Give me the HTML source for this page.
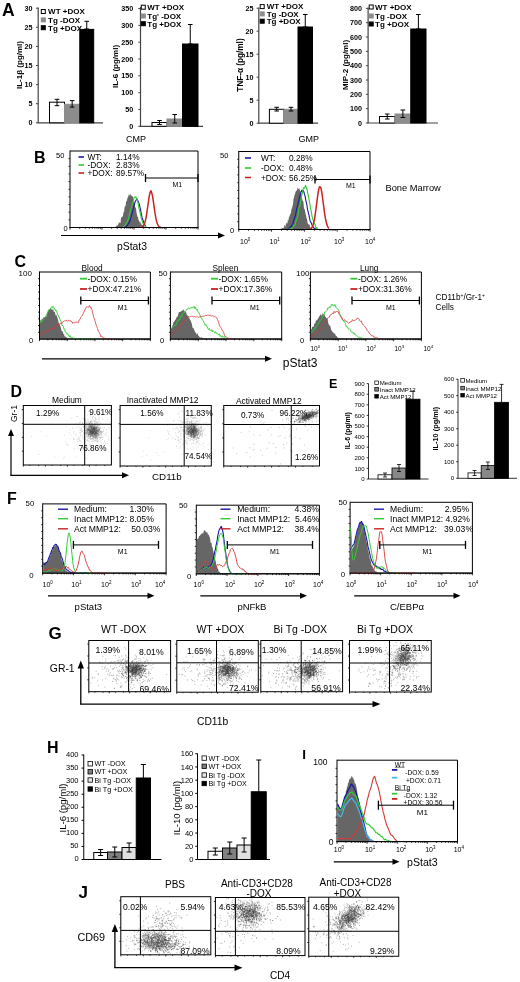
<!DOCTYPE html>
<html><head><meta charset="utf-8"><style>
html,body{margin:0;padding:0;background:#fff;width:520px;height:982px;overflow:hidden}
svg{display:block;font-family:"Liberation Sans", sans-serif;filter:blur(0.3px)}
</style></head><body>
<svg width="520" height="982" viewBox="0 0 520 982">
<text x="2" y="15.5" font-size="17.5" font-weight="bold">A</text>
<line x1="38.2" y1="122.8" x2="38.2" y2="7.5" stroke="#444" stroke-width="1.2"/>
<line x1="37.6" y1="122.8" x2="103" y2="122.8" stroke="#444" stroke-width="1.2"/>
<line x1="36" y1="122.8" x2="38.2" y2="122.8" stroke="#444" stroke-width="1"/>
<text x="32.6" y="125.39" font-size="7.2" text-anchor="end" font-weight="bold">0</text>
<line x1="36" y1="103.7" x2="38.2" y2="103.7" stroke="#444" stroke-width="1"/>
<text x="32.6" y="106.29" font-size="7.2" text-anchor="end" font-weight="bold">5</text>
<line x1="36" y1="84.6" x2="38.2" y2="84.6" stroke="#444" stroke-width="1"/>
<text x="32.6" y="87.19" font-size="7.2" text-anchor="end" font-weight="bold">10</text>
<line x1="36" y1="65.5" x2="38.2" y2="65.5" stroke="#444" stroke-width="1"/>
<text x="32.6" y="68.09" font-size="7.2" text-anchor="end" font-weight="bold">15</text>
<line x1="36" y1="46.4" x2="38.2" y2="46.4" stroke="#444" stroke-width="1"/>
<text x="32.6" y="48.99" font-size="7.2" text-anchor="end" font-weight="bold">20</text>
<line x1="36" y1="27.3" x2="38.2" y2="27.3" stroke="#444" stroke-width="1"/>
<text x="32.6" y="29.89" font-size="7.2" text-anchor="end" font-weight="bold">25</text>
<line x1="36" y1="8.2" x2="38.2" y2="8.2" stroke="#444" stroke-width="1"/>
<text x="32.6" y="10.79" font-size="7.2" text-anchor="end" font-weight="bold">30</text>
<rect x="49.5" y="102.2" width="15" height="20.6" fill="#fff" stroke="#000" stroke-width="1"/>
<line x1="57" y1="105.7" x2="57" y2="99.3" stroke="#000" stroke-width="1"/>
<line x1="54.7" y1="99.3" x2="59.3" y2="99.3" stroke="#000" stroke-width="1"/>
<line x1="54.7" y1="105.7" x2="59.3" y2="105.7" stroke="#000" stroke-width="1"/>
<rect x="64.5" y="104.3" width="15.3" height="18.5" fill="#8c8c8c" stroke="#8c8c8c" stroke-width="1"/>
<line x1="72.15" y1="107.1" x2="72.15" y2="100.6" stroke="#000" stroke-width="1"/>
<line x1="69.85" y1="100.6" x2="74.45" y2="100.6" stroke="#000" stroke-width="1"/>
<line x1="69.85" y1="107.1" x2="74.45" y2="107.1" stroke="#000" stroke-width="1"/>
<rect x="79.8" y="29.4" width="13.9" height="93.4" fill="#000" stroke="#000" stroke-width="1"/>
<line x1="86.75" y1="29" x2="86.75" y2="21.3" stroke="#000" stroke-width="1"/>
<line x1="84.45" y1="21.3" x2="89.05" y2="21.3" stroke="#000" stroke-width="1"/>
<line x1="84.45" y1="29" x2="89.05" y2="29" stroke="#000" stroke-width="1"/>
<rect x="41.3" y="9.5" width="4" height="4" fill="#fff" stroke="#000" stroke-width="1"/>
<text x="48.1" y="14.38" font-size="8" font-weight="bold">WT +DOX</text>
<rect x="41.3" y="17.9" width="4" height="4" fill="#8c8c8c" stroke="#8c8c8c" stroke-width="1"/>
<text x="48.1" y="22.78" font-size="8" font-weight="bold">Tg -DOX</text>
<rect x="41.3" y="25.7" width="4" height="4" fill="#000" stroke="#000" stroke-width="1"/>
<text x="48.1" y="30.58" font-size="8" font-weight="bold">Tg +DOX</text>
<text x="22" y="65" font-size="8" text-anchor="middle" font-weight="bold" transform="rotate(-90 22 65)">IL-1&#946;  (pg/ml)</text>
<line x1="140.5" y1="126.3" x2="140.5" y2="7" stroke="#444" stroke-width="1.2"/>
<line x1="139.9" y1="126.3" x2="203" y2="126.3" stroke="#444" stroke-width="1.2"/>
<line x1="138.3" y1="126.3" x2="140.5" y2="126.3" stroke="#444" stroke-width="1"/>
<text x="133.3" y="128.89" font-size="7.2" text-anchor="end" font-weight="bold">0</text>
<line x1="138.3" y1="109.48" x2="140.5" y2="109.48" stroke="#444" stroke-width="1"/>
<text x="133.3" y="112.07" font-size="7.2" text-anchor="end" font-weight="bold">50</text>
<line x1="138.3" y1="92.66" x2="140.5" y2="92.66" stroke="#444" stroke-width="1"/>
<text x="133.3" y="95.25" font-size="7.2" text-anchor="end" font-weight="bold">100</text>
<line x1="138.3" y1="75.84" x2="140.5" y2="75.84" stroke="#444" stroke-width="1"/>
<text x="133.3" y="78.43" font-size="7.2" text-anchor="end" font-weight="bold">150</text>
<line x1="138.3" y1="59.02" x2="140.5" y2="59.02" stroke="#444" stroke-width="1"/>
<text x="133.3" y="61.61" font-size="7.2" text-anchor="end" font-weight="bold">200</text>
<line x1="138.3" y1="42.2" x2="140.5" y2="42.2" stroke="#444" stroke-width="1"/>
<text x="133.3" y="44.79" font-size="7.2" text-anchor="end" font-weight="bold">250</text>
<line x1="138.3" y1="25.38" x2="140.5" y2="25.38" stroke="#444" stroke-width="1"/>
<text x="133.3" y="27.97" font-size="7.2" text-anchor="end" font-weight="bold">300</text>
<line x1="138.3" y1="8.56" x2="140.5" y2="8.56" stroke="#444" stroke-width="1"/>
<text x="133.3" y="11.15" font-size="7.2" text-anchor="end" font-weight="bold">350</text>
<rect x="152" y="122.5" width="15" height="3.8" fill="#fff" stroke="#000" stroke-width="1"/>
<line x1="159.5" y1="124.5" x2="159.5" y2="120.5" stroke="#000" stroke-width="1"/>
<line x1="157.2" y1="120.5" x2="161.8" y2="120.5" stroke="#000" stroke-width="1"/>
<line x1="157.2" y1="124.5" x2="161.8" y2="124.5" stroke="#000" stroke-width="1"/>
<rect x="167" y="119" width="15.5" height="7.3" fill="#8c8c8c" stroke="#8c8c8c" stroke-width="1"/>
<line x1="174.75" y1="123" x2="174.75" y2="114.5" stroke="#000" stroke-width="1"/>
<line x1="172.45" y1="114.5" x2="177.05" y2="114.5" stroke="#000" stroke-width="1"/>
<line x1="172.45" y1="123" x2="177.05" y2="123" stroke="#000" stroke-width="1"/>
<rect x="182.5" y="44" width="15.5" height="82.3" fill="#000" stroke="#000" stroke-width="1"/>
<line x1="190.25" y1="44" x2="190.25" y2="24.5" stroke="#000" stroke-width="1"/>
<line x1="187.95" y1="24.5" x2="192.55" y2="24.5" stroke="#000" stroke-width="1"/>
<line x1="187.95" y1="44" x2="192.55" y2="44" stroke="#000" stroke-width="1"/>
<rect x="141.3" y="5.2" width="4" height="4" fill="#fff" stroke="#000" stroke-width="1"/>
<text x="147.3" y="10.08" font-size="8" font-weight="bold">WT +DOX</text>
<rect x="141.3" y="14" width="4" height="4" fill="#8c8c8c" stroke="#8c8c8c" stroke-width="1"/>
<text x="147.3" y="18.88" font-size="8" font-weight="bold">Tg' -DOX</text>
<rect x="141.3" y="21.7" width="4" height="4" fill="#000" stroke="#000" stroke-width="1"/>
<text x="147.3" y="26.58" font-size="8" font-weight="bold">Tg +DOX</text>
<text x="118.3" y="66.5" font-size="8" text-anchor="middle" font-weight="bold" transform="rotate(-90 118.3 66.5)">IL-6 (pg/ml)</text>
<line x1="258.8" y1="123.2" x2="258.8" y2="7.5" stroke="#444" stroke-width="1.2"/>
<line x1="258.2" y1="123.2" x2="318" y2="123.2" stroke="#444" stroke-width="1.2"/>
<line x1="256.6" y1="123.2" x2="258.8" y2="123.2" stroke="#444" stroke-width="1"/>
<text x="253.5" y="125.79" font-size="7.2" text-anchor="end" font-weight="bold">0</text>
<line x1="256.6" y1="100.2" x2="258.8" y2="100.2" stroke="#444" stroke-width="1"/>
<text x="253.5" y="102.79" font-size="7.2" text-anchor="end" font-weight="bold">5</text>
<line x1="256.6" y1="77.2" x2="258.8" y2="77.2" stroke="#444" stroke-width="1"/>
<text x="253.5" y="79.79" font-size="7.2" text-anchor="end" font-weight="bold">10</text>
<line x1="256.6" y1="54.2" x2="258.8" y2="54.2" stroke="#444" stroke-width="1"/>
<text x="253.5" y="56.79" font-size="7.2" text-anchor="end" font-weight="bold">15</text>
<line x1="256.6" y1="31.2" x2="258.8" y2="31.2" stroke="#444" stroke-width="1"/>
<text x="253.5" y="33.79" font-size="7.2" text-anchor="end" font-weight="bold">20</text>
<line x1="256.6" y1="8.2" x2="258.8" y2="8.2" stroke="#444" stroke-width="1"/>
<text x="253.5" y="10.79" font-size="7.2" text-anchor="end" font-weight="bold">25</text>
<rect x="269.4" y="109.3" width="14.6" height="13.9" fill="#fff" stroke="#000" stroke-width="1"/>
<line x1="276.7" y1="111" x2="276.7" y2="107.3" stroke="#000" stroke-width="1"/>
<line x1="274.4" y1="107.3" x2="279" y2="107.3" stroke="#000" stroke-width="1"/>
<line x1="274.4" y1="111" x2="279" y2="111" stroke="#000" stroke-width="1"/>
<rect x="284" y="109.3" width="14" height="13.9" fill="#8c8c8c" stroke="#8c8c8c" stroke-width="1"/>
<line x1="291" y1="111" x2="291" y2="107.3" stroke="#000" stroke-width="1"/>
<line x1="288.7" y1="107.3" x2="293.3" y2="107.3" stroke="#000" stroke-width="1"/>
<line x1="288.7" y1="111" x2="293.3" y2="111" stroke="#000" stroke-width="1"/>
<rect x="298" y="27" width="14.5" height="96.2" fill="#000" stroke="#000" stroke-width="1"/>
<line x1="305.25" y1="27" x2="305.25" y2="14.5" stroke="#000" stroke-width="1"/>
<line x1="302.95" y1="14.5" x2="307.55" y2="14.5" stroke="#000" stroke-width="1"/>
<line x1="302.95" y1="27" x2="307.55" y2="27" stroke="#000" stroke-width="1"/>
<rect x="260.2" y="4.6" width="4" height="4" fill="#fff" stroke="#000" stroke-width="1"/>
<text x="266.7" y="9.48" font-size="8" font-weight="bold">WT +DOX</text>
<rect x="260.2" y="11.9" width="4" height="4" fill="#8c8c8c" stroke="#8c8c8c" stroke-width="1"/>
<text x="266.7" y="16.78" font-size="8" font-weight="bold">Tg -DOX</text>
<rect x="260.2" y="19.2" width="4" height="4" fill="#000" stroke="#000" stroke-width="1"/>
<text x="266.7" y="24.08" font-size="8" font-weight="bold">Tg +DOX</text>
<text x="242.5" y="65" font-size="8.2" text-anchor="middle" font-weight="bold" transform="rotate(-90 242.5 65)">TNF-&#945;  (pg/ml)</text>
<line x1="368.1" y1="123" x2="368.1" y2="7.5" stroke="#444" stroke-width="1.2"/>
<line x1="367.5" y1="123" x2="438" y2="123" stroke="#444" stroke-width="1.2"/>
<line x1="365.9" y1="123" x2="368.1" y2="123" stroke="#444" stroke-width="1"/>
<text x="362.1" y="125.59" font-size="7.2" text-anchor="end" font-weight="bold">0</text>
<line x1="365.9" y1="108.67" x2="368.1" y2="108.67" stroke="#444" stroke-width="1"/>
<text x="362.1" y="111.26" font-size="7.2" text-anchor="end" font-weight="bold">100</text>
<line x1="365.9" y1="94.34" x2="368.1" y2="94.34" stroke="#444" stroke-width="1"/>
<text x="362.1" y="96.93" font-size="7.2" text-anchor="end" font-weight="bold">200</text>
<line x1="365.9" y1="80.01" x2="368.1" y2="80.01" stroke="#444" stroke-width="1"/>
<text x="362.1" y="82.6" font-size="7.2" text-anchor="end" font-weight="bold">300</text>
<line x1="365.9" y1="65.68" x2="368.1" y2="65.68" stroke="#444" stroke-width="1"/>
<text x="362.1" y="68.27" font-size="7.2" text-anchor="end" font-weight="bold">400</text>
<line x1="365.9" y1="51.35" x2="368.1" y2="51.35" stroke="#444" stroke-width="1"/>
<text x="362.1" y="53.94" font-size="7.2" text-anchor="end" font-weight="bold">500</text>
<line x1="365.9" y1="37.02" x2="368.1" y2="37.02" stroke="#444" stroke-width="1"/>
<text x="362.1" y="39.61" font-size="7.2" text-anchor="end" font-weight="bold">600</text>
<line x1="365.9" y1="22.69" x2="368.1" y2="22.69" stroke="#444" stroke-width="1"/>
<text x="362.1" y="25.28" font-size="7.2" text-anchor="end" font-weight="bold">700</text>
<line x1="365.9" y1="8.36" x2="368.1" y2="8.36" stroke="#444" stroke-width="1"/>
<text x="362.1" y="10.95" font-size="7.2" text-anchor="end" font-weight="bold">800</text>
<rect x="379.5" y="116.5" width="15.5" height="6.5" fill="#fff" stroke="#000" stroke-width="1"/>
<line x1="387.25" y1="119" x2="387.25" y2="114" stroke="#000" stroke-width="1"/>
<line x1="384.95" y1="114" x2="389.55" y2="114" stroke="#000" stroke-width="1"/>
<line x1="384.95" y1="119" x2="389.55" y2="119" stroke="#000" stroke-width="1"/>
<rect x="395" y="114" width="15.75" height="9" fill="#8c8c8c" stroke="#8c8c8c" stroke-width="1"/>
<line x1="402.88" y1="117.5" x2="402.88" y2="110" stroke="#000" stroke-width="1"/>
<line x1="400.57" y1="110" x2="405.18" y2="110" stroke="#000" stroke-width="1"/>
<line x1="400.57" y1="117.5" x2="405.18" y2="117.5" stroke="#000" stroke-width="1"/>
<rect x="410.75" y="29" width="15.25" height="94" fill="#000" stroke="#000" stroke-width="1"/>
<line x1="418.38" y1="29" x2="418.38" y2="14.5" stroke="#000" stroke-width="1"/>
<line x1="416.07" y1="14.5" x2="420.68" y2="14.5" stroke="#000" stroke-width="1"/>
<line x1="416.07" y1="29" x2="420.68" y2="29" stroke="#000" stroke-width="1"/>
<rect x="369.2" y="5" width="4" height="4" fill="#fff" stroke="#000" stroke-width="1"/>
<text x="375" y="9.88" font-size="8" font-weight="bold">WT +DOX</text>
<rect x="369.2" y="14" width="4" height="4" fill="#8c8c8c" stroke="#8c8c8c" stroke-width="1"/>
<text x="375" y="18.88" font-size="8" font-weight="bold">Tg -DOX</text>
<rect x="369.2" y="22" width="4" height="4" fill="#000" stroke="#000" stroke-width="1"/>
<text x="375" y="26.88" font-size="8" font-weight="bold">Tg +DOX</text>
<text x="348" y="65" font-size="8" text-anchor="middle" font-weight="bold" transform="rotate(-90 348 65)">MIP-2 (pg/ml)</text>
<text x="126" y="142" font-size="9">CMP</text>
<text x="298.5" y="142" font-size="9">GMP</text>
<text x="34" y="163" font-size="16" font-weight="bold">B</text>
<line x1="70" y1="151" x2="198" y2="151" stroke="#000" stroke-width="1"/>
<line x1="198" y1="151" x2="198" y2="227.5" stroke="#000" stroke-width="1"/>
<line x1="70" y1="150.5" x2="70" y2="228" stroke="#000" stroke-width="1"/>
<line x1="69.5" y1="227.5" x2="198.5" y2="227.5" stroke="#000" stroke-width="1"/>
<line x1="68.5" y1="219.85" x2="70" y2="219.85" stroke="#000" stroke-width="0.8"/>
<line x1="68.5" y1="212.2" x2="70" y2="212.2" stroke="#000" stroke-width="0.8"/>
<line x1="68.5" y1="204.55" x2="70" y2="204.55" stroke="#000" stroke-width="0.8"/>
<line x1="68.5" y1="196.9" x2="70" y2="196.9" stroke="#000" stroke-width="0.8"/>
<line x1="68.5" y1="189.25" x2="70" y2="189.25" stroke="#000" stroke-width="0.8"/>
<line x1="68.5" y1="181.6" x2="70" y2="181.6" stroke="#000" stroke-width="0.8"/>
<line x1="68.5" y1="173.95" x2="70" y2="173.95" stroke="#000" stroke-width="0.8"/>
<line x1="68.5" y1="166.3" x2="70" y2="166.3" stroke="#000" stroke-width="0.8"/>
<line x1="68.5" y1="158.65" x2="70" y2="158.65" stroke="#000" stroke-width="0.8"/>
<line x1="70" y1="227.5" x2="70" y2="229.7" stroke="#000" stroke-width="0.8"/>
<line x1="79.63" y1="227.5" x2="79.63" y2="228.8" stroke="#000" stroke-width="0.8"/>
<line x1="85.27" y1="227.5" x2="85.27" y2="228.8" stroke="#000" stroke-width="0.8"/>
<line x1="89.27" y1="227.5" x2="89.27" y2="228.8" stroke="#000" stroke-width="0.8"/>
<line x1="92.37" y1="227.5" x2="92.37" y2="228.8" stroke="#000" stroke-width="0.8"/>
<line x1="94.9" y1="227.5" x2="94.9" y2="228.8" stroke="#000" stroke-width="0.8"/>
<line x1="97.04" y1="227.5" x2="97.04" y2="228.8" stroke="#000" stroke-width="0.8"/>
<line x1="98.9" y1="227.5" x2="98.9" y2="228.8" stroke="#000" stroke-width="0.8"/>
<line x1="100.54" y1="227.5" x2="100.54" y2="228.8" stroke="#000" stroke-width="0.8"/>
<line x1="102" y1="227.5" x2="102" y2="229.7" stroke="#000" stroke-width="0.8"/>
<line x1="111.63" y1="227.5" x2="111.63" y2="228.8" stroke="#000" stroke-width="0.8"/>
<line x1="117.27" y1="227.5" x2="117.27" y2="228.8" stroke="#000" stroke-width="0.8"/>
<line x1="121.27" y1="227.5" x2="121.27" y2="228.8" stroke="#000" stroke-width="0.8"/>
<line x1="124.37" y1="227.5" x2="124.37" y2="228.8" stroke="#000" stroke-width="0.8"/>
<line x1="126.9" y1="227.5" x2="126.9" y2="228.8" stroke="#000" stroke-width="0.8"/>
<line x1="129.04" y1="227.5" x2="129.04" y2="228.8" stroke="#000" stroke-width="0.8"/>
<line x1="130.9" y1="227.5" x2="130.9" y2="228.8" stroke="#000" stroke-width="0.8"/>
<line x1="132.54" y1="227.5" x2="132.54" y2="228.8" stroke="#000" stroke-width="0.8"/>
<line x1="134" y1="227.5" x2="134" y2="229.7" stroke="#000" stroke-width="0.8"/>
<line x1="143.63" y1="227.5" x2="143.63" y2="228.8" stroke="#000" stroke-width="0.8"/>
<line x1="149.27" y1="227.5" x2="149.27" y2="228.8" stroke="#000" stroke-width="0.8"/>
<line x1="153.27" y1="227.5" x2="153.27" y2="228.8" stroke="#000" stroke-width="0.8"/>
<line x1="156.37" y1="227.5" x2="156.37" y2="228.8" stroke="#000" stroke-width="0.8"/>
<line x1="158.9" y1="227.5" x2="158.9" y2="228.8" stroke="#000" stroke-width="0.8"/>
<line x1="161.04" y1="227.5" x2="161.04" y2="228.8" stroke="#000" stroke-width="0.8"/>
<line x1="162.9" y1="227.5" x2="162.9" y2="228.8" stroke="#000" stroke-width="0.8"/>
<line x1="164.54" y1="227.5" x2="164.54" y2="228.8" stroke="#000" stroke-width="0.8"/>
<line x1="166" y1="227.5" x2="166" y2="229.7" stroke="#000" stroke-width="0.8"/>
<line x1="175.63" y1="227.5" x2="175.63" y2="228.8" stroke="#000" stroke-width="0.8"/>
<line x1="181.27" y1="227.5" x2="181.27" y2="228.8" stroke="#000" stroke-width="0.8"/>
<line x1="185.27" y1="227.5" x2="185.27" y2="228.8" stroke="#000" stroke-width="0.8"/>
<line x1="188.37" y1="227.5" x2="188.37" y2="228.8" stroke="#000" stroke-width="0.8"/>
<line x1="190.9" y1="227.5" x2="190.9" y2="228.8" stroke="#000" stroke-width="0.8"/>
<line x1="193.04" y1="227.5" x2="193.04" y2="228.8" stroke="#000" stroke-width="0.8"/>
<line x1="194.9" y1="227.5" x2="194.9" y2="228.8" stroke="#000" stroke-width="0.8"/>
<line x1="196.54" y1="227.5" x2="196.54" y2="228.8" stroke="#000" stroke-width="0.8"/>
<line x1="198" y1="227.5" x2="198" y2="229.7" stroke="#000" stroke-width="0.8"/>
<text x="56" y="157.5" font-size="7.5">50</text>
<text x="63.5" y="230.5" font-size="7.5">0</text>
<path d="M114 226.98 114.5 227.31 115 227.07 115.5 227 116 226.37 116.5 225.95 117 224.91 117.5 225.96 118 224.4 118.5 224.24 119 221.8 119.5 222.73 120 222.93 120.5 223.09 121 218.22 121.5 217.01 122 217.35 122.5 216.59 123 215.78 123.5 211.45 124 213.03 124.5 207.86 125 205.57 125.5 206.81 126 202.35 126.5 200.85 127 200.72 127.5 197.42 128 197.61 128.5 195.24 129 194.31 129.5 195.77 130 194.28 130.5 194.06 131 196.15 131.5 195.12 132 196.53 132.5 196 133 197.55 133.5 201.48 134 202.44 134.5 201.85 135 206.97 135.5 207.39 136 207.96 136.5 212.87 137 214.85 137.5 217.04 138 216.75 138.5 220.21 139 220.48 139.5 221.45 140 223.08 140.5 221.51 141 225.08 141.5 223.34 142 226.27 142.5 224.5 143 225.57 143.5 226.31 144 226.5 144.5 227.16 145 226.96 145.5 227.28 146 227.23 L146 227.5 L114 227.5Z" fill="#666666" stroke="none" stroke-width="1"/>
<path d="M124 227.27 124.5 227.18 125 226.98 125.5 226.87 126 226.65 126.5 226.26 127 226.01 127.5 225.4 128 224.23 128.5 223.66 129 223.12 129.5 222.03 130 220.48 130.5 219.21 131 217.12 131.5 215.14 132 214.05 132.5 211.54 133 209.87 133.5 208.08 134 205.95 134.5 204.44 135 202.07 135.5 201.03 136 200.43 136.5 199.13 137 198.98 137.5 200.34 138 200.84 138.5 202.27 139 203.51 139.5 205.05 140 207.4 140.5 209.67 141 212.22 141.5 214.42 142 217.42 142.5 218.66 143 220.22 143.5 221.7 144 223.56 144.5 224.46 145 224.97 145.5 225.8 146 226.49" fill="none" stroke="#1a1aa8" stroke-width="1.1" stroke-linejoin="round"/>
<path d="M123 226.59 123.5 226.71 124 226.46 124.5 225.73 125 225.57 125.5 224.02 126 223.22 126.5 223.09 127 222.27 127.5 220.2 128 220 128.5 218.33 129 216.88 129.5 214.38 130 211.89 130.5 211.12 131 208.17 131.5 207.24 132 205.01 132.5 203.22 133 201.94 133.5 200.17 134 197.81 134.5 197.03 135 196.81 135.5 197.78 136 197.1 136.5 198.05 137 199.53 137.5 200.55 138 202.78 138.5 205.96 139 208.18 139.5 210.13 140 212.84 140.5 213.89 141 216.88 141.5 219.46 142 220.19 142.5 222.22 143 223.41 143.5 224.24 144 225.23 144.5 225.94 145 226.04 145.5 226.31 146 226.84" fill="none" stroke="#33cc33" stroke-width="1.1" stroke-linejoin="round"/>
<path d="M141 227.34 141.5 227.23 142 227.05 142.5 226.75 143 226.38 143.5 225.61 144 225.06 144.5 223.69 145 222.2 145.5 220.05 146 217.85 146.5 214.9 147 211.58 147.5 208 148 204.68 148.5 201.26 149 197.54 149.5 195.04 150 192.64 150.5 191.5 151 190.78 151.5 191.93 152 193.67 152.5 196.13 153 199 153.5 202.45 154 206.15 154.5 209.53 155 213.21 155.5 215.94 156 218.7 156.5 221.04 157 222.81 157.5 224.13 158 225.11 158.5 225.98 159 226.58 159.5 226.96 160 227.16 160.5 227.28 161 227.37" fill="none" stroke="#cc2222" stroke-width="1.5" stroke-linejoin="round"/>
<line x1="70" y1="227.5" x2="198" y2="227.5" stroke="#000" stroke-width="1"/>
<line x1="78.5" y1="157" x2="84" y2="157" stroke="#1a1aa8" stroke-width="1.6"/>
<text x="87.5" y="160" font-size="8.3">WT:</text>
<text x="116" y="160" font-size="8.3">1.14%</text>
<line x1="78.5" y1="165" x2="84" y2="165" stroke="#33cc33" stroke-width="1.6"/>
<text x="87.5" y="168" font-size="8.3">-DOX:</text>
<text x="116" y="168" font-size="8.3">2.83%</text>
<line x1="78.5" y1="173" x2="84" y2="173" stroke="#cc2222" stroke-width="1.6"/>
<text x="87.5" y="176" font-size="8.3">+DOX:</text>
<text x="116" y="176" font-size="8.3">89.57%</text>
<line x1="145.5" y1="178" x2="198" y2="178" stroke="#000" stroke-width="1"/>
<line x1="145.5" y1="174" x2="145.5" y2="182" stroke="#000" stroke-width="1.3"/>
<line x1="198" y1="174" x2="198" y2="182" stroke="#000" stroke-width="1.3"/>
<text x="172.5" y="187" font-size="7">M1</text>
<line x1="61" y1="235.5" x2="219" y2="235.5" stroke="#000" stroke-width="1.2"/>
<path d="M225 235.5L218 232.5L218 238.5Z" fill="#000" stroke="none" stroke-width="1"/>
<text x="117" y="249.5" font-size="10.4">pStat3</text>
<line x1="238.75" y1="151.5" x2="370" y2="151.5" stroke="#000" stroke-width="1"/>
<line x1="370" y1="151.5" x2="370" y2="229.5" stroke="#000" stroke-width="1"/>
<line x1="238.75" y1="151" x2="238.75" y2="230" stroke="#000" stroke-width="1"/>
<line x1="238.25" y1="229.5" x2="370.5" y2="229.5" stroke="#000" stroke-width="1"/>
<line x1="237.25" y1="221.7" x2="238.75" y2="221.7" stroke="#000" stroke-width="0.8"/>
<line x1="237.25" y1="213.9" x2="238.75" y2="213.9" stroke="#000" stroke-width="0.8"/>
<line x1="237.25" y1="206.1" x2="238.75" y2="206.1" stroke="#000" stroke-width="0.8"/>
<line x1="237.25" y1="198.3" x2="238.75" y2="198.3" stroke="#000" stroke-width="0.8"/>
<line x1="237.25" y1="190.5" x2="238.75" y2="190.5" stroke="#000" stroke-width="0.8"/>
<line x1="237.25" y1="182.7" x2="238.75" y2="182.7" stroke="#000" stroke-width="0.8"/>
<line x1="237.25" y1="174.9" x2="238.75" y2="174.9" stroke="#000" stroke-width="0.8"/>
<line x1="237.25" y1="167.1" x2="238.75" y2="167.1" stroke="#000" stroke-width="0.8"/>
<line x1="237.25" y1="159.3" x2="238.75" y2="159.3" stroke="#000" stroke-width="0.8"/>
<line x1="238.75" y1="229.5" x2="238.75" y2="231.7" stroke="#000" stroke-width="0.8"/>
<line x1="248.63" y1="229.5" x2="248.63" y2="230.8" stroke="#000" stroke-width="0.8"/>
<line x1="254.41" y1="229.5" x2="254.41" y2="230.8" stroke="#000" stroke-width="0.8"/>
<line x1="258.51" y1="229.5" x2="258.51" y2="230.8" stroke="#000" stroke-width="0.8"/>
<line x1="261.68" y1="229.5" x2="261.68" y2="230.8" stroke="#000" stroke-width="0.8"/>
<line x1="264.28" y1="229.5" x2="264.28" y2="230.8" stroke="#000" stroke-width="0.8"/>
<line x1="266.48" y1="229.5" x2="266.48" y2="230.8" stroke="#000" stroke-width="0.8"/>
<line x1="268.38" y1="229.5" x2="268.38" y2="230.8" stroke="#000" stroke-width="0.8"/>
<line x1="270.06" y1="229.5" x2="270.06" y2="230.8" stroke="#000" stroke-width="0.8"/>
<line x1="271.56" y1="229.5" x2="271.56" y2="231.7" stroke="#000" stroke-width="0.8"/>
<line x1="281.44" y1="229.5" x2="281.44" y2="230.8" stroke="#000" stroke-width="0.8"/>
<line x1="287.22" y1="229.5" x2="287.22" y2="230.8" stroke="#000" stroke-width="0.8"/>
<line x1="291.32" y1="229.5" x2="291.32" y2="230.8" stroke="#000" stroke-width="0.8"/>
<line x1="294.5" y1="229.5" x2="294.5" y2="230.8" stroke="#000" stroke-width="0.8"/>
<line x1="297.1" y1="229.5" x2="297.1" y2="230.8" stroke="#000" stroke-width="0.8"/>
<line x1="299.29" y1="229.5" x2="299.29" y2="230.8" stroke="#000" stroke-width="0.8"/>
<line x1="301.2" y1="229.5" x2="301.2" y2="230.8" stroke="#000" stroke-width="0.8"/>
<line x1="302.87" y1="229.5" x2="302.87" y2="230.8" stroke="#000" stroke-width="0.8"/>
<line x1="304.38" y1="229.5" x2="304.38" y2="231.7" stroke="#000" stroke-width="0.8"/>
<line x1="314.25" y1="229.5" x2="314.25" y2="230.8" stroke="#000" stroke-width="0.8"/>
<line x1="320.03" y1="229.5" x2="320.03" y2="230.8" stroke="#000" stroke-width="0.8"/>
<line x1="324.13" y1="229.5" x2="324.13" y2="230.8" stroke="#000" stroke-width="0.8"/>
<line x1="327.31" y1="229.5" x2="327.31" y2="230.8" stroke="#000" stroke-width="0.8"/>
<line x1="329.91" y1="229.5" x2="329.91" y2="230.8" stroke="#000" stroke-width="0.8"/>
<line x1="332.1" y1="229.5" x2="332.1" y2="230.8" stroke="#000" stroke-width="0.8"/>
<line x1="334.01" y1="229.5" x2="334.01" y2="230.8" stroke="#000" stroke-width="0.8"/>
<line x1="335.69" y1="229.5" x2="335.69" y2="230.8" stroke="#000" stroke-width="0.8"/>
<line x1="337.19" y1="229.5" x2="337.19" y2="231.7" stroke="#000" stroke-width="0.8"/>
<line x1="347.07" y1="229.5" x2="347.07" y2="230.8" stroke="#000" stroke-width="0.8"/>
<line x1="352.84" y1="229.5" x2="352.84" y2="230.8" stroke="#000" stroke-width="0.8"/>
<line x1="356.94" y1="229.5" x2="356.94" y2="230.8" stroke="#000" stroke-width="0.8"/>
<line x1="360.12" y1="229.5" x2="360.12" y2="230.8" stroke="#000" stroke-width="0.8"/>
<line x1="362.72" y1="229.5" x2="362.72" y2="230.8" stroke="#000" stroke-width="0.8"/>
<line x1="364.92" y1="229.5" x2="364.92" y2="230.8" stroke="#000" stroke-width="0.8"/>
<line x1="366.82" y1="229.5" x2="366.82" y2="230.8" stroke="#000" stroke-width="0.8"/>
<line x1="368.5" y1="229.5" x2="368.5" y2="230.8" stroke="#000" stroke-width="0.8"/>
<line x1="370" y1="229.5" x2="370" y2="231.7" stroke="#000" stroke-width="0.8"/>
<text x="220" y="158" font-size="7.5">50</text>
<text x="230" y="232.5" font-size="7.5">0</text>
<path d="M280 229.38 280.5 228.81 281 229.27 281.5 228.54 282 228.1 282.5 228.38 283 227.55 283.5 228.32 284 227.53 284.5 225.08 285 225.05 285.5 227.25 286 223.4 286.5 222.37 287 224.32 287.5 222.62 288 219.24 288.5 221.1 289 215.85 289.5 217.43 290 214.37 290.5 214.04 291 212.67 291.5 208.79 292 208.46 292.5 206.04 293 204.53 293.5 198.94 294 197.84 294.5 194.8 295 194.47 295.5 191.91 296 191.1 296.5 190.46 297 190.39 297.5 187.6 298 188.7 298.5 189.25 299 188.23 299.5 188.87 300 190.9 300.5 191.35 301 193.79 301.5 194.58 302 197.69 302.5 200.89 303 200.22 303.5 202.73 304 209 304.5 208.52 305 210.77 305.5 213.41 306 215.4 306.5 218.11 307 219.23 307.5 222.33 308 224.5 308.5 223.96 309 224.86 309.5 224.22 310 226.8 310.5 228.13 311 227.18 311.5 227.37 312 228.21 312.5 228.94 313 229.25 L313 229.5 L280 229.5Z" fill="#666666" stroke="none" stroke-width="1"/>
<path d="M288 228.95 288.5 228.9 289 228.47 289.5 227.93 290 227.72 290.5 227.05 291 226.36 291.5 226.48 292 225.05 292.5 224.17 293 223.21 293.5 221.19 294 219.68 294.5 218.01 295 216.47 295.5 215.41 296 212.4 296.5 209.92 297 207.58 297.5 205.8 298 203.83 298.5 201.05 299 199.73 299.5 197.33 300 195.63 300.5 193.16 301 192.22 301.5 190.55 302 190.2 302.5 191.22 303 190.57 303.5 191.02 304 192.3 304.5 194.42 305 195.92 305.5 198.41 306 201.37 306.5 203 307 205.5 307.5 209.26 308 211.17 308.5 213.72 309 215 309.5 218.16 310 220.46 310.5 221.92 311 222.46 311.5 223.57 312 224.98 312.5 226.01 313 226.77 313.5 227.24 314 228.35 314.5 228.21 315 228.88 315.5 228.8 316 229.06" fill="none" stroke="#1a1aa8" stroke-width="1.1" stroke-linejoin="round"/>
<path d="M288 229.33 288.5 229.27 289 229.22 289.5 229.26 290 228.9 290.5 228.45 291 228.55 291.5 228.25 292 227.85 292.5 227.9 293 227.22 293.5 225.65 294 226.03 294.5 225.16 295 224.78 295.5 222.83 296 220.51 296.5 220 297 218.13 297.5 217.02 298 214.77 298.5 210.58 299 207.89 299.5 207.25 300 205.03 300.5 202.88 301 198.83 301.5 197.38 302 192.86 302.5 193.62 303 189.71 303.5 187.72 304 188.51 304.5 187.65 305 187.19 305.5 185.3 306 186.35 306.5 188.78 307 188.75 307.5 192.1 308 194.49 308.5 196.03 309 199.2 309.5 202.27 310 204.44 310.5 208.8 311 210.14 311.5 213.01 312 216.1 312.5 217.57 313 220.08 313.5 220.42 314 221.99 314.5 224.06 315 224.1 315.5 226.41 316 228.15 316.5 227.59 317 228.33 317.5 228.13 318 228.7" fill="none" stroke="#33cc33" stroke-width="1.1" stroke-linejoin="round"/>
<path d="M309 229.33 309.5 229.23 310 229.04 310.5 228.8 311 228.38 311.5 227.93 312 227.42 312.5 226.45 313 225.23 313.5 223.16 314 221.11 314.5 218.97 315 215.76 315.5 212.48 316 208.84 316.5 204.86 317 201 317.5 197.16 318 193.51 318.5 190.51 319 188.15 319.5 186.76 320 186.76 320.5 187.11 321 188.3 321.5 191.01 322 193.88 322.5 197.33 323 201.32 323.5 205.02 324 208.6 324.5 212.63 325 215.85 325.5 218.98 326 221.19 326.5 223.35 327 224.92 327.5 226.06 328 227.1 328.5 227.9 329 228.52" fill="none" stroke="#cc2222" stroke-width="1.5" stroke-linejoin="round"/>
<line x1="238.75" y1="229.5" x2="370" y2="229.5" stroke="#000" stroke-width="1"/>
<line x1="245" y1="158" x2="251" y2="158" stroke="#1a1aa8" stroke-width="1.6"/>
<text x="261" y="161" font-size="8.3">WT:</text>
<text x="289" y="161" font-size="8.3">0.28%</text>
<line x1="245" y1="168" x2="251" y2="168" stroke="#33cc33" stroke-width="1.6"/>
<text x="261" y="171" font-size="8.3">-DOX:</text>
<text x="289" y="171" font-size="8.3">0.48%</text>
<line x1="245" y1="177.5" x2="251" y2="177.5" stroke="#cc2222" stroke-width="1.6"/>
<text x="261" y="180.5" font-size="8.3">+DOX:</text>
<text x="289" y="180.5" font-size="8.3">56.25%</text>
<line x1="315" y1="179.5" x2="370" y2="179.5" stroke="#000" stroke-width="1"/>
<line x1="315" y1="175.5" x2="315" y2="183.5" stroke="#000" stroke-width="1.3"/>
<line x1="370" y1="175.5" x2="370" y2="183.5" stroke="#000" stroke-width="1.3"/>
<text x="346" y="188" font-size="7">M1</text>
<text x="240" y="243.5" font-size="7">10<tspan font-size="4.5" dy="-3">0</tspan></text>
<text x="269.5" y="243.5" font-size="7">10<tspan font-size="4.5" dy="-3">1</tspan></text>
<text x="300.5" y="243.5" font-size="7">10<tspan font-size="4.5" dy="-3">2</tspan></text>
<text x="334" y="243.5" font-size="7">10<tspan font-size="4.5" dy="-3">3</tspan></text>
<text x="365" y="243.5" font-size="7">10<tspan font-size="4.5" dy="-3">4</tspan></text>
<text x="385.5" y="191.3" font-size="9.3">Bone Marrow</text>
<text x="14.5" y="267" font-size="16" font-weight="bold">C</text>
<line x1="39.5" y1="272" x2="150.4" y2="272" stroke="#000" stroke-width="1"/>
<line x1="150.4" y1="272" x2="150.4" y2="339" stroke="#000" stroke-width="1"/>
<line x1="39.5" y1="271.5" x2="39.5" y2="339.5" stroke="#000" stroke-width="1"/>
<line x1="39" y1="339" x2="150.9" y2="339" stroke="#000" stroke-width="1"/>
<line x1="38" y1="332.3" x2="39.5" y2="332.3" stroke="#000" stroke-width="0.8"/>
<line x1="38" y1="325.6" x2="39.5" y2="325.6" stroke="#000" stroke-width="0.8"/>
<line x1="38" y1="318.9" x2="39.5" y2="318.9" stroke="#000" stroke-width="0.8"/>
<line x1="38" y1="312.2" x2="39.5" y2="312.2" stroke="#000" stroke-width="0.8"/>
<line x1="38" y1="305.5" x2="39.5" y2="305.5" stroke="#000" stroke-width="0.8"/>
<line x1="38" y1="298.8" x2="39.5" y2="298.8" stroke="#000" stroke-width="0.8"/>
<line x1="38" y1="292.1" x2="39.5" y2="292.1" stroke="#000" stroke-width="0.8"/>
<line x1="38" y1="285.4" x2="39.5" y2="285.4" stroke="#000" stroke-width="0.8"/>
<line x1="38" y1="278.7" x2="39.5" y2="278.7" stroke="#000" stroke-width="0.8"/>
<line x1="39.5" y1="339" x2="39.5" y2="341.2" stroke="#000" stroke-width="0.8"/>
<line x1="47.85" y1="339" x2="47.85" y2="340.3" stroke="#000" stroke-width="0.8"/>
<line x1="52.73" y1="339" x2="52.73" y2="340.3" stroke="#000" stroke-width="0.8"/>
<line x1="56.19" y1="339" x2="56.19" y2="340.3" stroke="#000" stroke-width="0.8"/>
<line x1="58.88" y1="339" x2="58.88" y2="340.3" stroke="#000" stroke-width="0.8"/>
<line x1="61.07" y1="339" x2="61.07" y2="340.3" stroke="#000" stroke-width="0.8"/>
<line x1="62.93" y1="339" x2="62.93" y2="340.3" stroke="#000" stroke-width="0.8"/>
<line x1="64.54" y1="339" x2="64.54" y2="340.3" stroke="#000" stroke-width="0.8"/>
<line x1="65.96" y1="339" x2="65.96" y2="340.3" stroke="#000" stroke-width="0.8"/>
<line x1="67.22" y1="339" x2="67.22" y2="341.2" stroke="#000" stroke-width="0.8"/>
<line x1="75.57" y1="339" x2="75.57" y2="340.3" stroke="#000" stroke-width="0.8"/>
<line x1="80.45" y1="339" x2="80.45" y2="340.3" stroke="#000" stroke-width="0.8"/>
<line x1="83.92" y1="339" x2="83.92" y2="340.3" stroke="#000" stroke-width="0.8"/>
<line x1="86.6" y1="339" x2="86.6" y2="340.3" stroke="#000" stroke-width="0.8"/>
<line x1="88.8" y1="339" x2="88.8" y2="340.3" stroke="#000" stroke-width="0.8"/>
<line x1="90.66" y1="339" x2="90.66" y2="340.3" stroke="#000" stroke-width="0.8"/>
<line x1="92.26" y1="339" x2="92.26" y2="340.3" stroke="#000" stroke-width="0.8"/>
<line x1="93.68" y1="339" x2="93.68" y2="340.3" stroke="#000" stroke-width="0.8"/>
<line x1="94.95" y1="339" x2="94.95" y2="341.2" stroke="#000" stroke-width="0.8"/>
<line x1="103.3" y1="339" x2="103.3" y2="340.3" stroke="#000" stroke-width="0.8"/>
<line x1="108.18" y1="339" x2="108.18" y2="340.3" stroke="#000" stroke-width="0.8"/>
<line x1="111.64" y1="339" x2="111.64" y2="340.3" stroke="#000" stroke-width="0.8"/>
<line x1="114.33" y1="339" x2="114.33" y2="340.3" stroke="#000" stroke-width="0.8"/>
<line x1="116.52" y1="339" x2="116.52" y2="340.3" stroke="#000" stroke-width="0.8"/>
<line x1="118.38" y1="339" x2="118.38" y2="340.3" stroke="#000" stroke-width="0.8"/>
<line x1="119.99" y1="339" x2="119.99" y2="340.3" stroke="#000" stroke-width="0.8"/>
<line x1="121.41" y1="339" x2="121.41" y2="340.3" stroke="#000" stroke-width="0.8"/>
<line x1="122.68" y1="339" x2="122.68" y2="341.2" stroke="#000" stroke-width="0.8"/>
<line x1="131.02" y1="339" x2="131.02" y2="340.3" stroke="#000" stroke-width="0.8"/>
<line x1="135.9" y1="339" x2="135.9" y2="340.3" stroke="#000" stroke-width="0.8"/>
<line x1="139.37" y1="339" x2="139.37" y2="340.3" stroke="#000" stroke-width="0.8"/>
<line x1="142.05" y1="339" x2="142.05" y2="340.3" stroke="#000" stroke-width="0.8"/>
<line x1="144.25" y1="339" x2="144.25" y2="340.3" stroke="#000" stroke-width="0.8"/>
<line x1="146.11" y1="339" x2="146.11" y2="340.3" stroke="#000" stroke-width="0.8"/>
<line x1="147.71" y1="339" x2="147.71" y2="340.3" stroke="#000" stroke-width="0.8"/>
<line x1="149.13" y1="339" x2="149.13" y2="340.3" stroke="#000" stroke-width="0.8"/>
<line x1="150.4" y1="339" x2="150.4" y2="341.2" stroke="#000" stroke-width="0.8"/>
<text x="81.5" y="270.5" font-size="8.3">Blood</text>
<text x="18.5" y="276.2" font-size="8">100</text>
<text x="29" y="342.5" font-size="7.5">0</text>
<path d="M40 321.8 40.6 319.88 41.2 320.65 41.8 318.83 42.4 319.58 43 318.11 43.6 317.35 44.2 317.87 44.8 316.75 45.4 316.74 46 317.1 46.6 316.05 47.2 313.89 47.8 312.29 48.4 310.4 49 309.57 49.6 309.33 50.2 309.4 50.8 307.83 51.4 309.35 52 309.62 52.6 310.06 53.2 308.6 53.8 312.1 54.4 311.67 55 312.25 55.6 315.87 56.2 314.72 56.8 316.08 57.4 317.83 58 319.68 58.6 323.03 59.2 323.04 59.8 324.95 60.4 326.13 61 328.36 61.6 330.95 62.2 331.87 62.8 331 63.4 334.16 64 333.89 64.6 336.53 65.2 336.51 65.8 336.86 66.4 337.36 67 337.64 67.6 337.7 68.2 338.42 68.8 338.5 69.4 338.11 70 338.35 70.6 338.43 71.2 338.75 71.8 338.77 72.4 338.83 73 338.87 73.6 338.91 74.2 338.93 74.8 338.95 75.4 338.97 76 338.98 76.6 338.98 77.2 338.99 77.8 338.99 78.4 338.99 79 339 L79 339 L40 339Z" fill="#666666" stroke="none" stroke-width="1"/>
<path d="M40 323.54 40.6 321.67 41.2 322.02 41.8 321.01 42.4 321.69 43 320.13 43.6 318.79 44.2 318.3 44.8 317.78 45.4 316.81 46 315.89 46.6 314.28 47.2 313.23 47.8 311.94 48.4 309.97 49 310.15 49.6 309.12 50.2 308.39 50.8 308.5 51.4 307.56 52 306.65 52.6 308.13 53.2 306.43 53.8 307.34 54.4 308.89 55 308.97 55.6 311.13 56.2 310.04 56.8 311.36 57.4 314.51 58 314.6 58.6 317.08 59.2 316.89 59.8 319 60.4 319.99 61 321.41 61.6 323.68 62.2 325.77 62.8 325.2 63.4 326.62 64 329.32 64.6 329.08 65.2 331.92 65.8 331.91 66.4 333.63 67 332.99 67.6 334.27 68.2 334.21 68.8 335.96 69.4 337.03 70 335.48 70.6 337.48 71.2 337.21 71.8 337.11 72.4 337.67 73 338.24 73.6 338.44 74.2 338.34 74.8 338.31 75.4 338.51 76 338.65 76.6 338.72 77.2 338.78 77.8 338.82 78.4 338.86 79 338.89 79.6 338.92 80.2 338.94 80.8 338.95 81.4 338.96 82 338.97 82.6 338.98 83.2 338.98 83.8 338.99 84.4 338.99 85 338.99 85.6 339 86.2 339 86.8 339 87.4 339 88 339 88.6 339 89.2 339 89.8 339 90.4 339 91 339 91.6 339 92.2 339 92.8 339 93.4 339 94 339" fill="none" stroke="#33cc33" stroke-width="0.9" stroke-linejoin="round"/>
<path d="M40 334.59 40.8 334.93 41.6 332.57 42.4 333.22 43.2 333.33 44 331.83 44.8 331.92 45.6 331.53 46.4 331.8 47.2 330.34 48 331.14 48.8 329.83 49.6 330.82 50.4 329.08 51.2 329.08 52 329.6 52.8 327.61 53.6 326.75 54.4 328.24 55.2 327.82 56 325.15 56.8 326.48 57.6 326.35 58.4 323.68 59.2 324.54 60 323.58 60.8 323.04 61.6 323.93 62.4 322.16 63.2 321.57 64 321.47 64.8 320.81 65.6 320.38 66.4 320.19 67.2 321.42 68 320.46 68.8 320.2 69.6 321.17 70.4 320.46 71.2 321.82 72 321.54 72.8 323.35 73.6 322.43 74.4 322.93 75.2 322.34 76 322.34 76.8 322.08 77.6 322.38 78.4 322.62 79.2 319.9 80 319.44 80.8 317.26 81.6 316.47 82.4 315.38 83.2 313.47 84 311.99 84.8 309.98 85.6 308.44 86.4 306.96 87.2 306.87 88 307.18 88.8 306.97 89.6 305.51 90.4 307.94 91.2 307.45 92 310.17 92.8 313.49 93.6 316.82 94.4 318.95 95.2 321.38 96 324.69 96.8 326.69 97.6 328.59 98.4 331.58 99.2 332.26 100 334.14 100.8 336.84 101.6 335.85 102.4 336.83 103.2 337.95 104 337.88 104.8 338.39 105.6 338.56 106.4 338.78 107.2 338.86 108 338.92 108.8 338.95 109.6 338.97 110.4 338.98 111.2 338.99 112 338.99 112.8 339 113.6 339 114.4 339" fill="none" stroke="#d43a3a" stroke-width="0.8" stroke-linejoin="round"/>
<line x1="39.5" y1="339" x2="150.4" y2="339" stroke="#000" stroke-width="1"/>
<line x1="80" y1="278.7" x2="87" y2="278.7" stroke="#33cc33" stroke-width="1.8"/>
<text x="87.5" y="281.7" font-size="8.4">-DOX: 0.15%</text>
<line x1="80" y1="289" x2="87" y2="289" stroke="#cc2222" stroke-width="1.8"/>
<text x="87.5" y="292" font-size="8.4">+DOX:47.21%</text>
<line x1="80.8" y1="300.5" x2="148.4" y2="300.5" stroke="#000" stroke-width="1"/>
<line x1="80.8" y1="296.5" x2="80.8" y2="304.5" stroke="#000" stroke-width="1.3"/>
<line x1="148.4" y1="296.5" x2="148.4" y2="304.5" stroke="#000" stroke-width="1.3"/>
<text x="117.8" y="310" font-size="7">M1</text>
<line x1="170.4" y1="272" x2="281.7" y2="272" stroke="#000" stroke-width="1"/>
<line x1="281.7" y1="272" x2="281.7" y2="339" stroke="#000" stroke-width="1"/>
<line x1="170.4" y1="271.5" x2="170.4" y2="339.5" stroke="#000" stroke-width="1"/>
<line x1="169.9" y1="339" x2="282.2" y2="339" stroke="#000" stroke-width="1"/>
<line x1="168.9" y1="332.3" x2="170.4" y2="332.3" stroke="#000" stroke-width="0.8"/>
<line x1="168.9" y1="325.6" x2="170.4" y2="325.6" stroke="#000" stroke-width="0.8"/>
<line x1="168.9" y1="318.9" x2="170.4" y2="318.9" stroke="#000" stroke-width="0.8"/>
<line x1="168.9" y1="312.2" x2="170.4" y2="312.2" stroke="#000" stroke-width="0.8"/>
<line x1="168.9" y1="305.5" x2="170.4" y2="305.5" stroke="#000" stroke-width="0.8"/>
<line x1="168.9" y1="298.8" x2="170.4" y2="298.8" stroke="#000" stroke-width="0.8"/>
<line x1="168.9" y1="292.1" x2="170.4" y2="292.1" stroke="#000" stroke-width="0.8"/>
<line x1="168.9" y1="285.4" x2="170.4" y2="285.4" stroke="#000" stroke-width="0.8"/>
<line x1="168.9" y1="278.7" x2="170.4" y2="278.7" stroke="#000" stroke-width="0.8"/>
<line x1="170.4" y1="339" x2="170.4" y2="341.2" stroke="#000" stroke-width="0.8"/>
<line x1="178.78" y1="339" x2="178.78" y2="340.3" stroke="#000" stroke-width="0.8"/>
<line x1="183.68" y1="339" x2="183.68" y2="340.3" stroke="#000" stroke-width="0.8"/>
<line x1="187.15" y1="339" x2="187.15" y2="340.3" stroke="#000" stroke-width="0.8"/>
<line x1="189.85" y1="339" x2="189.85" y2="340.3" stroke="#000" stroke-width="0.8"/>
<line x1="192.05" y1="339" x2="192.05" y2="340.3" stroke="#000" stroke-width="0.8"/>
<line x1="193.91" y1="339" x2="193.91" y2="340.3" stroke="#000" stroke-width="0.8"/>
<line x1="195.53" y1="339" x2="195.53" y2="340.3" stroke="#000" stroke-width="0.8"/>
<line x1="196.95" y1="339" x2="196.95" y2="340.3" stroke="#000" stroke-width="0.8"/>
<line x1="198.22" y1="339" x2="198.22" y2="341.2" stroke="#000" stroke-width="0.8"/>
<line x1="206.6" y1="339" x2="206.6" y2="340.3" stroke="#000" stroke-width="0.8"/>
<line x1="211.5" y1="339" x2="211.5" y2="340.3" stroke="#000" stroke-width="0.8"/>
<line x1="214.98" y1="339" x2="214.98" y2="340.3" stroke="#000" stroke-width="0.8"/>
<line x1="217.67" y1="339" x2="217.67" y2="340.3" stroke="#000" stroke-width="0.8"/>
<line x1="219.88" y1="339" x2="219.88" y2="340.3" stroke="#000" stroke-width="0.8"/>
<line x1="221.74" y1="339" x2="221.74" y2="340.3" stroke="#000" stroke-width="0.8"/>
<line x1="223.35" y1="339" x2="223.35" y2="340.3" stroke="#000" stroke-width="0.8"/>
<line x1="224.78" y1="339" x2="224.78" y2="340.3" stroke="#000" stroke-width="0.8"/>
<line x1="226.05" y1="339" x2="226.05" y2="341.2" stroke="#000" stroke-width="0.8"/>
<line x1="234.43" y1="339" x2="234.43" y2="340.3" stroke="#000" stroke-width="0.8"/>
<line x1="239.33" y1="339" x2="239.33" y2="340.3" stroke="#000" stroke-width="0.8"/>
<line x1="242.8" y1="339" x2="242.8" y2="340.3" stroke="#000" stroke-width="0.8"/>
<line x1="245.5" y1="339" x2="245.5" y2="340.3" stroke="#000" stroke-width="0.8"/>
<line x1="247.7" y1="339" x2="247.7" y2="340.3" stroke="#000" stroke-width="0.8"/>
<line x1="249.56" y1="339" x2="249.56" y2="340.3" stroke="#000" stroke-width="0.8"/>
<line x1="251.18" y1="339" x2="251.18" y2="340.3" stroke="#000" stroke-width="0.8"/>
<line x1="252.6" y1="339" x2="252.6" y2="340.3" stroke="#000" stroke-width="0.8"/>
<line x1="253.88" y1="339" x2="253.88" y2="341.2" stroke="#000" stroke-width="0.8"/>
<line x1="262.25" y1="339" x2="262.25" y2="340.3" stroke="#000" stroke-width="0.8"/>
<line x1="267.15" y1="339" x2="267.15" y2="340.3" stroke="#000" stroke-width="0.8"/>
<line x1="270.63" y1="339" x2="270.63" y2="340.3" stroke="#000" stroke-width="0.8"/>
<line x1="273.32" y1="339" x2="273.32" y2="340.3" stroke="#000" stroke-width="0.8"/>
<line x1="275.53" y1="339" x2="275.53" y2="340.3" stroke="#000" stroke-width="0.8"/>
<line x1="277.39" y1="339" x2="277.39" y2="340.3" stroke="#000" stroke-width="0.8"/>
<line x1="279" y1="339" x2="279" y2="340.3" stroke="#000" stroke-width="0.8"/>
<line x1="280.43" y1="339" x2="280.43" y2="340.3" stroke="#000" stroke-width="0.8"/>
<line x1="281.7" y1="339" x2="281.7" y2="341.2" stroke="#000" stroke-width="0.8"/>
<text x="212.5" y="270.5" font-size="8.3">Spleen</text>
<text x="158.5" y="276.2" font-size="8">50</text>
<text x="159.9" y="342.5" font-size="7.5">0</text>
<path d="M170.9 328.27 171.5 328.07 172.1 326.36 172.7 325.5 173.3 322.41 173.9 321.64 174.5 321.13 175.1 319.96 175.7 319.58 176.3 317.91 176.9 316.68 177.5 316.84 178.1 315.05 178.7 312.48 179.3 311.87 179.9 311.89 180.5 312.06 181.1 310.82 181.7 311.53 182.3 309.9 182.9 310.42 183.5 308.95 184.1 311.63 184.7 310.45 185.3 312.76 185.9 311.01 186.5 313.75 187.1 315.2 187.7 315.44 188.3 316.36 188.9 317.88 189.5 318.53 190.1 320.18 190.7 320.5 191.3 322.55 191.9 324.02 192.5 327.42 193.1 328.58 193.7 327.93 194.3 330.13 194.9 331.6 195.5 332.38 196.1 333.15 196.7 334.75 197.3 332.9 197.9 334.57 198.5 336.02 199.1 336.34 199.7 337.48 200.3 337.39 200.9 337.78 201.5 336.99 202.1 338.35 202.7 337.83 203.3 338.25 203.9 338.45 204.5 338.66 205.1 338.51 205.7 338.7 206.3 338.77 206.9 338.82 207.5 338.86 208.1 338.89 208.7 338.92 209.3 338.94 209.9 338.95 L209.9 339 L170.9 339Z" fill="#666666" stroke="none" stroke-width="1"/>
<path d="M170.9 329.2 171.5 328.41 172.1 328.04 172.7 327.64 173.3 326.1 173.9 325.8 174.5 325.35 175.1 325.95 175.7 325.17 176.3 324.01 176.9 322.21 177.5 320.64 178.1 321.09 178.7 319.56 179.3 319.51 179.9 319.5 180.5 316.83 181.1 315.65 181.7 316.79 182.3 314.59 182.9 313.68 183.5 312.73 184.1 312.96 184.7 311.9 185.3 311.55 185.9 310.71 186.5 309.41 187.1 309.09 187.7 309.41 188.3 307.86 188.9 308.18 189.5 308.92 190.1 307.75 190.7 308.03 191.3 307.73 191.9 308.14 192.5 306.91 193.1 307.73 193.7 307.15 194.3 306.35 194.9 308.64 195.5 307.18 196.1 309.11 196.7 310.23 197.3 309.4 197.9 311.63 198.5 312.57 199.1 312.69 199.7 314.5 200.3 315.96 200.9 317.84 201.5 318.04 202.1 319.24 202.7 320.38 203.3 320.72 203.9 322.32 204.5 323.09 205.1 325.55 205.7 324.52 206.3 325.02 206.9 326.13 207.5 328.18 208.1 328.7 208.7 329.66 209.3 328.23 209.9 330.08 210.5 330.79 211.1 330 211.7 329.49 212.3 331.73 212.9 330.23 213.5 331.23 214.1 331.82 214.7 333.16 215.3 331.88 215.9 331.84 216.5 333.79 217.1 333.78 217.7 333.62 218.3 334.77 218.9 334.62 219.5 334.02 220.1 336.21 220.7 335.41 221.3 337.03 221.9 336.98 222.5 335.83 223.1 337.49 223.7 336.82 224.3 336.58 224.9 338.01" fill="none" stroke="#33cc33" stroke-width="0.9" stroke-linejoin="round"/>
<path d="M170.9 335.75 171.7 334.54 172.5 333.4 173.3 332.47 174.1 332.03 174.9 331.24 175.7 330.87 176.5 330.18 177.3 329.71 178.1 328.22 178.9 327.67 179.7 327.27 180.5 325.86 181.3 325.08 182.1 323.7 182.9 322.77 183.7 321.98 184.5 320.72 185.3 319.66 186.1 319.01 186.9 318.04 187.7 316.67 188.5 316.53 189.3 317.05 190.1 316.8 190.9 316.34 191.7 316.19 192.5 316.29 193.3 316.92 194.1 316.3 194.9 316.73 195.7 317.01 196.5 316.87 197.3 316.6 198.1 317.26 198.9 317.21 199.7 316.7 200.5 316.42 201.3 316.68 202.1 316.19 202.9 316.19 203.7 316.19 204.5 316.03 205.3 315.52 206.1 315.53 206.9 315.49 207.7 315.08 208.5 315.27 209.3 315.46 210.1 315.26 210.9 315.43 211.7 316.14 212.5 315.74 213.3 316.11 214.1 316.49 214.9 316.92 215.7 316.85 216.5 317.67 217.3 319.26 218.1 320.92 218.9 323.42 219.7 325.91 220.5 327.17 221.3 328.32 222.1 330.13 222.9 331.17 223.7 332.77 224.5 335.21 225.3 336.54 226.1 336.96 226.9 337.34 227.7 337.96 228.5 338.24 229.3 338.47 230.1 338.55 230.9 338.57 231.7 338.64 232.5 338.71 233.3 338.78 234.1 338.84 234.9 338.91 235.7 338.98" fill="none" stroke="#d43a3a" stroke-width="0.8" stroke-linejoin="round"/>
<line x1="170.4" y1="339" x2="281.7" y2="339" stroke="#000" stroke-width="1"/>
<line x1="211" y1="278.7" x2="218" y2="278.7" stroke="#33cc33" stroke-width="1.8"/>
<text x="218.5" y="281.7" font-size="8.4">-DOX: 1.65%</text>
<line x1="211" y1="289" x2="218" y2="289" stroke="#cc2222" stroke-width="1.8"/>
<text x="218.5" y="292" font-size="8.4">+DOX:17.36%</text>
<line x1="212" y1="300.5" x2="279.7" y2="300.5" stroke="#000" stroke-width="1"/>
<line x1="212" y1="296.5" x2="212" y2="304.5" stroke="#000" stroke-width="1.3"/>
<line x1="279.7" y1="296.5" x2="279.7" y2="304.5" stroke="#000" stroke-width="1.3"/>
<text x="250" y="310" font-size="7">M1</text>
<line x1="310.4" y1="272" x2="421.4" y2="272" stroke="#000" stroke-width="1"/>
<line x1="421.4" y1="272" x2="421.4" y2="339" stroke="#000" stroke-width="1"/>
<line x1="310.4" y1="271.5" x2="310.4" y2="339.5" stroke="#000" stroke-width="1"/>
<line x1="309.9" y1="339" x2="421.9" y2="339" stroke="#000" stroke-width="1"/>
<line x1="308.9" y1="332.3" x2="310.4" y2="332.3" stroke="#000" stroke-width="0.8"/>
<line x1="308.9" y1="325.6" x2="310.4" y2="325.6" stroke="#000" stroke-width="0.8"/>
<line x1="308.9" y1="318.9" x2="310.4" y2="318.9" stroke="#000" stroke-width="0.8"/>
<line x1="308.9" y1="312.2" x2="310.4" y2="312.2" stroke="#000" stroke-width="0.8"/>
<line x1="308.9" y1="305.5" x2="310.4" y2="305.5" stroke="#000" stroke-width="0.8"/>
<line x1="308.9" y1="298.8" x2="310.4" y2="298.8" stroke="#000" stroke-width="0.8"/>
<line x1="308.9" y1="292.1" x2="310.4" y2="292.1" stroke="#000" stroke-width="0.8"/>
<line x1="308.9" y1="285.4" x2="310.4" y2="285.4" stroke="#000" stroke-width="0.8"/>
<line x1="308.9" y1="278.7" x2="310.4" y2="278.7" stroke="#000" stroke-width="0.8"/>
<line x1="310.4" y1="339" x2="310.4" y2="341.2" stroke="#000" stroke-width="0.8"/>
<line x1="318.75" y1="339" x2="318.75" y2="340.3" stroke="#000" stroke-width="0.8"/>
<line x1="323.64" y1="339" x2="323.64" y2="340.3" stroke="#000" stroke-width="0.8"/>
<line x1="327.11" y1="339" x2="327.11" y2="340.3" stroke="#000" stroke-width="0.8"/>
<line x1="329.8" y1="339" x2="329.8" y2="340.3" stroke="#000" stroke-width="0.8"/>
<line x1="331.99" y1="339" x2="331.99" y2="340.3" stroke="#000" stroke-width="0.8"/>
<line x1="333.85" y1="339" x2="333.85" y2="340.3" stroke="#000" stroke-width="0.8"/>
<line x1="335.46" y1="339" x2="335.46" y2="340.3" stroke="#000" stroke-width="0.8"/>
<line x1="336.88" y1="339" x2="336.88" y2="340.3" stroke="#000" stroke-width="0.8"/>
<line x1="338.15" y1="339" x2="338.15" y2="341.2" stroke="#000" stroke-width="0.8"/>
<line x1="346.5" y1="339" x2="346.5" y2="340.3" stroke="#000" stroke-width="0.8"/>
<line x1="351.39" y1="339" x2="351.39" y2="340.3" stroke="#000" stroke-width="0.8"/>
<line x1="354.86" y1="339" x2="354.86" y2="340.3" stroke="#000" stroke-width="0.8"/>
<line x1="357.55" y1="339" x2="357.55" y2="340.3" stroke="#000" stroke-width="0.8"/>
<line x1="359.74" y1="339" x2="359.74" y2="340.3" stroke="#000" stroke-width="0.8"/>
<line x1="361.6" y1="339" x2="361.6" y2="340.3" stroke="#000" stroke-width="0.8"/>
<line x1="363.21" y1="339" x2="363.21" y2="340.3" stroke="#000" stroke-width="0.8"/>
<line x1="364.63" y1="339" x2="364.63" y2="340.3" stroke="#000" stroke-width="0.8"/>
<line x1="365.9" y1="339" x2="365.9" y2="341.2" stroke="#000" stroke-width="0.8"/>
<line x1="374.25" y1="339" x2="374.25" y2="340.3" stroke="#000" stroke-width="0.8"/>
<line x1="379.14" y1="339" x2="379.14" y2="340.3" stroke="#000" stroke-width="0.8"/>
<line x1="382.61" y1="339" x2="382.61" y2="340.3" stroke="#000" stroke-width="0.8"/>
<line x1="385.3" y1="339" x2="385.3" y2="340.3" stroke="#000" stroke-width="0.8"/>
<line x1="387.49" y1="339" x2="387.49" y2="340.3" stroke="#000" stroke-width="0.8"/>
<line x1="389.35" y1="339" x2="389.35" y2="340.3" stroke="#000" stroke-width="0.8"/>
<line x1="390.96" y1="339" x2="390.96" y2="340.3" stroke="#000" stroke-width="0.8"/>
<line x1="392.38" y1="339" x2="392.38" y2="340.3" stroke="#000" stroke-width="0.8"/>
<line x1="393.65" y1="339" x2="393.65" y2="341.2" stroke="#000" stroke-width="0.8"/>
<line x1="402" y1="339" x2="402" y2="340.3" stroke="#000" stroke-width="0.8"/>
<line x1="406.89" y1="339" x2="406.89" y2="340.3" stroke="#000" stroke-width="0.8"/>
<line x1="410.36" y1="339" x2="410.36" y2="340.3" stroke="#000" stroke-width="0.8"/>
<line x1="413.05" y1="339" x2="413.05" y2="340.3" stroke="#000" stroke-width="0.8"/>
<line x1="415.24" y1="339" x2="415.24" y2="340.3" stroke="#000" stroke-width="0.8"/>
<line x1="417.1" y1="339" x2="417.1" y2="340.3" stroke="#000" stroke-width="0.8"/>
<line x1="418.71" y1="339" x2="418.71" y2="340.3" stroke="#000" stroke-width="0.8"/>
<line x1="420.13" y1="339" x2="420.13" y2="340.3" stroke="#000" stroke-width="0.8"/>
<line x1="421.4" y1="339" x2="421.4" y2="341.2" stroke="#000" stroke-width="0.8"/>
<text x="360" y="270.5" font-size="8.3">Lung</text>
<text x="296" y="276.2" font-size="8">100</text>
<text x="299.9" y="342.5" font-size="7.5">0</text>
<path d="M310.9 328.94 311.5 329.71 312.1 327.11 312.7 326.85 313.3 326.98 313.9 326.12 314.5 322.94 315.1 324.15 315.7 321.37 316.3 320.12 316.9 320.55 317.5 319.65 318.1 318.16 318.7 317.66 319.3 315.89 319.9 316.12 320.5 313.87 321.1 315.53 321.7 315.41 322.3 312.54 322.9 315.5 323.5 313.14 324.1 315.1 324.7 314.76 325.3 317.39 325.9 316.67 326.5 318.44 327.1 318.52 327.7 320.02 328.3 323.4 328.9 324.45 329.5 325.7 330.1 325.3 330.7 327.76 331.3 330.44 331.9 330.43 332.5 332.04 333.1 332.19 333.7 333.15 334.3 333.46 334.9 333.46 335.5 334.94 336.1 336 336.7 336.08 337.3 337.64 337.9 337.21 338.5 338.32 339.1 338.47 339.7 337.91 340.3 338.29 340.9 338.56 341.5 338.82 342.1 338.73 342.7 338.8 343.3 338.85 343.9 338.89 344.5 338.92 345.1 338.94 345.7 338.96 346.3 338.97 346.9 338.98 347.5 338.98 348.1 338.99 348.7 338.99 349.3 338.99 349.9 339 L349.9 339 L310.9 339Z" fill="#666666" stroke="none" stroke-width="1"/>
<path d="M310.9 332.23 311.5 332.37 312.1 331.2 312.7 331.6 313.3 330.43 313.9 329.96 314.5 328.51 315.1 328.81 315.7 327.05 316.3 327.13 316.9 326.09 317.5 325.09 318.1 324.56 318.7 322.96 319.3 321.85 319.9 320.43 320.5 320.52 321.1 319.91 321.7 318.84 322.3 317.65 322.9 315.85 323.5 316.05 324.1 314.88 324.7 311.99 325.3 311.94 325.9 311.73 326.5 311.04 327.1 310.27 327.7 307.9 328.3 307.96 328.9 308.38 329.5 306.52 330.1 307.49 330.7 306.85 331.3 304.36 331.9 304.75 332.5 304.5 333.1 306.08 333.7 305.36 334.3 305.72 334.9 304.41 335.5 306.03 336.1 307.49 336.7 308.31 337.3 308.59 337.9 309.55 338.5 309.61 339.1 311.08 339.7 313.72 340.3 314.81 340.9 316.09 341.5 317.78 342.1 319.43 342.7 319.33 343.3 320.95 343.9 321 344.5 322.21 345.1 323 345.7 324.35 346.3 326.93 346.9 326.77 347.5 326.82 348.1 328.33 348.7 329.34 349.3 328.71 349.9 329.32 350.5 329.99 351.1 331.79 351.7 332.27 352.3 332.38 352.9 332.01 353.5 333.74 354.1 334.38 354.7 333.11 355.3 334.39 355.9 334.8 356.5 335.94 357.1 335.92 357.7 336.36 358.3 337.5 358.9 337.51 359.5 337.2 360.1 337.12 360.7 337.92 361.3 337.93 361.9 338.07 362.5 338.23 363.1 338.57 363.7 338.58 364.3 338.76 364.9 338.76" fill="none" stroke="#33cc33" stroke-width="0.9" stroke-linejoin="round"/>
<path d="M310.9 336.6 311.7 336.72 312.5 336.33 313.3 335.03 314.1 334.93 314.9 333.53 315.7 333.07 316.5 332.6 317.3 333.06 318.1 331.27 318.9 330.21 319.7 330.1 320.5 328.12 321.3 327.26 322.1 326.16 322.9 324.98 323.7 323.96 324.5 322.66 325.3 323.21 326.1 321.48 326.9 320.69 327.7 318.04 328.5 317.43 329.3 317.35 330.1 315.06 330.9 314.78 331.7 314.22 332.5 313.16 333.3 313.88 334.1 311.38 334.9 312.85 335.7 312.12 336.5 310.92 337.3 311.79 338.1 311.56 338.9 313.69 339.7 315.38 340.5 315.92 341.3 317.74 342.1 317.88 342.9 319.81 343.7 320.56 344.5 319.56 345.3 321.21 346.1 321.27 346.9 321.49 347.7 322.11 348.5 323.39 349.3 323 350.1 321.8 350.9 321.79 351.7 321.59 352.5 319.62 353.3 320.82 354.1 320.72 354.9 320.09 355.7 320.08 356.5 319.24 357.3 318 358.1 318.1 358.9 318.79 359.7 320.76 360.5 321.35 361.3 320.8 362.1 323.26 362.9 324.88 363.7 325.19 364.5 325.98 365.3 327.13 366.1 328.23 366.9 330.01 367.7 331.19 368.5 331.62 369.3 332.97 370.1 334.21 370.9 334.63 371.7 336.05 372.5 335.82 373.3 335.8 374.1 337.61 374.9 336.88 375.7 337.67 376.5 337.66 377.3 337.93 378.1 338.47 378.9 338.38 379.7 338.73 380.5 338.73 381.3 338.8 382.1 338.85 382.9 338.89 383.7 338.92 384.5 338.95 385.3 338.96" fill="none" stroke="#d43a3a" stroke-width="0.8" stroke-linejoin="round"/>
<line x1="310.4" y1="339" x2="421.4" y2="339" stroke="#000" stroke-width="1"/>
<line x1="350.4" y1="278.7" x2="357.4" y2="278.7" stroke="#33cc33" stroke-width="1.8"/>
<text x="357.9" y="281.7" font-size="8.4">-DOX: 1.26%</text>
<line x1="350.4" y1="289" x2="357.4" y2="289" stroke="#cc2222" stroke-width="1.8"/>
<text x="357.9" y="292" font-size="8.4">+DOX:31.36%</text>
<line x1="352" y1="300.5" x2="419.4" y2="300.5" stroke="#000" stroke-width="1"/>
<line x1="352" y1="296.5" x2="352" y2="304.5" stroke="#000" stroke-width="1.3"/>
<line x1="419.4" y1="296.5" x2="419.4" y2="304.5" stroke="#000" stroke-width="1.3"/>
<text x="386" y="310" font-size="7">M1</text>
<line x1="42" y1="358.8" x2="266" y2="358.8" stroke="#000" stroke-width="1.2"/>
<path d="M272 358.8L265 355.8L265 361.8Z" fill="#000" stroke="none" stroke-width="1"/>
<text x="282.8" y="367" font-size="12">pStat3</text>
<text x="310.5" y="350.5" font-size="6.5">10<tspan font-size="4.3" dy="-3">0</tspan></text>
<text x="338" y="350.5" font-size="6.5">10<tspan font-size="4.3" dy="-3">1</tspan></text>
<text x="366.5" y="350.5" font-size="6.5">10<tspan font-size="4.3" dy="-3">2</tspan></text>
<text x="394.5" y="350.5" font-size="6.5">10<tspan font-size="4.3" dy="-3">3</tspan></text>
<text x="423.5" y="350.5" font-size="6.5">10<tspan font-size="4.3" dy="-3">4</tspan></text>
<text x="435.6" y="300.2" font-size="8.2">CD11b<tspan font-size="5" dy="-3">+</tspan><tspan dy="3">/Gr-1</tspan><tspan font-size="5" dy="-3">+</tspan></text>
<text x="435.6" y="309.8" font-size="8.2">Cells</text>
<text x="10.5" y="397" font-size="16" font-weight="bold">D</text>
<text x="17" y="413.5" font-size="8.5" text-anchor="middle" transform="rotate(-90 17 413.5)">Gr-1</text>
<line x1="11" y1="475.5" x2="11" y2="435" stroke="#000" stroke-width="1.2"/>
<path d="M11 429L8 436L14 436Z" fill="#000" stroke="none" stroke-width="1"/>
<line x1="10.4" y1="475.3" x2="123" y2="475.3" stroke="#000" stroke-width="1.2"/>
<path d="M129 475.3L122 472.3L122 478.3Z" fill="#000" stroke="none" stroke-width="1"/>
<text x="152" y="479.5" font-size="9.8">CD11b</text>
<text x="52" y="403" font-size="8.4">Medium</text>
<path d="M89.0 432.5h0.9M75.5 433.8h0.9M93.7 431.5h0.9M99.0 429.8h0.9M97.9 427.6h0.9M69.7 438.5h0.9M73.2 431.8h0.9M92.3 429.6h0.9M91.7 433.5h0.9M91.5 433.7h0.9M86.5 423.6h0.9M94.8 434.5h0.9M89.5 429.8h0.9M89.4 429.7h0.9M93.2 429.4h0.9M100.8 433.2h0.9M90.5 426.8h0.9M94.0 427.9h0.9M92.8 432.2h0.9M92.7 430.1h0.9M77.4 448.1h0.9M95.2 430.4h0.9M90.6 416.7h0.9M101.5 433.9h0.9M54.3 457.3h0.9M88.1 420.9h0.9M95.7 428.0h0.9M85.0 430.4h0.9M95.3 428.0h0.9M88.5 428.6h0.9M87.1 425.7h0.9M88.2 425.1h0.9M93.9 430.1h0.9M98.8 430.7h0.9M91.7 430.6h0.9M97.5 424.7h0.9M93.1 436.2h0.9M89.7 427.9h0.9M93.6 427.1h0.9M92.6 427.1h0.9M91.1 436.4h0.9M84.8 411.6h0.9M92.8 428.1h0.9M92.0 433.3h0.9M95.5 435.0h0.9M98.2 429.4h0.9M94.9 430.5h0.9M88.7 428.1h0.9M98.6 435.6h0.9M95.9 432.0h0.9M92.0 434.4h0.9M82.1 422.4h0.9M96.4 428.4h0.9M97.1 427.3h0.9M106.2 429.0h0.9M90.8 425.8h0.9M93.2 432.5h0.9M90.8 426.4h0.9M88.0 429.4h0.9M89.2 430.5h0.9M96.4 428.7h0.9M94.7 428.1h0.9M90.2 434.0h0.9M95.2 432.7h0.9M92.1 424.2h0.9M94.1 433.8h0.9M90.8 427.8h0.9M88.5 423.7h0.9M101.6 428.0h0.9M93.7 426.9h0.9M98.1 434.4h0.9M95.9 427.6h0.9M88.1 429.0h0.9M89.9 430.6h0.9M89.6 437.8h0.9M98.1 431.8h0.9M89.1 426.7h0.9M90.0 431.6h0.9M88.8 425.9h0.9M89.4 432.2h0.9M90.5 423.3h0.9M89.3 433.5h0.9M92.7 431.2h0.9M93.9 431.3h0.9M90.4 432.1h0.9M92.0 433.2h0.9M94.8 441.2h0.9M93.3 428.3h0.9M100.9 432.6h0.9M87.4 430.6h0.9M90.2 429.9h0.9M87.6 432.2h0.9M91.9 433.4h0.9M86.5 426.6h0.9M85.8 458.5h0.9M87.2 433.7h0.9M97.4 431.3h0.9M91.3 433.6h0.9M88.8 431.3h0.9M96.6 431.3h0.9M92.1 425.1h0.9M90.5 427.6h0.9M92.7 432.8h0.9M93.2 431.3h0.9M87.8 433.8h0.9M100.7 431.7h0.9M93.3 431.7h0.9M92.9 430.9h0.9M92.5 434.1h0.9M87.5 429.5h0.9M94.1 430.7h0.9M97.1 434.0h0.9M89.6 434.5h0.9M88.9 430.9h0.9M80.8 431.5h0.9M90.7 427.6h0.9M85.0 432.6h0.9M89.5 428.8h0.9M91.7 431.7h0.9M100.8 437.7h0.9M92.2 425.2h0.9M90.8 428.5h0.9M83.6 418.6h0.9M92.2 423.1h0.9M92.1 433.0h0.9M93.1 431.4h0.9M102.2 439.6h0.9M90.7 434.8h0.9M88.2 435.8h0.9M96.0 432.3h0.9M92.3 431.9h0.9M63.8 456.4h0.9M92.9 433.5h0.9M80.9 430.4h0.9M98.0 431.5h0.9M102.2 432.7h0.9M93.7 431.1h0.9M90.0 430.9h0.9M93.7 429.8h0.9M95.0 431.6h0.9M63.2 458.6h0.9M93.8 431.3h0.9M88.5 430.5h0.9M88.1 432.7h0.9M92.5 429.9h0.9M95.9 434.4h0.9M99.3 437.3h0.9M81.2 428.9h0.9M91.5 433.0h0.9M89.6 426.5h0.9M92.3 430.6h0.9M94.6 424.3h0.9M95.9 436.9h0.9M92.9 437.7h0.9M94.0 428.9h0.9M94.2 433.3h0.9M93.2 416.3h0.9M97.7 433.5h0.9M90.1 426.7h0.9M89.2 430.5h0.9M94.0 429.6h0.9M90.9 429.6h0.9M90.2 427.8h0.9M92.4 436.8h0.9M91.1 432.0h0.9M98.4 419.9h0.9M85.1 420.1h0.9M86.1 436.7h0.9M89.3 434.1h0.9M93.7 429.1h0.9M93.9 435.0h0.9M88.1 411.2h0.9M92.1 430.5h0.9M95.7 427.4h0.9M83.2 418.4h0.9M83.6 432.9h0.9M90.7 425.3h0.9M75.9 416.6h0.9M91.3 422.1h0.9M95.5 437.0h0.9M94.5 437.3h0.9M90.0 432.0h0.9M96.9 429.7h0.9M89.4 431.5h0.9M102.4 437.1h0.9M100.4 432.6h0.9M91.2 439.8h0.9M92.8 432.9h0.9M94.1 440.4h0.9M97.2 441.5h0.9" stroke="#3a3a3a" stroke-width="0.9" stroke-opacity="0.22" fill="none"/>
<path d="M99.6 437.0h0.9M88.1 430.2h0.9M95.0 432.2h0.9M90.7 427.8h0.9M91.9 427.8h0.9M86.4 428.8h0.9M86.3 432.0h0.9M96.4 430.4h0.9M93.4 427.8h0.9M92.4 432.7h0.9M80.3 440.6h0.9M98.3 430.4h0.9M92.1 432.5h0.9M98.4 431.2h0.9M87.7 429.3h0.9M92.7 432.6h0.9M92.5 427.4h0.9M94.3 435.0h0.9M96.9 436.2h0.9M91.0 423.0h0.9M91.1 428.7h0.9M93.1 426.1h0.9M95.1 436.6h0.9M93.3 435.9h0.9M98.7 429.4h0.9M101.5 437.3h0.9M76.9 442.2h0.9M96.1 430.8h0.9M78.8 439.9h0.9M95.5 433.4h0.9M92.5 420.1h0.9M92.9 421.2h0.9M100.0 431.4h0.9M93.7 432.0h0.9M90.7 433.0h0.9M89.4 423.6h0.9M91.8 429.0h0.9M97.8 437.0h0.9M91.8 424.5h0.9M93.3 432.9h0.9M90.3 435.0h0.9M78.6 422.4h0.9M95.0 432.4h0.9M91.2 429.0h0.9M92.6 433.0h0.9M94.4 426.6h0.9M89.6 421.9h0.9M89.1 425.0h0.9M95.3 438.5h0.9M88.6 433.8h0.9M94.7 433.3h0.9M95.5 428.8h0.9M100.1 438.5h0.9M94.5 423.7h0.9M92.7 432.1h0.9M96.5 430.3h0.9M95.0 433.9h0.9M90.6 427.2h0.9M90.4 428.7h0.9M96.7 433.0h0.9M87.6 436.4h0.9M88.8 431.4h0.9M89.3 431.4h0.9M96.9 441.8h0.9M97.1 427.0h0.9M102.3 419.1h0.9M93.8 409.8h0.9M97.7 421.4h0.9M95.0 428.1h0.9M97.5 429.4h0.9M104.0 440.7h0.9M96.3 435.6h0.9M93.9 429.6h0.9M93.3 433.9h0.9M91.2 433.2h0.9M87.3 440.2h0.9M91.8 433.3h0.9M89.0 432.2h0.9M89.7 415.8h0.9M94.1 428.7h0.9M91.6 431.9h0.9M87.2 429.9h0.9M97.7 432.1h0.9M85.8 431.0h0.9M95.1 431.4h0.9M93.4 427.2h0.9M102.5 431.5h0.9M95.4 433.4h0.9M95.5 427.0h0.9M90.0 422.1h0.9M86.3 425.1h0.9M95.3 435.5h0.9M84.1 420.9h0.9M89.1 423.4h0.9M91.1 435.6h0.9M98.4 437.3h0.9M93.2 427.9h0.9M95.6 437.1h0.9M93.6 428.5h0.9M95.2 435.1h0.9M88.8 427.2h0.9M92.4 437.8h0.9M93.0 438.3h0.9M78.2 441.4h0.9M95.4 428.4h0.9M75.2 435.8h0.9M99.8 438.1h0.9M94.6 430.1h0.9M91.7 429.2h0.9M90.4 435.6h0.9M88.4 428.2h0.9M95.9 433.3h0.9M89.6 425.5h0.9M91.0 431.4h0.9M97.4 429.6h0.9M95.6 432.2h0.9M95.8 443.1h0.9M93.6 430.4h0.9M72.4 427.7h0.9M90.3 432.7h0.9M99.8 423.7h0.9M92.3 430.7h0.9M89.7 431.4h0.9M95.3 432.8h0.9M93.3 431.4h0.9M92.3 430.2h0.9M87.4 432.5h0.9M92.6 432.7h0.9M96.3 434.2h0.9M88.4 434.3h0.9M89.1 433.2h0.9M95.4 437.0h0.9M92.7 428.3h0.9M98.5 433.9h0.9M93.5 428.6h0.9M90.6 446.5h0.9M95.1 418.0h0.9M87.5 433.6h0.9M92.3 436.4h0.9M91.2 441.3h0.9M90.9 426.4h0.9M88.6 429.5h0.9M97.1 427.2h0.9M90.7 426.3h0.9M94.0 436.2h0.9M93.1 428.6h0.9M91.5 428.9h0.9M93.2 425.7h0.9M86.7 432.1h0.9M95.5 435.7h0.9M95.8 426.5h0.9M77.7 437.6h0.9M93.0 432.9h0.9M95.4 432.7h0.9M88.9 441.2h0.9M93.6 428.5h0.9M88.4 423.1h0.9M79.4 432.5h0.9M88.7 428.7h0.9M88.5 432.7h0.9M95.2 433.2h0.9M94.9 429.3h0.9M88.8 427.8h0.9M91.6 430.3h0.9M94.3 434.1h0.9M90.1 433.9h0.9M97.5 433.9h0.9M94.3 427.2h0.9M94.7 438.9h0.9M96.0 437.8h0.9M78.6 428.1h0.9M90.1 430.9h0.9M90.3 429.6h0.9M93.6 436.4h0.9M89.6 425.7h0.9M91.8 432.7h0.9M95.7 428.0h0.9M86.2 433.5h0.9M95.7 432.4h0.9M102.9 430.1h0.9M88.6 426.6h0.9M81.6 419.0h0.9M89.3 429.7h0.9M94.6 432.5h0.9M89.1 423.9h0.9M95.8 430.3h0.9M90.7 429.5h0.9M96.3 428.0h0.9M87.1 434.3h0.9M90.5 439.1h0.9M89.0 432.6h0.9" stroke="#3a3a3a" stroke-width="0.9" stroke-opacity="0.22" fill="none"/>
<path d="M87.7 434.7h0.9M85.9 422.3h0.9M93.8 433.7h0.9M91.6 429.9h0.9M96.8 439.7h0.9M92.4 433.3h0.9M99.5 437.4h0.9M92.5 433.0h0.9M86.9 435.2h0.9M98.4 430.1h0.9M93.1 428.9h0.9M89.7 422.8h0.9M91.4 431.7h0.9M73.5 439.0h0.9M77.5 424.5h0.9M94.6 425.1h0.9M97.5 427.0h0.9M89.3 434.1h0.9M70.6 435.1h0.9M92.9 433.8h0.9M95.4 430.4h0.9M91.4 421.4h0.9M66.8 444.2h0.9M80.1 421.2h0.9M98.4 429.5h0.9M83.6 427.1h0.9M98.2 430.6h0.9M87.6 440.1h0.9M90.6 430.5h0.9M90.0 430.1h0.9M92.0 434.7h0.9M91.2 438.5h0.9M94.6 435.2h0.9M89.5 429.0h0.9M108.3 437.0h0.9M90.4 425.4h0.9M94.3 433.8h0.9M93.4 428.9h0.9M80.3 429.2h0.9M93.3 428.8h0.9M93.6 431.0h0.9M84.5 419.8h0.9M95.0 433.9h0.9M79.5 423.9h0.9M86.3 430.1h0.9M93.6 434.6h0.9M93.0 429.2h0.9M95.4 419.5h0.9M86.3 435.0h0.9M96.9 428.0h0.9M87.5 436.1h0.9M97.7 432.2h0.9M92.3 426.7h0.9M88.1 430.9h0.9M91.3 426.9h0.9M96.8 435.4h0.9M93.8 429.9h0.9M93.7 429.2h0.9M101.6 437.0h0.9M96.8 432.9h0.9M89.7 434.8h0.9M86.0 431.0h0.9M91.7 427.7h0.9M90.3 435.4h0.9M93.0 431.7h0.9M97.5 435.3h0.9M92.5 430.7h0.9M86.9 415.0h0.9M92.1 433.1h0.9M90.7 430.0h0.9M87.7 441.2h0.9M83.3 424.6h0.9M96.4 432.0h0.9M95.6 429.2h0.9M90.5 422.5h0.9M92.2 429.0h0.9M89.8 430.3h0.9M96.9 438.0h0.9M94.4 431.2h0.9M76.5 439.4h0.9M93.5 427.2h0.9M90.0 432.2h0.9M90.3 429.5h0.9M85.4 437.6h0.9M90.6 426.7h0.9M79.4 422.6h0.9M91.9 424.9h0.9M101.0 432.9h0.9M98.5 431.0h0.9M89.4 431.9h0.9M97.0 436.9h0.9M89.6 429.9h0.9M95.7 435.1h0.9M90.1 436.8h0.9M96.0 432.2h0.9M93.0 438.0h0.9M95.0 418.1h0.9M98.6 427.5h0.9M93.2 439.5h0.9M68.9 433.0h0.9M91.9 430.4h0.9M93.7 430.7h0.9M96.9 433.2h0.9M94.1 433.6h0.9M90.1 437.2h0.9M94.0 428.7h0.9M72.5 428.6h0.9M89.0 430.3h0.9M98.4 432.1h0.9M86.8 428.8h0.9M93.7 432.4h0.9M91.3 430.9h0.9M95.3 426.1h0.9M93.9 428.8h0.9M98.9 430.0h0.9M87.2 429.5h0.9M90.7 432.9h0.9M92.3 428.9h0.9M97.6 434.8h0.9M94.7 423.1h0.9M86.0 429.3h0.9M96.2 432.9h0.9M98.3 426.7h0.9M85.1 422.4h0.9M95.5 426.9h0.9M88.0 427.0h0.9M87.1 427.8h0.9M95.5 431.2h0.9M88.6 429.3h0.9M88.2 427.1h0.9M93.9 431.2h0.9M90.3 425.0h0.9M92.1 425.6h0.9M97.7 430.1h0.9M86.5 423.7h0.9M96.6 431.9h0.9M93.1 428.8h0.9M89.6 422.7h0.9M88.3 431.1h0.9M94.8 419.9h0.9M91.6 428.1h0.9M87.9 430.5h0.9M63.8 435.0h0.9M98.0 416.1h0.9M91.9 429.5h0.9M92.6 431.0h0.9M73.3 439.3h0.9M96.3 440.6h0.9M98.2 435.9h0.9M90.6 432.8h0.9M84.2 408.7h0.9M93.6 436.6h0.9M73.7 433.8h0.9M103.5 427.7h0.9M96.5 428.7h0.9M96.8 434.6h0.9M95.1 429.3h0.9M94.5 435.2h0.9M94.6 429.4h0.9M89.4 430.5h0.9M95.7 422.7h0.9M93.5 433.0h0.9M89.5 425.9h0.9M93.5 432.7h0.9M70.9 418.4h0.9M86.2 433.5h0.9M92.5 424.6h0.9M92.5 435.5h0.9M88.3 432.1h0.9M97.4 430.9h0.9M96.3 432.8h0.9M92.2 436.6h0.9M86.2 430.3h0.9M92.5 425.8h0.9M92.4 428.5h0.9M78.4 426.7h0.9M105.2 434.3h0.9M95.7 436.5h0.9M75.6 427.9h0.9M95.2 425.8h0.9M90.9 435.2h0.9M93.9 428.3h0.9M93.0 435.0h0.9M92.2 432.3h0.9M87.0 431.7h0.9M98.1 418.9h0.9M99.3 434.8h0.9M87.8 429.8h0.9M102.7 431.2h0.9M87.7 426.2h0.9" stroke="#3a3a3a" stroke-width="0.9" stroke-opacity="0.22" fill="none"/>
<path d="M85.2 424.7h0.9M93.3 433.2h0.9M106.2 432.6h0.9M99.6 449.9h0.9M101.2 435.1h0.9M94.1 431.4h0.9M88.4 430.5h0.9M86.9 428.5h0.9M95.3 436.2h0.9M87.4 422.1h0.9M92.1 427.1h0.9M93.1 428.2h0.9M89.1 433.1h0.9M93.4 426.8h0.9M101.8 447.9h0.9M97.4 434.3h0.9M94.2 421.2h0.9M100.0 431.8h0.9M86.0 425.5h0.9M99.5 431.4h0.9M95.2 427.8h0.9M96.1 426.1h0.9M95.4 429.7h0.9M93.2 430.0h0.9M94.2 435.3h0.9M95.0 437.5h0.9M91.5 429.4h0.9M95.7 422.1h0.9M93.4 431.8h0.9M91.7 431.1h0.9M88.1 433.0h0.9M92.4 431.5h0.9M100.3 432.0h0.9M89.2 431.7h0.9M92.1 441.0h0.9M96.4 433.5h0.9M93.7 433.8h0.9M92.3 431.9h0.9M91.0 432.8h0.9M90.7 423.7h0.9M91.6 433.0h0.9M89.3 428.6h0.9M90.1 432.9h0.9M98.6 425.8h0.9M94.9 430.6h0.9M96.7 429.7h0.9M92.3 426.4h0.9M89.4 427.5h0.9M97.7 429.7h0.9M88.5 433.5h0.9M90.6 432.8h0.9M106.9 419.4h0.9M91.1 438.3h0.9M92.2 431.5h0.9M95.5 432.5h0.9M92.4 435.3h0.9M86.7 429.9h0.9M89.9 444.7h0.9M97.5 439.1h0.9M90.0 435.9h0.9M93.8 425.8h0.9M92.1 431.4h0.9M100.9 443.0h0.9M90.2 434.2h0.9M84.6 428.6h0.9M95.3 429.3h0.9M96.3 433.7h0.9M39.8 431.7h0.9M84.3 436.0h0.9M89.7 434.6h0.9M96.0 431.6h0.9M85.6 446.6h0.9M90.0 430.3h0.9M80.1 434.0h0.9M94.1 431.1h0.9M93.4 428.1h0.9M96.8 425.5h0.9M95.8 430.3h0.9M94.7 431.6h0.9M94.7 432.5h0.9M97.2 431.3h0.9M93.5 429.6h0.9M97.1 430.1h0.9M102.8 432.0h0.9M94.4 430.9h0.9M91.6 435.0h0.9M91.8 434.7h0.9M85.4 434.5h0.9M94.1 425.3h0.9M92.5 433.6h0.9M89.9 430.2h0.9M98.8 427.6h0.9M91.8 434.3h0.9M94.4 429.1h0.9M92.6 425.1h0.9M87.6 429.3h0.9M73.8 448.8h0.9M96.1 422.1h0.9M94.6 433.3h0.9M92.3 432.0h0.9M92.0 431.4h0.9M96.7 425.8h0.9M92.5 439.3h0.9M88.6 428.4h0.9M99.5 451.3h0.9M95.4 434.7h0.9M95.6 430.7h0.9M86.7 430.2h0.9M95.3 433.2h0.9M97.3 434.2h0.9M88.1 432.3h0.9M89.3 430.9h0.9M91.5 425.2h0.9M86.0 432.8h0.9M79.7 448.7h0.9M82.7 433.9h0.9M92.6 429.2h0.9M89.4 434.1h0.9M79.7 430.7h0.9M96.5 419.3h0.9M93.6 437.7h0.9M94.2 429.0h0.9M94.3 437.2h0.9M82.0 430.8h0.9M94.1 424.8h0.9M96.1 430.6h0.9M93.7 432.8h0.9M85.0 420.3h0.9M95.7 427.9h0.9M90.3 432.5h0.9M95.2 426.0h0.9M78.6 438.5h0.9M98.9 432.7h0.9M89.8 428.5h0.9M89.8 424.4h0.9M96.4 433.9h0.9M88.1 422.1h0.9M94.0 427.5h0.9M96.6 438.0h0.9M90.4 426.7h0.9M87.3 428.9h0.9M81.8 447.8h0.9M94.3 426.7h0.9M86.8 430.3h0.9M88.7 434.4h0.9M90.1 421.3h0.9M94.6 428.7h0.9M88.6 434.6h0.9M88.0 427.3h0.9M89.7 432.7h0.9M93.8 430.1h0.9M91.2 430.5h0.9M94.5 421.5h0.9M95.4 428.2h0.9M90.5 430.5h0.9M92.3 429.4h0.9M95.4 438.5h0.9M88.6 434.2h0.9M95.5 435.3h0.9M94.5 429.5h0.9M88.1 434.6h0.9M77.2 416.4h0.9M94.5 432.2h0.9M107.8 421.5h0.9M91.7 432.9h0.9M88.5 430.2h0.9M92.7 426.6h0.9M94.6 431.8h0.9M95.9 427.9h0.9M94.7 432.6h0.9M92.4 434.0h0.9M94.5 432.8h0.9M89.7 427.2h0.9M91.5 431.5h0.9M94.9 428.9h0.9M94.0 427.7h0.9M95.2 421.3h0.9M89.1 427.1h0.9M91.3 433.8h0.9M94.4 435.4h0.9M93.1 428.5h0.9M91.1 433.4h0.9M94.5 425.8h0.9M90.2 439.0h0.9M97.2 430.4h0.9M90.3 427.1h0.9M100.7 431.6h0.9M86.5 422.1h0.9M105.5 421.0h0.9M82.8 426.5h0.9M98.4 428.4h0.9" stroke="#3a3a3a" stroke-width="0.9" stroke-opacity="0.22" fill="none"/>
<path d="M92.5 429.4h0.9M97.0 439.1h0.9M90.3 435.9h0.9M91.2 431.9h0.9M93.8 431.0h0.9M92.4 430.4h0.9M98.1 435.5h0.9M99.9 433.4h0.9M85.8 432.8h0.9M105.1 444.3h0.9M92.5 414.1h0.9M93.2 430.5h0.9M92.3 435.2h0.9M95.7 428.6h0.9M97.9 434.9h0.9M95.5 436.9h0.9M89.2 431.2h0.9M96.4 435.0h0.9M68.2 445.8h0.9M91.9 436.2h0.9M89.9 438.4h0.9M92.0 423.3h0.9M89.6 433.4h0.9M90.7 427.9h0.9M96.2 433.7h0.9M91.3 435.6h0.9M88.0 425.8h0.9M94.8 430.9h0.9M98.1 428.6h0.9M95.9 430.4h0.9M90.9 431.8h0.9M92.2 438.6h0.9M92.6 436.2h0.9M92.3 429.8h0.9M91.4 426.9h0.9M92.3 430.7h0.9M89.9 436.0h0.9M90.9 420.4h0.9M87.0 433.4h0.9M82.2 431.4h0.9M93.6 437.4h0.9M90.4 427.9h0.9M89.1 438.1h0.9M83.7 430.2h0.9M91.3 433.9h0.9M92.9 428.3h0.9M91.9 417.9h0.9M94.7 433.5h0.9M96.4 423.1h0.9M38.7 454.5h0.9M90.1 431.3h0.9M95.2 431.2h0.9M90.5 431.6h0.9M89.3 435.3h0.9M90.1 432.2h0.9M88.5 437.0h0.9M86.3 429.2h0.9M82.0 447.4h0.9M93.7 435.1h0.9M87.1 436.8h0.9M91.0 432.4h0.9M86.8 431.5h0.9M88.8 436.4h0.9M104.1 427.8h0.9M90.9 431.7h0.9M92.6 434.6h0.9M93.4 433.3h0.9M94.1 423.5h0.9M91.2 426.6h0.9M91.4 427.9h0.9M92.8 437.2h0.9M91.4 426.6h0.9M95.7 438.9h0.9M87.2 438.0h0.9M100.7 431.1h0.9M90.5 434.6h0.9M93.0 431.3h0.9M97.2 431.2h0.9M30.9 436.6h0.9M88.8 423.7h0.9M91.8 436.4h0.9M91.7 434.7h0.9M100.6 431.2h0.9M90.5 430.0h0.9M94.4 434.1h0.9M88.7 429.4h0.9M99.4 430.5h0.9M93.6 433.5h0.9M90.1 429.3h0.9M96.6 431.9h0.9M84.8 427.7h0.9M100.2 441.1h0.9M94.6 432.2h0.9M87.5 430.2h0.9M94.7 431.8h0.9M96.7 437.8h0.9M94.2 430.9h0.9M90.5 436.2h0.9M93.2 428.5h0.9M87.9 428.8h0.9M92.2 429.9h0.9M91.0 434.5h0.9M96.4 435.6h0.9M87.3 427.2h0.9M93.1 432.6h0.9M82.1 436.8h0.9M91.5 431.9h0.9M89.5 431.7h0.9M92.0 426.8h0.9M90.9 431.2h0.9M98.9 429.5h0.9M92.2 428.3h0.9M100.0 434.0h0.9M87.8 429.4h0.9M99.5 434.2h0.9M99.3 428.6h0.9M66.3 427.1h0.9M84.5 427.2h0.9M83.7 426.8h0.9M79.7 430.5h0.9M65.4 442.1h0.9M91.7 433.8h0.9M94.2 424.7h0.9M94.8 435.8h0.9M90.6 428.0h0.9M91.8 426.2h0.9M96.0 434.9h0.9M85.9 433.5h0.9M95.0 429.9h0.9M92.3 427.2h0.9M94.6 437.9h0.9M91.1 426.1h0.9M90.2 432.5h0.9M90.8 430.9h0.9M96.3 428.2h0.9M87.5 430.6h0.9M96.9 433.4h0.9M69.8 429.1h0.9M98.9 439.6h0.9M93.2 435.1h0.9M94.1 427.7h0.9M93.9 436.2h0.9M73.5 437.8h0.9M85.8 445.0h0.9M97.2 422.7h0.9M106.0 430.0h0.9M97.1 432.6h0.9M96.6 429.2h0.9M100.1 428.5h0.9M92.0 433.3h0.9M96.0 432.7h0.9M92.2 430.2h0.9M90.1 431.4h0.9M90.7 431.0h0.9M86.8 445.1h0.9M88.5 427.8h0.9M106.8 443.5h0.9M89.4 425.9h0.9M89.8 436.9h0.9M93.9 431.1h0.9M83.3 438.3h0.9M86.6 418.8h0.9M93.0 430.9h0.9M100.8 445.1h0.9M91.6 424.8h0.9M46.2 436.3h0.9M96.4 436.7h0.9M86.4 432.4h0.9M88.4 435.3h0.9M89.2 426.3h0.9M105.6 435.6h0.9M78.2 439.2h0.9M93.6 428.3h0.9M100.8 435.0h0.9M79.3 437.3h0.9M91.1 429.6h0.9M95.3 435.6h0.9M96.1 436.9h0.9M92.4 428.7h0.9M93.1 428.2h0.9M97.4 431.7h0.9M107.8 439.0h0.9M88.2 435.7h0.9M91.9 448.6h0.9M91.8 433.0h0.9M90.0 431.5h0.9M98.4 431.8h0.9M94.8 434.7h0.9M98.5 422.2h0.9M93.9 434.1h0.9" stroke="#3a3a3a" stroke-width="0.9" stroke-opacity="0.22" fill="none"/>
<path d="M94.7 434.6h0.9M94.0 440.2h0.9M93.9 426.4h0.9M93.5 430.0h0.9M95.4 427.6h0.9M95.7 434.2h0.9M87.3 429.1h0.9M89.9 439.4h0.9M82.1 423.4h0.9M108.2 440.0h0.9M95.6 431.8h0.9M94.0 417.6h0.9M92.5 433.2h0.9M97.1 433.6h0.9M96.3 431.1h0.9M91.8 433.0h0.9M88.2 434.9h0.9M96.1 428.6h0.9M85.1 431.1h0.9M85.9 435.3h0.9M95.5 432.5h0.9M94.0 428.1h0.9M95.0 440.8h0.9M94.3 437.3h0.9M75.0 457.2h0.9M49.0 417.1h0.9M99.0 424.7h0.9M98.3 425.5h0.9M91.8 427.7h0.9M85.0 439.7h0.9M88.8 429.6h0.9M96.8 430.3h0.9M89.6 433.5h0.9M93.9 428.3h0.9M87.2 431.7h0.9M97.2 423.7h0.9M86.7 439.4h0.9M89.4 433.4h0.9M91.9 435.3h0.9M79.4 440.3h0.9M97.4 430.7h0.9M90.2 435.0h0.9M90.3 433.2h0.9M88.4 437.8h0.9M92.9 426.7h0.9M88.0 438.5h0.9M100.1 427.7h0.9M91.3 428.0h0.9M89.9 430.7h0.9M85.5 426.4h0.9M103.6 434.3h0.9M88.1 434.6h0.9M97.1 435.8h0.9M94.5 433.3h0.9M91.0 431.4h0.9M96.2 433.4h0.9M85.3 433.6h0.9M91.5 431.1h0.9M93.8 433.5h0.9M98.0 441.8h0.9M94.7 428.0h0.9M96.4 441.6h0.9M91.1 431.8h0.9M84.9 432.0h0.9M93.1 436.7h0.9M83.8 432.5h0.9M86.4 432.0h0.9M94.3 429.3h0.9M90.5 421.6h0.9M94.0 428.2h0.9M96.0 430.1h0.9M91.0 433.2h0.9M87.8 434.5h0.9M90.8 428.4h0.9M91.1 429.9h0.9M92.5 427.8h0.9M88.9 444.8h0.9M86.2 427.3h0.9M93.6 429.4h0.9M98.9 432.6h0.9M97.2 431.2h0.9M92.9 433.5h0.9M92.8 435.3h0.9M82.5 438.8h0.9M91.3 433.9h0.9M90.2 436.6h0.9M89.2 425.0h0.9M95.5 430.2h0.9M90.3 430.3h0.9M91.0 433.4h0.9M97.6 415.0h0.9M81.3 425.1h0.9M92.8 441.0h0.9M93.2 432.1h0.9M88.7 434.9h0.9M86.9 430.2h0.9M95.5 430.7h0.9M90.0 414.1h0.9M84.6 423.6h0.9M99.0 417.8h0.9M94.7 433.7h0.9M95.5 439.7h0.9M100.3 423.1h0.9M94.0 434.1h0.9M87.5 431.0h0.9M89.8 433.7h0.9M93.2 434.6h0.9M87.0 431.7h0.9M94.1 424.6h0.9M86.2 423.3h0.9M99.7 426.8h0.9M108.4 428.1h0.9M84.0 430.6h0.9M97.3 424.7h0.9M84.1 426.3h0.9M90.3 432.2h0.9M90.4 432.3h0.9M93.9 430.8h0.9M91.2 429.1h0.9M85.4 433.0h0.9M103.7 442.1h0.9M95.3 431.8h0.9M91.2 427.8h0.9M94.2 421.1h0.9M86.7 420.4h0.9M92.0 438.6h0.9M85.9 426.9h0.9M94.8 429.9h0.9M96.0 429.4h0.9M90.0 431.6h0.9M99.7 434.0h0.9M89.1 430.1h0.9M93.4 427.8h0.9M92.3 428.3h0.9M99.1 429.4h0.9M90.7 430.8h0.9M95.4 433.6h0.9M88.4 424.4h0.9M79.8 432.6h0.9M90.2 426.4h0.9M91.7 424.8h0.9M86.9 432.7h0.9M91.5 429.3h0.9M92.6 416.5h0.9M98.6 431.0h0.9M95.7 430.6h0.9M94.2 428.2h0.9M80.2 435.5h0.9M92.3 418.1h0.9M90.6 432.4h0.9M98.1 433.2h0.9M96.2 431.5h0.9M97.6 431.9h0.9M86.4 428.9h0.9M95.3 434.3h0.9M96.7 427.1h0.9M89.0 436.6h0.9M81.8 435.9h0.9M94.5 431.9h0.9M98.7 429.4h0.9M99.1 412.0h0.9M98.9 428.3h0.9M90.2 433.0h0.9M82.4 423.2h0.9M83.2 447.9h0.9M66.5 445.0h0.9M98.4 434.7h0.9M95.3 437.7h0.9M83.7 435.7h0.9M90.5 426.2h0.9M91.0 428.4h0.9M80.6 428.3h0.9M96.7 431.2h0.9M87.6 429.7h0.9M90.6 434.9h0.9M88.0 430.1h0.9M91.7 434.6h0.9M91.8 429.7h0.9M89.7 427.0h0.9M96.1 425.9h0.9M88.4 434.7h0.9M90.2 425.6h0.9M97.1 427.4h0.9M76.0 424.0h0.9M95.9 430.0h0.9M92.0 431.5h0.9M97.2 440.5h0.9M97.7 433.5h0.9M89.4 432.5h0.9M92.5 427.7h0.9M86.5 440.7h0.9" stroke="#3a3a3a" stroke-width="0.9" stroke-opacity="0.22" fill="none"/>
<rect x="23.3" y="405.5" width="88.1" height="59.5" fill="none" stroke="#000" stroke-width="1"/>
<line x1="84.7" y1="405.5" x2="84.7" y2="465" stroke="#000" stroke-width="1"/>
<line x1="23.3" y1="424.3" x2="111.4" y2="424.3" stroke="#000" stroke-width="1"/>
<line x1="21.8" y1="451.16" x2="23.3" y2="451.16" stroke="#000" stroke-width="0.8"/>
<line x1="21.8" y1="437.33" x2="23.3" y2="437.33" stroke="#000" stroke-width="0.8"/>
<line x1="21.8" y1="423.49" x2="23.3" y2="423.49" stroke="#000" stroke-width="0.8"/>
<line x1="21.8" y1="409.65" x2="23.3" y2="409.65" stroke="#000" stroke-width="0.8"/>
<line x1="23.3" y1="465" x2="23.3" y2="466.6" stroke="#000" stroke-width="0.8"/>
<line x1="29.93" y1="465" x2="29.93" y2="466" stroke="#000" stroke-width="0.8"/>
<line x1="38.69" y1="465" x2="38.69" y2="466" stroke="#000" stroke-width="0.8"/>
<line x1="45.33" y1="465" x2="45.33" y2="466.6" stroke="#000" stroke-width="0.8"/>
<line x1="51.96" y1="465" x2="51.96" y2="466" stroke="#000" stroke-width="0.8"/>
<line x1="60.72" y1="465" x2="60.72" y2="466" stroke="#000" stroke-width="0.8"/>
<line x1="67.35" y1="465" x2="67.35" y2="466.6" stroke="#000" stroke-width="0.8"/>
<line x1="73.98" y1="465" x2="73.98" y2="466" stroke="#000" stroke-width="0.8"/>
<line x1="82.74" y1="465" x2="82.74" y2="466" stroke="#000" stroke-width="0.8"/>
<line x1="89.38" y1="465" x2="89.38" y2="466.6" stroke="#000" stroke-width="0.8"/>
<line x1="96.01" y1="465" x2="96.01" y2="466" stroke="#000" stroke-width="0.8"/>
<line x1="104.77" y1="465" x2="104.77" y2="466" stroke="#000" stroke-width="0.8"/>
<text x="36.1" y="415.8" font-size="8.2">1.29%</text>
<text x="89.2" y="414.9" font-size="8.2">9.61%</text>
<text x="78.7" y="450.9" font-size="8.2">76.86%</text>
<text x="126.8" y="403" font-size="8.4">Inactivated MMP12</text>
<path d="M187.6 421.5h0.9M186.2 430.1h0.9M194.7 435.4h0.9M198.6 438.4h0.9M193.7 423.8h0.9M197.7 427.7h0.9M200.4 433.7h0.9M187.9 427.7h0.9M193.7 425.1h0.9M186.8 444.2h0.9M198.8 437.9h0.9M193.2 427.4h0.9M193.7 427.8h0.9M197.1 428.5h0.9M195.6 433.0h0.9M194.8 427.5h0.9M188.4 438.5h0.9M188.3 428.4h0.9M167.2 430.7h0.9M196.3 430.4h0.9M194.3 436.7h0.9M193.1 433.0h0.9M190.4 429.6h0.9M189.1 436.3h0.9M196.2 438.5h0.9M190.6 436.1h0.9M195.4 436.2h0.9M198.2 433.0h0.9M190.7 432.7h0.9M194.5 432.6h0.9M194.0 427.4h0.9M190.4 433.8h0.9M191.4 436.8h0.9M194.5 437.6h0.9M193.8 437.5h0.9M193.4 429.4h0.9M190.6 424.8h0.9M191.3 428.7h0.9M194.0 428.1h0.9M195.8 426.3h0.9M190.7 432.3h0.9M191.8 429.3h0.9M192.8 430.8h0.9M188.1 431.3h0.9M189.6 424.2h0.9M192.4 427.0h0.9M196.8 437.3h0.9M187.0 434.3h0.9M187.3 428.4h0.9M193.5 428.4h0.9M193.3 434.9h0.9M193.6 420.8h0.9M178.5 414.1h0.9M187.2 421.9h0.9M193.1 433.9h0.9M194.5 430.6h0.9M187.7 437.5h0.9M192.6 435.2h0.9M201.5 430.3h0.9M193.8 431.3h0.9M188.3 427.8h0.9M193.6 430.9h0.9M190.2 427.3h0.9M200.8 426.3h0.9M190.8 427.8h0.9M198.0 437.9h0.9M190.8 435.4h0.9M191.3 428.3h0.9M194.6 430.6h0.9M192.0 432.7h0.9M199.3 435.7h0.9M192.0 434.4h0.9M190.4 435.9h0.9M190.4 426.9h0.9M199.9 435.2h0.9M194.1 427.8h0.9M194.4 432.9h0.9M187.1 428.3h0.9M192.8 431.8h0.9M193.0 425.1h0.9M195.9 432.1h0.9M197.0 433.7h0.9M191.7 436.3h0.9M194.6 424.0h0.9M178.0 440.7h0.9M194.6 430.8h0.9M192.3 438.5h0.9M191.3 435.9h0.9M189.7 436.6h0.9M193.7 426.5h0.9M184.8 426.2h0.9M197.8 433.7h0.9M194.4 428.7h0.9M191.4 429.3h0.9M186.4 418.6h0.9M180.2 435.1h0.9M187.9 431.3h0.9M189.8 425.1h0.9M196.5 429.2h0.9M189.7 429.6h0.9M198.6 429.6h0.9M192.1 431.7h0.9M187.7 438.9h0.9M192.5 429.3h0.9M188.5 433.1h0.9M185.6 430.0h0.9M188.3 427.6h0.9M187.3 425.5h0.9M192.3 430.8h0.9M193.0 436.1h0.9M192.1 427.3h0.9M207.9 449.5h0.9M192.3 431.7h0.9M192.1 434.0h0.9M190.1 433.2h0.9M192.7 434.5h0.9M198.2 428.1h0.9M196.5 429.8h0.9M181.4 427.4h0.9M190.1 429.5h0.9M175.6 435.4h0.9M193.3 437.7h0.9M192.4 428.5h0.9M189.8 436.4h0.9M196.5 427.1h0.9M194.8 426.6h0.9M189.4 425.6h0.9M187.2 427.0h0.9M191.3 423.4h0.9M192.7 431.7h0.9M188.6 427.3h0.9M183.1 434.0h0.9M194.9 428.8h0.9M198.8 430.3h0.9M183.1 437.1h0.9M195.1 430.6h0.9M200.4 432.3h0.9M173.0 425.0h0.9M198.3 432.7h0.9M195.1 430.7h0.9M189.1 430.8h0.9M179.0 417.3h0.9M207.7 444.7h0.9M186.9 423.1h0.9M187.2 430.4h0.9M191.7 432.1h0.9M186.9 423.1h0.9M194.5 430.7h0.9M193.3 440.8h0.9M203.5 429.8h0.9M193.2 429.8h0.9M195.7 430.2h0.9M193.5 434.4h0.9M194.1 426.8h0.9M197.6 442.4h0.9M193.1 434.2h0.9M186.0 430.8h0.9M193.1 426.6h0.9M174.4 439.3h0.9M196.9 431.2h0.9M191.6 420.9h0.9M191.0 428.0h0.9M189.6 431.4h0.9M177.7 440.4h0.9M193.1 432.5h0.9M174.9 432.9h0.9M190.2 417.2h0.9M199.3 435.9h0.9M191.6 435.3h0.9M193.5 432.4h0.9M193.2 429.7h0.9M195.2 433.9h0.9M193.5 430.9h0.9M187.3 419.2h0.9M186.2 443.5h0.9M190.2 426.6h0.9M190.3 432.1h0.9M186.5 419.5h0.9M199.1 433.1h0.9M193.8 429.1h0.9M181.5 421.5h0.9M189.2 427.7h0.9M183.7 437.3h0.9M195.2 425.4h0.9M191.1 431.2h0.9M200.0 427.4h0.9M186.0 430.9h0.9M186.2 429.0h0.9M190.5 435.5h0.9M194.3 434.8h0.9" stroke="#3a3a3a" stroke-width="0.9" stroke-opacity="0.22" fill="none"/>
<path d="M146.2 455.3h0.9M187.2 431.7h0.9M185.6 433.3h0.9M197.1 434.6h0.9M190.3 433.0h0.9M191.4 431.1h0.9M168.6 424.1h0.9M197.1 436.3h0.9M198.6 428.3h0.9M194.4 433.3h0.9M184.7 423.1h0.9M184.2 436.5h0.9M193.7 428.2h0.9M195.7 423.8h0.9M186.6 448.8h0.9M190.7 426.2h0.9M191.3 423.9h0.9M197.6 430.1h0.9M191.5 429.1h0.9M195.7 422.8h0.9M192.0 434.3h0.9M193.0 439.3h0.9M202.2 434.1h0.9M141.6 456.7h0.9M189.5 435.7h0.9M193.1 428.9h0.9M186.1 434.0h0.9M192.7 432.0h0.9M189.6 428.6h0.9M192.6 429.5h0.9M193.0 433.1h0.9M195.6 435.1h0.9M192.9 430.4h0.9M185.2 433.2h0.9M185.4 428.8h0.9M198.1 433.3h0.9M202.4 429.7h0.9M190.2 428.8h0.9M186.0 431.4h0.9M190.7 427.4h0.9M205.1 435.2h0.9M185.5 424.8h0.9M201.2 444.9h0.9M189.8 434.0h0.9M186.2 424.0h0.9M193.9 430.5h0.9M194.2 433.1h0.9M195.2 437.1h0.9M194.8 431.3h0.9M194.6 430.3h0.9M193.5 434.7h0.9M195.2 427.3h0.9M203.0 442.9h0.9M191.7 425.7h0.9M188.1 431.9h0.9M189.2 434.4h0.9M201.8 437.0h0.9M197.1 431.1h0.9M187.2 434.3h0.9M189.5 423.2h0.9M193.9 431.0h0.9M193.8 431.2h0.9M192.9 431.1h0.9M177.8 437.1h0.9M189.6 433.1h0.9M193.4 436.7h0.9M190.9 426.5h0.9M192.4 430.4h0.9M189.4 426.6h0.9M195.4 430.9h0.9M173.1 429.2h0.9M189.4 422.9h0.9M196.0 437.1h0.9M192.7 437.1h0.9M191.4 432.5h0.9M194.1 436.3h0.9M189.3 432.2h0.9M190.5 427.7h0.9M187.0 434.4h0.9M193.6 430.5h0.9M190.3 425.9h0.9M191.1 426.0h0.9M193.4 433.3h0.9M192.0 432.6h0.9M191.4 428.0h0.9M197.0 437.8h0.9M189.3 425.7h0.9M182.4 424.2h0.9M176.4 428.8h0.9M187.1 429.9h0.9M187.4 429.1h0.9M188.7 432.2h0.9M186.8 425.5h0.9M201.1 427.8h0.9M191.1 430.0h0.9M197.4 430.3h0.9M193.6 434.3h0.9M168.2 433.4h0.9M186.7 440.5h0.9M197.6 425.9h0.9M193.7 433.7h0.9M191.7 432.6h0.9M192.6 430.2h0.9M200.9 427.2h0.9M185.8 427.7h0.9M194.6 430.4h0.9M188.3 429.0h0.9M178.0 432.4h0.9M187.3 434.5h0.9M196.1 434.4h0.9M187.8 428.4h0.9M187.1 428.1h0.9M166.7 439.6h0.9M195.1 432.3h0.9M188.1 432.7h0.9M190.9 436.3h0.9M170.3 435.0h0.9M181.0 427.0h0.9M192.8 424.3h0.9M200.1 427.9h0.9M157.7 455.8h0.9M198.5 430.9h0.9M185.1 432.4h0.9M195.4 435.9h0.9M190.4 412.0h0.9M195.6 431.1h0.9M206.9 426.0h0.9M188.1 429.6h0.9M190.5 420.9h0.9M197.0 431.3h0.9M192.5 436.3h0.9M197.6 432.9h0.9M192.5 423.4h0.9M183.8 429.3h0.9M191.8 431.9h0.9M195.1 427.9h0.9M197.6 428.1h0.9M190.1 430.5h0.9M148.4 438.0h0.9M194.3 428.8h0.9M191.1 426.1h0.9M197.9 432.2h0.9M192.8 435.1h0.9M194.0 429.6h0.9M192.2 435.0h0.9M194.5 436.6h0.9M188.7 434.4h0.9M155.9 452.9h0.9M197.8 429.7h0.9M195.9 433.6h0.9M193.6 433.1h0.9M187.3 424.3h0.9M193.1 434.1h0.9M179.9 430.0h0.9M193.6 428.1h0.9M187.7 434.8h0.9M195.2 424.5h0.9M188.2 429.3h0.9M191.1 431.8h0.9M190.8 422.7h0.9M192.5 425.6h0.9M191.6 427.8h0.9M191.8 431.5h0.9M195.8 429.8h0.9M194.4 429.5h0.9M189.3 425.2h0.9M194.1 430.4h0.9M190.9 435.6h0.9M191.0 435.0h0.9M193.7 427.9h0.9M142.9 451.2h0.9M200.9 431.1h0.9M190.8 434.2h0.9M196.9 436.0h0.9M187.9 428.2h0.9M194.9 417.7h0.9M180.7 433.6h0.9M196.4 428.8h0.9M189.5 431.1h0.9M192.6 433.4h0.9M187.6 423.2h0.9M195.8 421.1h0.9M191.4 425.9h0.9M191.4 429.3h0.9M191.8 428.2h0.9M195.2 426.7h0.9M196.3 435.0h0.9M175.8 427.0h0.9M192.6 431.1h0.9M197.8 430.2h0.9" stroke="#3a3a3a" stroke-width="0.9" stroke-opacity="0.22" fill="none"/>
<path d="M187.9 433.1h0.9M180.2 421.4h0.9M191.2 424.2h0.9M193.2 431.3h0.9M189.6 430.2h0.9M199.0 436.5h0.9M187.5 431.2h0.9M188.1 418.2h0.9M191.0 433.8h0.9M191.7 427.0h0.9M172.6 437.7h0.9M187.2 431.7h0.9M188.9 430.6h0.9M193.6 438.3h0.9M188.2 433.2h0.9M195.9 428.7h0.9M194.7 427.9h0.9M191.6 433.0h0.9M194.9 433.1h0.9M188.5 431.8h0.9M194.5 435.5h0.9M187.6 432.9h0.9M190.5 434.7h0.9M193.5 432.0h0.9M190.4 432.8h0.9M186.3 434.2h0.9M192.8 429.7h0.9M183.6 435.6h0.9M190.8 436.0h0.9M187.6 426.2h0.9M188.2 433.0h0.9M185.6 433.8h0.9M191.3 436.4h0.9M189.9 434.3h0.9M192.3 432.4h0.9M194.1 429.1h0.9M194.1 433.0h0.9M195.2 430.4h0.9M162.6 424.8h0.9M197.0 421.9h0.9M192.4 433.2h0.9M195.5 426.6h0.9M194.3 435.6h0.9M195.6 433.6h0.9M193.3 434.0h0.9M178.5 420.4h0.9M190.5 432.4h0.9M191.3 430.0h0.9M184.4 431.1h0.9M199.4 420.5h0.9M191.5 432.4h0.9M191.5 431.1h0.9M192.5 436.2h0.9M203.8 446.6h0.9M195.2 422.3h0.9M193.3 428.1h0.9M192.5 427.2h0.9M186.9 429.0h0.9M197.4 434.1h0.9M190.9 431.6h0.9M193.3 440.6h0.9M195.0 432.1h0.9M193.5 428.7h0.9M193.2 433.5h0.9M205.5 425.7h0.9M193.2 431.3h0.9M189.3 426.6h0.9M196.9 438.0h0.9M178.3 437.4h0.9M195.6 432.9h0.9M195.3 435.9h0.9M183.3 429.7h0.9M190.9 433.1h0.9M196.5 431.6h0.9M194.2 426.9h0.9M189.2 434.6h0.9M195.5 429.0h0.9M188.0 433.0h0.9M196.0 421.4h0.9M193.6 435.8h0.9M193.8 430.7h0.9M192.7 437.5h0.9M193.4 425.2h0.9M193.7 429.9h0.9M192.5 424.7h0.9M193.9 425.5h0.9M168.2 433.8h0.9M190.9 428.7h0.9M198.5 440.6h0.9M195.1 429.5h0.9M194.5 427.4h0.9M193.0 437.2h0.9M193.7 434.3h0.9M197.0 435.2h0.9M197.1 434.5h0.9M201.7 435.9h0.9M195.2 425.8h0.9M188.2 426.5h0.9M193.0 424.8h0.9M195.5 431.9h0.9M195.6 435.2h0.9M190.9 434.8h0.9M194.4 439.3h0.9M194.5 434.5h0.9M192.6 434.2h0.9M192.6 432.8h0.9M189.8 435.2h0.9M189.2 428.1h0.9M186.4 431.2h0.9M190.6 425.2h0.9M191.4 435.3h0.9M173.2 421.2h0.9M187.0 429.9h0.9M185.7 422.7h0.9M189.2 426.0h0.9M193.1 429.0h0.9M193.8 431.1h0.9M192.8 425.4h0.9M200.4 427.1h0.9M182.8 431.6h0.9M196.3 424.4h0.9M195.4 435.3h0.9M192.3 429.1h0.9M196.6 421.0h0.9M184.7 427.3h0.9M190.6 429.9h0.9M195.0 433.9h0.9M185.7 434.9h0.9M192.3 431.4h0.9M186.0 442.5h0.9M196.1 431.3h0.9M195.9 442.4h0.9M194.5 436.9h0.9M193.8 428.8h0.9M198.5 431.2h0.9M193.7 430.8h0.9M193.6 437.0h0.9M193.4 424.6h0.9M191.3 432.1h0.9M191.2 430.4h0.9M203.8 428.5h0.9M191.3 427.7h0.9M186.5 428.1h0.9M195.5 432.1h0.9M191.9 439.8h0.9M188.2 434.1h0.9M193.8 417.6h0.9M196.5 434.7h0.9M191.3 428.5h0.9M182.2 411.5h0.9M192.1 426.6h0.9M187.3 428.8h0.9M188.6 426.9h0.9M189.7 428.4h0.9M190.5 427.0h0.9M197.6 435.0h0.9M191.7 431.1h0.9M193.2 438.2h0.9M193.8 428.4h0.9M188.6 431.7h0.9M195.6 430.4h0.9M197.0 431.8h0.9M181.8 422.7h0.9M186.5 429.5h0.9M185.7 426.7h0.9M188.8 421.9h0.9M188.5 424.1h0.9M196.5 429.3h0.9M177.8 413.6h0.9M197.1 430.2h0.9M195.7 431.7h0.9M196.0 429.5h0.9M194.7 431.8h0.9M187.2 433.3h0.9M194.7 437.0h0.9M192.4 429.8h0.9M196.4 441.6h0.9M192.9 433.2h0.9M191.2 434.3h0.9M189.9 433.7h0.9M195.5 432.3h0.9M195.0 435.5h0.9M192.4 431.2h0.9M194.2 438.1h0.9M191.8 431.8h0.9M191.9 430.7h0.9M192.9 428.6h0.9M202.8 431.1h0.9M195.7 432.3h0.9M188.9 428.2h0.9M194.9 425.9h0.9" stroke="#3a3a3a" stroke-width="0.9" stroke-opacity="0.22" fill="none"/>
<path d="M195.8 428.5h0.9M199.5 430.2h0.9M199.6 434.5h0.9M199.9 434.7h0.9M191.3 437.0h0.9M183.2 431.0h0.9M194.6 443.7h0.9M183.6 429.8h0.9M197.0 435.0h0.9M196.7 430.6h0.9M185.2 440.7h0.9M190.7 437.6h0.9M191.1 433.6h0.9M199.5 438.0h0.9M186.4 426.0h0.9M191.0 421.8h0.9M192.0 430.1h0.9M191.6 434.4h0.9M190.3 435.8h0.9M193.8 429.1h0.9M191.4 432.6h0.9M188.9 430.7h0.9M191.0 432.9h0.9M187.2 461.0h0.9M195.4 432.3h0.9M193.4 426.3h0.9M192.6 429.4h0.9M187.5 433.2h0.9M179.0 431.3h0.9M194.0 432.7h0.9M200.4 433.7h0.9M191.8 433.4h0.9M197.9 431.7h0.9M187.8 429.2h0.9M192.3 418.0h0.9M191.4 434.6h0.9M195.8 429.1h0.9M193.0 427.6h0.9M195.4 435.0h0.9M192.0 424.2h0.9M182.6 444.2h0.9M197.0 432.5h0.9M194.2 431.2h0.9M189.5 430.6h0.9M188.4 431.9h0.9M168.2 438.2h0.9M193.0 428.5h0.9M182.6 454.4h0.9M188.5 429.8h0.9M197.2 431.6h0.9M186.8 428.3h0.9M191.8 433.5h0.9M193.0 429.4h0.9M184.5 426.4h0.9M190.1 425.8h0.9M192.3 431.7h0.9M193.2 432.2h0.9M191.3 430.6h0.9M173.9 420.2h0.9M195.1 423.3h0.9M198.9 432.8h0.9M190.0 429.2h0.9M190.6 433.4h0.9M194.2 434.4h0.9M188.0 430.0h0.9M189.0 423.7h0.9M189.8 429.9h0.9M186.9 425.3h0.9M179.9 427.1h0.9M192.2 432.3h0.9M193.7 432.8h0.9M195.8 432.6h0.9M187.9 431.6h0.9M193.7 430.4h0.9M193.8 427.3h0.9M202.7 431.2h0.9M196.4 447.2h0.9M194.3 431.0h0.9M192.4 430.1h0.9M188.4 425.7h0.9M189.3 435.2h0.9M195.6 431.1h0.9M189.4 440.9h0.9M195.1 429.6h0.9M192.1 423.6h0.9M199.0 427.9h0.9M190.5 429.7h0.9M190.8 433.5h0.9M197.7 423.2h0.9M186.0 430.7h0.9M188.3 428.3h0.9M202.6 426.7h0.9M191.0 433.8h0.9M189.2 430.6h0.9M184.5 430.0h0.9M193.9 427.4h0.9M196.6 441.4h0.9M199.7 425.4h0.9M191.4 432.1h0.9M195.3 439.0h0.9M186.9 443.0h0.9M196.3 425.0h0.9M197.7 437.5h0.9M186.7 437.9h0.9M193.2 432.9h0.9M189.5 428.5h0.9M177.6 439.4h0.9M202.1 434.0h0.9M180.8 436.8h0.9M190.1 434.1h0.9M194.5 429.5h0.9M187.8 431.3h0.9M195.7 435.2h0.9M193.4 417.4h0.9M204.1 411.5h0.9M185.2 441.4h0.9M189.8 428.8h0.9M189.8 432.3h0.9M196.9 437.0h0.9M184.1 434.9h0.9M189.2 429.8h0.9M195.4 428.6h0.9M193.3 427.7h0.9M191.0 429.6h0.9M192.4 430.8h0.9M186.5 434.9h0.9M192.8 437.2h0.9M193.9 424.8h0.9M187.0 428.4h0.9M195.9 425.7h0.9M200.3 418.1h0.9M199.5 432.0h0.9M190.0 433.9h0.9M192.3 432.7h0.9M193.9 426.3h0.9M192.0 429.6h0.9M188.8 433.0h0.9M196.5 432.0h0.9M185.0 432.3h0.9M191.4 434.6h0.9M194.6 429.5h0.9M187.6 436.6h0.9M189.6 424.2h0.9M186.2 426.9h0.9M205.9 422.5h0.9M200.8 435.6h0.9M180.6 430.2h0.9M191.1 430.7h0.9M196.7 443.8h0.9M188.1 429.5h0.9M187.5 431.2h0.9M184.1 431.3h0.9M184.2 441.6h0.9M200.5 431.8h0.9M197.0 428.4h0.9M191.6 427.6h0.9M196.1 431.2h0.9M193.9 427.6h0.9M196.9 429.3h0.9M196.3 439.7h0.9M201.1 429.7h0.9M194.1 424.1h0.9M189.2 427.3h0.9M188.9 427.7h0.9M187.4 421.0h0.9M191.9 426.8h0.9M183.8 443.4h0.9M196.6 434.5h0.9M194.1 423.3h0.9M190.7 429.0h0.9M200.0 433.2h0.9M183.2 424.1h0.9M188.4 435.8h0.9M185.5 421.8h0.9M185.9 424.6h0.9M192.3 435.8h0.9M194.2 428.2h0.9M191.8 430.0h0.9M197.5 431.8h0.9M187.7 425.7h0.9M195.8 429.6h0.9M194.0 435.9h0.9M192.9 418.2h0.9M202.0 432.9h0.9M191.3 430.6h0.9M192.9 431.6h0.9M189.7 430.3h0.9M187.4 435.0h0.9M194.4 429.3h0.9M176.0 446.5h0.9" stroke="#3a3a3a" stroke-width="0.9" stroke-opacity="0.22" fill="none"/>
<path d="M190.6 431.6h0.9M193.1 423.5h0.9M188.0 439.0h0.9M190.9 429.8h0.9M192.6 431.0h0.9M191.4 437.8h0.9M191.8 430.4h0.9M149.9 430.8h0.9M198.2 430.5h0.9M191.2 429.0h0.9M188.5 431.6h0.9M188.6 430.7h0.9M189.6 438.4h0.9M193.1 429.4h0.9M190.1 436.4h0.9M194.9 433.5h0.9M190.9 432.8h0.9M195.0 429.5h0.9M190.9 424.3h0.9M190.3 432.9h0.9M185.4 427.8h0.9M194.1 435.4h0.9M193.5 428.5h0.9M167.5 420.9h0.9M198.1 430.5h0.9M192.9 431.8h0.9M187.9 434.3h0.9M188.1 431.5h0.9M186.8 427.4h0.9M187.1 433.0h0.9M190.6 434.0h0.9M196.5 431.1h0.9M192.5 433.9h0.9M190.3 431.3h0.9M188.0 431.3h0.9M189.6 416.4h0.9M195.4 437.7h0.9M190.9 425.3h0.9M188.8 433.1h0.9M186.4 426.7h0.9M198.8 434.7h0.9M196.6 418.3h0.9M188.5 432.8h0.9M184.3 418.2h0.9M191.2 434.3h0.9M187.0 433.4h0.9M164.4 451.9h0.9M187.3 428.4h0.9M193.2 431.4h0.9M192.5 425.0h0.9M194.0 427.1h0.9M194.8 431.6h0.9M183.1 421.4h0.9M195.5 433.3h0.9M190.7 425.4h0.9M192.6 431.6h0.9M196.4 430.6h0.9M192.4 423.4h0.9M193.3 432.5h0.9M193.5 429.1h0.9M190.1 431.2h0.9M191.8 428.9h0.9M186.3 437.7h0.9M177.6 430.0h0.9M199.6 431.6h0.9M190.0 429.6h0.9M200.3 430.3h0.9M190.7 425.8h0.9M186.0 432.4h0.9M195.7 429.5h0.9M192.7 429.0h0.9M191.7 432.2h0.9M190.3 422.6h0.9M194.5 432.4h0.9M187.9 433.0h0.9M191.1 428.8h0.9M196.3 450.0h0.9M195.1 417.9h0.9M181.9 431.9h0.9M190.1 426.6h0.9M194.7 435.2h0.9M195.9 430.0h0.9M189.0 428.4h0.9M187.8 434.6h0.9M193.2 425.9h0.9M190.8 431.4h0.9M193.5 428.7h0.9M194.2 430.3h0.9M185.2 430.6h0.9M186.4 429.4h0.9M200.8 434.9h0.9M192.6 432.4h0.9M188.0 429.5h0.9M192.7 443.6h0.9M192.8 434.8h0.9M185.7 439.2h0.9M186.4 434.6h0.9M192.2 424.3h0.9M189.1 432.5h0.9M197.8 433.7h0.9M198.1 446.0h0.9M195.2 431.6h0.9M193.4 433.5h0.9M193.3 427.5h0.9M196.0 428.2h0.9M192.3 431.3h0.9M192.4 429.8h0.9M187.6 427.5h0.9M198.0 438.2h0.9M194.5 431.9h0.9M186.0 430.9h0.9M195.0 430.6h0.9M193.6 429.6h0.9M190.4 434.1h0.9M188.1 428.1h0.9M199.1 443.8h0.9M192.6 446.8h0.9M191.7 432.7h0.9M189.3 427.6h0.9M195.6 431.5h0.9M190.9 421.3h0.9M191.1 422.6h0.9M194.8 427.5h0.9M192.3 431.9h0.9M187.4 421.3h0.9M183.8 431.3h0.9M191.1 431.5h0.9M189.6 432.9h0.9M195.9 433.8h0.9M199.3 429.9h0.9M189.9 431.6h0.9M196.4 433.8h0.9M194.6 434.4h0.9M194.3 426.4h0.9M187.1 430.6h0.9M190.9 431.2h0.9M171.2 439.9h0.9M190.8 431.3h0.9M190.3 432.6h0.9M194.1 427.3h0.9M200.5 431.5h0.9M196.0 432.9h0.9M182.9 427.5h0.9M193.8 431.7h0.9M193.4 427.5h0.9M190.1 430.1h0.9M178.8 442.4h0.9M195.4 429.5h0.9M193.3 435.2h0.9M193.6 429.9h0.9M180.2 446.8h0.9M182.7 435.1h0.9M194.3 426.8h0.9M187.9 433.6h0.9M185.5 427.1h0.9M191.5 425.7h0.9M180.7 427.5h0.9M193.7 437.5h0.9M195.1 428.6h0.9M195.9 433.9h0.9M190.8 431.6h0.9M192.4 430.6h0.9M186.3 428.7h0.9M179.0 448.3h0.9M182.8 430.4h0.9M190.6 433.2h0.9M192.6 429.7h0.9M193.7 434.8h0.9M180.2 433.0h0.9M197.5 432.9h0.9M192.6 430.8h0.9M188.8 431.0h0.9M166.9 425.2h0.9M191.2 424.0h0.9M178.7 431.4h0.9M189.5 419.2h0.9M185.4 424.7h0.9M191.1 437.6h0.9M195.7 428.3h0.9M194.3 435.8h0.9M192.2 418.2h0.9M193.3 429.8h0.9M198.0 426.3h0.9M190.5 429.9h0.9M191.6 425.3h0.9M189.5 422.4h0.9M189.7 432.1h0.9M198.1 432.6h0.9M188.5 431.8h0.9M193.2 434.1h0.9" stroke="#3a3a3a" stroke-width="0.9" stroke-opacity="0.22" fill="none"/>
<path d="M191.0 428.3h0.9M189.6 431.8h0.9M194.6 436.3h0.9M188.0 426.1h0.9M182.2 430.0h0.9M194.7 431.1h0.9M194.1 428.0h0.9M193.0 436.8h0.9M192.4 428.7h0.9M195.2 424.2h0.9M193.9 418.1h0.9M200.9 427.9h0.9M195.5 431.3h0.9M195.9 431.0h0.9M195.3 431.2h0.9M190.7 430.0h0.9M193.1 426.1h0.9M195.6 439.5h0.9M203.2 423.0h0.9M189.9 438.9h0.9M192.9 435.4h0.9M190.8 427.5h0.9M190.9 429.9h0.9M187.7 431.8h0.9M194.1 425.3h0.9M190.1 431.4h0.9M190.3 430.7h0.9M197.7 434.7h0.9M194.7 434.3h0.9M188.7 429.0h0.9M187.4 431.6h0.9M168.8 431.4h0.9M190.4 432.1h0.9M196.4 425.9h0.9M175.2 439.4h0.9M190.0 432.7h0.9M190.9 425.6h0.9M187.4 426.4h0.9M197.2 425.3h0.9M186.6 424.1h0.9M195.8 428.7h0.9M184.8 426.6h0.9M193.9 434.6h0.9M190.8 436.1h0.9M189.8 432.6h0.9M188.4 431.8h0.9M197.9 434.0h0.9M193.2 426.1h0.9M193.0 431.0h0.9M195.2 431.8h0.9M193.8 430.3h0.9M198.0 430.1h0.9M189.7 440.1h0.9M208.2 413.2h0.9M186.3 432.2h0.9M187.2 432.3h0.9M187.0 430.5h0.9M192.9 426.3h0.9M205.4 429.1h0.9M189.9 433.8h0.9M189.4 430.0h0.9M187.9 426.7h0.9M189.7 429.5h0.9M193.9 436.4h0.9M194.7 430.0h0.9M194.4 433.1h0.9M179.8 441.4h0.9M185.1 433.2h0.9M187.1 430.0h0.9M180.2 439.1h0.9M192.2 427.2h0.9M188.3 432.3h0.9M192.4 432.5h0.9M190.8 433.7h0.9M197.7 424.2h0.9M190.8 417.4h0.9M186.0 427.8h0.9M191.2 416.9h0.9M199.6 429.3h0.9M188.2 433.3h0.9M180.3 420.2h0.9M195.9 433.1h0.9M193.5 432.7h0.9M189.1 432.4h0.9M193.0 442.3h0.9M192.7 434.4h0.9M193.5 436.5h0.9M188.4 434.1h0.9M197.2 438.0h0.9M204.8 452.4h0.9M192.5 430.0h0.9M188.5 432.0h0.9M193.7 435.9h0.9M189.3 429.7h0.9M198.3 421.2h0.9M193.4 435.9h0.9M188.0 433.8h0.9M195.2 430.7h0.9M195.1 427.1h0.9M190.5 426.9h0.9M150.2 460.2h0.9M187.4 433.0h0.9M200.2 424.6h0.9M194.2 433.2h0.9M186.2 422.0h0.9M191.1 433.6h0.9M190.2 428.1h0.9M191.2 428.8h0.9M188.6 429.3h0.9M180.8 439.7h0.9M186.8 428.4h0.9M187.7 431.6h0.9M192.0 432.1h0.9M192.4 436.9h0.9M193.2 426.6h0.9M186.3 424.9h0.9M189.2 431.4h0.9M191.3 428.6h0.9M195.1 424.7h0.9M192.3 421.6h0.9M191.3 421.2h0.9M189.2 426.9h0.9M189.2 422.0h0.9M191.0 439.5h0.9M192.0 429.7h0.9M198.7 432.0h0.9M189.6 429.4h0.9M185.1 431.3h0.9M191.5 428.5h0.9M192.3 429.8h0.9M189.4 431.2h0.9M196.8 440.2h0.9M192.5 432.2h0.9M193.0 430.7h0.9M189.1 428.1h0.9M194.5 427.9h0.9M193.3 426.4h0.9M195.8 429.1h0.9M198.7 423.4h0.9M191.6 428.0h0.9M190.1 436.9h0.9M193.3 437.1h0.9M188.7 430.1h0.9M194.2 426.5h0.9M194.0 436.2h0.9M192.0 425.1h0.9M180.6 411.1h0.9M194.9 431.2h0.9M176.8 428.2h0.9M198.0 438.7h0.9M200.9 431.3h0.9M192.9 427.5h0.9M202.2 434.3h0.9M186.4 420.1h0.9M196.8 435.9h0.9M189.5 433.6h0.9M184.0 413.8h0.9M194.1 427.2h0.9M187.2 427.6h0.9M191.6 431.7h0.9M189.6 434.5h0.9M194.6 426.1h0.9M192.4 431.8h0.9M195.9 429.7h0.9M188.8 427.8h0.9M188.7 425.7h0.9M194.9 428.8h0.9M189.0 431.4h0.9M184.6 421.7h0.9M195.2 433.9h0.9M190.1 427.9h0.9M195.8 435.2h0.9M180.3 428.1h0.9M190.6 427.0h0.9M193.1 425.9h0.9M191.2 435.3h0.9M181.9 422.5h0.9M188.9 434.8h0.9M191.2 443.9h0.9M192.7 430.9h0.9M200.7 428.0h0.9M185.9 425.7h0.9M192.4 425.5h0.9M196.0 432.9h0.9M191.9 430.8h0.9M193.2 435.7h0.9M191.1 429.3h0.9M185.1 424.7h0.9M175.1 428.8h0.9M180.1 425.3h0.9M193.3 437.3h0.9" stroke="#3a3a3a" stroke-width="0.9" stroke-opacity="0.22" fill="none"/>
<rect x="120.1" y="405.5" width="91.2" height="60.5" fill="none" stroke="#000" stroke-width="1"/>
<line x1="184.2" y1="405.5" x2="184.2" y2="466" stroke="#000" stroke-width="1"/>
<line x1="120.1" y1="424.4" x2="211.3" y2="424.4" stroke="#000" stroke-width="1"/>
<line x1="118.6" y1="451.93" x2="120.1" y2="451.93" stroke="#000" stroke-width="0.8"/>
<line x1="118.6" y1="437.86" x2="120.1" y2="437.86" stroke="#000" stroke-width="0.8"/>
<line x1="118.6" y1="423.79" x2="120.1" y2="423.79" stroke="#000" stroke-width="0.8"/>
<line x1="118.6" y1="409.72" x2="120.1" y2="409.72" stroke="#000" stroke-width="0.8"/>
<line x1="120.1" y1="466" x2="120.1" y2="467.6" stroke="#000" stroke-width="0.8"/>
<line x1="126.96" y1="466" x2="126.96" y2="467" stroke="#000" stroke-width="0.8"/>
<line x1="136.04" y1="466" x2="136.04" y2="467" stroke="#000" stroke-width="0.8"/>
<line x1="142.9" y1="466" x2="142.9" y2="467.6" stroke="#000" stroke-width="0.8"/>
<line x1="149.76" y1="466" x2="149.76" y2="467" stroke="#000" stroke-width="0.8"/>
<line x1="158.84" y1="466" x2="158.84" y2="467" stroke="#000" stroke-width="0.8"/>
<line x1="165.7" y1="466" x2="165.7" y2="467.6" stroke="#000" stroke-width="0.8"/>
<line x1="172.56" y1="466" x2="172.56" y2="467" stroke="#000" stroke-width="0.8"/>
<line x1="181.64" y1="466" x2="181.64" y2="467" stroke="#000" stroke-width="0.8"/>
<line x1="188.5" y1="466" x2="188.5" y2="467.6" stroke="#000" stroke-width="0.8"/>
<line x1="195.36" y1="466" x2="195.36" y2="467" stroke="#000" stroke-width="0.8"/>
<line x1="204.44" y1="466" x2="204.44" y2="467" stroke="#000" stroke-width="0.8"/>
<text x="140.3" y="415.7" font-size="8.2">1.56%</text>
<text x="185.5" y="415.7" font-size="8.2">11.83%</text>
<text x="184.5" y="458.8" font-size="8.2">74.54%</text>
<text x="236" y="403.5" font-size="8.4">Activated MMP12</text>
<path d="M298.8 421.0h0.9M302.4 417.8h0.9M302.5 415.7h0.9M315.4 413.9h0.9M253.7 449.2h0.9M310.6 416.4h0.9M305.0 426.9h0.9M303.3 420.0h0.9M307.6 413.8h0.9M310.9 417.6h0.9M310.0 413.8h0.9M305.3 415.4h0.9M308.6 412.9h0.9M314.1 414.3h0.9M307.9 415.2h0.9M311.0 417.1h0.9M304.0 417.0h0.9M305.3 414.9h0.9M308.9 415.4h0.9M312.6 415.3h0.9M312.5 412.2h0.9M312.6 414.1h0.9M313.4 413.0h0.9M282.2 419.9h0.9M310.2 415.6h0.9M306.7 415.9h0.9M309.8 416.3h0.9M305.6 417.2h0.9M311.1 414.7h0.9M305.5 418.6h0.9M308.2 417.8h0.9M312.4 412.9h0.9M304.0 419.8h0.9M307.3 412.7h0.9M306.9 416.3h0.9M310.5 413.0h0.9M308.8 417.0h0.9M310.8 416.0h0.9M313.0 415.7h0.9M305.7 417.3h0.9M312.7 415.1h0.9M312.0 415.2h0.9M305.3 416.7h0.9M295.1 415.4h0.9M297.9 419.8h0.9M304.1 416.9h0.9M303.1 417.4h0.9M293.8 422.1h0.9M312.6 414.4h0.9M317.8 420.6h0.9M312.7 414.9h0.9M303.2 418.2h0.9M305.6 416.6h0.9M301.9 418.8h0.9M297.0 419.8h0.9M309.7 419.0h0.9M304.1 413.4h0.9M308.6 416.7h0.9M308.6 416.7h0.9M302.7 416.3h0.9M312.6 412.6h0.9M304.3 415.0h0.9M308.9 416.4h0.9M310.2 415.4h0.9M306.3 418.8h0.9M306.7 416.9h0.9M300.7 422.4h0.9M312.1 412.9h0.9M302.3 418.7h0.9M311.7 413.7h0.9M279.7 435.5h0.9M309.1 417.6h0.9M309.2 414.8h0.9M299.7 421.9h0.9M295.4 421.5h0.9M262.7 423.7h0.9M313.3 414.1h0.9M308.2 416.4h0.9M304.3 417.2h0.9M298.8 414.9h0.9M299.2 416.4h0.9M307.5 416.9h0.9M308.4 412.1h0.9M299.9 418.4h0.9M303.9 420.5h0.9M311.5 417.0h0.9M275.5 447.6h0.9M312.3 415.3h0.9M303.3 418.3h0.9M312.5 413.3h0.9M308.2 420.9h0.9M304.8 416.3h0.9M304.2 419.8h0.9M310.9 415.4h0.9M301.8 418.3h0.9M304.7 418.5h0.9M306.7 417.6h0.9M305.6 413.5h0.9M295.9 419.8h0.9M304.3 419.9h0.9M309.8 414.2h0.9M315.4 409.5h0.9M307.0 413.2h0.9M310.2 417.4h0.9M305.6 415.6h0.9M310.1 413.2h0.9M297.6 415.2h0.9M309.4 415.0h0.9M301.3 418.7h0.9M309.5 416.5h0.9M305.5 415.3h0.9M305.6 418.3h0.9M317.1 413.1h0.9M303.8 417.8h0.9M315.0 414.5h0.9M299.0 420.8h0.9M312.3 414.4h0.9M308.4 417.3h0.9M306.8 417.9h0.9M312.7 416.5h0.9M316.0 409.2h0.9M317.8 410.2h0.9M297.1 420.1h0.9M292.9 417.8h0.9M303.5 418.5h0.9M306.0 415.5h0.9M301.9 422.1h0.9M308.1 416.7h0.9M306.8 417.2h0.9M307.4 415.3h0.9M259.4 435.4h0.9M309.9 414.9h0.9M310.1 415.9h0.9M303.4 415.6h0.9M291.1 430.2h0.9M298.9 416.8h0.9M286.3 442.8h0.9M304.1 415.8h0.9M309.6 416.9h0.9M311.8 416.4h0.9M290.2 421.5h0.9" stroke="#3a3a3a" stroke-width="0.9" stroke-opacity="0.35" fill="none"/>
<path d="M304.6 416.3h0.9M303.0 422.1h0.9M305.7 420.0h0.9M305.6 414.7h0.9M313.7 414.4h0.9M311.6 413.5h0.9M307.0 418.8h0.9M298.0 419.3h0.9M316.5 414.0h0.9M312.3 415.3h0.9M308.9 415.3h0.9M307.7 417.6h0.9M298.2 422.1h0.9M302.8 411.8h0.9M311.7 413.0h0.9M299.5 421.8h0.9M304.4 420.5h0.9M310.1 412.1h0.9M303.8 417.2h0.9M291.3 457.2h0.9M306.2 416.0h0.9M318.0 412.5h0.9M305.6 417.0h0.9M313.9 416.0h0.9M304.8 416.1h0.9M295.5 421.0h0.9M283.8 428.0h0.9M306.8 415.7h0.9M310.4 416.0h0.9M298.3 417.7h0.9M309.7 413.1h0.9M302.9 416.6h0.9M306.2 412.8h0.9M309.5 415.0h0.9M307.5 418.1h0.9M262.1 455.3h0.9M302.3 415.8h0.9M301.4 419.0h0.9M298.9 422.0h0.9M312.8 416.6h0.9M308.1 415.6h0.9M300.7 416.8h0.9M312.6 415.8h0.9M308.0 419.4h0.9M302.3 416.9h0.9M300.6 419.1h0.9M286.5 418.3h0.9M308.9 419.6h0.9M312.3 413.6h0.9M313.3 414.5h0.9M283.0 444.7h0.9M304.7 416.6h0.9M310.9 412.5h0.9M307.4 416.7h0.9M313.1 417.5h0.9M301.3 419.2h0.9M301.4 418.6h0.9M286.2 419.3h0.9M309.3 414.5h0.9M306.1 417.1h0.9M308.4 418.9h0.9M287.8 418.3h0.9M313.9 413.2h0.9M310.0 414.2h0.9M303.9 416.7h0.9M306.1 417.4h0.9M297.9 419.3h0.9M298.0 416.9h0.9M312.0 418.7h0.9M317.3 416.0h0.9M316.4 412.1h0.9M315.6 412.7h0.9M302.2 417.1h0.9M306.9 417.7h0.9M309.6 416.1h0.9M303.9 414.2h0.9M308.9 411.5h0.9M315.7 409.0h0.9M307.4 418.1h0.9M305.5 413.6h0.9M307.0 418.8h0.9M304.4 418.1h0.9M242.0 413.7h0.9M312.6 413.4h0.9M290.5 435.5h0.9M304.9 417.9h0.9M302.5 416.9h0.9M308.1 415.2h0.9M301.7 416.8h0.9M304.1 445.0h0.9M305.5 417.7h0.9M246.4 452.5h0.9M299.2 422.6h0.9M302.0 420.2h0.9M317.6 413.0h0.9M309.4 415.1h0.9M308.1 411.1h0.9M308.9 416.7h0.9M253.4 434.8h0.9M303.4 415.9h0.9M303.0 418.3h0.9M267.7 429.8h0.9M311.1 415.0h0.9M310.9 418.3h0.9M270.5 427.4h0.9M309.9 415.3h0.9M317.5 410.5h0.9M317.4 410.7h0.9M308.1 415.8h0.9M305.8 418.8h0.9M306.8 418.0h0.9M302.5 419.3h0.9M299.5 417.1h0.9M304.4 411.4h0.9M305.3 413.9h0.9M311.3 415.0h0.9M304.1 417.2h0.9M309.3 415.7h0.9M249.7 457.0h0.9M282.3 425.7h0.9M299.8 418.7h0.9M307.1 419.2h0.9M307.7 413.1h0.9M311.3 409.9h0.9M302.9 417.5h0.9M309.1 413.5h0.9M303.8 418.1h0.9M308.1 418.8h0.9M312.2 411.5h0.9M305.3 417.6h0.9M305.0 409.8h0.9M313.5 414.3h0.9M300.1 420.6h0.9M306.6 417.8h0.9M307.7 416.5h0.9M288.2 423.4h0.9M315.5 412.3h0.9M302.3 418.4h0.9M311.0 416.0h0.9M311.0 416.2h0.9M304.5 419.9h0.9M275.2 453.3h0.9" stroke="#3a3a3a" stroke-width="0.9" stroke-opacity="0.35" fill="none"/>
<path d="M305.3 418.9h0.9M315.5 412.9h0.9M303.7 417.6h0.9M295.1 419.1h0.9M307.6 415.5h0.9M309.4 417.4h0.9M292.3 451.0h0.9M305.6 413.2h0.9M316.2 413.1h0.9M307.0 417.3h0.9M314.5 414.5h0.9M298.7 420.0h0.9M278.3 436.6h0.9M292.2 418.1h0.9M308.7 413.8h0.9M303.9 417.2h0.9M302.7 417.3h0.9M311.1 415.1h0.9M305.1 416.8h0.9M312.1 414.2h0.9M304.7 415.8h0.9M283.6 448.0h0.9M306.1 417.0h0.9M312.1 414.1h0.9M306.7 410.7h0.9M305.3 416.8h0.9M305.8 420.6h0.9M315.7 410.9h0.9M307.6 414.7h0.9M307.3 416.5h0.9M249.4 447.8h0.9M317.2 413.8h0.9M232.8 448.0h0.9M316.3 416.3h0.9M310.0 415.7h0.9M308.9 417.4h0.9M306.4 416.7h0.9M309.6 415.5h0.9M305.8 414.6h0.9M307.9 415.0h0.9M309.4 414.6h0.9M308.8 417.2h0.9M294.4 421.5h0.9M300.4 415.7h0.9M309.2 416.4h0.9M302.6 418.0h0.9M310.1 414.9h0.9M252.4 450.1h0.9M304.5 416.2h0.9M288.5 420.1h0.9M307.7 414.7h0.9M312.6 409.6h0.9M303.5 416.8h0.9M308.8 417.5h0.9M303.8 417.1h0.9M314.3 414.9h0.9M303.6 415.1h0.9M315.8 417.9h0.9M312.4 416.1h0.9M301.1 424.4h0.9M308.9 413.2h0.9M296.3 417.2h0.9M305.5 417.1h0.9M305.3 417.8h0.9M303.4 420.2h0.9M314.4 412.5h0.9M313.3 413.6h0.9M309.7 413.5h0.9M312.4 411.2h0.9M304.9 421.8h0.9M305.7 417.9h0.9M305.8 418.4h0.9M315.0 414.2h0.9M294.5 437.3h0.9M291.6 438.8h0.9M308.3 414.0h0.9M271.5 410.4h0.9M308.3 415.7h0.9M303.8 420.3h0.9M306.4 414.3h0.9M299.7 422.1h0.9M302.1 418.6h0.9M288.8 429.0h0.9M300.0 419.2h0.9M298.1 419.2h0.9M308.0 415.9h0.9M308.1 417.3h0.9M308.3 416.5h0.9M304.9 418.9h0.9M309.7 415.8h0.9M310.6 413.3h0.9M299.4 438.6h0.9M298.2 418.7h0.9M309.9 414.2h0.9M289.6 434.7h0.9M316.2 414.0h0.9M305.8 416.4h0.9M313.6 416.1h0.9M304.7 416.6h0.9M307.3 416.6h0.9M312.7 414.3h0.9M250.0 426.7h0.9M314.4 412.9h0.9M317.5 412.2h0.9M306.4 416.4h0.9M307.1 417.2h0.9M312.1 409.4h0.9M311.1 414.8h0.9M309.7 415.4h0.9M305.5 415.3h0.9M312.8 416.2h0.9M317.6 410.1h0.9M298.6 418.5h0.9M302.6 422.4h0.9M309.0 415.4h0.9M310.5 415.4h0.9M302.3 419.9h0.9M316.1 421.8h0.9M303.4 417.4h0.9M307.0 416.0h0.9M302.0 417.9h0.9M313.4 412.7h0.9M315.3 416.6h0.9M303.9 415.0h0.9M290.4 421.2h0.9M308.6 414.2h0.9M304.3 418.8h0.9M306.4 418.6h0.9M306.4 417.4h0.9M313.9 413.1h0.9M307.1 415.6h0.9M300.5 414.2h0.9M310.7 418.3h0.9M280.1 463.9h0.9M303.8 416.7h0.9M315.4 416.0h0.9M293.9 421.2h0.9M299.7 415.9h0.9M307.3 415.6h0.9M312.2 416.1h0.9M301.2 418.3h0.9" stroke="#3a3a3a" stroke-width="0.9" stroke-opacity="0.35" fill="none"/>
<path d="M307.6 418.4h0.9M305.2 419.1h0.9M302.7 417.9h0.9M266.7 448.3h0.9M306.9 414.8h0.9M300.0 414.1h0.9M308.5 415.9h0.9M314.3 412.4h0.9M300.2 414.9h0.9M263.8 422.3h0.9M302.6 416.5h0.9M308.2 414.9h0.9M306.4 417.5h0.9M305.1 417.6h0.9M312.2 412.1h0.9M311.6 417.3h0.9M315.6 414.5h0.9M297.7 416.1h0.9M308.5 413.7h0.9M315.6 414.1h0.9M312.9 417.1h0.9M303.7 419.7h0.9M305.5 415.5h0.9M311.4 411.1h0.9M305.6 417.9h0.9M315.8 416.3h0.9M297.6 416.4h0.9M309.0 416.0h0.9M300.3 417.9h0.9M302.4 417.7h0.9M308.3 415.1h0.9M311.2 427.0h0.9M317.5 413.3h0.9M303.3 418.4h0.9M315.8 411.3h0.9M289.0 436.8h0.9M292.9 424.2h0.9M303.9 424.8h0.9M248.8 431.7h0.9M290.7 414.1h0.9M307.6 416.9h0.9M311.1 412.1h0.9M306.2 417.0h0.9M311.6 414.1h0.9M310.9 415.0h0.9M312.5 412.1h0.9M302.7 412.3h0.9M300.7 419.2h0.9M308.5 415.8h0.9M314.6 415.6h0.9M302.6 416.0h0.9M313.2 415.3h0.9M309.6 414.2h0.9M306.7 416.6h0.9M315.0 413.3h0.9M306.4 416.4h0.9M306.1 416.3h0.9M317.0 412.0h0.9M305.2 416.6h0.9M310.3 415.1h0.9M303.9 414.0h0.9M306.1 417.0h0.9M309.4 415.0h0.9M305.4 417.8h0.9M313.2 415.5h0.9M307.8 412.3h0.9M316.3 413.7h0.9M314.0 412.1h0.9M302.9 417.6h0.9M236.0 453.5h0.9M304.7 425.2h0.9M311.1 412.4h0.9M307.5 416.0h0.9M301.7 418.6h0.9M305.9 413.0h0.9M306.6 415.0h0.9M302.3 417.4h0.9M313.9 410.9h0.9M303.5 418.4h0.9M309.0 416.6h0.9M308.8 415.0h0.9M304.6 419.1h0.9M307.4 430.1h0.9M300.6 420.7h0.9M311.6 414.9h0.9M313.9 411.4h0.9M308.0 414.3h0.9M305.2 423.6h0.9M308.5 414.9h0.9M305.3 415.0h0.9M305.9 417.5h0.9M308.2 416.7h0.9M311.7 413.3h0.9M309.1 413.9h0.9M308.8 414.4h0.9M309.9 413.2h0.9M306.4 415.4h0.9M299.0 419.6h0.9M253.4 444.2h0.9M313.6 412.0h0.9M306.5 418.1h0.9M312.2 414.3h0.9M302.7 415.5h0.9M301.7 416.7h0.9M268.8 442.7h0.9M307.3 415.3h0.9M304.6 414.7h0.9M305.6 419.0h0.9M303.2 418.0h0.9M270.8 434.8h0.9M307.3 417.4h0.9M305.7 415.1h0.9M311.1 414.2h0.9M306.9 416.1h0.9M304.0 417.5h0.9M315.6 413.6h0.9M300.6 415.0h0.9M315.7 412.1h0.9M308.6 419.1h0.9M305.6 420.3h0.9M298.9 421.6h0.9M308.7 416.1h0.9M302.6 417.0h0.9M305.1 416.9h0.9M312.3 412.3h0.9M302.4 420.0h0.9M312.4 417.6h0.9M296.1 429.1h0.9M307.3 418.3h0.9M309.8 416.4h0.9M302.9 417.4h0.9M302.0 418.0h0.9M312.0 413.3h0.9M300.4 420.5h0.9M311.7 416.5h0.9M309.1 415.3h0.9M296.8 422.4h0.9M303.1 416.7h0.9M304.1 419.4h0.9M306.0 421.6h0.9M307.4 415.9h0.9M305.3 420.5h0.9" stroke="#3a3a3a" stroke-width="0.9" stroke-opacity="0.35" fill="none"/>
<path d="M308.6 415.7h0.9M302.4 422.0h0.9M297.7 423.0h0.9M303.6 415.9h0.9M302.4 418.0h0.9M307.5 414.7h0.9M313.1 412.4h0.9M296.2 419.9h0.9M305.7 414.5h0.9M307.9 417.6h0.9M302.3 417.9h0.9M306.7 413.6h0.9M303.7 419.5h0.9M308.7 416.8h0.9M313.4 412.5h0.9M307.6 417.0h0.9M260.3 450.2h0.9M308.3 419.9h0.9M310.6 411.5h0.9M294.0 421.5h0.9M302.3 417.9h0.9M309.3 417.8h0.9M311.3 415.3h0.9M306.4 418.7h0.9M316.4 413.0h0.9M305.8 418.5h0.9M308.9 415.8h0.9M313.9 414.2h0.9M309.0 418.2h0.9M307.0 417.4h0.9M313.4 416.7h0.9M312.5 412.0h0.9M284.7 437.8h0.9M309.6 412.5h0.9M296.5 420.6h0.9M316.0 415.1h0.9M308.9 416.5h0.9M310.4 417.1h0.9M303.1 416.9h0.9M307.0 419.3h0.9M305.3 416.5h0.9M301.7 417.0h0.9M306.8 417.7h0.9M315.1 414.2h0.9M305.9 414.3h0.9M316.9 412.8h0.9M300.3 418.7h0.9M305.0 416.7h0.9M305.4 414.1h0.9M307.5 416.2h0.9M308.1 417.9h0.9M306.0 418.5h0.9M310.9 416.2h0.9M304.7 421.0h0.9M305.7 415.4h0.9M311.7 422.0h0.9M294.1 422.0h0.9M299.1 418.8h0.9M307.3 417.0h0.9M317.5 412.1h0.9M309.2 415.3h0.9M306.1 414.9h0.9M308.8 414.9h0.9M302.1 419.1h0.9M314.8 414.0h0.9M304.8 419.3h0.9M278.8 427.6h0.9M315.6 413.5h0.9M307.9 414.4h0.9M311.1 411.1h0.9M308.9 412.4h0.9M304.6 419.3h0.9M312.6 412.9h0.9M298.8 422.3h0.9M300.6 417.0h0.9M313.4 415.9h0.9M302.5 413.5h0.9M315.8 413.1h0.9M304.7 421.1h0.9M310.2 413.1h0.9M290.0 450.8h0.9M308.6 419.2h0.9M292.1 443.9h0.9M303.2 418.0h0.9M305.7 414.2h0.9M310.2 415.5h0.9M311.7 421.0h0.9M310.1 412.4h0.9M303.8 418.5h0.9M299.3 418.4h0.9M300.8 417.8h0.9M314.9 412.3h0.9M307.7 416.0h0.9M240.7 432.3h0.9M310.5 413.1h0.9M314.6 412.4h0.9M303.2 419.3h0.9M309.4 416.5h0.9M299.6 417.6h0.9M309.8 412.4h0.9M301.7 420.1h0.9M315.1 413.4h0.9M310.0 416.0h0.9M311.3 415.5h0.9M303.4 418.1h0.9M293.5 423.6h0.9M303.4 418.9h0.9M311.9 414.5h0.9M305.9 416.9h0.9M311.6 413.6h0.9M306.7 413.7h0.9M299.2 421.5h0.9M308.3 412.8h0.9M302.8 417.6h0.9M307.3 415.1h0.9M307.7 416.3h0.9M309.6 417.1h0.9M311.6 413.0h0.9M309.3 421.7h0.9M311.1 415.1h0.9M304.2 416.6h0.9M309.8 416.7h0.9M302.1 418.0h0.9M306.9 412.9h0.9M306.7 418.9h0.9M308.0 418.7h0.9M300.9 416.5h0.9M306.6 414.6h0.9M304.3 417.7h0.9M300.5 421.9h0.9M315.3 417.8h0.9M272.7 443.6h0.9M309.4 418.1h0.9M306.0 418.0h0.9M316.5 413.2h0.9M316.4 411.8h0.9M308.6 425.1h0.9M313.0 415.1h0.9M316.8 411.2h0.9M295.7 419.5h0.9M309.8 417.8h0.9M306.4 416.4h0.9" stroke="#3a3a3a" stroke-width="0.9" stroke-opacity="0.35" fill="none"/>
<rect x="223.75" y="405.5" width="95.75" height="60.5" fill="none" stroke="#000" stroke-width="1"/>
<line x1="291.25" y1="405.5" x2="291.25" y2="466" stroke="#000" stroke-width="1"/>
<line x1="223.75" y1="424.5" x2="319.5" y2="424.5" stroke="#000" stroke-width="1"/>
<line x1="222.25" y1="451.93" x2="223.75" y2="451.93" stroke="#000" stroke-width="0.8"/>
<line x1="222.25" y1="437.86" x2="223.75" y2="437.86" stroke="#000" stroke-width="0.8"/>
<line x1="222.25" y1="423.79" x2="223.75" y2="423.79" stroke="#000" stroke-width="0.8"/>
<line x1="222.25" y1="409.72" x2="223.75" y2="409.72" stroke="#000" stroke-width="0.8"/>
<line x1="223.75" y1="466" x2="223.75" y2="467.6" stroke="#000" stroke-width="0.8"/>
<line x1="230.96" y1="466" x2="230.96" y2="467" stroke="#000" stroke-width="0.8"/>
<line x1="240.48" y1="466" x2="240.48" y2="467" stroke="#000" stroke-width="0.8"/>
<line x1="247.69" y1="466" x2="247.69" y2="467.6" stroke="#000" stroke-width="0.8"/>
<line x1="254.89" y1="466" x2="254.89" y2="467" stroke="#000" stroke-width="0.8"/>
<line x1="264.42" y1="466" x2="264.42" y2="467" stroke="#000" stroke-width="0.8"/>
<line x1="271.62" y1="466" x2="271.62" y2="467.6" stroke="#000" stroke-width="0.8"/>
<line x1="278.83" y1="466" x2="278.83" y2="467" stroke="#000" stroke-width="0.8"/>
<line x1="288.36" y1="466" x2="288.36" y2="467" stroke="#000" stroke-width="0.8"/>
<line x1="295.56" y1="466" x2="295.56" y2="467.6" stroke="#000" stroke-width="0.8"/>
<line x1="302.77" y1="466" x2="302.77" y2="467" stroke="#000" stroke-width="0.8"/>
<line x1="312.29" y1="466" x2="312.29" y2="467" stroke="#000" stroke-width="0.8"/>
<text x="241" y="418" font-size="8.2">0.73%</text>
<text x="279.5" y="416" font-size="8.2">96.22%</text>
<text x="295" y="460" font-size="8.2">1.26%</text>
<text x="329" y="388.3" font-size="12.5" font-weight="bold">E</text>
<line x1="368.5" y1="479" x2="368.5" y2="383.5" stroke="#000" stroke-width="0.8"/>
<line x1="368.5" y1="479" x2="428.5" y2="479" stroke="#000" stroke-width="0.8"/>
<line x1="366.7" y1="479" x2="368.5" y2="479" stroke="#000" stroke-width="0.8"/>
<text x="364.5" y="481.16" font-size="6" text-anchor="end">0</text>
<line x1="366.7" y1="468.4" x2="368.5" y2="468.4" stroke="#000" stroke-width="0.8"/>
<text x="364.5" y="470.56" font-size="6" text-anchor="end">100</text>
<line x1="366.7" y1="457.8" x2="368.5" y2="457.8" stroke="#000" stroke-width="0.8"/>
<text x="364.5" y="459.96" font-size="6" text-anchor="end">200</text>
<line x1="366.7" y1="447.2" x2="368.5" y2="447.2" stroke="#000" stroke-width="0.8"/>
<text x="364.5" y="449.36" font-size="6" text-anchor="end">300</text>
<line x1="366.7" y1="436.6" x2="368.5" y2="436.6" stroke="#000" stroke-width="0.8"/>
<text x="364.5" y="438.76" font-size="6" text-anchor="end">400</text>
<line x1="366.7" y1="426" x2="368.5" y2="426" stroke="#000" stroke-width="0.8"/>
<text x="364.5" y="428.16" font-size="6" text-anchor="end">500</text>
<line x1="366.7" y1="415.4" x2="368.5" y2="415.4" stroke="#000" stroke-width="0.8"/>
<text x="364.5" y="417.56" font-size="6" text-anchor="end">600</text>
<line x1="366.7" y1="404.8" x2="368.5" y2="404.8" stroke="#000" stroke-width="0.8"/>
<text x="364.5" y="406.96" font-size="6" text-anchor="end">700</text>
<line x1="366.7" y1="394.2" x2="368.5" y2="394.2" stroke="#000" stroke-width="0.8"/>
<text x="364.5" y="396.36" font-size="6" text-anchor="end">800</text>
<line x1="366.7" y1="383.6" x2="368.5" y2="383.6" stroke="#000" stroke-width="0.8"/>
<text x="364.5" y="385.76" font-size="6" text-anchor="end">900</text>
<rect x="378" y="474.8" width="14" height="4.2" fill="#fff" stroke="#000" stroke-width="0.8"/>
<line x1="385" y1="477" x2="385" y2="473" stroke="#000" stroke-width="0.8"/>
<line x1="383" y1="473" x2="387" y2="473" stroke="#000" stroke-width="0.8"/>
<line x1="383" y1="477" x2="387" y2="477" stroke="#000" stroke-width="0.8"/>
<rect x="392" y="468" width="14" height="11" fill="#888" stroke="#000" stroke-width="0.8"/>
<line x1="399" y1="471.5" x2="399" y2="464.5" stroke="#000" stroke-width="0.8"/>
<line x1="397" y1="464.5" x2="401" y2="464.5" stroke="#000" stroke-width="0.8"/>
<line x1="397" y1="471.5" x2="401" y2="471.5" stroke="#000" stroke-width="0.8"/>
<rect x="406" y="399.2" width="14" height="79.8" fill="#000" stroke="#000" stroke-width="0.8"/>
<line x1="413" y1="399" x2="413" y2="391" stroke="#000" stroke-width="0.8"/>
<line x1="411" y1="391" x2="415" y2="391" stroke="#000" stroke-width="0.8"/>
<rect x="374.8" y="381" width="3.6" height="3.6" fill="#fff" stroke="#000" stroke-width="0.7"/>
<text x="379.8" y="385.2" font-size="6.1">Medium</text>
<rect x="374.8" y="387.5" width="3.6" height="3.6" fill="#888" stroke="#000" stroke-width="0.7"/>
<text x="379.8" y="391.7" font-size="6.1">Inact MMP12</text>
<rect x="374.8" y="394.5" width="3.6" height="3.6" fill="#000" stroke="#000" stroke-width="0.7"/>
<text x="379.8" y="398.7" font-size="6.1">Act MMP12</text>
<text x="350.1" y="430.7" font-size="6.9" text-anchor="middle" font-weight="bold" transform="rotate(-90 350.1 430.7)">IL-6 (pg/ml)</text>
<line x1="458" y1="478.3" x2="458" y2="379" stroke="#000" stroke-width="0.8"/>
<line x1="458" y1="478.3" x2="517" y2="478.3" stroke="#000" stroke-width="0.8"/>
<line x1="456.2" y1="478.3" x2="458" y2="478.3" stroke="#000" stroke-width="0.8"/>
<text x="454" y="480.46" font-size="6" text-anchor="end">0</text>
<line x1="456.2" y1="461.78" x2="458" y2="461.78" stroke="#000" stroke-width="0.8"/>
<text x="454" y="463.94" font-size="6" text-anchor="end">100</text>
<line x1="456.2" y1="445.26" x2="458" y2="445.26" stroke="#000" stroke-width="0.8"/>
<text x="454" y="447.42" font-size="6" text-anchor="end">200</text>
<line x1="456.2" y1="428.74" x2="458" y2="428.74" stroke="#000" stroke-width="0.8"/>
<text x="454" y="430.9" font-size="6" text-anchor="end">300</text>
<line x1="456.2" y1="412.22" x2="458" y2="412.22" stroke="#000" stroke-width="0.8"/>
<text x="454" y="414.38" font-size="6" text-anchor="end">400</text>
<line x1="456.2" y1="395.7" x2="458" y2="395.7" stroke="#000" stroke-width="0.8"/>
<text x="454" y="397.86" font-size="6" text-anchor="end">500</text>
<line x1="456.2" y1="379.18" x2="458" y2="379.18" stroke="#000" stroke-width="0.8"/>
<text x="454" y="381.34" font-size="6" text-anchor="end">600</text>
<rect x="468" y="472.9" width="13.2" height="5.4" fill="#fff" stroke="#000" stroke-width="0.8"/>
<line x1="474.6" y1="475.5" x2="474.6" y2="470.5" stroke="#000" stroke-width="0.8"/>
<line x1="472.6" y1="470.5" x2="476.6" y2="470.5" stroke="#000" stroke-width="0.8"/>
<line x1="472.6" y1="475.5" x2="476.6" y2="475.5" stroke="#000" stroke-width="0.8"/>
<rect x="481.2" y="465.6" width="13.4" height="12.7" fill="#888" stroke="#000" stroke-width="0.8"/>
<line x1="487.9" y1="469.5" x2="487.9" y2="462" stroke="#000" stroke-width="0.8"/>
<line x1="485.9" y1="462" x2="489.9" y2="462" stroke="#000" stroke-width="0.8"/>
<line x1="485.9" y1="469.5" x2="489.9" y2="469.5" stroke="#000" stroke-width="0.8"/>
<rect x="494.6" y="402.3" width="13.9" height="76" fill="#000" stroke="#000" stroke-width="0.8"/>
<line x1="501.55" y1="402" x2="501.55" y2="384.4" stroke="#000" stroke-width="0.8"/>
<line x1="499.55" y1="384.4" x2="503.55" y2="384.4" stroke="#000" stroke-width="0.8"/>
<rect x="460.8" y="378.6" width="3.6" height="3.6" fill="#fff" stroke="#000" stroke-width="0.7"/>
<text x="465.5" y="382.8" font-size="6.1">Medium</text>
<rect x="460.8" y="386.3" width="3.6" height="3.6" fill="#888" stroke="#000" stroke-width="0.7"/>
<text x="465.5" y="390.5" font-size="6.1">Inact MMP12</text>
<rect x="460.8" y="393.4" width="3.6" height="3.6" fill="#000" stroke="#000" stroke-width="0.7"/>
<text x="465.5" y="397.6" font-size="6.1">Act MMP12</text>
<text x="437.6" y="428.6" font-size="7.35" text-anchor="middle" font-weight="bold" transform="rotate(-90 437.6 428.6)">IL-10 (pg/ml)</text>
<text x="7" y="503.5" font-size="16" font-weight="bold">F</text>
<line x1="42.7" y1="503.9" x2="166.1" y2="503.9" stroke="#000" stroke-width="1"/>
<line x1="166.1" y1="503.9" x2="166.1" y2="573.1" stroke="#000" stroke-width="1"/>
<line x1="42.7" y1="503.4" x2="42.7" y2="573.6" stroke="#000" stroke-width="1"/>
<line x1="42.2" y1="573.1" x2="166.6" y2="573.1" stroke="#000" stroke-width="1"/>
<line x1="41.2" y1="566.18" x2="42.7" y2="566.18" stroke="#000" stroke-width="0.8"/>
<line x1="41.2" y1="559.26" x2="42.7" y2="559.26" stroke="#000" stroke-width="0.8"/>
<line x1="41.2" y1="552.34" x2="42.7" y2="552.34" stroke="#000" stroke-width="0.8"/>
<line x1="41.2" y1="545.42" x2="42.7" y2="545.42" stroke="#000" stroke-width="0.8"/>
<line x1="41.2" y1="538.5" x2="42.7" y2="538.5" stroke="#000" stroke-width="0.8"/>
<line x1="41.2" y1="531.58" x2="42.7" y2="531.58" stroke="#000" stroke-width="0.8"/>
<line x1="41.2" y1="524.66" x2="42.7" y2="524.66" stroke="#000" stroke-width="0.8"/>
<line x1="41.2" y1="517.74" x2="42.7" y2="517.74" stroke="#000" stroke-width="0.8"/>
<line x1="41.2" y1="510.82" x2="42.7" y2="510.82" stroke="#000" stroke-width="0.8"/>
<line x1="42.7" y1="573.1" x2="42.7" y2="575.3" stroke="#000" stroke-width="0.8"/>
<line x1="51.99" y1="573.1" x2="51.99" y2="574.4" stroke="#000" stroke-width="0.8"/>
<line x1="57.42" y1="573.1" x2="57.42" y2="574.4" stroke="#000" stroke-width="0.8"/>
<line x1="61.27" y1="573.1" x2="61.27" y2="574.4" stroke="#000" stroke-width="0.8"/>
<line x1="64.26" y1="573.1" x2="64.26" y2="574.4" stroke="#000" stroke-width="0.8"/>
<line x1="66.71" y1="573.1" x2="66.71" y2="574.4" stroke="#000" stroke-width="0.8"/>
<line x1="68.77" y1="573.1" x2="68.77" y2="574.4" stroke="#000" stroke-width="0.8"/>
<line x1="70.56" y1="573.1" x2="70.56" y2="574.4" stroke="#000" stroke-width="0.8"/>
<line x1="72.14" y1="573.1" x2="72.14" y2="574.4" stroke="#000" stroke-width="0.8"/>
<line x1="73.55" y1="573.1" x2="73.55" y2="575.3" stroke="#000" stroke-width="0.8"/>
<line x1="82.84" y1="573.1" x2="82.84" y2="574.4" stroke="#000" stroke-width="0.8"/>
<line x1="88.27" y1="573.1" x2="88.27" y2="574.4" stroke="#000" stroke-width="0.8"/>
<line x1="92.12" y1="573.1" x2="92.12" y2="574.4" stroke="#000" stroke-width="0.8"/>
<line x1="95.11" y1="573.1" x2="95.11" y2="574.4" stroke="#000" stroke-width="0.8"/>
<line x1="97.56" y1="573.1" x2="97.56" y2="574.4" stroke="#000" stroke-width="0.8"/>
<line x1="99.62" y1="573.1" x2="99.62" y2="574.4" stroke="#000" stroke-width="0.8"/>
<line x1="101.41" y1="573.1" x2="101.41" y2="574.4" stroke="#000" stroke-width="0.8"/>
<line x1="102.99" y1="573.1" x2="102.99" y2="574.4" stroke="#000" stroke-width="0.8"/>
<line x1="104.4" y1="573.1" x2="104.4" y2="575.3" stroke="#000" stroke-width="0.8"/>
<line x1="113.69" y1="573.1" x2="113.69" y2="574.4" stroke="#000" stroke-width="0.8"/>
<line x1="119.12" y1="573.1" x2="119.12" y2="574.4" stroke="#000" stroke-width="0.8"/>
<line x1="122.97" y1="573.1" x2="122.97" y2="574.4" stroke="#000" stroke-width="0.8"/>
<line x1="125.96" y1="573.1" x2="125.96" y2="574.4" stroke="#000" stroke-width="0.8"/>
<line x1="128.41" y1="573.1" x2="128.41" y2="574.4" stroke="#000" stroke-width="0.8"/>
<line x1="130.47" y1="573.1" x2="130.47" y2="574.4" stroke="#000" stroke-width="0.8"/>
<line x1="132.26" y1="573.1" x2="132.26" y2="574.4" stroke="#000" stroke-width="0.8"/>
<line x1="133.84" y1="573.1" x2="133.84" y2="574.4" stroke="#000" stroke-width="0.8"/>
<line x1="135.25" y1="573.1" x2="135.25" y2="575.3" stroke="#000" stroke-width="0.8"/>
<line x1="144.54" y1="573.1" x2="144.54" y2="574.4" stroke="#000" stroke-width="0.8"/>
<line x1="149.97" y1="573.1" x2="149.97" y2="574.4" stroke="#000" stroke-width="0.8"/>
<line x1="153.82" y1="573.1" x2="153.82" y2="574.4" stroke="#000" stroke-width="0.8"/>
<line x1="156.81" y1="573.1" x2="156.81" y2="574.4" stroke="#000" stroke-width="0.8"/>
<line x1="159.26" y1="573.1" x2="159.26" y2="574.4" stroke="#000" stroke-width="0.8"/>
<line x1="161.32" y1="573.1" x2="161.32" y2="574.4" stroke="#000" stroke-width="0.8"/>
<line x1="163.11" y1="573.1" x2="163.11" y2="574.4" stroke="#000" stroke-width="0.8"/>
<line x1="164.69" y1="573.1" x2="164.69" y2="574.4" stroke="#000" stroke-width="0.8"/>
<line x1="166.1" y1="573.1" x2="166.1" y2="575.3" stroke="#000" stroke-width="0.8"/>
<text x="25.6" y="506.4" font-size="7.8">50</text>
<text x="29.2" y="578" font-size="7.8">0</text>
<path d="M43.2 562.3 43.8 561.74 44.4 563.21 45 562.15 45.6 562.69 46.2 562.2 46.8 562.46 47.4 562.25 48 560.66 48.6 560.09 49.2 558.05 49.8 556.15 50.4 555.74 51 552.4 51.6 551.14 52.2 551.09 52.8 548.91 53.4 547.67 54 546.55 54.6 547.29 55.2 545.46 55.8 545.18 56.4 545.34 57 546.02 57.6 546.87 58.2 548.17 58.8 549.94 59.4 552.34 60 553.5 60.6 555.58 61.2 557.67 61.8 560.55 62.4 561.6 63 563.18 63.6 564.62 64.2 566.03 64.8 567.71 65.4 569.64 66 570.9 66.6 571.12 67.2 571.72 67.8 571.27 68.4 572.36 69 572.26 69.6 572.7 70.2 572.78 70.8 572.82 71.4 572.9 72 572.97 72.6 573.01 73.2 573.04 73.8 573.06 74.4 573.08 75 573.08 75.6 573.09 76.2 573.09 76.8 573.1 77.4 573.1 78 573.1 78.6 573.1 79.2 573.1 79.8 573.1 80.4 573.1 81 573.1 81.6 573.1 82.2 573.1 L82.2 573.1 L43.2 573.1Z" fill="#666666" stroke="none" stroke-width="1"/>
<path d="M43.2 563.87 43.8 564.42 44.4 564.61 45 563.64 45.6 563.36 46.2 562.3 46.8 562.49 47.4 561.77 48 560.15 48.6 558.35 49.2 557.1 49.8 555.45 50.4 553.61 51 552.39 51.6 550.76 52.2 549.34 52.8 547.54 53.4 547.68 54 545.76 54.6 545.21 55.2 544.55 55.8 544.32 56.4 544.55 57 545.89 57.6 546.06 58.2 547.1 58.8 549.38 59.4 551.54 60 552.28 60.6 553.71 61.2 556.8 61.8 557.64 62.4 559.1 63 561.37 63.6 563.77 64.2 564.9 64.8 566.29 65.4 567.36 66 568.97 66.6 569.8 67.2 570.17 67.8 570.02 68.4 570.89 69 571.38 69.6 571.82 70.2 572.09 70.8 572.4 71.4 572.59 72 572.74 72.6 572.85 73.2 572.92 73.8 572.98 74.4 573.01 75 573.04 75.6 573.06 76.2 573.07 76.8 573.08 77.4 573.09 78 573.09 78.6 573.1 79.2 573.1 79.8 573.1 80.4 573.1 81 573.1 81.6 573.1 82.2 573.1 82.8 573.1 83.4 573.1 84 573.1 84.6 573.1 85.2 573.1 85.8 573.1 86.4 573.1 87 573.1 87.6 573.1" fill="none" stroke="#1a1aa8" stroke-width="1.1" stroke-linejoin="round"/>
<path d="M43.2 572.41 43.8 572.33 44.4 572.13 45 572.36 45.6 572.16 46.2 572.1 46.8 571.91 47.4 571.12 48 570.91 48.6 570.44 49.2 571.18 49.8 570.53 50.4 570.36 51 569.49 51.6 569.56 52.2 569.82 52.8 569.53 53.4 569.58 54 568.69 54.6 569 55.2 568.75 55.8 569.22 56.4 569.68 57 569.21 57.6 569.28 58.2 569.31 58.8 570.45 59.4 570.06 60 570.44 60.6 570.68 61.2 570.73 61.8 570.77 62.4 570.99 63 569.8 63.6 568.67 64.2 566.23 64.8 564.62 65.4 559.64 66 554.26 66.6 547.89 67.2 542.63 67.8 538.11 68.4 533.74 69 532.74 69.6 534.56 70.2 537.2 70.8 542.29 71.4 548.51 72 554.26 72.6 560.62 73.2 564.77 73.8 567.97 74.4 569.14 75 570.98 75.6 572.32 76.2 572.61 76.8 572.9 77.4 573.01 78 573.06 78.6 573.09 79.2 573.1 79.8 573.1 80.4 573.1 81 573.1 81.6 573.1 82.2 573.1 82.8 573.1 83.4 573.1 84 573.1 84.6 573.1 85.2 573.1 85.8 573.1 86.4 573.1 87 573.1 87.6 573.1 88.2 573.1 88.8 573.1 89.4 573.1 90 573.1 90.6 573.1 91.2 573.1 91.8 573.1 92.4 573.1" fill="none" stroke="#33cc33" stroke-width="1" stroke-linejoin="round"/>
<path d="M43.2 571.46 43.9 570.54 44.6 569.46 45.3 570.63 46 569.56 46.7 569.5 47.4 567.99 48.1 569.3 48.8 568.88 49.5 568.9 50.2 568.75 50.9 567.36 51.6 568.21 52.3 568.78 53 569.45 53.7 569.35 54.4 569.84 55.1 569.17 55.8 570.71 56.5 570.63 57.2 569.43 57.9 570.97 58.6 569.73 59.3 570.46 60 569.86 60.7 569.7 61.4 568.03 62.1 568.16 62.8 568.18 63.5 567.5 64.2 567.36 64.9 567.29 65.6 566.7 66.3 566.33 67 566.87 67.7 567.94 68.4 567.34 69.1 569.08 69.8 569.4 70.5 569.86 71.2 570.26 71.9 571.56 72.6 570.98 73.3 572.15 74 571.98 74.7 572.14 75.4 571.54 76.1 570.65 76.8 568.48 77.5 567.05 78.2 563.98 78.9 560.99 79.6 557.14 80.3 554.26 81 551.71 81.7 551.18 82.4 551.38 83.1 553.32 83.8 554.37 84.5 555.77 85.2 558.78 85.9 561.52 86.6 563.47 87.3 564.84 88 566.77 88.7 568 89.4 570.11 90.1 570.16 90.8 571.44 91.5 572 92.2 572.43 92.9 572.75 93.6 572.86 94.3 572.96 95 573.02 95.7 573.06 96.4 573.08 97.1 573.09 97.8 573.09 98.5 573.1 99.2 573.1 99.9 573.1 100.6 573.1 101.3 573.1 102 573.1 102.7 573.1 103.4 573.1 104.1 573.1 104.8 573.1 105.5 573.1 106.2 573.1 106.9 573.1 107.6 573.1" fill="none" stroke="#d43a3a" stroke-width="0.9" stroke-linejoin="round"/>
<line x1="42.7" y1="573.1" x2="166.1" y2="573.1" stroke="#000" stroke-width="1"/>
<line x1="58" y1="509.2" x2="68" y2="509.2" stroke="#1a1aa8" stroke-width="1.4"/>
<text x="74" y="512.2" font-size="8.6">Medium:</text>
<text x="129.6" y="512.2" font-size="8.6">1.30%</text>
<line x1="58" y1="518.7" x2="68" y2="518.7" stroke="#33cc33" stroke-width="1.4"/>
<text x="74" y="521.7" font-size="8.6">Inact MMP12: 8.05%</text>
<line x1="58" y1="528.8" x2="68" y2="528.8" stroke="#cc2222" stroke-width="1.4"/>
<text x="74" y="531.8" font-size="8.6">Act MMP12:</text>
<text x="131.3" y="531.8" font-size="8.6">50.03%</text>
<line x1="73.4" y1="544.9" x2="158.5" y2="544.9" stroke="#000" stroke-width="1"/>
<line x1="73.4" y1="540.9" x2="73.4" y2="548.9" stroke="#000" stroke-width="1.3"/>
<line x1="158.5" y1="540.9" x2="158.5" y2="548.9" stroke="#000" stroke-width="1.3"/>
<text x="117.8" y="554.2" font-size="7">M1</text>
<text x="42.5" y="586.5" font-size="7">10<tspan font-size="4.5" dy="-3">0</tspan></text>
<text x="71.3" y="586.5" font-size="7">10<tspan font-size="4.5" dy="-3">1</tspan></text>
<text x="101.1" y="586.5" font-size="7">10<tspan font-size="4.5" dy="-3">2</tspan></text>
<text x="131" y="586.5" font-size="7">10<tspan font-size="4.5" dy="-3">3</tspan></text>
<text x="155" y="586.5" font-size="7">10<tspan font-size="4.5" dy="-3">4</tspan></text>
<line x1="48" y1="595.8" x2="148.5" y2="595.8" stroke="#000" stroke-width="1.2"/>
<path d="M154.5 595.8L147.5 592.8L147.5 598.8Z" fill="#000" stroke="none" stroke-width="1"/>
<text x="74.6" y="609.5" font-size="9.5">pStat3</text>
<line x1="196.3" y1="505.2" x2="319.4" y2="505.2" stroke="#000" stroke-width="1"/>
<line x1="319.4" y1="505.2" x2="319.4" y2="573.8" stroke="#000" stroke-width="1"/>
<line x1="196.3" y1="504.7" x2="196.3" y2="574.3" stroke="#000" stroke-width="1"/>
<line x1="195.8" y1="573.8" x2="319.9" y2="573.8" stroke="#000" stroke-width="1"/>
<line x1="194.8" y1="566.94" x2="196.3" y2="566.94" stroke="#000" stroke-width="0.8"/>
<line x1="194.8" y1="560.08" x2="196.3" y2="560.08" stroke="#000" stroke-width="0.8"/>
<line x1="194.8" y1="553.22" x2="196.3" y2="553.22" stroke="#000" stroke-width="0.8"/>
<line x1="194.8" y1="546.36" x2="196.3" y2="546.36" stroke="#000" stroke-width="0.8"/>
<line x1="194.8" y1="539.5" x2="196.3" y2="539.5" stroke="#000" stroke-width="0.8"/>
<line x1="194.8" y1="532.64" x2="196.3" y2="532.64" stroke="#000" stroke-width="0.8"/>
<line x1="194.8" y1="525.78" x2="196.3" y2="525.78" stroke="#000" stroke-width="0.8"/>
<line x1="194.8" y1="518.92" x2="196.3" y2="518.92" stroke="#000" stroke-width="0.8"/>
<line x1="194.8" y1="512.06" x2="196.3" y2="512.06" stroke="#000" stroke-width="0.8"/>
<line x1="196.3" y1="573.8" x2="196.3" y2="576" stroke="#000" stroke-width="0.8"/>
<line x1="205.56" y1="573.8" x2="205.56" y2="575.1" stroke="#000" stroke-width="0.8"/>
<line x1="210.98" y1="573.8" x2="210.98" y2="575.1" stroke="#000" stroke-width="0.8"/>
<line x1="214.83" y1="573.8" x2="214.83" y2="575.1" stroke="#000" stroke-width="0.8"/>
<line x1="217.81" y1="573.8" x2="217.81" y2="575.1" stroke="#000" stroke-width="0.8"/>
<line x1="220.25" y1="573.8" x2="220.25" y2="575.1" stroke="#000" stroke-width="0.8"/>
<line x1="222.31" y1="573.8" x2="222.31" y2="575.1" stroke="#000" stroke-width="0.8"/>
<line x1="224.09" y1="573.8" x2="224.09" y2="575.1" stroke="#000" stroke-width="0.8"/>
<line x1="225.67" y1="573.8" x2="225.67" y2="575.1" stroke="#000" stroke-width="0.8"/>
<line x1="227.07" y1="573.8" x2="227.07" y2="576" stroke="#000" stroke-width="0.8"/>
<line x1="236.34" y1="573.8" x2="236.34" y2="575.1" stroke="#000" stroke-width="0.8"/>
<line x1="241.76" y1="573.8" x2="241.76" y2="575.1" stroke="#000" stroke-width="0.8"/>
<line x1="245.6" y1="573.8" x2="245.6" y2="575.1" stroke="#000" stroke-width="0.8"/>
<line x1="248.59" y1="573.8" x2="248.59" y2="575.1" stroke="#000" stroke-width="0.8"/>
<line x1="251.02" y1="573.8" x2="251.02" y2="575.1" stroke="#000" stroke-width="0.8"/>
<line x1="253.08" y1="573.8" x2="253.08" y2="575.1" stroke="#000" stroke-width="0.8"/>
<line x1="254.87" y1="573.8" x2="254.87" y2="575.1" stroke="#000" stroke-width="0.8"/>
<line x1="256.44" y1="573.8" x2="256.44" y2="575.1" stroke="#000" stroke-width="0.8"/>
<line x1="257.85" y1="573.8" x2="257.85" y2="576" stroke="#000" stroke-width="0.8"/>
<line x1="267.11" y1="573.8" x2="267.11" y2="575.1" stroke="#000" stroke-width="0.8"/>
<line x1="272.53" y1="573.8" x2="272.53" y2="575.1" stroke="#000" stroke-width="0.8"/>
<line x1="276.38" y1="573.8" x2="276.38" y2="575.1" stroke="#000" stroke-width="0.8"/>
<line x1="279.36" y1="573.8" x2="279.36" y2="575.1" stroke="#000" stroke-width="0.8"/>
<line x1="281.8" y1="573.8" x2="281.8" y2="575.1" stroke="#000" stroke-width="0.8"/>
<line x1="283.86" y1="573.8" x2="283.86" y2="575.1" stroke="#000" stroke-width="0.8"/>
<line x1="285.64" y1="573.8" x2="285.64" y2="575.1" stroke="#000" stroke-width="0.8"/>
<line x1="287.22" y1="573.8" x2="287.22" y2="575.1" stroke="#000" stroke-width="0.8"/>
<line x1="288.62" y1="573.8" x2="288.62" y2="576" stroke="#000" stroke-width="0.8"/>
<line x1="297.89" y1="573.8" x2="297.89" y2="575.1" stroke="#000" stroke-width="0.8"/>
<line x1="303.31" y1="573.8" x2="303.31" y2="575.1" stroke="#000" stroke-width="0.8"/>
<line x1="307.15" y1="573.8" x2="307.15" y2="575.1" stroke="#000" stroke-width="0.8"/>
<line x1="310.14" y1="573.8" x2="310.14" y2="575.1" stroke="#000" stroke-width="0.8"/>
<line x1="312.57" y1="573.8" x2="312.57" y2="575.1" stroke="#000" stroke-width="0.8"/>
<line x1="314.63" y1="573.8" x2="314.63" y2="575.1" stroke="#000" stroke-width="0.8"/>
<line x1="316.42" y1="573.8" x2="316.42" y2="575.1" stroke="#000" stroke-width="0.8"/>
<line x1="317.99" y1="573.8" x2="317.99" y2="575.1" stroke="#000" stroke-width="0.8"/>
<line x1="319.4" y1="573.8" x2="319.4" y2="576" stroke="#000" stroke-width="0.8"/>
<text x="178.9" y="508.3" font-size="7.8">50</text>
<text x="187.1" y="578.5" font-size="7.8">0</text>
<path d="M196.5 542.62 197 539.79 197.5 539.1 198 538.38 198.5 538.3 199 536.12 199.5 536.03 200 535.67 200.5 534.37 201 534.66 201.5 533.66 202 532.8 202.5 533.41 203 533.52 203.5 532.53 204 530.33 204.5 530.62 205 530.54 205.5 531.34 206 532.04 206.5 532.56 207 531.96 207.5 532.82 208 534.92 208.5 534.28 209 535.47 209.5 536.91 210 537.79 210.5 541.88 211 543.18 211.5 542.82 212 546.87 212.5 547.05 213 549.97 213.5 551.87 214 554.82 214.5 557.24 215 558.58 215.5 560.82 216 562.4 216.5 566.38 217 565.87 217.5 568.71 218 568.22 218.5 570.65 219 572.27 219.5 571.57 220 572.34 220.5 573.34 221 573.8 L221 573.8 L196.5 573.8Z" fill="#666666" stroke="none" stroke-width="1"/>
<path d="M196.8 571.88 197.4 571.79 198 571.44 198.6 571.33 199.2 571.17 199.8 570.87 200.4 570.33 201 569.82 201.6 568.54 202.2 569.25 202.8 568.35 203.4 567.41 204 567.09 204.6 567.52 205.2 567.54 205.8 568.12 206.4 568.08 207 567.56 207.6 567.33 208.2 567.18 208.8 566.5 209.4 566.09 210 566.14 210.6 565.58 211.2 564.33 211.8 563.43 212.4 562.24 213 560.17 213.6 558.02 214.2 554.9 214.8 551.45 215.4 549.56 216 545.64 216.6 543.29 217.2 539.95 217.8 535.8 218.4 533.04 219 530.28 219.6 529.12 220.2 528.46 220.8 526.83 221.4 526.51 222 528.73 222.6 530.28 223.2 533.31 223.8 538.27 224.4 543.04 225 548.32 225.6 552.39 226.2 556.92 226.8 560.27 227.4 564.06 228 566.96 228.6 568.84 229.2 570 229.8 571.37 230.4 572.44 231 572.92 231.6 573.36 232.2 573.45 232.8 573.61 233.4 573.69 234 573.74 234.6 573.77 235.2 573.78 235.8 573.79 236.4 573.8 237 573.8 237.6 573.8 238.2 573.8 238.8 573.8 239.4 573.8 240 573.8 240.6 573.8 241.2 573.8" fill="none" stroke="#1a1aa8" stroke-width="1.1" stroke-linejoin="round"/>
<path d="M196.8 572.72 197.4 572.72 198 571.73 198.6 571.88 199.2 571.4 199.8 571.18 200.4 570.84 201 569.95 201.6 569.53 202.2 568.77 202.8 569.12 203.4 568.62 204 568.05 204.6 567.38 205.2 568.46 205.8 567.28 206.4 568.11 207 567.16 207.6 568.24 208.2 568.24 208.8 567.96 209.4 567.2 210 567.42 210.6 567.75 211.2 566.61 211.8 566.21 212.4 565.55 213 563.25 213.6 562.22 214.2 559.86 214.8 558.21 215.4 554.63 216 551.94 216.6 548.7 217.2 545.18 217.8 542.97 218.4 539.48 219 537.18 219.6 534.73 220.2 534.47 220.8 533.26 221.4 533.27 222 534.52 222.6 535.97 223.2 538.4 223.8 542.88 224.4 547.17 225 550.6 225.6 555.07 226.2 559.72 226.8 562.06 227.4 565.07 228 567.05 228.6 568.77 229.2 571.29 229.8 571.79 230.4 572.38 231 572.88 231.6 573.33 232.2 573.51 232.8 573.63 233.4 573.71 234 573.75 234.6 573.77 235.2 573.79 235.8 573.79 236.4 573.8 237 573.8 237.6 573.8 238.2 573.8 238.8 573.8 239.4 573.8 240 573.8 240.6 573.8 241.2 573.8 241.8 573.8 242.4 573.8 243 573.8 243.6 573.8 244.2 573.8 244.8 573.8 245.4 573.8 246 573.8" fill="none" stroke="#33cc33" stroke-width="1" stroke-linejoin="round"/>
<path d="M196.8 573.22 197.5 572.89 198.2 572.17 198.9 571.43 199.6 571.02 200.3 569.52 201 568.77 201.7 567.59 202.4 565.78 203.1 564.11 203.8 563.6 204.5 562.99 205.2 561.29 205.9 560.88 206.6 561.29 207.3 562.41 208 562.31 208.7 563.57 209.4 565.24 210.1 566.03 210.8 568.21 211.5 568.28 212.2 569.74 212.9 569.84 213.6 570.77 214.3 569.29 215 570.08 215.7 568.88 216.4 566.6 217.1 564.98 217.8 564.4 218.5 565.3 219.2 564.28 219.9 564.75 220.6 565.34 221.3 565.18 222 566.08 222.7 566.75 223.4 566.15 224.1 565.86 224.8 564.66 225.5 562.58 226.2 561.38 226.9 560.84 227.6 557.95 228.3 555.44 229 553.78 229.7 552.81 230.4 549.78 231.1 549.11 231.8 548.4 232.5 548.36 233.2 549.34 233.9 551.79 234.6 552.46 235.3 555.21 236 558.17 236.7 561.4 237.4 564.24 238.1 565.65 238.8 566.21 239.5 567.78 240.2 568.03 240.9 568.48 241.6 568.97 242.3 568.54 243 570.18 243.7 569.55 244.4 571.07 245.1 570.92 245.8 572.22 246.5 572.41 247.2 572.68 247.9 573.4 248.6 573.55 249.3 573.59 250 573.69 250.7 573.74 251.4 573.77 252.1 573.79 252.8 573.79 253.5 573.8 254.2 573.8 254.9 573.8 255.6 573.8 256.3 573.8 257 573.8 257.7 573.8 258.4 573.8 259.1 573.8 259.8 573.8 260.5 573.8 261.2 573.8" fill="none" stroke="#d43a3a" stroke-width="0.9" stroke-linejoin="round"/>
<line x1="196.3" y1="573.8" x2="319.4" y2="573.8" stroke="#000" stroke-width="1"/>
<line x1="220.5" y1="509.2" x2="230.5" y2="509.2" stroke="#1a1aa8" stroke-width="1.4"/>
<text x="237.2" y="512.2" font-size="8.6">Medium:</text>
<text x="294.6" y="512.2" font-size="8.6">4.38%</text>
<line x1="220.5" y1="518.7" x2="230.5" y2="518.7" stroke="#33cc33" stroke-width="1.4"/>
<text x="237.2" y="521.7" font-size="8.6">Inact MMP12:&#160; 5.46%</text>
<line x1="220.5" y1="528.8" x2="230.5" y2="528.8" stroke="#cc2222" stroke-width="1.4"/>
<text x="237.2" y="531.8" font-size="8.6">Act MMP12:</text>
<text x="294.6" y="531.8" font-size="8.6">38.4%</text>
<line x1="227.3" y1="544.9" x2="312.5" y2="544.9" stroke="#000" stroke-width="1"/>
<line x1="227.3" y1="540.9" x2="227.3" y2="548.9" stroke="#000" stroke-width="1.3"/>
<line x1="312.5" y1="540.9" x2="312.5" y2="548.9" stroke="#000" stroke-width="1.3"/>
<text x="270" y="554.2" font-size="7">M1</text>
<text x="193.6" y="586.5" font-size="7">10<tspan font-size="4.5" dy="-3">0</tspan></text>
<text x="225" y="586.5" font-size="7">10<tspan font-size="4.5" dy="-3">1</tspan></text>
<text x="254" y="586.5" font-size="7">10<tspan font-size="4.5" dy="-3">2</tspan></text>
<text x="284.5" y="586.5" font-size="7">10<tspan font-size="4.5" dy="-3">3</tspan></text>
<text x="313" y="586.5" font-size="7">10<tspan font-size="4.5" dy="-3">4</tspan></text>
<line x1="200.3" y1="595.8" x2="301" y2="595.8" stroke="#000" stroke-width="1.2"/>
<path d="M307 595.8L300 592.8L300 598.8Z" fill="#000" stroke="none" stroke-width="1"/>
<text x="237.4" y="609.5" font-size="9.5">pNFkB</text>
<line x1="350.1" y1="502.3" x2="472.4" y2="502.3" stroke="#000" stroke-width="1"/>
<line x1="472.4" y1="502.3" x2="472.4" y2="573.1" stroke="#000" stroke-width="1"/>
<line x1="350.1" y1="501.8" x2="350.1" y2="573.6" stroke="#000" stroke-width="1"/>
<line x1="349.6" y1="573.1" x2="472.9" y2="573.1" stroke="#000" stroke-width="1"/>
<line x1="348.6" y1="566.02" x2="350.1" y2="566.02" stroke="#000" stroke-width="0.8"/>
<line x1="348.6" y1="558.94" x2="350.1" y2="558.94" stroke="#000" stroke-width="0.8"/>
<line x1="348.6" y1="551.86" x2="350.1" y2="551.86" stroke="#000" stroke-width="0.8"/>
<line x1="348.6" y1="544.78" x2="350.1" y2="544.78" stroke="#000" stroke-width="0.8"/>
<line x1="348.6" y1="537.7" x2="350.1" y2="537.7" stroke="#000" stroke-width="0.8"/>
<line x1="348.6" y1="530.62" x2="350.1" y2="530.62" stroke="#000" stroke-width="0.8"/>
<line x1="348.6" y1="523.54" x2="350.1" y2="523.54" stroke="#000" stroke-width="0.8"/>
<line x1="348.6" y1="516.46" x2="350.1" y2="516.46" stroke="#000" stroke-width="0.8"/>
<line x1="348.6" y1="509.38" x2="350.1" y2="509.38" stroke="#000" stroke-width="0.8"/>
<line x1="350.1" y1="573.1" x2="350.1" y2="575.3" stroke="#000" stroke-width="0.8"/>
<line x1="359.3" y1="573.1" x2="359.3" y2="574.4" stroke="#000" stroke-width="0.8"/>
<line x1="364.69" y1="573.1" x2="364.69" y2="574.4" stroke="#000" stroke-width="0.8"/>
<line x1="368.51" y1="573.1" x2="368.51" y2="574.4" stroke="#000" stroke-width="0.8"/>
<line x1="371.47" y1="573.1" x2="371.47" y2="574.4" stroke="#000" stroke-width="0.8"/>
<line x1="373.89" y1="573.1" x2="373.89" y2="574.4" stroke="#000" stroke-width="0.8"/>
<line x1="375.94" y1="573.1" x2="375.94" y2="574.4" stroke="#000" stroke-width="0.8"/>
<line x1="377.71" y1="573.1" x2="377.71" y2="574.4" stroke="#000" stroke-width="0.8"/>
<line x1="379.28" y1="573.1" x2="379.28" y2="574.4" stroke="#000" stroke-width="0.8"/>
<line x1="380.68" y1="573.1" x2="380.68" y2="575.3" stroke="#000" stroke-width="0.8"/>
<line x1="389.88" y1="573.1" x2="389.88" y2="574.4" stroke="#000" stroke-width="0.8"/>
<line x1="395.26" y1="573.1" x2="395.26" y2="574.4" stroke="#000" stroke-width="0.8"/>
<line x1="399.08" y1="573.1" x2="399.08" y2="574.4" stroke="#000" stroke-width="0.8"/>
<line x1="402.05" y1="573.1" x2="402.05" y2="574.4" stroke="#000" stroke-width="0.8"/>
<line x1="404.47" y1="573.1" x2="404.47" y2="574.4" stroke="#000" stroke-width="0.8"/>
<line x1="406.51" y1="573.1" x2="406.51" y2="574.4" stroke="#000" stroke-width="0.8"/>
<line x1="408.29" y1="573.1" x2="408.29" y2="574.4" stroke="#000" stroke-width="0.8"/>
<line x1="409.85" y1="573.1" x2="409.85" y2="574.4" stroke="#000" stroke-width="0.8"/>
<line x1="411.25" y1="573.1" x2="411.25" y2="575.3" stroke="#000" stroke-width="0.8"/>
<line x1="420.45" y1="573.1" x2="420.45" y2="574.4" stroke="#000" stroke-width="0.8"/>
<line x1="425.84" y1="573.1" x2="425.84" y2="574.4" stroke="#000" stroke-width="0.8"/>
<line x1="429.66" y1="573.1" x2="429.66" y2="574.4" stroke="#000" stroke-width="0.8"/>
<line x1="432.62" y1="573.1" x2="432.62" y2="574.4" stroke="#000" stroke-width="0.8"/>
<line x1="435.04" y1="573.1" x2="435.04" y2="574.4" stroke="#000" stroke-width="0.8"/>
<line x1="437.09" y1="573.1" x2="437.09" y2="574.4" stroke="#000" stroke-width="0.8"/>
<line x1="438.86" y1="573.1" x2="438.86" y2="574.4" stroke="#000" stroke-width="0.8"/>
<line x1="440.43" y1="573.1" x2="440.43" y2="574.4" stroke="#000" stroke-width="0.8"/>
<line x1="441.82" y1="573.1" x2="441.82" y2="575.3" stroke="#000" stroke-width="0.8"/>
<line x1="451.03" y1="573.1" x2="451.03" y2="574.4" stroke="#000" stroke-width="0.8"/>
<line x1="456.41" y1="573.1" x2="456.41" y2="574.4" stroke="#000" stroke-width="0.8"/>
<line x1="460.23" y1="573.1" x2="460.23" y2="574.4" stroke="#000" stroke-width="0.8"/>
<line x1="463.2" y1="573.1" x2="463.2" y2="574.4" stroke="#000" stroke-width="0.8"/>
<line x1="465.62" y1="573.1" x2="465.62" y2="574.4" stroke="#000" stroke-width="0.8"/>
<line x1="467.66" y1="573.1" x2="467.66" y2="574.4" stroke="#000" stroke-width="0.8"/>
<line x1="469.44" y1="573.1" x2="469.44" y2="574.4" stroke="#000" stroke-width="0.8"/>
<line x1="471" y1="573.1" x2="471" y2="574.4" stroke="#000" stroke-width="0.8"/>
<line x1="472.4" y1="573.1" x2="472.4" y2="575.3" stroke="#000" stroke-width="0.8"/>
<text x="338.4" y="505.2" font-size="7.8">50</text>
<text x="340.8" y="577" font-size="7.8">0</text>
<path d="M350.6 552.61 351.2 550.25 351.8 550.19 352.4 548.45 353 548.08 353.6 546.45 354.2 545.54 354.8 542.36 355.4 540.01 356 537.33 356.6 534.39 357.2 531.04 357.8 529.52 358.4 527.52 359 525.52 359.6 523.43 360.2 523.09 360.8 521.25 361.4 523.27 362 522.66 362.6 523.56 363.2 524.85 363.8 527.19 364.4 530.72 365 532.47 365.6 537.05 366.2 540 366.8 543.28 367.4 544.96 368 550.17 368.6 552.32 369.2 555.36 369.8 558.83 370.4 559.5 371 562.29 371.6 565.63 372.2 565.21 372.8 567.33 373.4 567.96 374 570.58 374.6 570.24 375.2 571.57 375.8 571.02 376.4 571.58 377 572.11 377.6 572.65 378.2 572.81 378.8 572.73 379.4 572.89 380 572.95 380.6 573 381.2 573.03 381.8 573.05 382.4 573.07 383 573.08 383.6 573.09 384.2 573.09 384.8 573.09 385.4 573.1 386 573.1 386.6 573.1 387.2 573.1 387.8 573.1 388.4 573.1 389 573.1 389.6 573.1 L389.6 573.1 L350.6 573.1Z" fill="#666666" stroke="none" stroke-width="1"/>
<path d="M350.6 550.2 351.2 548.3 351.8 547.1 352.4 545.93 353 545.19 353.6 544.76 354.2 543.39 354.8 540.84 355.4 538.14 356 535.46 356.6 533.2 357.2 530.23 357.8 528.64 358.4 527.14 359 525.06 359.6 522.98 360.2 522.56 360.8 522.67 361.4 521.42 362 522.3 362.6 524.12 363.2 524.09 363.8 526.13 364.4 528.56 365 531.69 365.6 534.33 366.2 536.91 366.8 539.99 367.4 542.62 368 546.67 368.6 548.55 369.2 551.1 369.8 553.96 370.4 556.43 371 558.65 371.6 560.37 372.2 561.7 372.8 562.99 373.4 564.1 374 565 374.6 564.73 375.2 565.72 375.8 566.2 376.4 566.05 377 566.91 377.6 566.96 378.2 567.77 378.8 567.26 379.4 567.56 380 568.84 380.6 568.3 381.2 569.39 381.8 569.43 382.4 569.42 383 569.49 383.6 570.9 384.2 570.87 384.8 571.44 385.4 571.2 386 571.78 386.6 571.97 387.2 572.19 387.8 572.32 388.4 572.37 389 572.66 389.6 572.75 390.2 572.84 390.8 572.91 391.4 572.96 392 573 392.6 573.03 393.2 573.05 393.8 573.07 394.4 573.08 395 573.08" fill="none" stroke="#1a1aa8" stroke-width="1.1" stroke-linejoin="round"/>
<path d="M350.6 527.51 351.2 535.28 351.8 547.41 352.4 557.02 353 559.67 353.6 560.19 354.2 559.21 354.8 557.14 355.4 554.97 356 552.33 356.6 550.51 357.2 547.57 357.8 544.32 358.4 541.54 359 540.31 359.6 537.17 360.2 534.8 360.8 533.71 361.4 531.84 362 529.12 362.6 527.78 363.2 525.87 363.8 525.28 364.4 525.34 365 525.57 365.6 525.84 366.2 525.72 366.8 528.22 367.4 530.98 368 532.84 368.6 536.55 369.2 539.96 369.8 542.74 370.4 546.88 371 549.45 371.6 552.29 372.2 556.05 372.8 558.26 373.4 560.75 374 562.77 374.6 564.42 375.2 566.46 375.8 567.07 376.4 567.07 377 568.62 377.6 567.16 378.2 568.31 378.8 568.23 379.4 566.89 380 567.55 380.6 566.92 381.2 566.73 381.8 566.56 382.4 567.1 383 566.96 383.6 568.66 384.2 567.93 384.8 568.53 385.4 569.42 386 570.81 386.6 571.36 387.2 571.68 387.8 571.46 388.4 571.99 389 572.35 389.6 572.5 390.2 572.57 390.8 572.8 391.4 572.9 392 572.96 392.6 573.01 393.2 573.04 393.8 573.06 394.4 573.08 395 573.09 395.6 573.09 396.2 573.1 396.8 573.1 397.4 573.1 398 573.1 398.6 573.1 399.2 573.1 399.8 573.1" fill="none" stroke="#33cc33" stroke-width="1" stroke-linejoin="round"/>
<path d="M350.6 573.1 351.3 573.1 352 573.1 352.7 573.1 353.4 573.1 354.1 573.1 354.8 573.1 355.5 573.1 356.2 573.1 356.9 573.1 357.6 573.1 358.3 573.1 359 573.1 359.7 573.1 360.4 573.1 361.1 573.1 361.8 573.1 362.5 573.1 363.2 573.1 363.9 573.1 364.6 573.1 365.3 573.1 366 573.1 366.7 573.1 367.4 573.1 368.1 573.09 368.8 573.08 369.5 573.06 370.2 573.01 370.9 572.9 371.6 572.72 372.3 572.03 373 571.22 373.7 571.06 374.4 567.84 375.1 565.47 375.8 561.65 376.5 558.17 377.2 552.38 377.9 545.54 378.6 540.89 379.3 535.83 380 531.73 380.7 530.98 381.4 531.89 382.1 534.52 382.8 540.23 383.5 546.11 384.2 551.15 384.9 558.07 385.6 562.04 386.3 565.23 387 568.24 387.7 571.04 388.4 571.19 389.1 572.38 389.8 572.65 390.5 572.9 391.2 573.01 391.9 573.06 392.6 573.08 393.3 573.09 394 573.1 394.7 573.1 395.4 573.1 396.1 573.1 396.8 573.1 397.5 573.1 398.2 573.1 398.9 573.1 399.6 573.1 400.3 573.1 401 573.1 401.7 573.1 402.4 573.1 403.1 573.1 403.8 573.1 404.5 573.1 405.2 573.1 405.9 573.1 406.6 573.1 407.3 573.1 408 573.1 408.7 573.1 409.4 573.1 410.1 573.1 410.8 573.1 411.5 573.1 412.2 573.1 412.9 573.1 413.6 573.1 414.3 573.1 415 573.1" fill="none" stroke="#d43a3a" stroke-width="0.9" stroke-linejoin="round"/>
<line x1="350.1" y1="573.1" x2="472.4" y2="573.1" stroke="#000" stroke-width="1"/>
<line x1="374" y1="509.2" x2="384" y2="509.2" stroke="#1a1aa8" stroke-width="1.4"/>
<text x="390.1" y="512.2" font-size="8.6">Medium:</text>
<text x="444.8" y="512.2" font-size="8.6">2.95%</text>
<line x1="374" y1="518.7" x2="384" y2="518.7" stroke="#33cc33" stroke-width="1.4"/>
<text x="390.1" y="521.7" font-size="8.6">Inact MMP12: 4.92%</text>
<line x1="374" y1="528.8" x2="384" y2="528.8" stroke="#cc2222" stroke-width="1.4"/>
<text x="390.1" y="531.8" font-size="8.6">Act MMP12:</text>
<text x="443.9" y="531.8" font-size="8.6">39.03%</text>
<line x1="379.8" y1="544.9" x2="465.5" y2="544.9" stroke="#000" stroke-width="1"/>
<line x1="379.8" y1="540.9" x2="379.8" y2="548.9" stroke="#000" stroke-width="1.3"/>
<line x1="465.5" y1="540.9" x2="465.5" y2="548.9" stroke="#000" stroke-width="1.3"/>
<text x="422.6" y="554.2" font-size="7">M1</text>
<text x="346" y="586.5" font-size="7">10<tspan font-size="4.5" dy="-3">0</tspan></text>
<text x="376.4" y="586.5" font-size="7">10<tspan font-size="4.5" dy="-3">1</tspan></text>
<text x="406.7" y="586.5" font-size="7">10<tspan font-size="4.5" dy="-3">2</tspan></text>
<text x="437" y="586.5" font-size="7">10<tspan font-size="4.5" dy="-3">3</tspan></text>
<text x="468" y="586.5" font-size="7">10<tspan font-size="4.5" dy="-3">4</tspan></text>
<line x1="354.2" y1="595.8" x2="454.5" y2="595.8" stroke="#000" stroke-width="1.2"/>
<path d="M460.5 595.8L453.5 592.8L453.5 598.8Z" fill="#000" stroke="none" stroke-width="1"/>
<text x="390" y="609.5" font-size="9.5">C/EBP&#945;</text>
<text x="48.5" y="638.6" font-size="17" font-weight="bold">G</text>
<text x="49.8" y="671.7" font-size="10.4">GR-1</text>
<line x1="80.8" y1="704.5" x2="80.8" y2="667.5" stroke="#000" stroke-width="1.3"/>
<path d="M80.8 660.5L77.6 668.5L84 668.5Z" fill="#000" stroke="none" stroke-width="1"/>
<line x1="80.2" y1="704.1" x2="373.5" y2="704.1" stroke="#000" stroke-width="1.3"/>
<path d="M380.5 704.1L372.5 700.9L372.5 707.3Z" fill="#000" stroke="none" stroke-width="1"/>
<text x="197" y="724.7" font-size="10.3">CD11b</text>
<text x="101" y="633.2" font-size="10.5">WT -DOX</text>
<path d="M132.0 674.0h0.9M137.5 667.0h0.9M131.4 674.2h0.9M140.1 666.0h0.9M138.9 665.0h0.9M127.5 669.7h0.9M138.8 665.6h0.9M141.7 665.6h0.9M119.1 670.1h0.9M130.3 665.8h0.9M122.4 668.8h0.9M139.5 668.6h0.9M131.7 670.7h0.9M127.8 659.4h0.9M136.5 665.2h0.9M137.6 673.5h0.9M130.5 668.9h0.9M139.4 666.8h0.9M135.7 667.4h0.9M133.3 680.2h0.9M140.8 677.1h0.9M128.1 665.2h0.9M128.1 681.1h0.9M152.9 649.1h0.9M128.8 666.0h0.9M131.9 662.4h0.9M145.2 669.9h0.9M127.8 658.6h0.9M137.9 666.3h0.9M141.5 668.7h0.9M144.0 671.4h0.9M140.2 671.7h0.9M131.9 669.6h0.9M137.6 669.1h0.9M132.2 671.6h0.9M133.8 687.7h0.9M118.0 660.1h0.9M140.1 668.2h0.9M134.1 667.6h0.9M138.4 677.9h0.9M133.5 666.7h0.9M142.1 665.4h0.9M132.9 669.4h0.9M132.9 673.2h0.9M144.0 669.8h0.9M134.7 664.7h0.9M134.1 673.8h0.9M145.4 673.3h0.9M142.6 665.1h0.9M138.8 663.7h0.9M135.4 665.8h0.9M111.1 675.4h0.9M135.0 674.1h0.9M123.5 678.0h0.9M147.2 681.7h0.9M135.9 665.6h0.9M141.5 676.1h0.9M132.3 660.5h0.9M137.3 667.7h0.9M134.0 669.1h0.9M137.8 665.5h0.9M129.2 667.4h0.9M139.1 673.0h0.9M133.9 672.4h0.9M135.5 670.5h0.9M133.6 670.3h0.9M145.3 673.8h0.9M138.5 670.9h0.9M132.0 673.0h0.9M138.0 669.4h0.9M136.8 669.5h0.9M135.6 671.0h0.9M134.6 672.1h0.9M102.0 679.9h0.9M140.8 661.7h0.9M134.7 678.6h0.9M98.0 674.0h0.9M128.4 671.9h0.9M129.6 666.5h0.9M125.0 660.8h0.9M133.2 672.8h0.9M126.3 678.2h0.9M127.1 671.7h0.9M129.1 669.7h0.9M125.3 667.1h0.9M130.4 670.8h0.9M136.5 665.6h0.9M124.2 647.6h0.9M123.2 675.7h0.9M124.8 676.5h0.9M132.5 660.8h0.9M127.4 679.8h0.9M138.6 665.0h0.9M136.8 666.8h0.9M125.3 649.1h0.9M135.4 669.6h0.9M142.8 668.2h0.9M128.8 675.7h0.9M134.6 673.1h0.9M131.7 668.6h0.9M135.9 672.2h0.9M131.0 673.1h0.9M140.8 670.9h0.9M143.7 669.9h0.9M133.4 667.1h0.9M105.5 658.9h0.9M136.8 675.8h0.9M125.6 668.5h0.9M145.4 665.9h0.9M109.9 672.8h0.9M132.3 668.7h0.9M119.6 660.0h0.9M132.0 670.3h0.9M140.1 666.6h0.9M140.9 665.8h0.9M144.5 671.5h0.9M131.7 666.7h0.9M132.9 664.7h0.9M135.3 673.5h0.9M128.4 652.6h0.9M139.9 672.1h0.9M135.8 668.4h0.9M134.3 674.7h0.9M138.9 668.0h0.9M134.8 669.5h0.9M136.1 669.7h0.9M131.8 667.6h0.9M133.8 674.1h0.9M129.7 665.1h0.9M137.8 673.8h0.9M125.0 665.0h0.9M140.4 665.7h0.9M129.1 665.2h0.9M133.5 674.8h0.9M135.7 667.4h0.9M127.4 669.3h0.9M131.6 676.3h0.9M137.0 664.9h0.9M129.5 664.9h0.9M136.1 669.2h0.9M133.1 668.7h0.9M121.4 673.2h0.9M129.3 668.4h0.9M134.5 671.7h0.9M126.1 677.1h0.9M131.9 670.9h0.9M138.0 673.9h0.9M102.5 656.3h0.9M142.3 667.2h0.9M129.5 666.5h0.9M134.8 667.1h0.9M132.9 667.4h0.9M125.8 660.7h0.9M134.9 673.9h0.9M119.9 687.4h0.9M139.3 669.3h0.9M148.0 679.4h0.9M133.7 668.1h0.9M105.0 661.1h0.9M134.1 671.3h0.9M112.8 669.2h0.9M136.8 670.0h0.9M140.7 668.8h0.9M131.8 666.9h0.9M134.5 677.3h0.9M123.6 670.5h0.9M121.0 687.0h0.9M110.8 661.6h0.9M133.4 668.7h0.9M138.4 658.4h0.9M118.8 673.3h0.9M147.2 660.5h0.9M131.9 669.4h0.9M139.5 670.5h0.9M136.5 670.6h0.9M128.7 670.4h0.9M125.5 666.9h0.9M118.9 666.6h0.9M139.8 668.2h0.9M135.1 666.6h0.9M137.5 683.1h0.9M129.9 665.0h0.9M124.7 673.3h0.9M121.3 673.5h0.9M137.2 664.6h0.9M139.0 674.0h0.9M124.8 671.4h0.9M148.2 673.8h0.9M150.5 665.4h0.9M131.0 671.5h0.9M131.9 665.4h0.9M140.0 669.3h0.9M126.5 661.4h0.9M129.8 668.8h0.9M135.9 656.2h0.9M131.5 661.5h0.9M138.3 667.0h0.9M112.8 674.8h0.9M136.1 668.4h0.9M141.1 666.1h0.9M133.9 664.2h0.9M126.6 667.3h0.9M133.6 671.1h0.9M135.1 672.6h0.9M135.9 669.0h0.9M137.0 670.7h0.9M118.4 671.0h0.9M139.1 666.9h0.9M129.5 671.9h0.9M131.9 670.3h0.9M127.0 677.1h0.9M135.7 665.8h0.9M132.3 672.7h0.9M135.9 662.3h0.9M139.5 670.2h0.9M146.2 677.2h0.9M129.7 684.5h0.9M127.3 668.5h0.9M131.5 678.9h0.9M134.4 673.3h0.9M137.0 665.6h0.9M128.0 670.0h0.9M122.2 666.1h0.9M129.5 670.7h0.9M142.7 675.7h0.9M112.1 681.5h0.9M144.3 680.8h0.9M135.1 670.4h0.9M132.2 680.1h0.9M139.2 668.1h0.9M118.0 671.9h0.9M134.4 667.2h0.9M134.4 662.1h0.9M123.3 658.8h0.9M108.4 669.9h0.9M135.2 668.5h0.9M124.8 672.6h0.9M133.2 670.4h0.9M135.2 666.6h0.9M126.5 657.6h0.9M136.7 666.0h0.9M138.6 669.4h0.9M113.9 688.3h0.9M116.6 675.4h0.9M140.9 674.0h0.9M135.9 673.2h0.9M145.1 668.8h0.9M137.4 674.5h0.9M125.2 655.2h0.9M143.2 669.2h0.9M113.8 678.8h0.9M133.9 668.7h0.9M139.9 683.7h0.9M136.6 667.2h0.9M130.4 668.6h0.9M128.8 671.0h0.9M125.5 665.2h0.9M126.2 672.1h0.9M136.0 666.6h0.9M140.9 676.1h0.9M134.0 670.0h0.9M129.8 666.3h0.9M147.9 688.7h0.9M121.6 685.8h0.9M133.7 664.1h0.9M135.4 669.4h0.9M134.7 673.9h0.9M139.4 668.7h0.9M129.1 672.7h0.9M136.1 667.2h0.9M126.1 661.7h0.9M136.9 679.6h0.9M129.7 667.7h0.9M141.8 666.3h0.9M141.1 672.9h0.9M122.1 660.2h0.9M128.4 676.6h0.9M135.4 668.7h0.9M142.8 679.8h0.9M135.5 672.3h0.9M136.7 667.8h0.9M132.3 670.9h0.9M139.5 666.3h0.9M134.6 672.5h0.9M132.4 671.3h0.9M126.3 666.8h0.9M143.9 663.7h0.9M137.0 667.6h0.9M130.3 664.2h0.9M142.3 669.8h0.9M131.4 675.2h0.9M133.0 668.5h0.9M137.3 666.0h0.9M134.5 658.9h0.9M126.8 674.7h0.9M107.9 671.1h0.9M136.1 666.7h0.9M130.4 664.2h0.9M140.6 674.5h0.9M116.4 667.7h0.9M133.6 666.0h0.9M133.3 673.3h0.9M140.7 668.9h0.9" stroke="#3a3a3a" stroke-width="0.9" stroke-opacity="0.45" fill="none"/>
<path d="M136.5 670.9h0.9M136.2 675.4h0.9M133.1 674.1h0.9M117.0 678.8h0.9M150.7 669.2h0.9M125.9 667.1h0.9M132.6 667.1h0.9M144.4 676.3h0.9M134.8 676.1h0.9M136.7 672.1h0.9M138.5 660.9h0.9M138.7 671.0h0.9M135.5 665.2h0.9M140.2 676.7h0.9M142.9 672.8h0.9M134.5 667.8h0.9M136.6 669.9h0.9M134.5 667.0h0.9M123.1 669.1h0.9M134.6 675.8h0.9M133.4 671.4h0.9M131.9 678.0h0.9M141.4 673.2h0.9M140.0 660.0h0.9M125.4 672.2h0.9M112.6 675.7h0.9M133.7 665.1h0.9M124.2 660.9h0.9M137.7 671.8h0.9M144.4 671.1h0.9M132.8 669.1h0.9M131.0 667.8h0.9M137.5 670.9h0.9M141.9 665.8h0.9M152.4 664.3h0.9M113.8 688.3h0.9M130.7 678.5h0.9M140.8 672.2h0.9M135.4 666.9h0.9M131.4 669.7h0.9M132.4 673.3h0.9M131.1 679.9h0.9M137.2 680.2h0.9M125.9 670.7h0.9M148.3 675.3h0.9M138.4 674.3h0.9M123.7 669.7h0.9M135.3 678.6h0.9M135.6 667.8h0.9M139.9 672.1h0.9M132.4 671.1h0.9M135.4 670.9h0.9M148.5 664.7h0.9M134.9 667.5h0.9M142.7 668.4h0.9M144.4 666.7h0.9M132.7 670.5h0.9M130.2 676.2h0.9M133.4 671.2h0.9M127.6 667.3h0.9M131.0 682.5h0.9M145.2 666.5h0.9M139.5 669.2h0.9M104.2 667.7h0.9M132.6 676.2h0.9M136.7 672.8h0.9M126.4 668.5h0.9M135.9 669.4h0.9M133.6 680.2h0.9M132.7 668.3h0.9M132.9 676.7h0.9M117.6 662.0h0.9M134.7 677.2h0.9M138.7 669.8h0.9M166.2 674.5h0.9M137.7 669.8h0.9M132.9 673.1h0.9M130.5 673.9h0.9M120.9 663.2h0.9M131.6 675.7h0.9M131.9 665.4h0.9M139.9 672.5h0.9M134.3 669.1h0.9M135.7 674.0h0.9M128.3 668.6h0.9M130.9 673.7h0.9M105.4 678.7h0.9M131.6 678.5h0.9M132.1 670.9h0.9M127.1 667.4h0.9M132.9 672.7h0.9M131.1 661.8h0.9M134.6 666.9h0.9M147.5 669.3h0.9M130.4 664.0h0.9M145.4 676.3h0.9M136.4 668.8h0.9M132.3 667.3h0.9M132.6 666.8h0.9M127.4 680.4h0.9M122.1 677.3h0.9M115.8 680.4h0.9M129.4 664.9h0.9M104.6 668.9h0.9M138.8 675.0h0.9M132.7 671.5h0.9M116.5 679.1h0.9M125.1 672.2h0.9M139.4 670.0h0.9M134.2 668.3h0.9M134.4 670.6h0.9M125.8 674.1h0.9M134.8 670.7h0.9M142.0 670.1h0.9M125.2 669.3h0.9M135.5 664.9h0.9M137.8 671.3h0.9M140.0 668.7h0.9M131.8 688.7h0.9M140.5 677.1h0.9M142.1 670.1h0.9M143.3 657.7h0.9M135.1 668.8h0.9M126.2 666.9h0.9M140.5 664.4h0.9M133.9 668.2h0.9M134.2 667.1h0.9M146.0 669.3h0.9M136.3 665.8h0.9M130.2 666.3h0.9M140.5 672.7h0.9M133.3 674.1h0.9M137.3 670.2h0.9M132.7 670.2h0.9M142.1 675.2h0.9M125.9 670.0h0.9M135.9 672.5h0.9M138.2 676.0h0.9M128.7 678.5h0.9M99.7 662.9h0.9M92.3 677.0h0.9M125.2 676.4h0.9M128.2 678.0h0.9M132.9 674.0h0.9M137.0 663.9h0.9M129.9 667.9h0.9M129.9 666.4h0.9M125.6 656.2h0.9M144.6 668.5h0.9M136.2 671.3h0.9M125.3 666.9h0.9M138.3 665.7h0.9M134.8 667.1h0.9M129.3 668.8h0.9M115.7 681.6h0.9M133.0 670.1h0.9M140.5 677.9h0.9M137.4 669.8h0.9M149.1 680.8h0.9M122.9 673.3h0.9M132.0 671.6h0.9M130.4 671.8h0.9M130.4 668.9h0.9M141.2 668.1h0.9M136.6 673.2h0.9M136.4 671.4h0.9M135.5 671.4h0.9M129.0 670.5h0.9M133.6 665.9h0.9M152.5 667.7h0.9M128.4 657.7h0.9M127.0 661.2h0.9M132.6 673.8h0.9M133.2 667.8h0.9M132.1 667.3h0.9M121.5 669.7h0.9M131.6 662.5h0.9M128.1 668.1h0.9M136.4 678.8h0.9M133.6 672.0h0.9M131.8 672.5h0.9M140.2 675.6h0.9M140.3 667.8h0.9M138.6 668.5h0.9M136.3 667.0h0.9M137.7 673.8h0.9M121.3 655.9h0.9M143.1 665.7h0.9M125.7 669.9h0.9M131.1 667.7h0.9M125.7 672.6h0.9M137.2 667.0h0.9M130.4 676.9h0.9M142.7 668.1h0.9M119.9 686.9h0.9M131.1 666.1h0.9M127.3 677.7h0.9M145.0 661.7h0.9M139.7 685.1h0.9M131.9 673.1h0.9M145.3 673.8h0.9M139.6 668.2h0.9M141.7 682.4h0.9M113.3 668.6h0.9M136.5 667.4h0.9M135.0 672.3h0.9M135.5 670.6h0.9M105.9 671.0h0.9M143.4 673.0h0.9M129.8 676.8h0.9M131.1 667.6h0.9M124.9 661.7h0.9M140.3 668.2h0.9M124.7 666.6h0.9M122.2 674.4h0.9M135.2 664.9h0.9M141.3 652.6h0.9M148.7 680.8h0.9M116.8 670.9h0.9M146.0 665.4h0.9M132.1 680.4h0.9M144.7 661.3h0.9M127.3 669.8h0.9M128.0 670.4h0.9M131.4 671.3h0.9M128.5 671.1h0.9M133.1 671.8h0.9M120.4 683.1h0.9M132.4 668.9h0.9M137.9 674.5h0.9M107.3 674.1h0.9M141.1 668.4h0.9M132.8 667.4h0.9M138.4 669.3h0.9M140.9 667.6h0.9M129.9 670.9h0.9M138.6 673.0h0.9M130.7 663.9h0.9M138.0 662.8h0.9M133.1 664.3h0.9M142.2 669.8h0.9M126.1 678.6h0.9M114.8 665.0h0.9M139.9 665.5h0.9M143.0 665.6h0.9M131.6 674.0h0.9M132.5 665.5h0.9M144.0 675.8h0.9M139.6 676.3h0.9M126.1 667.1h0.9M143.6 666.4h0.9M128.2 670.1h0.9M131.9 669.9h0.9M138.7 670.0h0.9M130.0 676.8h0.9M119.7 665.3h0.9M141.1 670.3h0.9M132.1 674.8h0.9M141.6 664.6h0.9M139.5 674.7h0.9M123.0 675.7h0.9M131.4 664.8h0.9M135.1 672.6h0.9M129.0 666.1h0.9M134.6 659.3h0.9M138.2 664.9h0.9M134.6 670.2h0.9M136.6 669.2h0.9M126.2 666.2h0.9M134.9 672.6h0.9M144.2 670.4h0.9M138.9 664.1h0.9M143.6 662.1h0.9M97.2 681.0h0.9M143.1 681.7h0.9M131.6 671.5h0.9M128.3 673.7h0.9M114.4 661.5h0.9M127.4 669.9h0.9M130.7 671.9h0.9M141.8 665.2h0.9M102.3 669.1h0.9M129.7 668.4h0.9M138.5 666.5h0.9M135.9 669.4h0.9M135.4 675.3h0.9M137.8 666.2h0.9M126.5 668.2h0.9M127.4 668.2h0.9M98.3 685.7h0.9M135.9 663.6h0.9M134.9 665.8h0.9M135.3 671.0h0.9M134.7 655.1h0.9M143.3 665.5h0.9M141.8 682.6h0.9M122.4 675.2h0.9M130.6 680.4h0.9M139.4 675.0h0.9M139.3 673.2h0.9M147.6 662.2h0.9M129.7 671.0h0.9M131.9 669.6h0.9" stroke="#3a3a3a" stroke-width="0.9" stroke-opacity="0.45" fill="none"/>
<path d="M114.2 667.6h0.9M135.7 671.4h0.9M135.2 674.5h0.9M109.3 674.2h0.9M121.7 667.8h0.9M131.9 671.8h0.9M135.2 672.3h0.9M113.2 655.3h0.9M134.4 676.4h0.9M131.0 665.7h0.9M136.7 664.4h0.9M90.4 683.0h0.9M145.6 677.3h0.9M142.9 669.3h0.9M142.1 671.1h0.9M130.5 672.4h0.9M132.8 666.9h0.9M133.3 667.2h0.9M131.2 669.5h0.9M131.8 674.5h0.9M144.7 665.3h0.9M139.5 680.4h0.9M131.4 667.4h0.9M124.6 672.0h0.9M132.9 665.7h0.9M130.5 665.6h0.9M131.8 675.1h0.9M109.6 663.0h0.9M116.7 660.3h0.9M123.1 663.6h0.9M143.8 666.8h0.9M148.4 672.9h0.9M130.0 687.1h0.9M140.7 677.3h0.9M129.7 671.7h0.9M121.5 671.2h0.9M122.4 659.5h0.9M106.6 668.7h0.9M138.3 666.5h0.9M127.1 670.4h0.9M132.8 667.1h0.9M145.2 666.2h0.9M130.1 676.4h0.9M142.1 664.1h0.9M135.8 658.9h0.9M133.4 672.5h0.9M143.0 671.8h0.9M133.2 665.7h0.9M128.6 675.6h0.9M127.4 660.3h0.9M128.1 661.7h0.9M125.0 659.1h0.9M136.5 666.0h0.9M142.1 670.5h0.9M129.4 689.9h0.9M130.6 670.5h0.9M134.1 666.2h0.9M128.9 665.4h0.9M125.9 681.7h0.9M130.8 669.3h0.9M131.7 670.1h0.9M110.0 666.3h0.9M134.5 674.9h0.9M135.5 676.8h0.9M143.5 671.7h0.9M126.4 666.8h0.9M139.9 670.4h0.9M132.2 668.6h0.9M133.8 670.9h0.9M138.3 669.9h0.9M120.6 661.5h0.9M120.9 660.9h0.9M136.7 668.6h0.9M101.8 666.6h0.9M126.6 672.9h0.9M146.7 665.6h0.9M141.0 668.3h0.9M135.9 671.6h0.9M130.6 670.4h0.9M138.3 673.7h0.9M118.9 657.3h0.9M136.2 671.7h0.9M127.3 671.7h0.9M124.5 672.4h0.9M118.6 662.0h0.9M135.6 666.3h0.9M91.8 678.3h0.9M139.4 667.3h0.9M133.0 666.1h0.9M135.0 671.9h0.9M138.6 665.7h0.9M129.7 672.4h0.9M128.8 677.0h0.9M142.3 670.5h0.9M136.0 673.8h0.9M133.5 675.2h0.9M133.7 670.5h0.9M135.9 664.8h0.9M129.2 669.7h0.9M135.9 662.1h0.9M133.9 667.7h0.9M138.4 670.0h0.9M134.8 671.7h0.9M143.3 668.9h0.9M130.9 681.8h0.9M135.6 674.0h0.9M142.7 665.5h0.9M130.3 671.4h0.9M138.2 667.2h0.9M133.5 669.7h0.9M135.7 668.9h0.9M139.4 678.2h0.9M136.8 666.0h0.9M136.9 670.7h0.9M125.0 682.3h0.9M132.7 668.2h0.9M133.9 672.6h0.9M146.2 659.7h0.9M133.8 663.0h0.9M139.7 662.9h0.9M138.7 675.5h0.9M95.7 671.3h0.9M132.1 669.9h0.9M131.0 670.2h0.9M134.0 669.4h0.9M133.0 667.8h0.9M136.3 667.3h0.9M136.7 674.4h0.9M135.8 669.7h0.9M140.0 667.8h0.9M135.5 665.5h0.9M127.5 667.9h0.9M134.3 671.9h0.9M131.7 674.7h0.9M132.5 674.1h0.9M131.1 666.7h0.9M107.7 663.7h0.9M131.2 670.3h0.9M129.8 677.9h0.9M134.4 672.4h0.9M131.1 670.0h0.9M121.6 668.0h0.9M136.9 669.7h0.9M131.5 668.9h0.9M130.5 671.9h0.9M134.5 667.7h0.9M141.7 671.1h0.9M137.0 674.6h0.9M132.8 669.0h0.9M138.8 669.0h0.9M133.6 669.1h0.9M130.5 669.3h0.9M145.0 669.3h0.9M138.6 669.3h0.9M140.2 671.0h0.9M138.8 668.5h0.9M127.9 669.0h0.9M136.6 669.9h0.9M118.3 679.8h0.9M130.7 670.7h0.9M137.7 672.3h0.9M127.5 667.5h0.9M99.0 662.3h0.9M131.2 671.8h0.9M126.1 674.1h0.9M115.0 655.6h0.9M132.4 663.4h0.9M135.9 671.8h0.9M135.8 657.2h0.9M135.3 666.2h0.9M132.7 663.9h0.9M151.8 678.2h0.9M128.1 675.6h0.9M121.2 676.3h0.9M137.4 668.0h0.9M139.2 671.9h0.9M131.6 673.2h0.9M129.5 666.7h0.9M124.6 664.4h0.9M140.6 677.5h0.9M122.2 674.5h0.9M130.1 676.1h0.9M136.8 668.7h0.9M133.4 667.0h0.9M128.0 681.6h0.9M127.8 672.3h0.9M132.0 661.8h0.9M140.9 670.9h0.9M122.6 665.3h0.9M127.9 671.8h0.9M150.1 679.1h0.9M136.0 669.8h0.9M132.6 668.5h0.9M143.6 669.6h0.9M127.1 666.3h0.9M123.1 667.5h0.9M134.5 669.8h0.9M136.9 680.5h0.9M127.9 657.0h0.9M139.9 668.6h0.9M131.9 670.7h0.9M141.8 675.1h0.9M140.1 671.2h0.9M136.3 672.2h0.9M131.8 673.0h0.9M135.7 669.0h0.9M139.2 669.5h0.9M121.3 677.8h0.9M104.4 687.2h0.9M139.5 672.2h0.9M130.7 672.2h0.9M111.8 669.0h0.9M135.2 669.6h0.9M135.2 676.3h0.9M144.6 670.8h0.9M112.8 678.8h0.9M142.0 675.4h0.9M136.8 661.7h0.9M136.1 668.1h0.9M120.4 664.8h0.9M101.8 663.4h0.9M140.9 669.9h0.9M138.0 672.4h0.9M126.6 668.0h0.9M128.0 657.9h0.9M132.4 670.0h0.9M138.6 672.2h0.9M126.2 663.0h0.9M133.1 664.3h0.9M146.9 680.2h0.9M143.4 668.7h0.9M135.8 676.0h0.9M129.1 680.1h0.9M145.4 665.9h0.9M94.3 677.6h0.9M135.7 669.7h0.9M130.0 667.6h0.9M137.5 670.1h0.9M130.1 671.3h0.9M132.6 665.0h0.9M129.3 666.3h0.9M135.2 664.2h0.9M130.7 666.9h0.9M127.8 669.8h0.9M134.4 668.8h0.9M134.0 669.4h0.9M135.0 668.7h0.9M140.4 668.8h0.9M97.6 674.0h0.9M132.1 676.2h0.9M121.5 673.2h0.9M122.2 671.6h0.9M139.1 678.2h0.9M116.5 683.4h0.9M136.3 668.1h0.9M150.0 673.5h0.9M138.1 668.6h0.9M114.9 679.6h0.9M135.0 672.9h0.9M130.6 671.8h0.9M120.3 686.0h0.9M119.8 671.5h0.9M133.3 672.9h0.9M128.9 676.0h0.9M132.1 674.0h0.9M131.4 668.8h0.9M138.3 671.8h0.9M133.0 672.4h0.9M121.6 674.1h0.9M136.7 670.1h0.9M108.7 675.7h0.9M148.4 671.6h0.9M138.4 666.2h0.9M137.6 667.7h0.9M140.8 670.6h0.9M118.6 676.1h0.9M138.5 667.2h0.9M141.1 666.4h0.9M136.7 673.7h0.9M128.4 663.7h0.9M131.8 671.8h0.9M136.1 669.5h0.9M132.6 669.6h0.9M148.5 673.1h0.9M133.2 685.0h0.9M131.3 682.6h0.9M132.7 668.0h0.9M136.5 680.8h0.9M135.2 667.7h0.9M142.5 673.0h0.9M144.4 671.4h0.9M139.3 675.2h0.9M142.8 673.6h0.9M138.0 663.7h0.9M104.9 666.2h0.9M116.4 675.1h0.9M128.4 654.3h0.9M132.1 668.2h0.9M137.9 666.8h0.9M138.5 662.7h0.9M140.2 670.1h0.9M140.9 672.4h0.9M116.1 677.4h0.9M135.6 670.3h0.9" stroke="#3a3a3a" stroke-width="0.9" stroke-opacity="0.45" fill="none"/>
<rect x="88.8" y="640.5" width="81.8" height="51.2" fill="none" stroke="#000" stroke-width="1"/>
<line x1="128.6" y1="640.5" x2="128.6" y2="691.7" stroke="#000" stroke-width="1"/>
<line x1="88.8" y1="663" x2="170.6" y2="663" stroke="#000" stroke-width="1"/>
<line x1="87.3" y1="679.79" x2="88.8" y2="679.79" stroke="#000" stroke-width="0.8"/>
<line x1="87.3" y1="667.89" x2="88.8" y2="667.89" stroke="#000" stroke-width="0.8"/>
<line x1="87.3" y1="655.98" x2="88.8" y2="655.98" stroke="#000" stroke-width="0.8"/>
<line x1="87.3" y1="644.07" x2="88.8" y2="644.07" stroke="#000" stroke-width="0.8"/>
<line x1="88.8" y1="691.7" x2="88.8" y2="693.3" stroke="#000" stroke-width="0.8"/>
<line x1="94.96" y1="691.7" x2="94.96" y2="692.7" stroke="#000" stroke-width="0.8"/>
<line x1="103.09" y1="691.7" x2="103.09" y2="692.7" stroke="#000" stroke-width="0.8"/>
<line x1="109.25" y1="691.7" x2="109.25" y2="693.3" stroke="#000" stroke-width="0.8"/>
<line x1="115.41" y1="691.7" x2="115.41" y2="692.7" stroke="#000" stroke-width="0.8"/>
<line x1="123.54" y1="691.7" x2="123.54" y2="692.7" stroke="#000" stroke-width="0.8"/>
<line x1="129.7" y1="691.7" x2="129.7" y2="693.3" stroke="#000" stroke-width="0.8"/>
<line x1="135.86" y1="691.7" x2="135.86" y2="692.7" stroke="#000" stroke-width="0.8"/>
<line x1="143.99" y1="691.7" x2="143.99" y2="692.7" stroke="#000" stroke-width="0.8"/>
<line x1="150.15" y1="691.7" x2="150.15" y2="693.3" stroke="#000" stroke-width="0.8"/>
<line x1="156.31" y1="691.7" x2="156.31" y2="692.7" stroke="#000" stroke-width="0.8"/>
<line x1="164.44" y1="691.7" x2="164.44" y2="692.7" stroke="#000" stroke-width="0.8"/>
<text x="95.4" y="653.3" font-size="8.7">1.39%</text>
<text x="139" y="655.1" font-size="8.7">8.01%</text>
<text x="139.5" y="691.7" font-size="8.7">69.46%</text>
<text x="196.4" y="633.2" font-size="10.5">WT +DOX</text>
<path d="M214.2 685.1h0.9M221.3 668.6h0.9M192.2 680.5h0.9M212.2 671.0h0.9M230.7 674.8h0.9M225.0 683.0h0.9M224.1 669.7h0.9M230.9 672.6h0.9M228.8 666.6h0.9M210.7 664.7h0.9M228.9 673.3h0.9M225.4 667.9h0.9M223.5 661.6h0.9M229.2 670.0h0.9M228.6 671.2h0.9M231.4 670.4h0.9M226.0 664.0h0.9M220.5 672.1h0.9M232.3 668.4h0.9M226.7 674.0h0.9M233.2 676.2h0.9M227.1 665.4h0.9M227.3 671.7h0.9M224.2 679.6h0.9M230.3 676.0h0.9M230.7 671.3h0.9M185.3 671.6h0.9M223.8 671.1h0.9M223.0 667.1h0.9M232.5 663.3h0.9M222.4 678.6h0.9M197.8 676.1h0.9M225.5 673.9h0.9M224.0 667.4h0.9M233.1 669.1h0.9M233.8 671.3h0.9M233.6 674.1h0.9M227.1 665.0h0.9M206.5 680.4h0.9M239.9 657.4h0.9M220.5 671.2h0.9M228.0 675.8h0.9M214.6 658.2h0.9M227.6 677.2h0.9M224.9 667.1h0.9M230.1 666.6h0.9M226.7 672.7h0.9M230.1 673.7h0.9M221.1 676.6h0.9M221.5 671.0h0.9M222.4 660.2h0.9M222.0 663.2h0.9M221.2 666.8h0.9M222.7 668.0h0.9M237.1 670.7h0.9M223.5 670.8h0.9M229.2 668.4h0.9M219.0 678.0h0.9M234.9 662.8h0.9M229.9 668.3h0.9M187.1 680.0h0.9M221.7 661.1h0.9M232.5 672.5h0.9M225.4 665.2h0.9M228.1 666.6h0.9M215.8 678.6h0.9M222.0 670.8h0.9M219.1 678.9h0.9M226.7 670.7h0.9M230.1 670.1h0.9M225.2 674.3h0.9M219.4 668.8h0.9M219.3 674.5h0.9M218.9 675.6h0.9M200.6 685.1h0.9M226.0 667.0h0.9M228.0 673.2h0.9M222.1 666.8h0.9M219.6 666.9h0.9M223.5 668.3h0.9M202.2 664.6h0.9M231.8 670.4h0.9M227.2 675.5h0.9M247.6 672.8h0.9M213.6 669.7h0.9M228.8 673.3h0.9M225.9 670.5h0.9M225.9 675.3h0.9M226.9 667.8h0.9M233.9 673.7h0.9M232.8 679.1h0.9M230.2 667.5h0.9M224.2 659.5h0.9M232.9 666.8h0.9M225.3 675.3h0.9M203.7 664.7h0.9M225.5 670.3h0.9M228.4 668.8h0.9M221.6 659.9h0.9M206.7 686.2h0.9M221.4 663.4h0.9M223.2 676.0h0.9M226.9 675.8h0.9M223.2 675.4h0.9M218.7 683.3h0.9M229.8 669.0h0.9M226.8 668.9h0.9M231.2 670.6h0.9M217.8 676.0h0.9M242.4 674.5h0.9M232.2 671.2h0.9M219.7 666.7h0.9M224.8 666.0h0.9M230.8 678.2h0.9M199.1 665.1h0.9M222.0 685.8h0.9M211.3 670.6h0.9M218.4 672.9h0.9M227.3 667.5h0.9M226.2 662.2h0.9M225.2 671.0h0.9M221.9 685.3h0.9M236.5 669.2h0.9M197.6 674.9h0.9M187.6 667.5h0.9M222.2 669.5h0.9M232.5 683.9h0.9M226.5 668.1h0.9M229.3 678.3h0.9M234.4 673.2h0.9M204.1 678.7h0.9M232.4 672.8h0.9M235.5 672.8h0.9M192.2 656.9h0.9M224.7 671.2h0.9M219.8 670.0h0.9M226.0 669.9h0.9M229.5 665.0h0.9M228.1 672.7h0.9M204.3 673.7h0.9M222.4 668.6h0.9M230.7 670.5h0.9M228.5 671.7h0.9M228.3 666.0h0.9M226.3 672.4h0.9M227.8 666.7h0.9M227.1 673.5h0.9M226.7 673.4h0.9M224.1 665.7h0.9M232.1 670.5h0.9M232.1 655.8h0.9M225.7 676.5h0.9M233.9 670.5h0.9M227.3 671.5h0.9M231.4 672.6h0.9M209.4 667.0h0.9M234.3 675.7h0.9M234.7 669.7h0.9M219.8 669.0h0.9M240.4 669.1h0.9M224.4 674.9h0.9M232.0 669.5h0.9M233.7 671.8h0.9M216.3 660.3h0.9M215.7 673.3h0.9M228.9 668.0h0.9M229.2 670.5h0.9M228.6 676.6h0.9M228.4 677.9h0.9M221.9 670.9h0.9M233.3 671.7h0.9M220.6 670.2h0.9M220.7 670.6h0.9M229.0 666.7h0.9M227.8 679.7h0.9M218.6 669.5h0.9M225.7 664.5h0.9M226.3 673.1h0.9M226.7 663.6h0.9M236.5 671.7h0.9M181.5 674.4h0.9M213.8 660.8h0.9M224.2 674.2h0.9M228.1 675.8h0.9M229.7 668.5h0.9M220.1 663.1h0.9M224.0 655.1h0.9M220.7 670.9h0.9M225.7 671.4h0.9M232.7 671.4h0.9M247.0 666.6h0.9M227.8 667.6h0.9M229.6 667.1h0.9M230.7 667.7h0.9M233.7 669.4h0.9M202.8 680.8h0.9M209.5 662.3h0.9M233.5 671.6h0.9M224.8 675.7h0.9M227.1 670.2h0.9M230.8 666.1h0.9M228.2 673.2h0.9M224.4 680.4h0.9M230.5 673.7h0.9M230.1 674.4h0.9M231.9 675.5h0.9M223.3 663.9h0.9M224.8 667.0h0.9M222.9 670.8h0.9M237.2 668.9h0.9M231.6 674.1h0.9M227.7 673.8h0.9M233.5 669.9h0.9M229.1 670.0h0.9M226.8 673.1h0.9M208.9 675.0h0.9M223.0 651.0h0.9M233.0 666.8h0.9M231.8 671.8h0.9M233.9 664.4h0.9M229.4 677.1h0.9M220.9 677.8h0.9M189.2 666.2h0.9M225.2 662.2h0.9M229.4 667.9h0.9M209.6 670.7h0.9M222.2 670.4h0.9M236.6 662.4h0.9M226.8 672.8h0.9M184.0 669.9h0.9M219.7 679.5h0.9M227.1 671.6h0.9M224.6 677.4h0.9M203.2 661.0h0.9M227.6 670.1h0.9M211.5 669.3h0.9M226.8 668.2h0.9M222.8 673.4h0.9M223.9 667.3h0.9M234.7 670.4h0.9M206.2 655.4h0.9M215.8 671.3h0.9M223.5 668.2h0.9M219.9 666.3h0.9M227.7 661.8h0.9M218.4 675.3h0.9M230.0 672.2h0.9M231.6 659.1h0.9M231.2 676.5h0.9M221.5 663.7h0.9M222.3 664.6h0.9M218.9 677.4h0.9M255.5 670.1h0.9M232.2 668.8h0.9M182.2 674.8h0.9M223.9 675.6h0.9M226.3 666.3h0.9M228.3 667.8h0.9M233.6 675.9h0.9M223.5 659.6h0.9M226.6 675.4h0.9M228.3 670.2h0.9M218.6 673.6h0.9M215.1 662.8h0.9M222.6 655.7h0.9M217.1 654.6h0.9M247.4 666.3h0.9M227.0 679.1h0.9M209.5 672.7h0.9M234.9 670.8h0.9M236.0 680.6h0.9M232.7 675.4h0.9M246.7 676.2h0.9M221.5 666.7h0.9M228.2 672.1h0.9M225.5 673.1h0.9M229.3 675.3h0.9M238.8 669.3h0.9M194.4 684.6h0.9M230.7 665.4h0.9M232.5 674.0h0.9M225.2 671.6h0.9M223.2 683.7h0.9M218.0 680.9h0.9M226.7 668.9h0.9M228.8 647.5h0.9M223.0 669.7h0.9M217.8 676.0h0.9M219.2 664.0h0.9M227.0 668.8h0.9M232.5 663.8h0.9M229.9 669.0h0.9M226.8 669.8h0.9M222.2 681.0h0.9M235.9 671.0h0.9M218.8 667.6h0.9M218.2 667.7h0.9M230.7 671.8h0.9M231.0 675.1h0.9M235.8 667.4h0.9M227.0 671.3h0.9M220.5 665.7h0.9M228.5 673.9h0.9M227.3 663.2h0.9M224.8 672.1h0.9" stroke="#3a3a3a" stroke-width="0.9" stroke-opacity="0.45" fill="none"/>
<path d="M226.6 670.2h0.9M222.3 666.6h0.9M220.9 680.3h0.9M222.8 655.1h0.9M230.2 669.1h0.9M211.6 672.5h0.9M221.4 673.5h0.9M228.1 677.3h0.9M199.1 664.8h0.9M199.6 673.7h0.9M225.8 672.1h0.9M235.4 677.9h0.9M226.8 669.4h0.9M227.0 669.0h0.9M231.4 675.1h0.9M227.4 669.6h0.9M227.1 680.4h0.9M223.1 667.0h0.9M229.8 680.9h0.9M230.9 670.0h0.9M218.5 676.1h0.9M224.9 660.7h0.9M227.3 669.4h0.9M193.8 681.3h0.9M226.3 664.4h0.9M225.9 678.8h0.9M238.5 679.1h0.9M224.2 668.2h0.9M225.7 673.7h0.9M221.8 685.7h0.9M220.4 671.9h0.9M251.0 669.8h0.9M225.7 668.5h0.9M235.8 674.5h0.9M228.6 668.7h0.9M231.5 669.4h0.9M222.9 665.8h0.9M236.6 675.7h0.9M207.4 669.7h0.9M223.1 671.4h0.9M208.9 688.5h0.9M224.0 658.1h0.9M225.3 672.9h0.9M238.6 678.1h0.9M233.2 669.6h0.9M234.9 667.9h0.9M183.6 667.7h0.9M227.2 670.7h0.9M224.8 673.3h0.9M222.3 655.8h0.9M186.5 661.2h0.9M217.9 682.7h0.9M210.5 674.0h0.9M222.8 670.7h0.9M226.8 663.2h0.9M218.1 675.9h0.9M224.7 664.2h0.9M229.6 661.6h0.9M217.2 678.6h0.9M225.1 665.8h0.9M225.6 673.6h0.9M228.1 666.9h0.9M206.6 676.3h0.9M226.0 673.1h0.9M236.3 675.0h0.9M226.2 665.3h0.9M233.2 671.4h0.9M229.9 682.8h0.9M212.5 675.5h0.9M208.6 667.8h0.9M230.7 669.1h0.9M228.7 670.7h0.9M205.3 663.6h0.9M228.6 674.8h0.9M237.4 673.0h0.9M225.5 681.2h0.9M225.2 669.7h0.9M221.4 672.3h0.9M225.3 667.1h0.9M229.1 670.5h0.9M224.3 671.2h0.9M228.6 677.6h0.9M235.3 672.8h0.9M178.8 674.4h0.9M230.0 672.0h0.9M249.2 670.6h0.9M223.6 668.7h0.9M209.3 670.3h0.9M225.2 662.2h0.9M181.9 669.1h0.9M204.4 672.4h0.9M237.1 668.8h0.9M223.6 667.2h0.9M229.9 660.9h0.9M226.7 665.8h0.9M213.9 659.8h0.9M224.5 668.5h0.9M211.7 680.0h0.9M215.4 660.9h0.9M229.6 660.9h0.9M219.8 667.7h0.9M227.3 667.8h0.9M229.3 675.1h0.9M228.8 673.7h0.9M219.8 669.1h0.9M206.6 671.2h0.9M228.7 666.5h0.9M197.3 670.1h0.9M228.9 675.5h0.9M227.8 666.8h0.9M230.8 678.3h0.9M227.3 667.1h0.9M232.2 670.3h0.9M225.7 672.6h0.9M229.9 671.4h0.9M222.8 667.1h0.9M224.1 665.3h0.9M228.1 666.6h0.9M235.1 655.4h0.9M226.9 662.7h0.9M222.4 670.9h0.9M225.0 666.5h0.9M225.7 663.3h0.9M222.3 668.7h0.9M222.2 676.2h0.9M226.4 665.5h0.9M205.3 675.7h0.9M225.2 662.4h0.9M218.5 677.7h0.9M239.1 668.3h0.9M203.2 658.8h0.9M224.7 674.0h0.9M221.1 675.4h0.9M235.1 663.1h0.9M237.2 675.3h0.9M221.6 675.7h0.9M210.3 662.5h0.9M225.3 672.7h0.9M226.3 670.2h0.9M226.4 668.8h0.9M199.1 673.0h0.9M219.0 672.1h0.9M223.0 668.7h0.9M228.7 660.8h0.9M226.8 687.6h0.9M209.2 663.1h0.9M225.3 670.0h0.9M224.5 666.5h0.9M223.7 667.1h0.9M223.2 671.1h0.9M232.3 669.9h0.9M218.6 672.0h0.9M228.5 666.0h0.9M224.0 671.3h0.9M231.5 672.8h0.9M228.5 667.0h0.9M232.2 665.6h0.9M225.5 668.6h0.9M226.2 671.3h0.9M223.6 667.6h0.9M236.5 673.0h0.9M196.7 664.5h0.9M222.4 673.3h0.9M225.7 674.5h0.9M191.3 679.7h0.9M221.5 671.8h0.9M222.6 672.0h0.9M227.9 667.5h0.9M227.8 664.2h0.9M239.5 673.0h0.9M228.6 673.9h0.9M204.5 663.0h0.9M230.3 669.2h0.9M210.4 668.4h0.9M235.1 676.4h0.9M229.8 670.0h0.9M229.9 671.4h0.9M212.5 670.2h0.9M224.2 666.3h0.9M226.4 672.8h0.9M223.9 668.7h0.9M226.5 666.0h0.9M226.7 666.3h0.9M222.2 672.0h0.9M225.0 668.3h0.9M227.8 679.7h0.9M217.0 673.1h0.9M222.5 668.5h0.9M220.9 668.8h0.9M226.3 670.7h0.9M219.9 670.2h0.9M234.5 668.4h0.9M226.2 667.8h0.9M228.2 671.6h0.9M228.1 669.6h0.9M235.0 662.7h0.9M230.2 669.7h0.9M225.0 669.5h0.9M207.8 678.0h0.9M185.6 656.9h0.9M212.1 673.5h0.9M228.8 677.0h0.9M228.1 669.5h0.9M215.9 669.7h0.9M221.9 681.1h0.9M227.0 668.7h0.9M227.4 672.3h0.9M219.1 674.5h0.9M223.2 675.2h0.9M239.7 678.2h0.9M209.8 672.5h0.9M223.2 675.2h0.9M223.9 671.9h0.9M235.9 678.9h0.9M221.9 667.3h0.9M216.9 672.4h0.9M226.1 669.7h0.9M234.3 675.4h0.9M240.4 673.9h0.9M233.4 674.6h0.9M229.6 668.6h0.9M232.3 667.8h0.9M232.8 668.7h0.9M228.4 674.2h0.9M220.3 668.2h0.9M226.8 667.0h0.9M230.1 670.7h0.9M224.9 675.7h0.9M233.2 670.2h0.9M232.3 667.3h0.9M239.2 677.9h0.9M227.1 676.7h0.9M224.5 668.3h0.9M229.5 673.8h0.9M218.1 665.2h0.9M227.5 670.6h0.9M237.0 670.0h0.9M223.8 670.5h0.9M226.6 670.8h0.9M223.3 672.9h0.9M228.4 664.2h0.9M227.1 673.4h0.9M236.7 676.2h0.9M230.9 672.7h0.9M220.8 670.8h0.9M184.5 676.0h0.9M223.5 673.9h0.9M227.8 662.9h0.9M183.7 661.6h0.9M229.5 668.2h0.9M224.0 683.3h0.9M225.1 673.7h0.9M226.0 672.4h0.9M209.1 679.9h0.9M221.7 671.9h0.9M227.7 673.6h0.9M225.9 667.7h0.9M190.0 664.5h0.9M223.6 676.8h0.9M228.2 670.2h0.9M236.5 673.7h0.9M244.6 683.1h0.9M218.6 674.7h0.9M219.2 662.0h0.9M232.9 666.5h0.9M234.4 672.0h0.9M228.9 675.9h0.9M236.1 670.7h0.9M232.2 670.2h0.9M228.2 666.7h0.9M224.6 684.5h0.9M223.7 652.5h0.9M217.4 664.3h0.9M216.9 657.5h0.9M210.9 683.8h0.9M235.4 672.7h0.9M234.9 669.1h0.9M221.8 670.3h0.9M224.0 664.2h0.9M227.3 668.8h0.9M210.5 674.6h0.9M228.6 658.2h0.9M232.0 665.5h0.9M211.3 664.8h0.9M223.8 667.8h0.9M231.0 681.6h0.9M220.3 674.8h0.9M216.2 680.0h0.9M222.1 672.3h0.9M230.4 666.6h0.9M220.9 673.6h0.9M238.2 670.1h0.9M221.9 667.2h0.9M222.5 667.0h0.9M225.0 665.6h0.9M224.5 675.3h0.9M224.8 667.8h0.9M239.6 665.7h0.9M227.4 664.2h0.9M223.0 661.3h0.9M225.7 668.9h0.9M216.3 668.2h0.9M234.6 668.2h0.9M222.8 671.1h0.9M222.5 674.6h0.9" stroke="#3a3a3a" stroke-width="0.9" stroke-opacity="0.45" fill="none"/>
<path d="M196.5 669.1h0.9M225.5 668.2h0.9M228.3 670.0h0.9M232.7 667.6h0.9M220.3 677.0h0.9M241.8 672.3h0.9M226.1 665.2h0.9M228.1 668.8h0.9M235.8 665.4h0.9M224.7 666.2h0.9M218.6 661.4h0.9M228.8 664.4h0.9M228.8 680.7h0.9M236.1 678.2h0.9M213.0 663.6h0.9M232.0 671.3h0.9M221.9 674.4h0.9M212.6 662.4h0.9M222.4 670.4h0.9M224.8 666.1h0.9M231.6 669.9h0.9M219.9 669.6h0.9M215.1 672.6h0.9M232.4 668.5h0.9M220.1 662.1h0.9M242.2 671.8h0.9M232.2 667.3h0.9M220.9 678.2h0.9M212.9 671.0h0.9M218.3 672.0h0.9M223.1 674.9h0.9M218.8 680.2h0.9M229.6 676.0h0.9M237.4 670.4h0.9M228.9 667.5h0.9M230.4 667.5h0.9M221.7 668.6h0.9M235.6 666.9h0.9M208.6 674.4h0.9M221.2 671.9h0.9M229.4 670.4h0.9M218.4 666.8h0.9M230.6 669.2h0.9M226.1 669.5h0.9M215.3 674.7h0.9M243.2 671.0h0.9M222.7 674.5h0.9M226.9 671.3h0.9M226.5 666.7h0.9M208.0 678.4h0.9M232.8 668.7h0.9M229.3 667.2h0.9M237.9 664.3h0.9M224.4 667.6h0.9M238.8 659.3h0.9M226.1 671.2h0.9M231.7 675.8h0.9M227.7 671.6h0.9M223.6 662.7h0.9M220.5 668.7h0.9M227.9 670.0h0.9M232.3 675.5h0.9M230.1 678.1h0.9M191.0 670.8h0.9M233.1 667.2h0.9M232.3 668.9h0.9M203.8 676.6h0.9M217.8 667.6h0.9M223.9 669.9h0.9M227.7 672.1h0.9M225.2 671.3h0.9M228.9 668.4h0.9M216.0 658.5h0.9M236.4 672.4h0.9M213.1 668.4h0.9M217.8 677.9h0.9M231.8 672.1h0.9M230.1 668.9h0.9M221.5 671.6h0.9M231.9 672.1h0.9M218.3 671.6h0.9M212.9 660.7h0.9M235.6 676.0h0.9M217.6 670.0h0.9M222.3 671.5h0.9M198.0 674.1h0.9M236.4 674.2h0.9M206.6 674.6h0.9M219.2 671.9h0.9M214.9 670.9h0.9M223.0 668.9h0.9M217.3 667.3h0.9M228.1 678.1h0.9M229.0 666.1h0.9M206.8 654.7h0.9M213.7 684.8h0.9M201.7 652.1h0.9M225.7 672.9h0.9M224.9 667.8h0.9M217.8 658.4h0.9M220.6 674.1h0.9M233.8 667.6h0.9M209.1 678.4h0.9M224.2 666.9h0.9M221.7 667.2h0.9M222.7 662.2h0.9M226.7 665.3h0.9M225.5 674.1h0.9M231.2 678.2h0.9M236.0 686.3h0.9M230.7 674.8h0.9M235.7 673.6h0.9M237.9 681.6h0.9M236.1 672.1h0.9M219.0 666.1h0.9M230.8 664.7h0.9M224.8 666.0h0.9M217.8 667.6h0.9M231.9 681.0h0.9M228.0 668.6h0.9M227.3 661.1h0.9M227.8 673.6h0.9M237.7 669.1h0.9M222.3 671.5h0.9M231.0 668.3h0.9M232.9 673.9h0.9M197.2 679.9h0.9M228.1 666.1h0.9M226.5 671.9h0.9M218.4 662.7h0.9M229.3 673.2h0.9M219.6 670.5h0.9M225.9 673.5h0.9M224.6 674.2h0.9M220.4 674.8h0.9M224.1 669.4h0.9M228.3 672.8h0.9M189.6 671.6h0.9M223.5 667.6h0.9M228.8 667.1h0.9M240.5 675.7h0.9M218.3 669.9h0.9M227.4 667.2h0.9M219.2 672.3h0.9M202.5 659.5h0.9M224.0 667.4h0.9M217.7 669.0h0.9M238.8 676.4h0.9M234.2 669.0h0.9M227.1 671.8h0.9M229.8 671.3h0.9M233.8 672.6h0.9M233.1 668.6h0.9M230.8 670.2h0.9M227.1 666.5h0.9M229.5 666.5h0.9M224.4 674.4h0.9M244.4 672.9h0.9M212.6 660.6h0.9M213.6 666.8h0.9M232.5 668.5h0.9M226.6 670.6h0.9M220.9 672.1h0.9M229.2 663.4h0.9M224.9 665.2h0.9M227.8 666.2h0.9M223.8 669.0h0.9M220.1 673.4h0.9M225.2 672.4h0.9M225.7 673.8h0.9M221.0 676.3h0.9M230.5 665.1h0.9M223.3 668.8h0.9M233.0 673.0h0.9M219.1 670.7h0.9M228.0 663.4h0.9M218.9 671.7h0.9M223.4 664.8h0.9M222.8 671.1h0.9M198.1 662.5h0.9M222.8 667.2h0.9M204.4 670.9h0.9M212.8 680.3h0.9M237.7 674.0h0.9M223.4 674.0h0.9M232.1 667.4h0.9M219.5 683.8h0.9M228.3 675.8h0.9M226.8 673.4h0.9M237.9 674.4h0.9M233.0 667.8h0.9M230.9 669.2h0.9M226.3 669.4h0.9M226.8 671.2h0.9M219.5 666.9h0.9M229.8 666.9h0.9M230.3 680.8h0.9M221.6 665.9h0.9M219.7 672.8h0.9M227.1 666.8h0.9M237.0 670.2h0.9M232.6 669.0h0.9M214.9 668.7h0.9M220.8 672.3h0.9M210.4 659.1h0.9M229.0 662.0h0.9M233.9 663.7h0.9M228.5 672.9h0.9M235.6 677.8h0.9M219.5 677.3h0.9M229.5 676.2h0.9M227.2 670.6h0.9M225.2 669.7h0.9M224.0 674.4h0.9M228.4 675.9h0.9M227.3 673.4h0.9M232.3 662.2h0.9M220.6 666.4h0.9M223.1 673.2h0.9M217.9 674.0h0.9M227.7 669.4h0.9M201.7 680.8h0.9M214.7 675.2h0.9M231.9 669.9h0.9M211.6 681.1h0.9M219.5 674.3h0.9M225.6 671.1h0.9M219.9 679.7h0.9M227.7 673.1h0.9M228.5 671.5h0.9M224.5 672.0h0.9M230.2 678.7h0.9M233.2 677.5h0.9M234.7 668.3h0.9M224.7 658.1h0.9M222.8 679.0h0.9M206.5 666.5h0.9M231.5 673.5h0.9M234.3 672.9h0.9M227.5 664.4h0.9M227.1 663.1h0.9M204.3 659.5h0.9M226.2 677.9h0.9M227.8 674.7h0.9M233.5 674.2h0.9M204.2 659.9h0.9M232.2 673.0h0.9M213.4 680.7h0.9M223.9 673.4h0.9M226.2 671.2h0.9M233.8 673.6h0.9M221.5 662.5h0.9M217.4 651.6h0.9M227.3 672.9h0.9M218.1 673.0h0.9M231.0 659.3h0.9M220.4 667.4h0.9M210.8 663.6h0.9M223.3 671.8h0.9M226.9 682.6h0.9M228.0 667.6h0.9M231.2 668.1h0.9M229.0 664.6h0.9M232.0 669.6h0.9M222.8 666.0h0.9M222.1 673.0h0.9M227.2 669.0h0.9M219.0 671.6h0.9M225.1 669.5h0.9M220.5 666.1h0.9M225.3 670.1h0.9M218.3 678.6h0.9M241.1 679.5h0.9M235.9 677.5h0.9M230.7 673.0h0.9M232.5 670.7h0.9M226.7 680.3h0.9M212.3 677.6h0.9M223.7 665.9h0.9M223.9 671.4h0.9M230.0 664.2h0.9M211.0 668.2h0.9M230.0 676.0h0.9M228.0 669.2h0.9M219.0 664.7h0.9M222.6 667.0h0.9M229.3 667.2h0.9M232.6 669.1h0.9M219.2 669.3h0.9M210.7 662.2h0.9M218.5 679.6h0.9M223.9 674.3h0.9M219.9 669.9h0.9M226.3 678.8h0.9M221.4 669.8h0.9M224.8 674.7h0.9M236.1 666.3h0.9M226.2 673.3h0.9M219.7 684.5h0.9M223.3 684.5h0.9M238.3 670.0h0.9M214.5 668.7h0.9M220.4 655.4h0.9M220.8 667.4h0.9M229.5 655.5h0.9" stroke="#3a3a3a" stroke-width="0.9" stroke-opacity="0.45" fill="none"/>
<rect x="176.8" y="640.5" width="81.5" height="51.7" fill="none" stroke="#000" stroke-width="1"/>
<line x1="216.5" y1="640.5" x2="216.5" y2="692.2" stroke="#000" stroke-width="1"/>
<line x1="176.8" y1="662.8" x2="258.3" y2="662.8" stroke="#000" stroke-width="1"/>
<line x1="175.3" y1="680.18" x2="176.8" y2="680.18" stroke="#000" stroke-width="0.8"/>
<line x1="175.3" y1="668.15" x2="176.8" y2="668.15" stroke="#000" stroke-width="0.8"/>
<line x1="175.3" y1="656.13" x2="176.8" y2="656.13" stroke="#000" stroke-width="0.8"/>
<line x1="175.3" y1="644.11" x2="176.8" y2="644.11" stroke="#000" stroke-width="0.8"/>
<line x1="176.8" y1="692.2" x2="176.8" y2="693.8" stroke="#000" stroke-width="0.8"/>
<line x1="182.93" y1="692.2" x2="182.93" y2="693.2" stroke="#000" stroke-width="0.8"/>
<line x1="191.04" y1="692.2" x2="191.04" y2="693.2" stroke="#000" stroke-width="0.8"/>
<line x1="197.18" y1="692.2" x2="197.18" y2="693.8" stroke="#000" stroke-width="0.8"/>
<line x1="203.31" y1="692.2" x2="203.31" y2="693.2" stroke="#000" stroke-width="0.8"/>
<line x1="211.42" y1="692.2" x2="211.42" y2="693.2" stroke="#000" stroke-width="0.8"/>
<line x1="217.55" y1="692.2" x2="217.55" y2="693.8" stroke="#000" stroke-width="0.8"/>
<line x1="223.68" y1="692.2" x2="223.68" y2="693.2" stroke="#000" stroke-width="0.8"/>
<line x1="231.79" y1="692.2" x2="231.79" y2="693.2" stroke="#000" stroke-width="0.8"/>
<line x1="237.93" y1="692.2" x2="237.93" y2="693.8" stroke="#000" stroke-width="0.8"/>
<line x1="244.06" y1="692.2" x2="244.06" y2="693.2" stroke="#000" stroke-width="0.8"/>
<line x1="252.17" y1="692.2" x2="252.17" y2="693.2" stroke="#000" stroke-width="0.8"/>
<text x="187" y="653.5" font-size="8.7">1.65%</text>
<text x="229" y="655.1" font-size="8.7">6.89%</text>
<text x="229" y="691.1" font-size="8.7">72.41%</text>
<text x="273.6" y="633.2" font-size="10.5">Bi Tg -DOX</text>
<path d="M309.6 675.5h0.9M295.2 666.7h0.9M308.4 666.4h0.9M312.1 668.5h0.9M310.9 675.9h0.9M299.8 671.7h0.9M281.1 682.8h0.9M315.7 673.8h0.9M315.7 668.5h0.9M304.4 667.9h0.9M308.6 664.2h0.9M299.5 667.1h0.9M299.2 656.6h0.9M302.1 679.8h0.9M312.3 675.5h0.9M313.0 672.0h0.9M321.6 661.1h0.9M288.3 677.2h0.9M315.0 668.8h0.9M313.6 670.8h0.9M324.5 674.4h0.9M305.7 667.2h0.9M308.2 668.7h0.9M309.4 673.5h0.9M322.3 678.9h0.9M298.4 667.6h0.9M290.0 679.2h0.9M314.8 671.5h0.9M300.3 655.7h0.9M304.9 675.2h0.9M274.3 670.4h0.9M310.1 673.8h0.9M308.5 673.4h0.9M309.1 667.6h0.9M307.8 667.3h0.9M307.4 666.5h0.9M307.7 664.8h0.9M303.8 681.0h0.9M292.0 670.8h0.9M312.5 668.3h0.9M310.5 669.6h0.9M312.2 669.1h0.9M319.6 671.7h0.9M307.1 672.5h0.9M308.2 673.6h0.9M305.4 670.4h0.9M315.5 664.0h0.9M315.5 670.2h0.9M296.0 672.7h0.9M310.0 671.9h0.9M319.2 658.3h0.9M306.2 669.1h0.9M309.9 676.4h0.9M312.7 674.3h0.9M313.3 676.1h0.9M309.9 667.4h0.9M292.6 676.2h0.9M307.2 671.6h0.9M307.0 669.6h0.9M303.9 672.4h0.9M321.6 665.1h0.9M293.6 664.9h0.9M310.0 674.3h0.9M312.3 668.1h0.9M312.6 667.3h0.9M316.6 672.5h0.9M305.2 675.7h0.9M303.9 676.2h0.9M305.5 672.2h0.9M298.4 660.4h0.9M308.0 673.6h0.9M315.0 671.3h0.9M311.8 669.2h0.9M297.3 675.9h0.9M309.3 663.8h0.9M305.9 679.4h0.9M308.2 673.1h0.9M323.3 672.8h0.9M304.3 684.1h0.9M312.0 670.4h0.9M294.5 678.4h0.9M303.2 662.4h0.9M290.1 669.9h0.9M313.4 667.9h0.9M302.5 675.0h0.9M296.9 678.8h0.9M278.2 677.5h0.9M313.2 671.0h0.9M323.8 661.5h0.9M269.0 681.7h0.9M304.1 676.0h0.9M294.4 663.1h0.9M307.6 680.4h0.9M310.6 673.1h0.9M320.0 665.5h0.9M298.7 671.6h0.9M309.0 676.2h0.9M317.1 672.6h0.9M301.1 668.8h0.9M294.0 670.9h0.9M306.7 674.9h0.9M313.9 667.9h0.9M308.4 665.7h0.9M312.4 667.0h0.9M307.8 673.0h0.9M281.9 687.9h0.9M318.7 665.9h0.9M317.7 662.9h0.9M311.8 670.4h0.9M311.3 649.4h0.9M286.6 663.3h0.9M309.3 666.9h0.9M303.8 673.2h0.9M310.5 668.2h0.9M301.1 668.4h0.9M307.4 675.4h0.9M304.9 664.6h0.9M304.6 664.1h0.9M322.7 669.6h0.9M318.3 674.7h0.9M294.8 676.8h0.9M291.1 670.8h0.9M313.3 674.7h0.9M304.5 668.4h0.9M309.9 669.8h0.9M320.7 665.9h0.9M304.6 669.6h0.9M313.1 675.7h0.9M311.1 676.7h0.9M308.7 673.1h0.9M309.5 675.7h0.9M305.4 660.5h0.9M301.5 673.6h0.9M317.1 665.3h0.9M303.3 674.4h0.9M307.9 670.6h0.9M304.0 667.8h0.9M305.0 671.8h0.9M308.6 666.1h0.9M306.2 681.6h0.9M311.2 663.8h0.9M310.0 667.9h0.9M313.3 673.6h0.9M307.1 667.2h0.9M293.2 685.0h0.9M317.9 675.0h0.9M307.2 662.9h0.9M301.7 669.7h0.9M307.6 665.0h0.9M297.2 671.7h0.9M284.9 683.4h0.9M294.7 669.8h0.9M312.8 670.3h0.9M305.5 669.2h0.9M292.8 665.8h0.9M304.2 677.3h0.9M314.0 667.5h0.9M310.3 656.5h0.9M302.7 663.8h0.9M308.8 675.2h0.9M304.6 669.1h0.9M282.3 676.1h0.9M313.4 667.0h0.9M317.5 654.8h0.9M307.4 670.4h0.9M307.7 670.6h0.9M321.1 669.1h0.9M303.9 672.5h0.9M310.3 665.2h0.9M318.8 661.5h0.9M298.1 674.2h0.9M313.6 675.3h0.9M306.7 672.3h0.9M301.0 674.7h0.9M298.7 675.8h0.9M312.5 671.2h0.9M304.8 670.0h0.9M308.4 677.0h0.9M300.6 668.1h0.9M314.3 667.8h0.9M276.1 676.4h0.9M312.3 672.9h0.9M320.0 669.5h0.9M317.1 661.6h0.9M312.6 666.7h0.9M288.3 666.6h0.9M305.3 666.1h0.9M304.3 668.3h0.9M306.9 670.2h0.9M303.0 671.7h0.9M316.9 659.1h0.9M307.4 680.1h0.9M308.7 672.6h0.9M306.4 669.8h0.9M317.8 673.7h0.9M308.2 668.8h0.9M320.5 675.7h0.9M277.8 671.3h0.9M309.4 671.1h0.9M294.6 669.2h0.9M286.6 672.3h0.9M306.6 679.3h0.9M298.3 662.0h0.9M311.1 666.7h0.9M304.9 672.4h0.9M309.2 677.7h0.9M298.3 681.0h0.9M309.9 675.9h0.9M307.4 673.6h0.9M309.8 669.0h0.9M307.5 667.6h0.9M306.8 656.9h0.9M307.7 656.2h0.9M288.8 687.1h0.9M297.1 677.4h0.9M295.4 687.3h0.9M293.4 670.8h0.9M306.4 670.7h0.9M307.2 661.9h0.9M310.2 672.8h0.9M316.1 658.6h0.9M308.1 677.4h0.9M321.2 655.2h0.9M338.9 670.8h0.9M308.2 675.6h0.9M296.8 669.4h0.9M318.0 672.1h0.9M313.6 675.6h0.9M281.9 673.8h0.9M305.9 674.1h0.9M315.6 664.9h0.9M302.9 664.9h0.9M309.1 665.1h0.9M312.9 674.9h0.9M308.8 676.7h0.9M309.4 664.5h0.9M306.0 669.4h0.9M311.1 669.8h0.9M307.9 669.8h0.9M315.2 666.5h0.9M285.8 682.3h0.9M311.5 669.9h0.9M302.4 666.8h0.9M328.7 679.6h0.9M303.2 667.9h0.9M310.2 668.4h0.9M311.0 663.1h0.9M306.6 666.1h0.9M287.0 673.3h0.9M294.5 673.0h0.9M308.1 670.1h0.9M314.0 669.4h0.9M305.2 680.6h0.9M309.2 681.1h0.9M308.9 675.0h0.9M311.7 668.5h0.9M307.9 671.9h0.9M313.5 674.4h0.9M308.4 678.5h0.9M291.4 670.3h0.9M313.0 678.7h0.9M309.3 662.9h0.9M323.4 664.1h0.9M315.8 671.0h0.9M312.4 672.0h0.9M289.3 678.4h0.9M309.5 667.3h0.9M310.0 670.3h0.9M279.8 662.5h0.9M313.2 674.9h0.9M297.6 679.7h0.9M306.7 671.4h0.9M302.8 668.2h0.9M314.5 668.6h0.9M287.8 665.6h0.9M305.1 672.6h0.9M304.8 672.9h0.9M313.9 676.7h0.9M276.6 659.7h0.9M304.4 670.2h0.9M307.3 674.1h0.9M306.6 671.3h0.9M287.2 666.8h0.9M301.4 682.5h0.9M310.5 669.9h0.9M313.7 669.3h0.9M307.6 667.5h0.9M305.3 664.2h0.9M329.5 659.0h0.9M307.2 680.9h0.9M297.2 657.3h0.9M312.4 672.1h0.9M302.8 665.8h0.9M314.0 662.3h0.9M287.4 673.3h0.9M309.5 672.4h0.9M309.9 672.5h0.9M307.4 677.1h0.9M313.2 672.0h0.9M301.5 675.3h0.9M315.2 664.3h0.9M314.2 665.3h0.9M299.4 678.0h0.9M311.6 654.2h0.9M302.3 668.0h0.9M314.2 665.2h0.9M304.5 668.4h0.9M323.8 661.5h0.9M275.9 673.7h0.9M308.8 678.3h0.9M273.2 673.6h0.9M294.3 672.1h0.9M310.5 671.3h0.9" stroke="#3a3a3a" stroke-width="0.9" stroke-opacity="0.45" fill="none"/>
<path d="M315.9 674.3h0.9M303.2 663.6h0.9M275.2 677.2h0.9M311.0 672.8h0.9M270.3 687.2h0.9M313.5 670.8h0.9M304.5 674.9h0.9M289.1 686.4h0.9M308.1 675.2h0.9M306.3 671.4h0.9M310.4 663.8h0.9M328.1 655.7h0.9M285.9 671.8h0.9M312.1 666.2h0.9M312.7 668.8h0.9M295.4 669.2h0.9M322.7 667.2h0.9M305.4 660.7h0.9M296.0 672.6h0.9M314.7 669.0h0.9M324.5 660.7h0.9M308.0 682.8h0.9M311.5 667.5h0.9M305.0 678.6h0.9M300.4 668.4h0.9M297.9 667.9h0.9M296.2 669.3h0.9M308.2 669.3h0.9M313.3 674.6h0.9M312.5 668.3h0.9M313.6 670.9h0.9M313.1 675.5h0.9M311.3 674.0h0.9M302.6 669.2h0.9M306.1 664.9h0.9M300.3 673.7h0.9M317.9 670.6h0.9M302.4 673.3h0.9M316.1 666.2h0.9M300.3 677.2h0.9M309.9 671.9h0.9M261.8 675.7h0.9M311.3 666.7h0.9M296.1 676.4h0.9M278.0 674.2h0.9M309.3 672.4h0.9M309.3 678.2h0.9M309.2 670.3h0.9M315.5 671.8h0.9M310.3 665.2h0.9M307.3 679.1h0.9M301.1 672.0h0.9M302.7 663.0h0.9M320.1 675.3h0.9M311.6 666.5h0.9M287.8 655.5h0.9M319.3 671.8h0.9M303.6 679.4h0.9M292.5 658.4h0.9M292.5 673.3h0.9M321.0 669.8h0.9M309.7 667.3h0.9M285.9 673.3h0.9M302.7 668.3h0.9M309.0 664.3h0.9M300.1 677.4h0.9M304.0 660.2h0.9M312.7 674.3h0.9M305.4 667.7h0.9M311.9 665.6h0.9M310.6 677.0h0.9M306.3 671.2h0.9M305.1 668.3h0.9M312.9 673.3h0.9M315.4 671.0h0.9M309.7 666.9h0.9M301.5 669.2h0.9M318.1 666.6h0.9M316.1 676.6h0.9M309.6 673.1h0.9M324.4 672.5h0.9M312.9 668.1h0.9M292.1 675.0h0.9M307.7 671.4h0.9M312.1 660.6h0.9M316.4 667.9h0.9M302.6 678.7h0.9M284.2 677.1h0.9M311.7 674.8h0.9M305.9 674.2h0.9M306.4 674.2h0.9M298.9 671.7h0.9M303.5 664.6h0.9M297.3 669.7h0.9M302.3 671.5h0.9M305.7 671.0h0.9M307.4 671.8h0.9M296.9 662.8h0.9M278.2 685.0h0.9M310.4 665.8h0.9M306.2 662.4h0.9M307.9 673.0h0.9M282.6 680.1h0.9M308.2 674.2h0.9M311.4 675.1h0.9M279.2 670.5h0.9M291.2 679.1h0.9M310.1 675.4h0.9M295.1 675.3h0.9M315.6 671.4h0.9M309.1 665.9h0.9M298.5 659.8h0.9M306.8 671.2h0.9M292.8 664.8h0.9M294.7 671.4h0.9M306.4 665.4h0.9M310.3 674.7h0.9M298.4 666.9h0.9M309.8 667.6h0.9M309.6 673.0h0.9M305.6 667.6h0.9M283.7 668.1h0.9M263.0 665.4h0.9M314.1 669.5h0.9M313.2 673.4h0.9M320.3 671.7h0.9M301.7 675.0h0.9M275.7 683.3h0.9M304.6 667.1h0.9M305.7 676.9h0.9M317.0 678.7h0.9M308.8 665.8h0.9M323.0 677.6h0.9M313.0 672.8h0.9M306.7 671.2h0.9M305.4 675.4h0.9M300.8 668.3h0.9M278.9 673.9h0.9M309.9 673.2h0.9M305.1 665.4h0.9M294.5 669.9h0.9M310.0 674.3h0.9M309.2 665.1h0.9M305.8 668.1h0.9M304.2 673.1h0.9M313.5 667.2h0.9M314.3 670.2h0.9M301.3 671.2h0.9M310.6 666.2h0.9M303.8 672.0h0.9M301.9 674.9h0.9M314.9 665.7h0.9M317.3 685.8h0.9M300.2 665.2h0.9M307.5 664.2h0.9M309.0 673.1h0.9M310.6 673.6h0.9M307.8 672.7h0.9M309.5 673.4h0.9M304.6 660.5h0.9M320.0 688.1h0.9M296.4 677.8h0.9M292.6 680.9h0.9M305.0 672.0h0.9M290.0 667.8h0.9M317.5 668.1h0.9M302.9 672.2h0.9M305.4 670.8h0.9M301.8 667.0h0.9M298.2 676.5h0.9M312.3 668.9h0.9M310.6 668.2h0.9M296.0 672.3h0.9M310.2 664.5h0.9M303.8 682.9h0.9M311.1 669.9h0.9M305.7 667.8h0.9M309.5 666.3h0.9M309.2 661.6h0.9M312.2 666.1h0.9M305.5 672.4h0.9M307.1 678.6h0.9M311.0 670.6h0.9M283.4 682.3h0.9M307.7 674.9h0.9M308.6 665.6h0.9M302.4 652.8h0.9M307.0 670.6h0.9M316.2 674.5h0.9M300.7 681.9h0.9M314.1 666.2h0.9M317.6 681.1h0.9M313.5 672.6h0.9M309.9 668.9h0.9M302.4 676.1h0.9M302.9 669.6h0.9M312.5 673.5h0.9M300.9 676.8h0.9M310.7 674.6h0.9M303.3 678.2h0.9M299.4 658.7h0.9M312.7 674.7h0.9M286.8 678.1h0.9M302.1 670.5h0.9M315.3 669.9h0.9M286.8 661.3h0.9M313.9 660.2h0.9M300.7 665.9h0.9M304.8 673.0h0.9M284.3 671.6h0.9M311.8 680.8h0.9M304.8 666.2h0.9M303.8 672.3h0.9M299.4 673.4h0.9M308.2 667.3h0.9M293.4 676.4h0.9M312.8 668.8h0.9M308.3 671.4h0.9M301.3 668.6h0.9M315.7 675.7h0.9M310.1 674.3h0.9M304.8 664.3h0.9M330.5 649.3h0.9M321.8 671.9h0.9M305.0 663.5h0.9M310.4 674.3h0.9M314.9 662.9h0.9M297.1 667.5h0.9M305.9 666.6h0.9M300.5 669.8h0.9M304.8 681.8h0.9M318.0 681.3h0.9M303.0 682.9h0.9M310.3 667.0h0.9M308.1 675.2h0.9M309.8 668.3h0.9M312.3 675.2h0.9M314.3 672.9h0.9M311.8 669.2h0.9M309.6 672.4h0.9M290.3 677.7h0.9M309.9 675.1h0.9M308.8 672.1h0.9M304.1 679.8h0.9M304.1 680.7h0.9M312.7 673.8h0.9M315.7 665.4h0.9M307.1 668.7h0.9M314.0 675.2h0.9M286.9 676.2h0.9M299.6 674.3h0.9M299.4 666.5h0.9M305.6 668.2h0.9M300.6 666.0h0.9M308.6 684.0h0.9M312.0 671.3h0.9M305.8 667.0h0.9M300.2 664.9h0.9M315.5 671.8h0.9M302.3 665.1h0.9M310.0 657.6h0.9M302.1 672.6h0.9M307.2 677.6h0.9M307.3 672.9h0.9M298.6 677.8h0.9M311.9 674.3h0.9M309.6 669.9h0.9M309.9 673.6h0.9M309.2 676.5h0.9M313.6 673.4h0.9M307.0 673.4h0.9M301.9 670.7h0.9M303.2 670.8h0.9M314.6 666.8h0.9M276.3 681.0h0.9M275.8 670.9h0.9M309.0 665.6h0.9M306.2 675.6h0.9M302.2 673.8h0.9M314.9 668.3h0.9M308.9 675.6h0.9M276.8 670.3h0.9M304.2 669.7h0.9M315.5 667.1h0.9M321.5 658.1h0.9M302.4 668.2h0.9M294.6 672.5h0.9M306.3 668.4h0.9M310.1 667.5h0.9M309.4 669.0h0.9M304.5 673.6h0.9M308.9 677.0h0.9M307.8 668.3h0.9M316.1 673.9h0.9M310.3 667.2h0.9M313.1 665.3h0.9M291.1 676.8h0.9M308.2 670.6h0.9M293.7 679.4h0.9M300.1 666.8h0.9M303.5 667.6h0.9M308.2 671.3h0.9M308.8 676.3h0.9M305.3 667.4h0.9M310.2 672.5h0.9M295.0 689.8h0.9M289.3 679.7h0.9M309.8 672.3h0.9M297.3 675.2h0.9M291.0 670.1h0.9M313.1 674.6h0.9M296.3 686.4h0.9M311.0 675.1h0.9M313.8 666.3h0.9" stroke="#3a3a3a" stroke-width="0.9" stroke-opacity="0.45" fill="none"/>
<path d="M305.8 667.5h0.9M302.2 673.5h0.9M300.4 676.0h0.9M309.5 669.9h0.9M307.0 666.8h0.9M303.3 669.5h0.9M297.3 669.0h0.9M329.2 655.2h0.9M311.4 663.3h0.9M307.6 669.6h0.9M313.1 670.3h0.9M293.7 670.3h0.9M303.7 666.8h0.9M282.9 668.9h0.9M307.6 667.7h0.9M303.6 668.9h0.9M313.4 672.2h0.9M306.0 666.4h0.9M265.7 659.2h0.9M309.6 671.1h0.9M314.1 666.7h0.9M310.9 669.6h0.9M311.8 670.4h0.9M279.1 668.3h0.9M303.1 665.4h0.9M313.0 669.7h0.9M309.6 665.0h0.9M313.5 668.9h0.9M298.7 668.0h0.9M309.1 669.8h0.9M308.0 667.7h0.9M283.2 677.2h0.9M298.5 668.6h0.9M311.6 666.4h0.9M316.9 668.3h0.9M290.0 677.3h0.9M308.5 667.0h0.9M307.6 676.8h0.9M311.7 669.9h0.9M305.9 672.4h0.9M300.7 672.6h0.9M310.1 674.2h0.9M310.3 674.1h0.9M310.2 666.1h0.9M312.3 668.3h0.9M295.5 672.1h0.9M301.4 667.4h0.9M308.7 674.2h0.9M310.4 664.0h0.9M304.7 679.9h0.9M307.2 667.3h0.9M278.0 664.7h0.9M301.0 661.0h0.9M312.9 665.0h0.9M303.9 674.7h0.9M317.0 664.1h0.9M295.4 672.0h0.9M313.2 669.9h0.9M294.8 666.6h0.9M305.4 669.6h0.9M305.9 674.6h0.9M314.3 667.0h0.9M310.5 665.7h0.9M305.7 662.8h0.9M303.1 686.1h0.9M310.0 677.2h0.9M307.0 676.1h0.9M309.5 661.1h0.9M303.7 671.9h0.9M300.0 669.7h0.9M304.8 666.6h0.9M294.6 667.2h0.9M303.8 664.6h0.9M317.6 664.7h0.9M298.0 668.7h0.9M307.6 672.6h0.9M310.5 669.8h0.9M306.2 678.4h0.9M294.9 667.4h0.9M309.7 676.9h0.9M309.8 663.9h0.9M286.5 679.3h0.9M315.3 669.7h0.9M317.0 679.2h0.9M315.6 672.0h0.9M311.9 665.9h0.9M302.4 678.7h0.9M292.6 684.0h0.9M294.2 663.6h0.9M314.9 668.7h0.9M290.2 678.4h0.9M317.2 669.1h0.9M268.3 673.2h0.9M316.3 664.1h0.9M312.0 660.4h0.9M302.7 653.9h0.9M301.2 672.9h0.9M306.2 668.3h0.9M321.1 673.1h0.9M313.1 667.7h0.9M277.1 667.9h0.9M299.6 669.5h0.9M305.8 673.1h0.9M307.1 671.0h0.9M307.2 673.1h0.9M289.5 680.7h0.9M286.0 683.2h0.9M310.0 669.9h0.9M294.0 671.3h0.9M299.2 676.5h0.9M304.2 669.6h0.9M309.3 669.0h0.9M304.0 672.7h0.9M312.3 671.6h0.9M268.4 672.1h0.9M305.1 671.7h0.9M307.1 665.1h0.9M309.0 660.6h0.9M311.0 668.7h0.9M305.4 677.1h0.9M308.8 667.5h0.9M318.9 685.0h0.9M294.6 681.5h0.9M307.3 673.4h0.9M306.4 670.2h0.9M308.5 664.0h0.9M295.5 680.4h0.9M308.2 663.1h0.9M304.1 669.5h0.9M310.3 675.2h0.9M297.0 681.1h0.9M310.6 672.8h0.9M297.1 669.3h0.9M310.5 667.0h0.9M282.3 681.2h0.9M302.8 665.8h0.9M301.7 683.2h0.9M304.3 671.6h0.9M287.2 670.2h0.9M303.5 675.6h0.9M305.1 670.3h0.9M313.3 667.0h0.9M311.1 672.0h0.9M306.9 671.9h0.9M307.0 674.6h0.9M305.5 671.2h0.9M307.6 668.9h0.9M313.6 672.8h0.9M292.1 672.0h0.9M325.8 662.9h0.9M318.1 672.0h0.9M305.4 663.4h0.9M309.6 670.1h0.9M310.8 667.6h0.9M313.7 673.0h0.9M310.9 671.2h0.9M320.7 676.9h0.9M314.0 669.4h0.9M271.3 659.0h0.9M304.3 668.3h0.9M312.7 672.9h0.9M306.3 671.9h0.9M308.7 670.9h0.9M308.1 672.1h0.9M320.4 671.2h0.9M297.4 663.6h0.9M310.6 678.9h0.9M299.9 665.9h0.9M314.3 670.9h0.9M314.1 668.8h0.9M312.3 664.2h0.9M306.9 674.0h0.9M313.8 663.5h0.9M305.4 671.6h0.9M306.3 675.8h0.9M305.0 671.7h0.9M287.6 666.3h0.9M312.0 662.9h0.9M314.4 685.4h0.9M306.6 668.9h0.9M290.3 669.1h0.9M304.8 660.5h0.9M298.3 674.3h0.9M306.7 673.8h0.9M314.8 672.7h0.9M312.5 661.7h0.9M309.6 675.1h0.9M311.0 671.8h0.9M308.1 672.7h0.9M311.7 675.4h0.9M295.0 688.9h0.9M306.8 669.7h0.9M301.9 671.2h0.9M307.0 674.6h0.9M301.1 671.7h0.9M309.2 670.0h0.9M314.8 675.0h0.9M314.3 672.2h0.9M312.6 669.7h0.9M295.9 667.6h0.9M314.8 671.6h0.9M307.4 673.5h0.9M301.4 671.1h0.9M301.5 670.6h0.9M288.8 669.2h0.9M288.5 670.3h0.9M311.5 670.1h0.9M296.7 673.4h0.9M311.1 666.6h0.9M305.0 666.3h0.9M311.7 669.8h0.9M315.7 670.1h0.9M313.4 679.6h0.9M282.9 679.8h0.9M310.0 663.4h0.9M306.7 665.7h0.9M286.4 667.6h0.9M303.3 675.8h0.9M308.4 667.3h0.9M297.6 678.9h0.9M308.2 671.6h0.9M309.4 662.1h0.9M312.7 667.1h0.9M309.7 649.8h0.9M298.1 670.2h0.9M305.4 663.6h0.9M289.7 660.9h0.9M309.1 669.1h0.9M308.4 660.7h0.9M305.1 662.1h0.9M305.1 670.8h0.9M295.1 674.4h0.9M307.0 667.9h0.9M294.3 672.0h0.9M289.6 670.5h0.9M306.0 682.7h0.9M293.4 680.6h0.9M306.1 670.4h0.9M288.2 664.3h0.9M308.1 671.7h0.9M313.6 652.6h0.9M308.8 672.3h0.9M316.2 673.3h0.9M308.5 675.9h0.9M295.2 669.9h0.9M306.0 669.1h0.9M308.3 663.3h0.9M310.1 669.2h0.9M322.7 674.3h0.9M316.1 663.5h0.9M306.7 658.4h0.9M304.7 664.2h0.9M312.8 677.5h0.9M300.3 671.5h0.9M303.9 670.3h0.9M299.5 665.8h0.9M280.8 676.8h0.9M311.5 667.5h0.9M306.9 664.3h0.9M308.2 666.9h0.9M313.8 667.4h0.9M302.2 669.9h0.9M313.7 666.0h0.9M285.4 665.9h0.9M291.0 668.3h0.9M309.4 666.1h0.9M298.7 676.8h0.9M300.9 670.3h0.9M310.3 671.7h0.9M316.6 666.2h0.9M301.0 673.0h0.9M311.7 670.1h0.9M304.9 667.3h0.9M302.1 672.0h0.9M315.8 662.1h0.9M275.2 683.0h0.9M316.3 667.8h0.9M307.8 677.0h0.9M310.1 674.0h0.9M298.9 670.8h0.9M295.6 672.8h0.9M306.7 671.2h0.9M302.2 669.2h0.9M318.5 670.0h0.9M316.8 676.0h0.9M324.6 657.0h0.9M312.5 670.5h0.9M309.4 677.6h0.9M312.6 666.5h0.9M276.4 680.1h0.9M324.9 667.8h0.9M316.9 672.4h0.9M308.9 664.2h0.9M306.3 674.0h0.9M297.8 664.4h0.9M319.9 673.0h0.9M313.1 669.7h0.9M308.8 676.3h0.9M316.1 671.4h0.9M301.8 673.3h0.9M313.2 665.4h0.9M311.2 675.3h0.9M318.3 666.4h0.9M309.6 675.2h0.9M300.9 672.3h0.9M294.7 667.0h0.9M287.2 686.2h0.9M304.5 661.8h0.9M291.1 672.9h0.9M310.0 675.8h0.9M309.4 669.1h0.9M279.1 657.6h0.9M310.4 673.9h0.9M302.6 672.4h0.9" stroke="#3a3a3a" stroke-width="0.9" stroke-opacity="0.45" fill="none"/>
<rect x="260.8" y="640.5" width="81.8" height="51.2" fill="none" stroke="#000" stroke-width="1"/>
<line x1="301.2" y1="640.5" x2="301.2" y2="691.7" stroke="#000" stroke-width="1"/>
<line x1="260.8" y1="662.8" x2="342.6" y2="662.8" stroke="#000" stroke-width="1"/>
<line x1="259.3" y1="679.79" x2="260.8" y2="679.79" stroke="#000" stroke-width="0.8"/>
<line x1="259.3" y1="667.89" x2="260.8" y2="667.89" stroke="#000" stroke-width="0.8"/>
<line x1="259.3" y1="655.98" x2="260.8" y2="655.98" stroke="#000" stroke-width="0.8"/>
<line x1="259.3" y1="644.07" x2="260.8" y2="644.07" stroke="#000" stroke-width="0.8"/>
<line x1="260.8" y1="691.7" x2="260.8" y2="693.3" stroke="#000" stroke-width="0.8"/>
<line x1="266.96" y1="691.7" x2="266.96" y2="692.7" stroke="#000" stroke-width="0.8"/>
<line x1="275.09" y1="691.7" x2="275.09" y2="692.7" stroke="#000" stroke-width="0.8"/>
<line x1="281.25" y1="691.7" x2="281.25" y2="693.3" stroke="#000" stroke-width="0.8"/>
<line x1="287.41" y1="691.7" x2="287.41" y2="692.7" stroke="#000" stroke-width="0.8"/>
<line x1="295.54" y1="691.7" x2="295.54" y2="692.7" stroke="#000" stroke-width="0.8"/>
<line x1="301.7" y1="691.7" x2="301.7" y2="693.3" stroke="#000" stroke-width="0.8"/>
<line x1="307.86" y1="691.7" x2="307.86" y2="692.7" stroke="#000" stroke-width="0.8"/>
<line x1="315.99" y1="691.7" x2="315.99" y2="692.7" stroke="#000" stroke-width="0.8"/>
<line x1="322.15" y1="691.7" x2="322.15" y2="693.3" stroke="#000" stroke-width="0.8"/>
<line x1="328.31" y1="691.7" x2="328.31" y2="692.7" stroke="#000" stroke-width="0.8"/>
<line x1="336.44" y1="691.7" x2="336.44" y2="692.7" stroke="#000" stroke-width="0.8"/>
<text x="261.8" y="652.8" font-size="8.7">1.30%</text>
<text x="312.3" y="653.5" font-size="8.7">14.85%</text>
<text x="311.3" y="691.1" font-size="8.7">56.91%</text>
<text x="357" y="633.2" font-size="10.5">Bi Tg +DOX</text>
<path d="M404.3 655.8h0.9M403.1 655.8h0.9M402.3 657.3h0.9M401.1 657.6h0.9M390.6 666.6h0.9M401.3 660.2h0.9M400.2 662.2h0.9M406.5 669.8h0.9M403.3 679.5h0.9M406.8 658.2h0.9M404.4 658.9h0.9M408.7 652.1h0.9M396.0 665.3h0.9M394.5 663.9h0.9M413.0 666.6h0.9M395.6 662.7h0.9M401.0 656.6h0.9M404.2 657.1h0.9M397.0 652.2h0.9M390.9 652.3h0.9M414.9 659.6h0.9M394.8 651.1h0.9M399.9 657.6h0.9M405.0 660.0h0.9M399.3 659.5h0.9M403.6 657.9h0.9M397.8 662.6h0.9M403.1 660.3h0.9M396.7 658.3h0.9M401.0 654.4h0.9M385.5 668.3h0.9M408.3 647.5h0.9M399.5 673.0h0.9M419.7 661.2h0.9M408.0 656.2h0.9M403.6 657.3h0.9M398.0 658.8h0.9M406.7 668.7h0.9M413.2 652.6h0.9M404.7 659.0h0.9M404.1 658.2h0.9M406.0 659.8h0.9M402.4 658.6h0.9M400.7 663.2h0.9M399.8 655.4h0.9M415.9 656.1h0.9M408.8 658.9h0.9M406.1 661.2h0.9M407.1 650.7h0.9M403.0 657.1h0.9M393.6 645.6h0.9M404.5 652.9h0.9M396.7 656.1h0.9M412.9 663.4h0.9M418.3 676.6h0.9M372.9 675.1h0.9M392.7 662.6h0.9M402.9 653.1h0.9M397.7 673.4h0.9M406.2 655.8h0.9M404.4 670.8h0.9M408.3 662.2h0.9M412.3 668.2h0.9M377.8 679.6h0.9M398.4 656.0h0.9M389.4 668.9h0.9M402.2 658.2h0.9M407.5 645.6h0.9M408.3 658.1h0.9M408.1 648.6h0.9M411.4 662.7h0.9M395.5 668.4h0.9M412.7 658.6h0.9M408.2 652.6h0.9M405.0 654.2h0.9M396.8 668.6h0.9M368.7 683.5h0.9M358.7 654.6h0.9M385.1 681.5h0.9M387.5 653.2h0.9M398.9 676.4h0.9M401.1 661.5h0.9M407.2 656.3h0.9M404.1 651.6h0.9M408.9 659.4h0.9M407.3 652.8h0.9M399.6 659.1h0.9M407.2 658.7h0.9M390.2 671.5h0.9M411.1 655.3h0.9M394.2 668.0h0.9M404.5 667.0h0.9M401.9 658.0h0.9M401.8 660.5h0.9M365.6 662.9h0.9M401.2 656.7h0.9M415.7 664.9h0.9M407.2 665.0h0.9M409.5 653.0h0.9M387.9 654.4h0.9M408.3 658.4h0.9M392.0 673.6h0.9M397.3 682.3h0.9M398.6 653.3h0.9M404.9 665.2h0.9M386.6 662.8h0.9M403.8 669.3h0.9M409.5 679.0h0.9M390.0 654.6h0.9M400.2 660.0h0.9M414.3 660.1h0.9M401.1 658.3h0.9M402.8 652.2h0.9M403.5 660.2h0.9M410.9 666.8h0.9M397.2 662.5h0.9M405.1 656.0h0.9M413.3 656.4h0.9M391.2 681.2h0.9M392.5 672.4h0.9M360.5 672.6h0.9M413.7 650.6h0.9M399.8 650.1h0.9M405.5 653.2h0.9M400.0 655.1h0.9M408.7 658.5h0.9M401.1 654.5h0.9M403.5 667.6h0.9M398.8 662.9h0.9M395.9 669.0h0.9M396.8 663.7h0.9M398.0 659.4h0.9M405.1 661.6h0.9M389.2 671.2h0.9M401.0 658.1h0.9M412.7 658.5h0.9M404.6 665.1h0.9M416.3 648.9h0.9M401.4 652.8h0.9M407.6 653.7h0.9M417.9 653.4h0.9M401.2 647.5h0.9M406.8 657.6h0.9M401.8 654.7h0.9M404.6 652.7h0.9M411.6 659.5h0.9M407.6 643.5h0.9M404.5 658.0h0.9M396.7 659.5h0.9M398.9 655.1h0.9M399.4 648.3h0.9M409.5 656.9h0.9M405.3 651.4h0.9M401.9 663.7h0.9M407.4 656.8h0.9M372.8 664.7h0.9M400.4 642.4h0.9M404.4 658.3h0.9M368.0 674.5h0.9M400.9 662.3h0.9M388.7 663.7h0.9M397.8 654.4h0.9M405.4 662.9h0.9M412.7 645.2h0.9M406.6 645.1h0.9M400.6 659.5h0.9M389.9 668.2h0.9M395.6 662.8h0.9M402.6 671.6h0.9M404.6 658.0h0.9M396.6 660.7h0.9M393.7 666.2h0.9M408.8 652.5h0.9M405.1 657.1h0.9M403.6 653.0h0.9M412.7 657.1h0.9M368.0 686.0h0.9M398.8 648.7h0.9M379.4 672.2h0.9M405.2 650.5h0.9M408.1 647.8h0.9M402.2 661.2h0.9M399.7 675.2h0.9M390.8 680.1h0.9M401.6 657.5h0.9M404.7 650.6h0.9M413.2 688.2h0.9M376.1 679.0h0.9M399.7 659.7h0.9M405.5 657.5h0.9M400.9 665.6h0.9M399.0 669.3h0.9M406.3 658.2h0.9M403.6 651.9h0.9M409.6 662.3h0.9M396.3 678.7h0.9M402.0 657.0h0.9M410.4 661.6h0.9M408.7 657.0h0.9M410.0 644.2h0.9M374.8 670.5h0.9M386.8 654.3h0.9M393.3 654.9h0.9M400.8 660.3h0.9M404.9 658.4h0.9M403.3 650.9h0.9M396.5 655.1h0.9M404.1 657.8h0.9M403.6 654.0h0.9M405.9 652.6h0.9M401.0 657.4h0.9M405.3 660.4h0.9M404.8 648.6h0.9M396.3 645.7h0.9M402.0 659.9h0.9M403.0 656.3h0.9M409.2 646.8h0.9M397.0 653.3h0.9M398.9 659.3h0.9M399.5 659.7h0.9M407.4 667.3h0.9M398.9 647.1h0.9M388.9 664.1h0.9M401.2 653.1h0.9M410.3 648.3h0.9M409.1 657.4h0.9M401.7 659.7h0.9M382.0 675.1h0.9M405.5 662.3h0.9M402.0 654.6h0.9M391.6 675.7h0.9M400.6 643.8h0.9M391.9 672.6h0.9M412.7 671.3h0.9M397.8 662.9h0.9M386.2 673.8h0.9M395.0 656.1h0.9M406.7 687.1h0.9M398.9 672.0h0.9M393.5 652.9h0.9M407.5 660.8h0.9M403.3 649.1h0.9M403.9 659.6h0.9M406.0 651.5h0.9M409.4 661.0h0.9M407.5 651.4h0.9M403.2 655.7h0.9M412.0 652.5h0.9M402.2 656.6h0.9M400.3 653.4h0.9M403.6 656.4h0.9M410.0 660.4h0.9M407.3 644.5h0.9M405.3 649.9h0.9M408.5 687.4h0.9M421.3 655.8h0.9M406.0 657.2h0.9M397.1 664.5h0.9M399.0 667.2h0.9M402.9 655.7h0.9M395.5 661.2h0.9M403.9 679.3h0.9M405.0 660.2h0.9M401.9 655.8h0.9M401.8 658.4h0.9M410.9 656.9h0.9M379.4 674.1h0.9M407.8 668.0h0.9M405.9 654.1h0.9M388.1 673.9h0.9M401.0 656.9h0.9M385.1 686.5h0.9M415.6 655.9h0.9M404.8 648.2h0.9M380.7 663.0h0.9M395.2 660.1h0.9M405.4 655.6h0.9M405.5 657.3h0.9M415.8 655.3h0.9M395.1 669.7h0.9M396.9 671.3h0.9M412.0 664.9h0.9M409.4 670.8h0.9M397.9 665.7h0.9" stroke="#3a3a3a" stroke-width="0.9" stroke-opacity="0.45" fill="none"/>
<path d="M402.0 655.1h0.9M402.8 661.3h0.9M408.6 659.6h0.9M407.5 648.5h0.9M390.3 653.8h0.9M384.4 654.5h0.9M406.9 653.5h0.9M401.3 645.9h0.9M404.0 669.6h0.9M402.8 654.8h0.9M400.3 674.1h0.9M407.8 659.0h0.9M403.5 658.6h0.9M396.7 664.9h0.9M400.4 662.7h0.9M398.3 652.1h0.9M402.4 648.6h0.9M409.3 654.1h0.9M402.0 656.3h0.9M415.1 662.4h0.9M402.6 653.0h0.9M400.8 655.9h0.9M415.7 652.2h0.9M408.1 644.0h0.9M388.3 687.8h0.9M409.8 669.6h0.9M410.5 665.0h0.9M413.2 645.8h0.9M410.7 650.5h0.9M404.4 652.9h0.9M399.2 660.7h0.9M404.7 654.3h0.9M397.2 655.8h0.9M399.6 674.6h0.9M402.3 653.4h0.9M407.3 658.7h0.9M407.4 652.7h0.9M390.1 677.9h0.9M398.6 658.8h0.9M384.9 650.6h0.9M405.0 654.5h0.9M401.3 657.2h0.9M388.8 680.2h0.9M412.6 666.1h0.9M399.7 651.8h0.9M405.9 664.1h0.9M410.1 653.1h0.9M405.8 649.6h0.9M358.4 671.0h0.9M405.0 656.7h0.9M397.2 657.1h0.9M395.2 670.6h0.9M398.8 673.9h0.9M401.1 653.6h0.9M407.2 658.5h0.9M413.8 660.1h0.9M400.1 655.7h0.9M367.9 686.5h0.9M391.9 669.7h0.9M409.5 648.2h0.9M400.1 664.5h0.9M407.5 651.2h0.9M387.1 668.2h0.9M405.2 653.3h0.9M406.6 650.9h0.9M392.8 657.1h0.9M409.9 655.9h0.9M412.0 655.9h0.9M409.6 648.7h0.9M400.7 656.1h0.9M404.6 657.9h0.9M402.8 659.3h0.9M412.4 648.8h0.9M398.3 664.9h0.9M404.7 655.9h0.9M405.2 659.5h0.9M407.4 656.6h0.9M412.7 652.6h0.9M379.3 686.6h0.9M403.3 660.1h0.9M386.2 679.0h0.9M403.5 656.6h0.9M398.7 654.7h0.9M393.3 659.7h0.9M407.4 662.0h0.9M406.7 658.3h0.9M402.5 680.0h0.9M399.1 650.4h0.9M406.3 662.8h0.9M398.8 657.2h0.9M413.4 665.0h0.9M397.8 664.2h0.9M391.3 672.7h0.9M396.1 649.9h0.9M390.8 648.7h0.9M408.6 653.6h0.9M402.8 648.7h0.9M397.9 651.0h0.9M399.6 661.3h0.9M405.8 656.7h0.9M398.0 665.5h0.9M386.4 653.6h0.9M401.3 655.3h0.9M392.3 675.0h0.9M406.9 655.2h0.9M380.6 663.5h0.9M405.6 651.7h0.9M390.9 654.8h0.9M394.4 668.1h0.9M403.4 660.9h0.9M384.8 685.4h0.9M403.6 654.9h0.9M406.5 659.9h0.9M401.5 669.5h0.9M406.5 656.2h0.9M405.1 661.5h0.9M407.9 656.9h0.9M403.4 644.1h0.9M397.3 651.6h0.9M369.3 683.9h0.9M407.8 656.7h0.9M388.0 658.9h0.9M413.4 660.7h0.9M394.4 652.3h0.9M405.4 664.4h0.9M390.8 683.3h0.9M396.2 663.1h0.9M401.6 663.1h0.9M399.0 657.5h0.9M400.4 658.6h0.9M403.2 656.4h0.9M399.8 677.9h0.9M399.1 668.9h0.9M386.6 658.4h0.9M407.3 660.8h0.9M396.6 649.4h0.9M407.0 663.1h0.9M404.2 658.3h0.9M394.0 666.8h0.9M384.2 688.5h0.9M398.7 650.5h0.9M380.9 687.0h0.9M401.3 656.8h0.9M385.6 676.9h0.9M392.0 655.1h0.9M358.5 669.2h0.9M398.9 660.9h0.9M405.6 654.4h0.9M404.8 652.6h0.9M404.6 657.7h0.9M403.3 661.5h0.9M406.0 659.8h0.9M396.9 676.8h0.9M385.3 650.2h0.9M395.9 662.4h0.9M369.7 669.5h0.9M405.6 677.2h0.9M390.7 686.2h0.9M386.8 673.6h0.9M403.7 652.7h0.9M407.9 658.8h0.9M402.3 660.6h0.9M405.6 659.2h0.9M401.7 660.0h0.9M405.6 664.4h0.9M412.1 654.6h0.9M398.2 658.7h0.9M403.5 655.4h0.9M392.9 666.8h0.9M397.4 662.6h0.9M399.9 656.8h0.9M409.6 653.5h0.9M403.2 656.2h0.9M405.1 674.0h0.9M397.1 670.3h0.9M398.2 661.9h0.9M406.0 653.9h0.9M411.4 645.7h0.9M400.4 655.4h0.9M407.2 659.0h0.9M395.1 658.5h0.9M387.4 675.6h0.9M400.6 658.3h0.9M400.6 650.5h0.9M383.7 681.8h0.9M402.5 665.1h0.9M400.4 661.6h0.9M399.5 666.0h0.9M403.2 677.6h0.9M400.7 664.7h0.9M400.6 661.4h0.9M407.6 663.9h0.9M401.7 652.5h0.9M400.2 664.9h0.9M408.2 655.6h0.9M400.3 657.1h0.9M406.1 645.0h0.9M408.1 659.0h0.9M398.6 653.8h0.9M396.3 655.1h0.9M399.3 668.1h0.9M412.0 647.4h0.9M413.5 647.2h0.9M403.2 659.8h0.9M405.8 665.7h0.9M400.0 660.7h0.9M390.2 656.7h0.9M373.9 670.0h0.9M422.5 656.2h0.9M409.0 656.3h0.9M400.2 653.5h0.9M385.8 667.7h0.9M400.3 651.8h0.9M405.0 657.2h0.9M405.6 653.8h0.9M405.6 659.1h0.9M404.7 654.6h0.9M407.1 660.1h0.9M363.3 648.4h0.9M400.9 658.1h0.9M409.1 655.8h0.9M406.1 665.5h0.9M406.1 654.0h0.9M403.1 667.9h0.9M401.7 663.6h0.9M379.3 679.4h0.9M407.3 664.0h0.9M401.9 654.4h0.9M408.3 658.3h0.9M388.8 659.8h0.9M380.1 672.2h0.9M397.5 668.3h0.9M400.5 658.0h0.9M404.8 656.1h0.9M396.2 656.6h0.9M402.8 646.9h0.9M413.0 680.0h0.9M410.7 654.9h0.9M404.1 656.8h0.9M382.6 651.9h0.9M398.1 654.7h0.9M399.9 659.2h0.9M392.7 658.9h0.9M388.6 661.5h0.9M407.4 658.8h0.9M409.8 660.1h0.9M407.3 653.9h0.9M361.5 666.8h0.9M403.1 659.3h0.9M381.7 665.6h0.9M407.1 652.5h0.9M400.0 655.7h0.9M408.3 665.0h0.9M408.7 667.2h0.9M399.7 661.8h0.9M408.8 649.9h0.9M403.9 649.2h0.9M403.2 659.8h0.9M402.8 657.4h0.9M399.9 660.7h0.9M401.7 655.7h0.9M416.2 671.2h0.9M395.5 685.0h0.9M394.2 657.3h0.9M407.8 657.8h0.9M390.1 667.3h0.9M398.0 664.7h0.9M383.1 663.9h0.9M393.2 666.1h0.9M405.6 662.8h0.9M394.9 652.6h0.9M405.6 658.4h0.9M407.4 652.3h0.9M405.8 670.3h0.9M400.2 667.5h0.9M393.8 662.8h0.9M407.1 659.2h0.9M397.7 660.1h0.9M387.2 664.8h0.9M377.6 653.9h0.9M393.5 666.9h0.9M402.3 656.2h0.9M403.2 662.8h0.9M412.1 656.6h0.9M408.4 649.9h0.9" stroke="#3a3a3a" stroke-width="0.9" stroke-opacity="0.45" fill="none"/>
<path d="M400.8 653.5h0.9M404.8 643.4h0.9M403.0 654.9h0.9M400.2 664.8h0.9M387.1 674.5h0.9M389.9 645.5h0.9M400.4 657.0h0.9M400.0 656.8h0.9M371.0 656.4h0.9M402.4 659.6h0.9M404.2 657.4h0.9M400.4 651.3h0.9M399.4 657.6h0.9M407.6 651.6h0.9M409.2 662.5h0.9M402.0 655.5h0.9M372.6 683.1h0.9M402.7 662.8h0.9M385.5 681.2h0.9M410.9 657.0h0.9M408.3 655.4h0.9M366.9 676.3h0.9M408.7 653.8h0.9M389.5 681.3h0.9M404.9 653.3h0.9M398.3 660.7h0.9M398.4 663.8h0.9M409.7 647.6h0.9M409.1 655.4h0.9M400.0 659.0h0.9M404.6 657.3h0.9M374.7 674.1h0.9M403.8 655.9h0.9M407.6 651.3h0.9M399.7 658.0h0.9M403.0 649.5h0.9M396.6 651.9h0.9M385.5 683.9h0.9M397.3 660.5h0.9M406.8 652.8h0.9M407.4 663.6h0.9M396.5 659.1h0.9M397.5 648.9h0.9M401.9 654.5h0.9M413.1 655.1h0.9M370.3 684.2h0.9M388.8 659.6h0.9M400.7 651.5h0.9M416.2 678.0h0.9M405.3 654.7h0.9M402.5 647.2h0.9M402.1 673.7h0.9M406.5 660.2h0.9M384.0 680.8h0.9M415.3 653.0h0.9M381.7 678.8h0.9M394.5 668.1h0.9M397.6 653.2h0.9M396.4 662.7h0.9M398.0 655.0h0.9M391.2 674.9h0.9M401.0 654.3h0.9M401.0 650.4h0.9M405.8 660.2h0.9M406.7 669.0h0.9M401.9 660.9h0.9M405.7 689.3h0.9M407.4 655.7h0.9M406.0 659.3h0.9M384.8 678.3h0.9M398.4 648.5h0.9M396.9 666.8h0.9M398.4 663.8h0.9M396.4 660.9h0.9M409.1 656.7h0.9M392.7 665.5h0.9M385.5 676.2h0.9M404.0 677.8h0.9M410.3 647.2h0.9M403.8 668.4h0.9M406.6 654.7h0.9M405.2 647.4h0.9M400.3 662.9h0.9M398.1 657.0h0.9M396.9 658.2h0.9M413.5 676.1h0.9M387.9 682.9h0.9M403.1 656.2h0.9M409.1 652.6h0.9M406.7 653.1h0.9M403.4 665.0h0.9M408.2 651.9h0.9M405.1 658.4h0.9M412.9 671.2h0.9M415.0 657.9h0.9M403.4 656.7h0.9M413.8 664.6h0.9M385.3 662.2h0.9M388.4 655.4h0.9M417.6 665.3h0.9M421.1 658.7h0.9M405.8 649.5h0.9M405.2 655.1h0.9M427.1 641.8h0.9M399.1 666.8h0.9M421.2 653.4h0.9M404.2 664.4h0.9M397.2 677.4h0.9M403.3 654.6h0.9M410.3 657.6h0.9M416.3 663.2h0.9M395.4 666.6h0.9M400.4 660.2h0.9M406.1 668.8h0.9M409.2 671.6h0.9M394.1 660.2h0.9M408.7 666.6h0.9M400.0 660.1h0.9M394.8 655.9h0.9M387.9 674.9h0.9M399.4 656.3h0.9M387.7 688.0h0.9M412.5 673.3h0.9M401.9 660.0h0.9M412.6 658.3h0.9M401.8 653.2h0.9M406.5 665.4h0.9M398.4 675.8h0.9M389.9 669.3h0.9M368.1 666.8h0.9M402.2 650.1h0.9M398.6 657.8h0.9M395.3 665.4h0.9M398.6 655.6h0.9M405.2 656.0h0.9M409.9 656.4h0.9M377.4 681.0h0.9M404.0 658.7h0.9M392.2 660.4h0.9M391.1 658.5h0.9M407.7 653.8h0.9M368.8 683.1h0.9M373.4 670.6h0.9M410.3 649.2h0.9M405.1 658.9h0.9M390.6 674.7h0.9M403.9 664.5h0.9M403.2 661.6h0.9M402.9 663.9h0.9M404.6 660.2h0.9M385.2 660.4h0.9M406.3 674.9h0.9M387.6 671.8h0.9M405.6 659.2h0.9M403.5 661.9h0.9M412.5 656.1h0.9M402.8 676.3h0.9M398.1 674.5h0.9M405.1 648.6h0.9M393.3 666.4h0.9M395.2 677.6h0.9M393.3 661.0h0.9M409.2 655.3h0.9M403.0 648.8h0.9M408.3 663.1h0.9M396.3 653.2h0.9M405.1 650.4h0.9M407.2 652.9h0.9M403.4 661.0h0.9M405.3 652.3h0.9M399.6 648.5h0.9M388.6 656.0h0.9M391.2 661.1h0.9M407.0 649.6h0.9M407.8 658.2h0.9M403.5 655.1h0.9M386.1 647.4h0.9M401.3 660.1h0.9M396.8 660.8h0.9M402.5 662.3h0.9M407.3 660.7h0.9M379.8 671.2h0.9M402.6 657.2h0.9M409.5 650.7h0.9M406.0 665.2h0.9M416.3 661.0h0.9M405.2 650.7h0.9M401.0 659.2h0.9M414.4 652.6h0.9M403.1 652.8h0.9M395.6 642.5h0.9M399.0 653.7h0.9M398.7 657.0h0.9M420.8 652.0h0.9M409.9 659.6h0.9M399.2 670.4h0.9M403.4 664.3h0.9M395.8 658.1h0.9M407.6 658.7h0.9M404.5 653.6h0.9M410.2 657.5h0.9M367.4 669.9h0.9M393.2 668.1h0.9M383.6 683.1h0.9M396.8 657.0h0.9M399.5 658.5h0.9M403.3 660.8h0.9M416.3 676.7h0.9M400.0 667.0h0.9M414.7 663.7h0.9M394.6 660.7h0.9M402.6 662.5h0.9M398.2 650.0h0.9M392.3 665.6h0.9M414.8 653.1h0.9M391.2 685.6h0.9M409.3 666.8h0.9M397.3 671.0h0.9M410.0 655.8h0.9M402.2 668.2h0.9M403.3 673.8h0.9M406.1 655.3h0.9M402.5 659.3h0.9M363.4 671.9h0.9M368.6 668.2h0.9M400.1 666.6h0.9M402.3 665.1h0.9M403.6 659.3h0.9M394.2 667.7h0.9M414.1 658.9h0.9M388.4 666.5h0.9M393.3 665.9h0.9M393.5 678.9h0.9M402.2 649.6h0.9M414.0 667.9h0.9M407.7 664.8h0.9M407.9 648.3h0.9M413.3 655.9h0.9M399.8 653.8h0.9M395.2 668.1h0.9M408.0 661.6h0.9M402.8 648.6h0.9M404.7 652.9h0.9M408.8 650.2h0.9M409.8 676.7h0.9M403.4 655.0h0.9M398.6 655.5h0.9M390.5 683.6h0.9M401.8 655.3h0.9M402.7 658.1h0.9M405.5 649.3h0.9M406.4 663.2h0.9M395.6 657.7h0.9M399.9 659.1h0.9M398.4 668.8h0.9M402.1 679.2h0.9M407.2 652.6h0.9M366.8 671.1h0.9M412.0 651.6h0.9M394.8 658.9h0.9M372.3 668.7h0.9M391.8 670.8h0.9M406.8 653.9h0.9M399.3 649.7h0.9M406.3 653.7h0.9M387.8 652.1h0.9M400.7 662.7h0.9M395.6 663.5h0.9M409.8 668.2h0.9M407.8 650.9h0.9M413.6 658.7h0.9M413.8 651.1h0.9M384.2 664.4h0.9M403.8 654.3h0.9M402.1 664.1h0.9M379.9 663.8h0.9M395.5 659.3h0.9M392.8 680.0h0.9M393.4 668.9h0.9M410.0 652.6h0.9M404.8 660.2h0.9M394.8 662.0h0.9M406.3 648.1h0.9M397.6 656.4h0.9M405.0 643.6h0.9" stroke="#3a3a3a" stroke-width="0.9" stroke-opacity="0.45" fill="none"/>
<rect x="349.5" y="640.5" width="81.75" height="51.5" fill="none" stroke="#000" stroke-width="1"/>
<line x1="389.5" y1="640.5" x2="389.5" y2="692" stroke="#000" stroke-width="1"/>
<line x1="349.5" y1="663" x2="431.25" y2="663" stroke="#000" stroke-width="1"/>
<line x1="348" y1="680.02" x2="349.5" y2="680.02" stroke="#000" stroke-width="0.8"/>
<line x1="348" y1="668.05" x2="349.5" y2="668.05" stroke="#000" stroke-width="0.8"/>
<line x1="348" y1="656.07" x2="349.5" y2="656.07" stroke="#000" stroke-width="0.8"/>
<line x1="348" y1="644.09" x2="349.5" y2="644.09" stroke="#000" stroke-width="0.8"/>
<line x1="349.5" y1="692" x2="349.5" y2="693.6" stroke="#000" stroke-width="0.8"/>
<line x1="355.65" y1="692" x2="355.65" y2="693" stroke="#000" stroke-width="0.8"/>
<line x1="363.79" y1="692" x2="363.79" y2="693" stroke="#000" stroke-width="0.8"/>
<line x1="369.94" y1="692" x2="369.94" y2="693.6" stroke="#000" stroke-width="0.8"/>
<line x1="376.09" y1="692" x2="376.09" y2="693" stroke="#000" stroke-width="0.8"/>
<line x1="384.22" y1="692" x2="384.22" y2="693" stroke="#000" stroke-width="0.8"/>
<line x1="390.38" y1="692" x2="390.38" y2="693.6" stroke="#000" stroke-width="0.8"/>
<line x1="396.53" y1="692" x2="396.53" y2="693" stroke="#000" stroke-width="0.8"/>
<line x1="404.66" y1="692" x2="404.66" y2="693" stroke="#000" stroke-width="0.8"/>
<line x1="410.81" y1="692" x2="410.81" y2="693.6" stroke="#000" stroke-width="0.8"/>
<line x1="416.96" y1="692" x2="416.96" y2="693" stroke="#000" stroke-width="0.8"/>
<line x1="425.1" y1="692" x2="425.1" y2="693" stroke="#000" stroke-width="0.8"/>
<text x="357.5" y="652.6" font-size="8.7">1.99%</text>
<text x="400.5" y="650.6" font-size="8.7">65.11%</text>
<text x="400.5" y="691.1" font-size="8.7">22.34%</text>
<text x="47" y="753" font-size="16" font-weight="bold">H</text>
<line x1="83.75" y1="859.5" x2="83.75" y2="754.5" stroke="#000" stroke-width="1"/>
<line x1="83.75" y1="859.5" x2="161.5" y2="859.5" stroke="#000" stroke-width="1"/>
<line x1="81.55" y1="859.5" x2="83.75" y2="859.5" stroke="#000" stroke-width="1"/>
<text x="78.55" y="861.4" font-size="7.5" text-anchor="end">0</text>
<line x1="81.55" y1="846.44" x2="83.75" y2="846.44" stroke="#000" stroke-width="1"/>
<text x="78.55" y="848.34" font-size="7.5" text-anchor="end">50</text>
<line x1="81.55" y1="833.38" x2="83.75" y2="833.38" stroke="#000" stroke-width="1"/>
<text x="78.55" y="835.28" font-size="7.5" text-anchor="end">100</text>
<line x1="81.55" y1="820.32" x2="83.75" y2="820.32" stroke="#000" stroke-width="1"/>
<text x="78.55" y="822.22" font-size="7.5" text-anchor="end">150</text>
<line x1="81.55" y1="807.26" x2="83.75" y2="807.26" stroke="#000" stroke-width="1"/>
<text x="78.55" y="809.16" font-size="7.5" text-anchor="end">200</text>
<line x1="81.55" y1="794.2" x2="83.75" y2="794.2" stroke="#000" stroke-width="1"/>
<text x="78.55" y="796.1" font-size="7.5" text-anchor="end">250</text>
<line x1="81.55" y1="781.14" x2="83.75" y2="781.14" stroke="#000" stroke-width="1"/>
<text x="78.55" y="783.04" font-size="7.5" text-anchor="end">300</text>
<line x1="81.55" y1="768.08" x2="83.75" y2="768.08" stroke="#000" stroke-width="1"/>
<text x="78.55" y="769.98" font-size="7.5" text-anchor="end">350</text>
<line x1="81.55" y1="755.02" x2="83.75" y2="755.02" stroke="#000" stroke-width="1"/>
<text x="78.55" y="756.92" font-size="7.5" text-anchor="end">400</text>
<rect x="93.75" y="852.5" width="13.75" height="7" fill="#fff" stroke="#000" stroke-width="1"/>
<line x1="100.62" y1="855.5" x2="100.62" y2="849.5" stroke="#000" stroke-width="1"/>
<line x1="98.12" y1="849.5" x2="103.12" y2="849.5" stroke="#000" stroke-width="1"/>
<line x1="98.12" y1="855.5" x2="103.12" y2="855.5" stroke="#000" stroke-width="1"/>
<rect x="107.5" y="852" width="14.5" height="7.5" fill="#808080" stroke="#000" stroke-width="1"/>
<line x1="114.75" y1="857" x2="114.75" y2="847" stroke="#000" stroke-width="1"/>
<line x1="112.25" y1="847" x2="117.25" y2="847" stroke="#000" stroke-width="1"/>
<line x1="112.25" y1="857" x2="117.25" y2="857" stroke="#000" stroke-width="1"/>
<rect x="122" y="847.5" width="14.25" height="12" fill="#e0e0e0" stroke="#000" stroke-width="1"/>
<line x1="129.12" y1="852" x2="129.12" y2="843" stroke="#000" stroke-width="1"/>
<line x1="126.62" y1="843" x2="131.62" y2="843" stroke="#000" stroke-width="1"/>
<line x1="126.62" y1="852" x2="131.62" y2="852" stroke="#000" stroke-width="1"/>
<rect x="136.25" y="778" width="14.25" height="81.5" fill="#000" stroke="#000" stroke-width="1"/>
<line x1="143.38" y1="778" x2="143.38" y2="764.5" stroke="#000" stroke-width="1"/>
<line x1="140.88" y1="764.5" x2="145.88" y2="764.5" stroke="#000" stroke-width="1"/>
<rect x="88" y="761.6" width="4.4" height="4.4" fill="#fff" stroke="#000" stroke-width="0.8"/>
<text x="94.5" y="766.39" font-size="7.2">WT -DOX</text>
<rect x="88" y="769.6" width="4.4" height="4.4" fill="#808080" stroke="#000" stroke-width="0.8"/>
<text x="94.5" y="774.39" font-size="7.2">WT +DOX</text>
<rect x="88" y="777.8" width="4.4" height="4.4" fill="#e8e8e8" stroke="#000" stroke-width="0.8"/>
<text x="94.5" y="782.59" font-size="7.2">Bi Tg -DOX</text>
<rect x="88" y="786.8" width="4.4" height="4.4" fill="#000" stroke="#000" stroke-width="0.8"/>
<text x="94.5" y="791.59" font-size="7.2">Bi Tg +DOX</text>
<text x="65.5" y="808" font-size="9.6" text-anchor="middle" transform="rotate(-90 65.5 808)">IL-6 (pg/ml)</text>
<line x1="197.5" y1="859.5" x2="197.5" y2="753.5" stroke="#000" stroke-width="1"/>
<line x1="197.5" y1="859.5" x2="270" y2="859.5" stroke="#000" stroke-width="1"/>
<line x1="195.3" y1="859.5" x2="197.5" y2="859.5" stroke="#000" stroke-width="1"/>
<text x="193.3" y="862.2" font-size="7.5" text-anchor="end">0</text>
<line x1="195.3" y1="846.28" x2="197.5" y2="846.28" stroke="#000" stroke-width="1"/>
<text x="193.3" y="848.98" font-size="7.5" text-anchor="end">20</text>
<line x1="195.3" y1="833.06" x2="197.5" y2="833.06" stroke="#000" stroke-width="1"/>
<text x="193.3" y="835.76" font-size="7.5" text-anchor="end">40</text>
<line x1="195.3" y1="819.84" x2="197.5" y2="819.84" stroke="#000" stroke-width="1"/>
<text x="193.3" y="822.54" font-size="7.5" text-anchor="end">60</text>
<line x1="195.3" y1="806.62" x2="197.5" y2="806.62" stroke="#000" stroke-width="1"/>
<text x="193.3" y="809.32" font-size="7.5" text-anchor="end">80</text>
<line x1="195.3" y1="793.4" x2="197.5" y2="793.4" stroke="#000" stroke-width="1"/>
<text x="193.3" y="796.1" font-size="7.5" text-anchor="end">100</text>
<line x1="195.3" y1="780.18" x2="197.5" y2="780.18" stroke="#000" stroke-width="1"/>
<text x="193.3" y="782.88" font-size="7.5" text-anchor="end">120</text>
<line x1="195.3" y1="766.96" x2="197.5" y2="766.96" stroke="#000" stroke-width="1"/>
<text x="193.3" y="769.66" font-size="7.5" text-anchor="end">140</text>
<line x1="195.3" y1="753.74" x2="197.5" y2="753.74" stroke="#000" stroke-width="1"/>
<text x="193.3" y="756.44" font-size="7.5" text-anchor="end">160</text>
<rect x="208" y="851.25" width="14.5" height="8.25" fill="#fff" stroke="#000" stroke-width="1"/>
<line x1="215.25" y1="855" x2="215.25" y2="848" stroke="#000" stroke-width="1"/>
<line x1="212.75" y1="848" x2="217.75" y2="848" stroke="#000" stroke-width="1"/>
<line x1="212.75" y1="855" x2="217.75" y2="855" stroke="#000" stroke-width="1"/>
<rect x="222.5" y="848" width="14.5" height="11.5" fill="#808080" stroke="#000" stroke-width="1"/>
<line x1="229.75" y1="854" x2="229.75" y2="842" stroke="#000" stroke-width="1"/>
<line x1="227.25" y1="842" x2="232.25" y2="842" stroke="#000" stroke-width="1"/>
<line x1="227.25" y1="854" x2="232.25" y2="854" stroke="#000" stroke-width="1"/>
<rect x="237" y="845" width="14.25" height="14.5" fill="#e0e0e0" stroke="#000" stroke-width="1"/>
<line x1="244.12" y1="852" x2="244.12" y2="838" stroke="#000" stroke-width="1"/>
<line x1="241.62" y1="838" x2="246.62" y2="838" stroke="#000" stroke-width="1"/>
<line x1="241.62" y1="852" x2="246.62" y2="852" stroke="#000" stroke-width="1"/>
<rect x="251.25" y="791.75" width="15" height="67.75" fill="#000" stroke="#000" stroke-width="1"/>
<line x1="258.75" y1="792" x2="258.75" y2="760" stroke="#000" stroke-width="1"/>
<line x1="256.25" y1="760" x2="261.25" y2="760" stroke="#000" stroke-width="1"/>
<rect x="202" y="755.9" width="4.4" height="4.4" fill="#fff" stroke="#000" stroke-width="0.8"/>
<text x="208.5" y="760.69" font-size="7.2">WT -DOX</text>
<rect x="202" y="764.1" width="4.4" height="4.4" fill="#808080" stroke="#000" stroke-width="0.8"/>
<text x="208.5" y="768.89" font-size="7.2">WT +DOX</text>
<rect x="202" y="772.8" width="4.4" height="4.4" fill="#e8e8e8" stroke="#000" stroke-width="0.8"/>
<text x="208.5" y="777.59" font-size="7.2">Bi Tg -DOX</text>
<rect x="202" y="781.3" width="4.4" height="4.4" fill="#000" stroke="#000" stroke-width="0.8"/>
<text x="208.5" y="786.09" font-size="7.2">Bi Tg +DOX</text>
<text x="179.5" y="808" font-size="9.6" text-anchor="middle" transform="rotate(-90 179.5 808)">IL-10 (pg/ml)</text>
<text x="302.3" y="758.6" font-size="13.5" font-weight="bold">I</text>
<line x1="337" y1="760.2" x2="457.5" y2="760.2" stroke="#000" stroke-width="1"/>
<line x1="457.5" y1="760.2" x2="457.5" y2="841.6" stroke="#000" stroke-width="1"/>
<line x1="337" y1="759.7" x2="337" y2="842.1" stroke="#000" stroke-width="1"/>
<line x1="336.5" y1="841.6" x2="458" y2="841.6" stroke="#000" stroke-width="1"/>
<line x1="335.5" y1="833.46" x2="337" y2="833.46" stroke="#000" stroke-width="0.8"/>
<line x1="335.5" y1="825.32" x2="337" y2="825.32" stroke="#000" stroke-width="0.8"/>
<line x1="335.5" y1="817.18" x2="337" y2="817.18" stroke="#000" stroke-width="0.8"/>
<line x1="335.5" y1="809.04" x2="337" y2="809.04" stroke="#000" stroke-width="0.8"/>
<line x1="335.5" y1="800.9" x2="337" y2="800.9" stroke="#000" stroke-width="0.8"/>
<line x1="335.5" y1="792.76" x2="337" y2="792.76" stroke="#000" stroke-width="0.8"/>
<line x1="335.5" y1="784.62" x2="337" y2="784.62" stroke="#000" stroke-width="0.8"/>
<line x1="335.5" y1="776.48" x2="337" y2="776.48" stroke="#000" stroke-width="0.8"/>
<line x1="335.5" y1="768.34" x2="337" y2="768.34" stroke="#000" stroke-width="0.8"/>
<line x1="337" y1="841.6" x2="337" y2="843.8" stroke="#000" stroke-width="0.8"/>
<line x1="346.07" y1="841.6" x2="346.07" y2="842.9" stroke="#000" stroke-width="0.8"/>
<line x1="351.37" y1="841.6" x2="351.37" y2="842.9" stroke="#000" stroke-width="0.8"/>
<line x1="355.14" y1="841.6" x2="355.14" y2="842.9" stroke="#000" stroke-width="0.8"/>
<line x1="358.06" y1="841.6" x2="358.06" y2="842.9" stroke="#000" stroke-width="0.8"/>
<line x1="360.44" y1="841.6" x2="360.44" y2="842.9" stroke="#000" stroke-width="0.8"/>
<line x1="362.46" y1="841.6" x2="362.46" y2="842.9" stroke="#000" stroke-width="0.8"/>
<line x1="364.21" y1="841.6" x2="364.21" y2="842.9" stroke="#000" stroke-width="0.8"/>
<line x1="365.75" y1="841.6" x2="365.75" y2="842.9" stroke="#000" stroke-width="0.8"/>
<line x1="367.12" y1="841.6" x2="367.12" y2="843.8" stroke="#000" stroke-width="0.8"/>
<line x1="376.19" y1="841.6" x2="376.19" y2="842.9" stroke="#000" stroke-width="0.8"/>
<line x1="381.5" y1="841.6" x2="381.5" y2="842.9" stroke="#000" stroke-width="0.8"/>
<line x1="385.26" y1="841.6" x2="385.26" y2="842.9" stroke="#000" stroke-width="0.8"/>
<line x1="388.18" y1="841.6" x2="388.18" y2="842.9" stroke="#000" stroke-width="0.8"/>
<line x1="390.57" y1="841.6" x2="390.57" y2="842.9" stroke="#000" stroke-width="0.8"/>
<line x1="392.58" y1="841.6" x2="392.58" y2="842.9" stroke="#000" stroke-width="0.8"/>
<line x1="394.33" y1="841.6" x2="394.33" y2="842.9" stroke="#000" stroke-width="0.8"/>
<line x1="395.87" y1="841.6" x2="395.87" y2="842.9" stroke="#000" stroke-width="0.8"/>
<line x1="397.25" y1="841.6" x2="397.25" y2="843.8" stroke="#000" stroke-width="0.8"/>
<line x1="406.32" y1="841.6" x2="406.32" y2="842.9" stroke="#000" stroke-width="0.8"/>
<line x1="411.62" y1="841.6" x2="411.62" y2="842.9" stroke="#000" stroke-width="0.8"/>
<line x1="415.39" y1="841.6" x2="415.39" y2="842.9" stroke="#000" stroke-width="0.8"/>
<line x1="418.31" y1="841.6" x2="418.31" y2="842.9" stroke="#000" stroke-width="0.8"/>
<line x1="420.69" y1="841.6" x2="420.69" y2="842.9" stroke="#000" stroke-width="0.8"/>
<line x1="422.71" y1="841.6" x2="422.71" y2="842.9" stroke="#000" stroke-width="0.8"/>
<line x1="424.46" y1="841.6" x2="424.46" y2="842.9" stroke="#000" stroke-width="0.8"/>
<line x1="426" y1="841.6" x2="426" y2="842.9" stroke="#000" stroke-width="0.8"/>
<line x1="427.38" y1="841.6" x2="427.38" y2="843.8" stroke="#000" stroke-width="0.8"/>
<line x1="436.44" y1="841.6" x2="436.44" y2="842.9" stroke="#000" stroke-width="0.8"/>
<line x1="441.75" y1="841.6" x2="441.75" y2="842.9" stroke="#000" stroke-width="0.8"/>
<line x1="445.51" y1="841.6" x2="445.51" y2="842.9" stroke="#000" stroke-width="0.8"/>
<line x1="448.43" y1="841.6" x2="448.43" y2="842.9" stroke="#000" stroke-width="0.8"/>
<line x1="450.82" y1="841.6" x2="450.82" y2="842.9" stroke="#000" stroke-width="0.8"/>
<line x1="452.83" y1="841.6" x2="452.83" y2="842.9" stroke="#000" stroke-width="0.8"/>
<line x1="454.58" y1="841.6" x2="454.58" y2="842.9" stroke="#000" stroke-width="0.8"/>
<line x1="456.12" y1="841.6" x2="456.12" y2="842.9" stroke="#000" stroke-width="0.8"/>
<line x1="457.5" y1="841.6" x2="457.5" y2="843.8" stroke="#000" stroke-width="0.8"/>
<text x="313.2" y="765.2" font-size="8.5">100</text>
<text x="328.8" y="845.3" font-size="8.5">0</text>
<path d="M337.5 804.31 338 805.73 338.5 806.01 339 808.53 339.5 808.63 340 809.05 340.5 810.09 341 810.2 341.5 808.21 342 809.22 342.5 807.4 343 804.33 343.5 801.41 344 801.26 344.5 798.81 345 795.66 345.5 795.37 346 790.05 346.5 790.72 347 786.03 347.5 787.17 348 782.63 348.5 782.98 349 780.55 349.5 779.08 350 778.74 350.5 778.74 351 776.91 351.5 775.57 352 778.4 352.5 777.37 353 776.37 353.5 779.96 354 778.88 354.5 782.14 355 784.35 355.5 782.99 356 785.61 356.5 787.14 357 790.82 357.5 794.24 358 797.89 358.5 797.72 359 802.1 359.5 803.53 360 807.96 360.5 808.65 361 811.8 361.5 812.99 362 817.19 362.5 817.39 363 820.14 363.5 823.36 364 826.81 364.5 826.75 365 830.91 365.5 831.02 366 834.37 366.5 837.33 367 834.69 367.5 837.18 368 838.39 368.5 837.45 369 839.82 369.5 839.36 370 841.18 370.5 841.15 371 841.11 371.5 841.35 372 841.6 L372 841.6 L337.5 841.6Z" fill="#666666" stroke="none" stroke-width="1"/>
<path d="M337.5 804.1 338.1 805.16 338.7 806.37 339.3 807.72 339.9 808.66 340.5 809.17 341.1 808.82 341.7 807.25 342.3 805.66 342.9 803.38 343.5 801.62 344.1 799.28 344.7 797.29 345.3 795.94 345.9 795.03 346.5 793.96 347.1 792.59 347.7 791.14 348.3 789.82 348.9 788.76 349.5 788.05 350.1 786.82 350.7 785.12 351.3 784.11 351.9 784.47 352.5 785.5 353.1 786.32 353.7 787.14 354.3 788.59 354.9 789.8 355.5 790.81 356.1 792.28 356.7 794.81 357.3 796.83 357.9 798.9 358.5 801.3 359.1 803.42 359.7 805.92 360.3 808.94 360.9 811.76 361.5 814.32 362.1 816.48 362.7 818.47 363.3 820.88 363.9 823.52 364.5 825.72 365.1 828.47 365.7 831.16 366.3 833.67 366.9 834.96 367.5 835.88 368.1 836.97 368.7 837.57 369.3 838.35 369.9 839.49 370.5 839.84 371.1 840.07 371.7 840.32 372.3 840.72 372.9 841 373.5 841.35" fill="none" stroke="#1a1aa8" stroke-width="1.3" stroke-linejoin="round"/>
<path d="M337.5 807.58 338.1 807.7 338.7 808.82 339.3 809.84 339.9 810.2 340.5 810.25 341.1 810.12 341.7 808.79 342.3 807.02 342.9 806.27 343.5 804.69 344.1 802.78 344.7 801.23 345.3 799.5 345.9 798.89 346.5 798.23 347.1 796.94 347.7 795.46 348.3 794.86 348.9 794.7 349.5 793.47 350.1 792.69 350.7 792.52 351.3 791.97 351.9 792.08 352.5 793.13 353.1 793.84 353.7 794.41 354.3 795.01 354.9 795.22 355.5 795.53 356.1 796.43 356.7 798.11 357.3 800.07 357.9 801.41 358.5 803.33 359.1 804.88 359.7 805.92 360.3 807.5 360.9 809.45 361.5 810.5 362.1 812.4 362.7 814 363.3 815.23 363.9 817.16 364.5 819.47 365.1 821.58 365.7 822.5 366.3 823.56 366.9 824.1 367.5 823.98 368.1 824.12 368.7 824.49 369.3 825.03 369.9 825.7 370.5 826.5 371.1 826.97 371.7 827.49 372.3 828.12 372.9 828.04 373.5 828.93 374.1 830.29 374.7 830.56 375.3 831.81 375.9 832.57 376.5 832.74 377.1 832.96 377.7 833.85 378.3 834.35 378.9 834.05 379.5 834.46 380.1 835.39 380.7 835.88 381.3 836.6 381.9 836.67 382.5 836.76 383.1 837.93 383.7 839.02 384.3 839.53 384.9 839.57 385.5 839.3 386.1 839.7 386.7 839.96 387.3 840.28 387.9 840.41 388.5 840.62 389.1 840.88 389.7 841 390.3 841.2 390.9 841.33 391.5 841.48" fill="none" stroke="#33cc33" stroke-width="1.2" stroke-linejoin="round"/>
<path d="M337.5 813.3 338.1 814.61 338.7 815.11 339.3 815.6 339.9 816.52 340.5 816.68 341.1 816.47 341.7 815.29 342.3 813.77 342.9 811.97 343.5 809.92 344.1 808.04 344.7 806.64 345.3 805.24 345.9 804.54 346.5 803.97 347.1 803.11 347.7 802.45 348.3 801.51 348.9 800.59 349.5 800 350.1 799.58 350.7 798.9 351.3 798.32 351.9 798.02 352.5 798.78 353.1 799.96 353.7 800.96 354.3 801.63 354.9 802 355.5 802.77 356.1 803.7 356.7 805.17 357.3 806.89 357.9 808.36 358.5 809.64 359.1 811.19 359.7 812.63 360.3 814.7 360.9 816.74 361.5 818.68 362.1 820.38 362.7 822.17 363.3 824.08 363.9 826.15 364.5 828.41 365.1 830.49 365.7 832.32 366.3 833.97 366.9 834.68 367.5 835.67 368.1 836.53 368.7 837.64 369.3 838.52 369.9 839.18 370.5 839.73 371.1 840.14 371.7 840.47 372.3 840.7 372.9 841.09 373.5 841.35" fill="none" stroke="#44bbee" stroke-width="1.2" stroke-linejoin="round"/>
<path d="M337.5 839.13 338.2 838.62 338.9 838.56 339.6 838.71 340.3 838.99 341 838.31 341.7 838.03 342.4 838.57 343.1 838.67 343.8 838.2 344.5 838.47 345.2 838.53 345.9 838.72 346.6 838.97 347.3 838.33 348 838.44 348.7 838.92 349.4 838.79 350.1 838.91 350.8 838.04 351.5 837.14 352.2 836.1 352.9 835.48 353.6 835.11 354.3 834.33 355 833.25 355.7 832.43 356.4 831.57 357.1 830.02 357.8 828.83 358.5 827.49 359.2 826.13 359.9 824.95 360.6 823.33 361.3 821.43 362 819.64 362.7 818.25 363.4 816.72 364.1 814.51 364.8 811.28 365.5 808.43 366.2 805.02 366.9 801.71 367.6 798.73 368.3 796.26 369 793.22 369.7 790.79 370.4 789.12 371.1 786.85 371.8 784.06 372.5 781.04 373.2 778.76 373.9 777.05 374.6 776.25 375.3 778.42 376 781.31 376.7 783.56 377.4 785.16 378.1 787.09 378.8 789.99 379.5 792.84 380.2 796.7 380.9 800.69 381.6 804.2 382.3 808.12 383 811.17 383.7 813.47 384.4 816.65 385.1 819.81 385.8 821.81 386.5 824.56 387.2 826.37 387.9 827.63 388.6 829.32 389.3 831.31 390 833.04 390.7 834.64 391.4 835.3 392.1 835.48 392.8 836.18 393.5 837.07 394.2 838.22 394.9 839.24 395.6 839.72 396.3 840.52 397 841.33" fill="none" stroke="#d43a3a" stroke-width="1.1" stroke-linejoin="round"/>
<line x1="337" y1="841.6" x2="457.5" y2="841.6" stroke="#000" stroke-width="1"/>
<text x="394.8" y="766.6" font-size="6.7">WT</text>
<line x1="394.8" y1="767.2" x2="404.5" y2="767.2" stroke="#000" stroke-width="0.6"/>
<line x1="391.9" y1="769.9" x2="397.3" y2="769.9" stroke="#1a1aa8" stroke-width="1.8"/>
<text x="405.2" y="775" font-size="6.7">-DOX: 0.59</text>
<line x1="391.9" y1="777.7" x2="397.3" y2="777.7" stroke="#44bbee" stroke-width="1.8"/>
<text x="405.9" y="782.7" font-size="6.7">+DOX: 0.71</text>
<text x="394.8" y="789.9" font-size="6.7">Bi Tg</text>
<line x1="394.8" y1="790.2" x2="409.8" y2="790.2" stroke="#000" stroke-width="0.6"/>
<line x1="391.9" y1="793.7" x2="397.3" y2="793.7" stroke="#33cc33" stroke-width="1.8"/>
<text x="403.8" y="798.1" font-size="6.7">-DOX: 1.32</text>
<line x1="391.9" y1="798.9" x2="397.3" y2="798.9" stroke="#cc2222" stroke-width="1.8"/>
<text x="403.5" y="805" font-size="6.7">+DOX: 30.56</text>
<line x1="378.4" y1="805.2" x2="453.5" y2="805.2" stroke="#000" stroke-width="1"/>
<line x1="378.4" y1="800.7" x2="378.4" y2="809.7" stroke="#000" stroke-width="1.3"/>
<line x1="453.5" y1="800.7" x2="453.5" y2="809.7" stroke="#000" stroke-width="1.3"/>
<text x="416.7" y="815" font-size="8.1">M1</text>
<text x="333.8" y="852.2" font-size="7">10<tspan font-size="4.5" dy="-3">0</tspan></text>
<text x="364.9" y="852.2" font-size="7">10<tspan font-size="4.5" dy="-3">1</tspan></text>
<text x="396" y="852.2" font-size="7">10<tspan font-size="4.5" dy="-3">2</tspan></text>
<text x="425.2" y="852.2" font-size="7">10<tspan font-size="4.5" dy="-3">3</tspan></text>
<text x="453.7" y="852.2" font-size="7">10<tspan font-size="4.5" dy="-3">4</tspan></text>
<line x1="333.8" y1="861.8" x2="393.5" y2="861.8" stroke="#000" stroke-width="1.3"/>
<path d="M399.5 861.8L392.5 858.8L392.5 864.8Z" fill="#000" stroke="none" stroke-width="1"/>
<text x="407" y="866.4" font-size="10.6">pStat3</text>
<text x="78.5" y="897.7" font-size="17" font-weight="bold">J</text>
<text x="77.5" y="941.2" font-size="10.8">CD69</text>
<line x1="114.9" y1="968" x2="114.9" y2="931" stroke="#000" stroke-width="1.3"/>
<path d="M114.9 924L111.7 932L118.1 932Z" fill="#000" stroke="none" stroke-width="1"/>
<line x1="114.3" y1="967.7" x2="235.5" y2="967.7" stroke="#000" stroke-width="1.3"/>
<path d="M242.5 967.7L234.5 964.5L234.5 970.9Z" fill="#000" stroke="none" stroke-width="1"/>
<text x="270" y="978.5" font-size="10.1">CD4</text>
<text x="165" y="887.8" font-size="10">PBS</text>
<path d="M147.7 944.5h0.9M164.9 936.3h0.9M176.2 928.1h0.9M165.5 940.8h0.9M155.7 917.9h0.9M153.4 941.5h0.9M165.7 940.4h0.9M166.1 944.9h0.9M146.9 935.5h0.9M156.4 949.6h0.9M160.3 949.2h0.9M161.6 940.8h0.9M167.6 934.7h0.9M151.5 947.0h0.9M162.9 939.8h0.9M158.8 948.9h0.9M155.1 920.3h0.9M152.6 943.0h0.9M175.4 940.7h0.9M167.1 952.8h0.9M161.7 950.8h0.9M159.5 938.1h0.9M150.5 937.9h0.9M160.9 923.1h0.9M158.4 918.9h0.9M174.0 943.3h0.9M141.4 941.0h0.9M177.2 945.5h0.9M142.9 938.1h0.9M148.1 945.4h0.9M152.9 937.6h0.9M145.7 930.9h0.9M173.4 936.1h0.9M166.6 922.9h0.9M146.6 943.0h0.9M163.4 934.5h0.9M160.8 945.9h0.9M156.2 946.0h0.9M143.3 935.2h0.9M158.1 940.0h0.9M167.3 945.3h0.9M150.9 941.7h0.9M142.8 940.5h0.9M144.0 940.6h0.9M160.5 940.3h0.9M167.2 942.8h0.9M153.1 940.5h0.9M142.6 940.0h0.9M163.8 916.5h0.9M169.6 939.8h0.9M162.4 924.4h0.9M147.2 941.2h0.9M162.0 937.4h0.9M165.8 947.5h0.9M174.8 927.0h0.9M146.6 934.2h0.9M144.3 936.9h0.9M145.2 942.2h0.9M182.1 945.3h0.9M156.4 934.9h0.9M153.5 945.7h0.9M142.5 936.3h0.9M144.1 939.4h0.9M158.5 946.8h0.9M168.4 934.7h0.9M162.9 945.8h0.9M161.6 938.9h0.9M156.4 943.2h0.9M148.7 943.4h0.9M156.3 946.6h0.9M164.8 940.2h0.9M147.6 936.2h0.9M154.8 920.4h0.9M173.1 919.8h0.9M168.8 923.4h0.9M159.4 930.8h0.9M172.2 948.6h0.9M151.0 936.5h0.9M158.8 933.0h0.9M155.4 948.4h0.9M157.4 934.5h0.9M170.3 947.8h0.9M171.5 935.7h0.9M166.6 926.9h0.9M142.6 937.0h0.9M168.7 938.2h0.9M145.3 938.5h0.9M157.5 941.2h0.9M157.7 945.6h0.9M148.1 945.5h0.9M161.9 923.1h0.9M156.6 944.5h0.9M152.7 940.5h0.9M154.8 943.6h0.9M160.0 950.3h0.9M148.0 938.9h0.9M127.9 948.5h0.9M152.8 927.4h0.9M163.3 952.0h0.9M160.7 946.1h0.9M142.5 945.0h0.9M163.9 936.7h0.9M174.1 947.6h0.9M158.3 932.2h0.9M151.6 945.4h0.9M151.4 947.8h0.9M168.1 946.9h0.9M152.6 937.8h0.9M148.8 937.9h0.9M146.6 942.6h0.9M154.3 937.4h0.9M155.3 939.8h0.9M162.9 933.1h0.9M168.9 947.1h0.9M152.9 941.8h0.9M148.0 936.7h0.9M147.3 944.0h0.9M152.4 939.6h0.9M125.7 945.7h0.9M144.1 940.0h0.9M159.3 948.9h0.9M178.6 942.1h0.9M157.0 945.5h0.9M160.8 944.1h0.9M155.7 933.8h0.9M146.5 935.4h0.9M161.9 921.0h0.9M134.7 944.5h0.9M166.7 944.2h0.9M167.3 940.5h0.9M160.4 934.9h0.9M171.1 947.3h0.9M160.7 924.6h0.9M172.7 949.7h0.9M177.3 949.7h0.9M162.5 947.1h0.9M159.6 935.5h0.9M151.8 944.0h0.9M148.6 947.8h0.9M149.7 938.1h0.9M164.0 939.8h0.9M156.7 936.4h0.9M151.1 941.4h0.9M156.7 936.6h0.9M142.5 929.2h0.9M158.1 943.2h0.9M154.4 944.8h0.9M156.9 939.8h0.9M144.7 944.8h0.9M130.3 941.4h0.9M148.7 936.1h0.9M165.3 948.0h0.9M140.6 939.8h0.9M151.2 942.2h0.9M162.5 941.7h0.9M137.0 940.5h0.9M152.8 929.3h0.9M170.2 924.7h0.9M158.8 942.7h0.9M161.9 942.5h0.9M178.6 946.7h0.9M185.1 942.7h0.9M164.9 938.1h0.9M154.7 942.7h0.9M148.9 939.7h0.9M137.0 942.8h0.9M175.1 937.4h0.9M158.3 939.4h0.9M177.0 943.0h0.9M160.5 918.0h0.9M155.2 935.3h0.9M149.8 944.1h0.9M168.6 940.2h0.9M174.8 944.3h0.9M154.7 943.0h0.9M149.5 936.9h0.9M155.6 926.8h0.9M165.4 935.0h0.9M169.7 934.2h0.9M171.3 944.2h0.9M151.8 942.3h0.9M142.9 943.1h0.9M160.4 941.3h0.9M159.2 914.8h0.9M162.3 943.8h0.9M140.3 936.8h0.9M150.7 935.9h0.9M154.4 944.3h0.9M151.8 947.8h0.9M178.0 940.8h0.9M168.7 914.5h0.9M174.3 947.0h0.9M158.1 940.3h0.9M161.1 935.9h0.9M149.4 940.8h0.9M151.7 935.6h0.9M153.2 945.5h0.9M180.8 938.1h0.9M135.3 937.3h0.9M157.1 946.2h0.9M154.6 944.9h0.9M179.7 917.2h0.9M167.8 952.5h0.9M155.5 916.3h0.9M170.2 948.3h0.9M167.2 949.7h0.9M183.1 944.7h0.9M192.9 947.3h0.9M146.7 948.7h0.9M162.0 946.9h0.9M150.4 932.9h0.9M147.2 938.5h0.9M179.7 943.6h0.9M136.2 940.2h0.9M147.5 947.7h0.9M158.2 937.4h0.9M148.4 936.8h0.9M149.3 942.8h0.9M157.3 930.1h0.9M181.6 946.1h0.9M170.1 944.7h0.9M160.7 939.8h0.9M158.8 948.5h0.9M154.8 948.6h0.9M159.8 923.7h0.9M148.6 945.3h0.9M183.4 944.7h0.9M152.7 943.2h0.9M157.6 942.3h0.9M171.1 950.0h0.9M147.3 946.2h0.9M164.3 940.3h0.9M153.5 937.1h0.9M157.2 939.6h0.9M164.0 932.8h0.9M150.5 946.6h0.9M147.7 945.6h0.9M158.0 933.4h0.9M158.7 947.7h0.9M155.1 943.1h0.9M159.6 935.0h0.9M169.3 938.4h0.9M142.8 945.9h0.9M173.4 943.7h0.9M170.3 920.6h0.9M156.6 949.2h0.9M157.8 945.7h0.9M163.6 938.5h0.9M166.4 936.3h0.9M163.5 941.6h0.9M156.8 942.3h0.9M168.4 942.8h0.9M174.0 944.5h0.9M158.8 940.1h0.9M137.7 938.5h0.9M156.4 912.8h0.9M146.6 935.1h0.9M155.2 940.0h0.9M174.2 946.3h0.9M164.6 940.2h0.9M168.2 945.0h0.9M178.0 943.9h0.9M151.6 938.0h0.9M155.9 942.2h0.9M167.2 918.6h0.9M150.7 938.8h0.9M166.1 944.7h0.9M156.2 938.0h0.9M140.3 934.4h0.9M177.7 940.1h0.9M149.4 944.5h0.9M160.3 947.0h0.9M151.5 942.2h0.9M160.1 936.4h0.9M167.2 948.1h0.9M149.4 941.0h0.9M159.8 941.0h0.9M158.3 937.5h0.9M160.4 941.4h0.9M146.2 947.2h0.9M167.8 930.0h0.9M147.0 941.9h0.9M157.0 937.8h0.9M189.3 941.9h0.9M145.1 944.6h0.9M161.4 943.5h0.9M164.4 943.6h0.9M157.3 945.2h0.9M166.3 947.4h0.9M150.2 940.7h0.9M176.1 939.6h0.9M163.4 911.2h0.9M150.9 947.9h0.9M145.0 936.8h0.9M175.7 917.3h0.9M136.7 932.2h0.9M157.1 951.6h0.9M155.1 937.2h0.9M151.9 943.3h0.9M154.7 947.5h0.9M159.1 953.2h0.9M175.3 944.2h0.9M152.3 942.5h0.9M168.2 942.9h0.9M153.1 947.2h0.9M162.0 939.9h0.9M160.7 942.3h0.9M148.1 934.1h0.9M148.8 941.4h0.9M169.0 943.1h0.9M169.7 947.5h0.9M144.3 934.9h0.9M154.7 932.2h0.9M147.4 937.9h0.9M152.9 944.5h0.9M174.0 936.3h0.9M158.6 943.5h0.9M156.9 944.6h0.9M159.0 943.5h0.9M165.3 945.2h0.9M156.3 941.3h0.9M162.1 935.5h0.9M167.2 949.6h0.9M133.9 949.8h0.9M165.2 939.8h0.9M141.3 940.7h0.9M164.8 947.1h0.9M158.5 948.6h0.9M164.0 941.0h0.9M167.2 942.0h0.9M173.9 948.6h0.9M156.0 940.8h0.9M163.1 942.1h0.9M164.9 931.7h0.9M158.4 942.9h0.9M152.8 934.6h0.9M158.8 939.1h0.9M157.5 918.8h0.9M147.3 943.3h0.9M160.4 942.0h0.9M163.0 947.4h0.9M153.8 935.6h0.9M169.3 903.1h0.9M157.2 935.2h0.9M156.0 947.7h0.9M153.9 934.3h0.9M163.0 948.2h0.9M144.4 948.9h0.9M155.4 944.3h0.9M148.2 947.9h0.9M169.5 938.5h0.9M157.5 943.1h0.9M144.3 929.5h0.9M165.1 926.3h0.9M167.3 943.9h0.9M176.2 940.7h0.9M157.8 939.4h0.9M163.7 938.7h0.9M149.7 945.7h0.9M156.3 943.1h0.9M175.1 942.8h0.9M152.8 930.8h0.9M152.9 915.8h0.9M184.6 944.5h0.9M157.9 948.2h0.9M155.8 938.0h0.9M163.6 950.7h0.9M165.1 934.6h0.9M154.0 934.5h0.9M150.9 944.2h0.9M150.1 945.2h0.9M174.3 946.6h0.9M149.4 943.1h0.9M144.5 941.0h0.9M159.4 933.0h0.9M166.6 934.5h0.9M143.4 925.9h0.9M168.4 952.0h0.9M144.0 939.9h0.9M141.5 927.0h0.9M159.9 942.5h0.9M172.9 932.2h0.9M175.0 945.8h0.9M158.1 946.5h0.9M136.2 934.2h0.9M151.4 943.0h0.9M155.0 913.3h0.9M175.5 936.7h0.9M162.7 942.9h0.9M149.1 946.1h0.9M175.9 942.9h0.9M143.0 921.0h0.9M158.3 939.1h0.9M152.7 934.3h0.9M152.9 947.4h0.9M166.7 944.2h0.9M155.7 950.2h0.9M161.7 941.3h0.9M146.6 932.2h0.9M163.6 942.2h0.9M164.9 923.3h0.9M183.3 947.7h0.9M159.9 941.6h0.9M141.0 942.6h0.9M175.9 913.0h0.9M152.4 945.2h0.9M126.9 936.6h0.9M143.2 936.0h0.9M147.1 942.9h0.9M145.8 937.7h0.9M148.9 947.0h0.9M169.6 938.1h0.9M186.8 948.2h0.9M166.9 942.5h0.9M145.0 935.5h0.9M169.5 946.2h0.9M133.6 940.5h0.9M161.8 932.0h0.9M157.0 949.8h0.9M161.4 941.1h0.9M157.5 952.5h0.9M160.5 946.4h0.9M141.0 939.5h0.9M149.7 943.5h0.9M149.4 947.9h0.9M142.8 946.3h0.9" stroke="#3a3a3a" stroke-width="0.9" stroke-opacity="0.45" fill="none"/>
<path d="M149.4 938.3h0.9M155.3 950.3h0.9M144.3 946.0h0.9M140.6 951.9h0.9M175.3 944.6h0.9M145.9 936.7h0.9M150.4 938.0h0.9M156.9 952.1h0.9M161.6 947.3h0.9M158.1 946.1h0.9M177.4 949.2h0.9M162.5 948.3h0.9M141.3 940.4h0.9M163.1 944.8h0.9M145.1 929.6h0.9M164.6 937.4h0.9M153.4 942.8h0.9M154.1 948.0h0.9M161.8 944.6h0.9M146.1 941.9h0.9M154.1 940.9h0.9M159.3 948.6h0.9M148.2 937.8h0.9M152.7 941.9h0.9M162.5 942.4h0.9M155.7 919.1h0.9M143.0 943.8h0.9M176.1 940.8h0.9M144.2 932.2h0.9M122.5 941.5h0.9M160.8 933.2h0.9M172.5 938.6h0.9M176.3 942.0h0.9M147.7 935.6h0.9M153.5 946.2h0.9M158.4 937.4h0.9M173.0 945.7h0.9M147.6 941.8h0.9M154.6 944.5h0.9M139.9 944.2h0.9M147.6 931.3h0.9M152.0 948.6h0.9M163.3 937.9h0.9M176.7 938.4h0.9M171.5 945.4h0.9M182.9 936.7h0.9M162.6 941.1h0.9M155.0 950.0h0.9M142.6 935.5h0.9M144.2 941.7h0.9M152.6 929.5h0.9M160.7 935.5h0.9M157.6 937.0h0.9M154.8 947.5h0.9M152.5 949.3h0.9M157.8 936.2h0.9M161.1 948.8h0.9M157.5 939.7h0.9M147.0 939.9h0.9M143.0 939.3h0.9M162.7 937.0h0.9M142.7 940.1h0.9M148.0 929.0h0.9M157.6 946.4h0.9M153.3 937.3h0.9M161.6 944.5h0.9M154.8 941.3h0.9M138.2 915.9h0.9M154.7 950.2h0.9M157.1 941.1h0.9M159.2 950.3h0.9M173.5 931.7h0.9M168.7 911.3h0.9M162.0 941.2h0.9M171.1 941.3h0.9M156.9 942.9h0.9M161.7 949.8h0.9M170.6 946.3h0.9M151.1 940.7h0.9M164.2 939.2h0.9M156.8 942.6h0.9M141.1 946.8h0.9M173.7 924.2h0.9M146.1 944.1h0.9M157.3 934.8h0.9M175.8 936.4h0.9M169.6 920.5h0.9M164.1 946.4h0.9M165.1 943.7h0.9M177.6 949.5h0.9M170.9 925.6h0.9M148.7 934.5h0.9M156.3 941.7h0.9M165.3 946.4h0.9M147.9 936.8h0.9M166.1 915.4h0.9M150.5 951.5h0.9M133.8 936.9h0.9M166.0 932.6h0.9M149.7 927.2h0.9M165.3 942.4h0.9M156.3 924.2h0.9M162.4 941.3h0.9M138.6 928.3h0.9M145.3 948.4h0.9M159.0 942.7h0.9M169.5 924.6h0.9M152.6 937.8h0.9M130.2 938.0h0.9M170.0 944.3h0.9M162.3 926.5h0.9M165.1 946.4h0.9M158.7 918.9h0.9M174.7 943.8h0.9M165.3 950.4h0.9M155.3 912.0h0.9M158.9 935.8h0.9M152.2 917.6h0.9M150.8 939.8h0.9M156.7 934.9h0.9M165.4 921.5h0.9M157.0 946.4h0.9M177.8 933.9h0.9M171.0 923.2h0.9M165.3 942.3h0.9M161.5 937.6h0.9M165.4 943.3h0.9M153.0 943.1h0.9M154.4 945.9h0.9M156.9 951.3h0.9M148.5 942.8h0.9M176.4 952.7h0.9M160.6 945.7h0.9M149.0 945.2h0.9M144.7 940.1h0.9M160.6 942.2h0.9M154.7 938.3h0.9M177.5 944.3h0.9M167.9 941.0h0.9M157.8 942.0h0.9M160.9 917.7h0.9M178.7 946.8h0.9M156.4 950.8h0.9M164.9 939.9h0.9M134.0 931.9h0.9M154.8 922.3h0.9M147.5 944.5h0.9M153.9 942.6h0.9M173.5 944.7h0.9M141.8 942.9h0.9M158.2 941.0h0.9M167.8 942.5h0.9M144.8 934.4h0.9M145.7 917.9h0.9M143.7 941.7h0.9M159.7 936.0h0.9M123.2 930.3h0.9M157.6 945.1h0.9M165.7 913.4h0.9M155.5 948.8h0.9M160.7 950.7h0.9M164.5 940.3h0.9M151.2 936.9h0.9M163.1 943.8h0.9M182.6 945.1h0.9M165.6 940.5h0.9M149.4 942.3h0.9M155.6 948.8h0.9M178.1 941.6h0.9M172.3 937.6h0.9M161.7 923.5h0.9M164.0 949.5h0.9M158.5 920.2h0.9M151.9 934.9h0.9M183.3 941.7h0.9M155.4 945.1h0.9M148.6 932.2h0.9M165.3 941.5h0.9M161.0 932.4h0.9M142.1 943.2h0.9M156.9 937.2h0.9M157.1 921.4h0.9M156.0 942.3h0.9M162.2 925.4h0.9M157.7 943.3h0.9M160.3 937.3h0.9M155.8 938.5h0.9M160.8 934.7h0.9M175.8 949.5h0.9M155.3 948.5h0.9M154.4 950.1h0.9M166.2 921.2h0.9M161.9 937.8h0.9M168.4 920.6h0.9M149.8 945.1h0.9M140.9 930.0h0.9M154.5 933.4h0.9M159.7 948.4h0.9M156.2 945.4h0.9M170.1 930.7h0.9M157.0 936.8h0.9M152.8 946.3h0.9M151.2 942.8h0.9M157.1 942.8h0.9M181.6 928.0h0.9M163.6 936.2h0.9M167.7 910.8h0.9M176.6 948.9h0.9M164.4 942.8h0.9M145.3 942.0h0.9M158.3 936.1h0.9M165.1 943.8h0.9M188.7 943.0h0.9M154.3 936.7h0.9M152.7 938.1h0.9M144.5 944.0h0.9M148.2 942.2h0.9M157.7 944.3h0.9M143.7 944.5h0.9M152.4 947.0h0.9M149.7 942.3h0.9M172.6 933.2h0.9M163.2 918.7h0.9M154.6 943.2h0.9M148.5 943.4h0.9M158.3 940.7h0.9M157.0 918.7h0.9M168.2 938.5h0.9M159.6 934.9h0.9M166.5 948.1h0.9M154.5 942.6h0.9M150.4 948.7h0.9M150.6 942.5h0.9M146.6 939.5h0.9M160.6 938.0h0.9M145.2 942.6h0.9M176.5 949.0h0.9M170.3 938.1h0.9M164.5 944.7h0.9M160.8 940.4h0.9M152.3 932.4h0.9M173.5 936.9h0.9M171.4 936.3h0.9M171.6 936.0h0.9M161.4 946.7h0.9M143.7 938.2h0.9M155.3 934.8h0.9M176.6 945.4h0.9M152.0 946.4h0.9M147.7 946.3h0.9M160.4 939.3h0.9M161.8 939.5h0.9M171.4 916.3h0.9M154.6 938.0h0.9M149.0 932.3h0.9M152.7 937.3h0.9M148.4 939.5h0.9M164.0 934.3h0.9M165.7 949.2h0.9M147.4 937.6h0.9M163.0 938.3h0.9M126.0 940.0h0.9M164.1 944.4h0.9M157.1 909.2h0.9M175.6 915.4h0.9M144.9 948.3h0.9M152.4 926.6h0.9M147.9 943.8h0.9M152.6 915.3h0.9M162.1 945.6h0.9M182.7 943.9h0.9M169.5 944.0h0.9M166.2 945.5h0.9M165.0 932.0h0.9M155.8 933.6h0.9M155.5 943.9h0.9M160.3 941.1h0.9M175.3 936.2h0.9M148.1 916.6h0.9M151.5 933.2h0.9M151.6 937.8h0.9M164.6 946.4h0.9M162.7 934.1h0.9M161.0 935.3h0.9M157.2 942.8h0.9M159.9 943.3h0.9M146.4 937.6h0.9M159.1 948.2h0.9M154.5 937.0h0.9M167.1 923.4h0.9M158.2 912.0h0.9M147.8 936.5h0.9M145.2 933.5h0.9M159.5 931.8h0.9M147.5 923.0h0.9M188.7 946.6h0.9M155.7 941.9h0.9M147.8 944.0h0.9M136.2 940.7h0.9M165.5 942.3h0.9M168.0 946.1h0.9M162.3 936.6h0.9M186.6 915.2h0.9M171.7 941.1h0.9M159.5 936.6h0.9M153.7 935.7h0.9M144.9 946.1h0.9M151.2 946.2h0.9M162.7 944.0h0.9M157.6 947.0h0.9M154.5 933.2h0.9M160.7 945.4h0.9M172.7 923.5h0.9M152.4 946.9h0.9M173.0 948.1h0.9M140.7 945.5h0.9M156.3 944.6h0.9M147.2 940.8h0.9M182.5 931.6h0.9M176.4 909.6h0.9M154.4 940.9h0.9M170.5 913.7h0.9M150.2 947.0h0.9M165.1 937.2h0.9M154.6 947.7h0.9M162.9 934.0h0.9M158.9 928.6h0.9M162.4 942.7h0.9M163.2 934.1h0.9M152.9 947.1h0.9M156.3 947.1h0.9M171.9 942.0h0.9M146.2 940.9h0.9M160.7 938.8h0.9M157.4 940.6h0.9M164.7 943.3h0.9M149.7 947.2h0.9M151.5 939.7h0.9M168.8 952.1h0.9M156.1 948.5h0.9M158.5 935.5h0.9M160.0 940.6h0.9M172.6 946.3h0.9M157.8 936.4h0.9M151.2 944.7h0.9M167.6 911.9h0.9M155.6 938.5h0.9M164.9 951.1h0.9M148.2 944.6h0.9M158.6 938.8h0.9M168.4 947.2h0.9M164.0 938.1h0.9M153.6 918.0h0.9M156.3 916.8h0.9M159.4 929.7h0.9M146.7 940.5h0.9M168.1 918.1h0.9M144.7 942.0h0.9M164.8 939.2h0.9M193.0 947.3h0.9M142.0 936.3h0.9M163.6 946.7h0.9M165.6 913.1h0.9M146.5 934.8h0.9M167.3 942.9h0.9M145.2 939.7h0.9M166.6 944.2h0.9M144.2 949.9h0.9M156.2 948.0h0.9M153.9 938.2h0.9M150.1 938.9h0.9M158.6 937.9h0.9M153.5 947.1h0.9M149.1 946.5h0.9M173.8 934.5h0.9M143.9 944.1h0.9M145.7 946.7h0.9M171.9 926.3h0.9M180.3 935.0h0.9M146.5 942.6h0.9M162.1 949.0h0.9M158.3 945.7h0.9M151.4 950.2h0.9M163.6 943.8h0.9M151.5 945.5h0.9M147.3 937.0h0.9M133.6 935.4h0.9M168.1 940.7h0.9M144.2 936.9h0.9M144.5 941.6h0.9M162.9 942.6h0.9M147.0 941.7h0.9M161.4 927.0h0.9M166.2 945.6h0.9M155.0 936.6h0.9M164.9 940.8h0.9M178.4 915.7h0.9M160.5 946.5h0.9M168.4 943.2h0.9M155.0 950.9h0.9M148.0 934.6h0.9M150.9 938.7h0.9M142.1 943.5h0.9M151.7 935.0h0.9M160.9 931.6h0.9M164.6 922.7h0.9M160.3 908.6h0.9M155.2 937.8h0.9M138.7 940.4h0.9M151.6 941.0h0.9M159.2 949.5h0.9M144.6 943.4h0.9M145.8 944.8h0.9M141.1 939.2h0.9M164.0 952.8h0.9M159.9 936.7h0.9M175.3 942.8h0.9M139.3 941.5h0.9M170.1 936.3h0.9M164.7 939.4h0.9M159.9 948.0h0.9M172.2 928.4h0.9M175.8 941.9h0.9M152.2 935.5h0.9M159.0 938.9h0.9M164.5 948.2h0.9M171.8 946.4h0.9" stroke="#3a3a3a" stroke-width="0.9" stroke-opacity="0.45" fill="none"/>
<path d="M151.9 939.2h0.9M165.1 946.9h0.9M155.9 946.7h0.9M151.8 939.9h0.9M162.2 942.6h0.9M162.7 946.1h0.9M148.6 935.4h0.9M140.1 934.6h0.9M159.5 944.3h0.9M155.9 935.9h0.9M165.7 939.3h0.9M168.0 941.0h0.9M153.4 937.1h0.9M145.0 938.1h0.9M171.3 946.3h0.9M152.5 944.7h0.9M171.0 949.5h0.9M141.6 946.6h0.9M164.0 940.0h0.9M165.5 940.3h0.9M178.2 943.5h0.9M156.6 942.6h0.9M164.1 930.2h0.9M151.5 940.0h0.9M176.4 933.9h0.9M150.1 937.4h0.9M151.2 927.1h0.9M158.0 925.6h0.9M181.0 918.2h0.9M156.2 918.6h0.9M147.1 940.0h0.9M160.0 945.2h0.9M149.2 945.0h0.9M161.2 928.2h0.9M145.7 933.2h0.9M161.8 941.1h0.9M146.6 945.4h0.9M154.1 922.5h0.9M149.8 945.7h0.9M157.1 933.2h0.9M160.6 943.9h0.9M162.8 944.1h0.9M159.7 942.8h0.9M152.0 949.2h0.9M175.3 944.9h0.9M162.6 939.1h0.9M175.5 943.1h0.9M142.6 947.6h0.9M156.4 946.0h0.9M173.6 919.1h0.9M164.3 936.6h0.9M167.0 940.5h0.9M161.8 944.2h0.9M158.6 946.5h0.9M184.9 948.0h0.9M152.7 938.1h0.9M139.6 937.0h0.9M138.9 938.4h0.9M163.2 951.8h0.9M156.7 939.9h0.9M147.2 941.9h0.9M172.5 946.1h0.9M165.2 950.4h0.9M153.6 931.3h0.9M164.0 940.2h0.9M137.4 949.1h0.9M143.5 944.2h0.9M149.9 933.6h0.9M159.2 936.1h0.9M162.0 941.3h0.9M145.8 938.3h0.9M163.3 940.3h0.9M151.6 938.2h0.9M168.8 948.8h0.9M166.4 946.5h0.9M165.9 943.6h0.9M161.2 946.4h0.9M157.0 943.7h0.9M155.8 942.9h0.9M150.0 941.4h0.9M151.6 945.3h0.9M159.0 946.7h0.9M164.5 932.9h0.9M155.7 944.8h0.9M162.0 914.7h0.9M153.8 944.7h0.9M169.3 946.1h0.9M170.0 936.7h0.9M133.9 944.8h0.9M151.4 939.4h0.9M171.1 940.7h0.9M163.7 929.2h0.9M150.2 951.5h0.9M168.5 946.4h0.9M167.6 938.3h0.9M147.2 942.4h0.9M154.1 942.9h0.9M157.4 940.6h0.9M158.2 927.0h0.9M168.6 946.3h0.9M154.9 952.0h0.9M163.6 945.8h0.9M147.5 946.7h0.9M165.5 937.3h0.9M157.8 941.1h0.9M155.9 939.5h0.9M150.6 943.5h0.9M159.3 940.4h0.9M146.0 942.2h0.9M159.0 939.7h0.9M155.4 949.8h0.9M158.0 942.9h0.9M159.1 939.0h0.9M154.0 944.1h0.9M148.2 942.4h0.9M162.1 925.1h0.9M168.5 934.5h0.9M150.1 950.9h0.9M169.5 939.9h0.9M158.0 925.8h0.9M153.3 938.4h0.9M169.3 940.5h0.9M155.5 950.3h0.9M158.0 946.3h0.9M145.5 942.4h0.9M141.9 950.7h0.9M163.7 938.8h0.9M181.1 939.5h0.9M169.6 938.8h0.9M164.2 943.0h0.9M156.3 934.2h0.9M146.6 942.3h0.9M153.1 944.5h0.9M158.8 946.2h0.9M151.0 940.4h0.9M155.5 934.3h0.9M133.5 942.9h0.9M139.2 948.8h0.9M177.3 925.9h0.9M160.7 933.9h0.9M180.7 946.6h0.9M163.8 944.6h0.9M179.6 947.0h0.9M155.8 946.7h0.9M145.7 941.7h0.9M158.6 944.7h0.9M159.3 949.3h0.9M154.6 946.1h0.9M144.8 935.2h0.9M159.1 942.1h0.9M132.3 940.0h0.9M150.4 945.5h0.9M171.9 946.3h0.9M160.1 929.8h0.9M168.3 940.4h0.9M156.5 944.3h0.9M142.9 942.1h0.9M145.8 938.6h0.9M132.0 941.1h0.9M160.5 927.6h0.9M179.5 948.4h0.9M174.5 918.1h0.9M173.9 943.6h0.9M161.0 936.4h0.9M164.2 935.9h0.9M155.7 930.7h0.9M161.4 926.0h0.9M171.5 946.9h0.9M151.1 943.5h0.9M145.6 919.0h0.9M147.1 932.8h0.9M156.2 906.2h0.9M149.8 946.6h0.9M161.0 944.2h0.9M138.9 946.3h0.9M148.0 940.1h0.9M155.0 941.1h0.9M158.3 948.1h0.9M170.7 943.6h0.9M170.0 913.2h0.9M167.3 928.5h0.9M176.2 940.4h0.9M146.7 940.2h0.9M162.4 935.5h0.9M163.4 952.7h0.9M138.1 931.7h0.9M149.1 949.1h0.9M140.4 941.0h0.9M137.7 948.8h0.9M158.8 942.7h0.9M148.4 934.7h0.9M166.1 948.0h0.9M173.8 946.1h0.9M166.9 950.0h0.9M142.4 935.6h0.9M138.7 942.4h0.9M159.7 942.1h0.9M158.7 939.1h0.9M174.6 940.4h0.9M147.9 937.1h0.9M158.5 940.6h0.9M170.3 939.9h0.9M162.5 938.8h0.9M165.5 944.3h0.9M171.5 920.4h0.9M160.7 946.6h0.9M136.2 938.5h0.9M161.6 945.1h0.9M171.5 948.8h0.9M157.3 944.6h0.9M149.4 941.9h0.9M154.7 925.8h0.9M146.1 943.7h0.9M154.2 948.2h0.9M156.2 933.5h0.9M152.8 940.6h0.9M157.7 914.1h0.9M165.8 939.8h0.9M166.4 943.3h0.9M158.4 938.6h0.9M161.7 946.6h0.9M174.2 939.8h0.9M152.6 949.1h0.9M156.7 948.0h0.9M152.1 941.8h0.9M154.4 936.7h0.9M151.9 940.1h0.9M167.5 940.7h0.9M162.0 936.8h0.9M179.8 951.8h0.9M157.1 951.3h0.9M156.8 935.8h0.9M141.4 942.8h0.9M157.6 943.4h0.9M155.2 938.1h0.9M160.9 942.9h0.9M182.3 934.4h0.9M156.5 948.0h0.9M145.0 940.6h0.9M147.5 927.5h0.9M144.9 934.0h0.9M168.6 938.1h0.9M170.0 946.5h0.9M168.7 940.1h0.9M169.7 945.2h0.9M178.5 943.8h0.9M152.9 948.3h0.9M175.6 945.0h0.9M172.6 938.2h0.9M160.2 948.9h0.9M179.7 953.0h0.9M154.1 932.4h0.9M153.3 943.5h0.9M166.3 951.3h0.9M154.2 931.8h0.9M144.2 935.5h0.9M168.6 949.2h0.9M158.9 923.2h0.9M138.6 934.7h0.9M156.5 938.4h0.9M155.8 936.2h0.9M160.7 941.7h0.9M147.9 945.6h0.9M155.8 926.5h0.9M149.9 950.6h0.9M173.8 915.8h0.9M161.9 944.4h0.9M148.0 937.1h0.9M168.5 944.1h0.9M126.4 951.1h0.9M150.5 936.9h0.9M143.1 939.6h0.9M160.9 944.4h0.9M167.0 944.0h0.9M152.2 948.9h0.9M140.0 948.5h0.9M153.4 947.8h0.9M161.1 935.2h0.9M159.6 944.8h0.9M158.2 942.2h0.9M164.0 945.2h0.9M150.5 931.0h0.9M148.2 950.3h0.9M138.6 942.0h0.9M151.3 938.9h0.9M151.0 941.0h0.9M159.8 926.3h0.9M151.1 942.1h0.9M161.0 938.8h0.9M153.5 935.6h0.9M161.9 921.0h0.9M162.6 940.2h0.9M166.0 942.0h0.9M156.8 934.5h0.9M165.0 937.5h0.9M158.6 934.2h0.9M180.4 950.6h0.9M165.1 943.1h0.9M170.2 953.1h0.9M153.0 943.8h0.9M153.0 948.2h0.9M138.3 942.9h0.9M157.9 937.0h0.9M167.5 950.0h0.9M148.0 928.6h0.9M149.0 939.4h0.9M163.0 925.6h0.9M161.7 940.8h0.9M161.6 946.5h0.9M164.7 938.0h0.9M163.3 946.8h0.9M170.2 927.7h0.9M148.1 938.7h0.9M168.1 920.5h0.9M171.5 922.0h0.9M172.8 948.5h0.9M158.5 945.6h0.9M158.0 934.1h0.9M180.4 941.6h0.9M153.2 941.8h0.9M159.4 943.6h0.9M158.8 947.2h0.9M163.6 940.1h0.9M157.3 939.4h0.9M134.2 935.8h0.9M172.3 944.8h0.9M152.6 934.2h0.9M155.9 945.9h0.9M171.1 949.5h0.9M159.2 922.5h0.9M155.8 943.7h0.9M160.5 937.7h0.9M160.4 946.0h0.9M182.7 948.0h0.9M178.7 939.8h0.9M143.3 934.0h0.9M139.9 930.5h0.9M157.3 951.8h0.9M168.6 943.3h0.9M161.2 941.5h0.9M163.5 935.4h0.9M164.8 939.4h0.9M165.6 948.0h0.9M169.3 941.0h0.9M185.3 937.6h0.9M174.4 946.9h0.9M168.3 949.7h0.9M161.1 944.1h0.9M152.0 941.6h0.9M181.4 917.8h0.9M157.0 940.1h0.9M163.0 936.7h0.9M161.4 920.3h0.9M158.6 937.6h0.9M168.0 937.7h0.9M162.1 933.3h0.9M162.9 951.0h0.9M163.9 946.3h0.9M161.5 945.5h0.9M151.5 940.5h0.9M134.7 943.8h0.9M159.1 945.9h0.9M161.9 939.0h0.9M163.7 944.4h0.9M171.8 943.5h0.9M164.2 937.1h0.9M163.4 944.4h0.9M147.3 943.0h0.9M156.5 936.1h0.9M157.7 942.8h0.9M164.2 939.7h0.9M143.7 942.2h0.9M139.2 949.3h0.9M174.0 912.5h0.9M157.6 941.8h0.9M153.7 945.3h0.9M163.1 941.4h0.9M168.1 939.9h0.9M144.9 943.7h0.9M142.6 933.3h0.9M159.6 945.3h0.9M143.0 942.3h0.9M170.1 924.4h0.9M153.3 942.8h0.9M150.9 944.2h0.9M160.8 947.2h0.9M156.9 930.6h0.9M162.4 937.1h0.9M145.3 946.6h0.9M163.8 923.1h0.9M146.3 935.5h0.9M162.6 920.1h0.9M166.6 940.6h0.9M180.7 946.5h0.9M168.9 943.9h0.9M156.3 926.3h0.9M158.4 945.6h0.9M135.4 944.3h0.9M161.4 944.0h0.9M151.5 937.4h0.9M134.2 937.8h0.9M164.8 913.2h0.9M156.9 946.6h0.9M151.1 945.4h0.9M148.0 937.9h0.9M154.1 946.3h0.9M173.8 926.3h0.9M166.0 939.8h0.9M166.0 948.3h0.9M141.9 937.6h0.9M148.6 933.0h0.9M150.1 938.1h0.9M156.1 944.6h0.9M166.3 940.7h0.9M157.7 947.1h0.9M154.3 936.8h0.9M153.9 939.4h0.9M167.3 914.8h0.9M155.3 942.2h0.9M168.6 946.3h0.9M144.1 941.5h0.9M163.1 943.4h0.9M151.3 938.8h0.9M156.1 942.4h0.9M145.5 947.1h0.9M162.7 942.2h0.9M158.9 935.5h0.9" stroke="#3a3a3a" stroke-width="0.9" stroke-opacity="0.45" fill="none"/>
<rect x="120.8" y="896.7" width="90" height="58.1" fill="none" stroke="#000" stroke-width="1"/>
<line x1="140.4" y1="896.7" x2="140.4" y2="954.8" stroke="#000" stroke-width="1"/>
<line x1="120.8" y1="930.4" x2="210.8" y2="930.4" stroke="#000" stroke-width="1"/>
<line x1="119.3" y1="941.29" x2="120.8" y2="941.29" stroke="#000" stroke-width="0.8"/>
<line x1="119.3" y1="927.78" x2="120.8" y2="927.78" stroke="#000" stroke-width="0.8"/>
<line x1="119.3" y1="914.27" x2="120.8" y2="914.27" stroke="#000" stroke-width="0.8"/>
<line x1="119.3" y1="900.75" x2="120.8" y2="900.75" stroke="#000" stroke-width="0.8"/>
<line x1="120.8" y1="954.8" x2="120.8" y2="956.4" stroke="#000" stroke-width="0.8"/>
<line x1="127.57" y1="954.8" x2="127.57" y2="955.8" stroke="#000" stroke-width="0.8"/>
<line x1="136.53" y1="954.8" x2="136.53" y2="955.8" stroke="#000" stroke-width="0.8"/>
<line x1="143.3" y1="954.8" x2="143.3" y2="956.4" stroke="#000" stroke-width="0.8"/>
<line x1="150.07" y1="954.8" x2="150.07" y2="955.8" stroke="#000" stroke-width="0.8"/>
<line x1="159.03" y1="954.8" x2="159.03" y2="955.8" stroke="#000" stroke-width="0.8"/>
<line x1="165.8" y1="954.8" x2="165.8" y2="956.4" stroke="#000" stroke-width="0.8"/>
<line x1="172.57" y1="954.8" x2="172.57" y2="955.8" stroke="#000" stroke-width="0.8"/>
<line x1="181.53" y1="954.8" x2="181.53" y2="955.8" stroke="#000" stroke-width="0.8"/>
<line x1="188.3" y1="954.8" x2="188.3" y2="956.4" stroke="#000" stroke-width="0.8"/>
<line x1="195.07" y1="954.8" x2="195.07" y2="955.8" stroke="#000" stroke-width="0.8"/>
<line x1="204.03" y1="954.8" x2="204.03" y2="955.8" stroke="#000" stroke-width="0.8"/>
<text x="123.1" y="910" font-size="8.6">0.02%</text>
<text x="180.4" y="910" font-size="8.6">5.94%</text>
<text x="180.4" y="954.3" font-size="8.6">87.09%</text>
<text x="220.9" y="886.5" font-size="10">Anti-CD3+CD28</text>
<text x="246.4" y="896.6" font-size="10">-DOX</text>
<path d="M233.9 917.9h0.9M241.1 913.1h0.9M253.1 917.5h0.9M242.0 917.9h0.9M251.4 909.4h0.9M241.9 917.9h0.9M239.0 918.3h0.9M261.8 912.2h0.9M245.7 921.2h0.9M258.1 924.3h0.9M240.2 916.0h0.9M244.2 934.5h0.9M253.4 927.0h0.9M245.4 906.2h0.9M247.9 919.8h0.9M250.5 906.2h0.9M255.0 914.5h0.9M216.5 917.4h0.9M256.0 914.5h0.9M254.3 922.4h0.9M243.9 917.6h0.9M235.5 910.8h0.9M256.1 906.0h0.9M249.6 905.5h0.9M243.3 915.8h0.9M247.0 916.5h0.9M266.2 913.0h0.9M257.4 912.7h0.9M254.7 916.2h0.9M248.2 914.4h0.9M247.0 905.0h0.9M244.6 911.9h0.9M246.3 913.3h0.9M248.6 925.5h0.9M255.6 905.9h0.9M240.9 917.6h0.9M235.8 905.3h0.9M265.0 919.4h0.9M234.9 905.3h0.9M246.5 903.0h0.9M247.3 919.1h0.9M250.8 905.0h0.9M241.8 911.2h0.9M244.2 909.2h0.9M252.7 924.2h0.9M246.5 913.3h0.9M254.2 916.8h0.9M252.7 911.4h0.9M260.1 908.1h0.9M244.1 910.5h0.9M233.2 916.3h0.9M254.7 911.5h0.9M248.4 911.2h0.9M242.2 934.3h0.9M243.5 914.7h0.9M245.9 921.9h0.9M238.3 903.3h0.9M253.9 906.9h0.9M238.0 925.0h0.9M254.8 913.7h0.9M241.1 920.5h0.9M247.0 910.3h0.9M248.7 918.6h0.9M253.1 912.9h0.9M258.4 920.9h0.9M242.2 910.7h0.9M251.7 910.0h0.9M250.5 916.8h0.9M259.3 918.1h0.9M252.5 909.5h0.9M254.0 919.7h0.9M234.7 910.6h0.9M243.4 911.8h0.9M236.5 915.3h0.9M223.9 907.5h0.9M253.4 911.8h0.9M256.1 907.5h0.9M255.2 914.1h0.9M248.9 920.4h0.9M236.8 916.5h0.9M242.3 909.3h0.9M253.4 912.0h0.9M253.4 910.8h0.9M244.4 900.6h0.9M240.0 924.7h0.9M244.7 916.9h0.9M260.5 915.2h0.9M246.3 914.8h0.9M250.3 909.7h0.9M251.7 914.4h0.9M242.9 927.4h0.9M255.2 917.1h0.9M249.4 911.6h0.9M250.9 911.8h0.9M247.1 915.2h0.9M246.0 913.1h0.9M249.7 911.5h0.9M247.8 910.8h0.9M253.2 915.7h0.9M259.5 929.4h0.9M248.7 926.1h0.9M239.5 924.7h0.9M247.3 916.5h0.9M252.9 913.3h0.9M242.1 913.6h0.9M237.9 917.2h0.9M240.7 924.1h0.9M237.6 918.1h0.9M255.9 913.0h0.9M243.5 919.6h0.9M251.6 938.7h0.9M241.7 902.3h0.9M243.9 936.8h0.9M252.8 913.1h0.9M239.6 905.7h0.9M242.9 914.1h0.9M237.6 935.5h0.9M255.6 915.4h0.9M256.8 920.9h0.9M253.4 918.0h0.9M229.5 905.7h0.9M253.9 909.5h0.9M228.1 898.6h0.9M246.5 910.7h0.9M264.8 908.0h0.9M250.9 921.0h0.9M256.1 920.7h0.9M248.3 919.2h0.9M253.9 917.9h0.9M245.7 923.5h0.9M238.2 908.9h0.9M265.8 919.4h0.9M251.5 914.9h0.9M242.7 915.1h0.9M257.6 918.7h0.9M235.4 911.4h0.9M263.6 916.8h0.9M241.5 909.7h0.9M247.3 931.9h0.9M245.0 915.0h0.9M228.0 909.5h0.9M248.2 919.8h0.9M244.5 908.8h0.9M256.5 912.9h0.9M251.8 916.8h0.9M236.5 909.2h0.9M239.5 905.5h0.9M237.8 900.2h0.9M260.1 918.6h0.9M249.4 910.2h0.9M243.1 925.7h0.9M250.8 915.8h0.9M252.1 903.9h0.9M241.9 910.7h0.9M218.2 925.6h0.9M248.5 906.7h0.9M250.5 916.4h0.9M252.2 911.4h0.9M230.3 942.9h0.9M269.9 914.1h0.9M253.9 910.6h0.9M246.2 921.3h0.9M244.3 914.4h0.9M226.6 905.2h0.9M251.9 911.6h0.9M236.3 911.2h0.9M247.9 912.7h0.9M251.3 905.0h0.9M244.6 910.0h0.9M242.7 905.2h0.9M238.7 924.9h0.9M255.8 917.8h0.9M240.2 924.3h0.9M256.9 907.4h0.9M240.8 913.9h0.9M251.4 922.3h0.9M255.6 913.7h0.9M241.5 905.1h0.9M255.7 910.0h0.9M257.1 916.0h0.9M238.8 917.4h0.9M249.2 918.7h0.9M243.9 911.7h0.9M250.7 921.4h0.9M245.8 925.5h0.9M244.6 915.9h0.9M258.5 913.7h0.9M252.0 935.7h0.9M243.1 915.9h0.9M220.4 906.7h0.9M249.7 911.9h0.9M254.8 931.7h0.9M252.2 915.4h0.9M235.0 929.9h0.9M259.1 916.2h0.9M246.5 910.1h0.9M256.0 916.5h0.9M244.7 906.6h0.9M244.9 913.1h0.9M241.1 915.8h0.9M258.1 913.8h0.9M251.0 918.4h0.9M249.2 909.5h0.9M252.5 921.2h0.9M237.8 908.2h0.9M251.7 915.4h0.9M267.7 904.2h0.9M236.6 917.7h0.9M242.1 903.8h0.9M235.4 919.3h0.9M251.6 901.5h0.9M243.4 911.5h0.9M251.6 898.8h0.9M250.9 917.0h0.9M256.6 917.0h0.9M233.6 914.8h0.9M229.6 933.2h0.9M249.3 910.2h0.9M228.0 933.7h0.9M247.1 908.4h0.9M243.6 911.9h0.9M246.3 915.7h0.9M249.2 917.3h0.9M260.7 924.7h0.9M236.1 916.2h0.9M244.1 909.1h0.9M248.0 911.3h0.9M249.9 919.3h0.9M245.7 916.2h0.9M259.4 908.9h0.9M249.7 906.9h0.9M242.4 901.3h0.9M246.4 913.5h0.9M250.6 915.7h0.9M236.5 915.9h0.9M254.9 925.8h0.9M263.6 911.1h0.9M258.9 913.0h0.9M246.9 925.2h0.9M236.1 917.1h0.9M248.6 908.9h0.9M251.2 922.3h0.9M246.3 915.8h0.9M239.7 911.4h0.9M243.7 903.7h0.9M267.5 910.4h0.9M247.0 916.5h0.9M257.5 902.1h0.9M237.3 911.7h0.9M253.7 916.9h0.9M248.8 904.8h0.9M229.1 915.8h0.9M241.0 911.0h0.9M249.2 910.9h0.9M246.0 919.9h0.9M249.1 913.7h0.9M253.9 910.7h0.9M252.5 913.1h0.9M233.3 906.9h0.9M239.4 900.6h0.9M253.6 918.7h0.9M253.6 908.0h0.9M263.7 915.5h0.9M247.3 913.0h0.9M242.2 929.1h0.9M231.7 902.2h0.9M251.2 915.1h0.9M241.7 910.4h0.9M237.3 908.0h0.9M269.7 919.5h0.9M256.0 937.9h0.9M235.0 917.8h0.9M242.9 912.1h0.9M253.0 915.0h0.9M231.5 941.1h0.9M244.0 922.8h0.9M267.2 907.9h0.9M242.9 917.3h0.9M231.4 908.7h0.9M260.6 914.5h0.9M239.3 917.1h0.9M251.7 904.9h0.9M242.8 914.6h0.9M258.0 913.1h0.9M237.9 921.2h0.9M246.4 908.3h0.9M252.0 907.6h0.9M267.1 907.1h0.9M254.4 907.7h0.9M252.3 919.6h0.9M251.7 916.3h0.9M253.7 904.0h0.9M259.1 905.8h0.9M256.4 922.9h0.9M254.8 911.1h0.9M246.8 913.0h0.9M253.8 909.9h0.9M262.5 911.6h0.9M251.1 910.1h0.9M248.7 925.6h0.9M252.6 912.3h0.9M245.6 920.3h0.9M253.4 905.2h0.9M244.9 914.0h0.9M244.6 920.2h0.9M255.5 914.8h0.9M241.5 931.1h0.9M236.9 919.0h0.9M244.9 911.2h0.9M248.8 916.9h0.9M254.9 924.7h0.9M244.1 914.5h0.9M265.1 918.9h0.9M252.7 917.9h0.9M220.3 943.1h0.9M240.6 909.2h0.9M242.9 914.6h0.9M218.6 948.6h0.9M218.7 926.9h0.9M233.8 909.8h0.9M246.0 906.9h0.9M250.0 910.3h0.9M252.7 910.2h0.9" stroke="#3a3a3a" stroke-width="0.9" stroke-opacity="0.45" fill="none"/>
<path d="M236.7 914.2h0.9M240.6 940.7h0.9M227.6 912.9h0.9M255.1 910.1h0.9M256.1 919.0h0.9M258.4 905.4h0.9M242.5 912.2h0.9M249.6 920.7h0.9M279.0 907.1h0.9M247.9 910.1h0.9M255.8 914.5h0.9M248.0 920.6h0.9M230.2 927.0h0.9M230.0 952.5h0.9M239.2 912.5h0.9M239.9 909.8h0.9M247.7 902.6h0.9M260.5 914.6h0.9M257.2 903.6h0.9M227.7 905.8h0.9M230.3 916.6h0.9M241.3 919.8h0.9M252.6 909.2h0.9M246.7 906.2h0.9M245.0 913.4h0.9M245.2 925.2h0.9M247.2 912.8h0.9M238.7 916.8h0.9M256.7 908.0h0.9M255.8 911.6h0.9M237.3 913.6h0.9M248.3 905.6h0.9M258.3 916.8h0.9M258.5 904.1h0.9M250.2 913.7h0.9M245.4 917.9h0.9M247.5 912.3h0.9M247.9 917.4h0.9M246.7 917.2h0.9M260.8 906.6h0.9M234.8 911.8h0.9M251.3 905.5h0.9M241.1 916.1h0.9M226.4 899.0h0.9M249.7 910.6h0.9M219.9 918.0h0.9M255.2 912.2h0.9M254.8 908.7h0.9M250.5 923.3h0.9M252.1 902.6h0.9M245.1 926.6h0.9M245.7 920.3h0.9M243.4 921.0h0.9M246.5 909.7h0.9M245.0 920.0h0.9M248.4 916.1h0.9M241.6 905.2h0.9M253.5 907.0h0.9M247.4 915.6h0.9M256.9 908.5h0.9M241.7 919.7h0.9M261.6 918.2h0.9M240.8 914.5h0.9M246.3 928.1h0.9M256.6 913.4h0.9M247.8 914.4h0.9M219.3 923.8h0.9M254.0 912.9h0.9M250.6 916.2h0.9M252.4 912.7h0.9M248.9 919.3h0.9M239.3 908.0h0.9M256.5 912.8h0.9M250.0 913.5h0.9M248.9 911.4h0.9M250.7 914.0h0.9M244.2 910.9h0.9M253.6 904.8h0.9M227.6 952.2h0.9M253.5 912.4h0.9M270.1 920.7h0.9M253.5 904.0h0.9M259.9 919.8h0.9M254.4 912.2h0.9M253.9 911.1h0.9M243.3 905.4h0.9M253.5 912.9h0.9M251.7 913.8h0.9M240.1 901.7h0.9M254.0 905.2h0.9M243.0 913.5h0.9M250.2 930.1h0.9M246.8 920.3h0.9M229.2 935.4h0.9M235.6 921.0h0.9M253.6 914.2h0.9M277.1 916.5h0.9M249.1 910.1h0.9M246.4 906.6h0.9M244.8 911.0h0.9M235.0 914.1h0.9M253.6 917.3h0.9M246.5 918.6h0.9M246.5 914.0h0.9M243.3 909.2h0.9M240.4 918.1h0.9M252.0 911.2h0.9M250.8 912.2h0.9M254.6 923.2h0.9M250.2 908.0h0.9M233.1 918.8h0.9M280.2 920.0h0.9M244.3 907.5h0.9M256.0 922.9h0.9M254.7 905.3h0.9M248.1 915.2h0.9M243.6 902.8h0.9M258.7 915.7h0.9M257.6 910.2h0.9M266.9 918.3h0.9M246.5 916.4h0.9M252.0 918.5h0.9M219.6 915.7h0.9M239.1 912.8h0.9M239.8 902.8h0.9M260.6 915.4h0.9M253.4 924.7h0.9M247.0 916.2h0.9M255.1 916.0h0.9M251.0 912.8h0.9M251.6 908.4h0.9M243.1 916.1h0.9M249.8 909.3h0.9M232.3 900.3h0.9M239.3 916.4h0.9M242.7 913.4h0.9M241.1 914.0h0.9M248.6 917.4h0.9M250.8 914.9h0.9M270.6 923.1h0.9M248.3 920.9h0.9M242.8 921.2h0.9M251.8 919.8h0.9M241.5 905.9h0.9M251.2 914.5h0.9M252.6 916.7h0.9M242.5 943.6h0.9M249.8 910.8h0.9M244.0 903.8h0.9M253.8 912.8h0.9M250.6 922.3h0.9M231.4 911.8h0.9M259.5 908.2h0.9M252.5 911.1h0.9M250.8 913.2h0.9M248.2 912.4h0.9M233.5 946.1h0.9M256.5 915.8h0.9M254.2 909.3h0.9M254.4 906.0h0.9M238.0 917.5h0.9M242.6 914.5h0.9M248.1 919.5h0.9M258.6 918.9h0.9M241.0 921.3h0.9M251.8 903.0h0.9M249.7 919.4h0.9M256.4 915.2h0.9M233.8 906.8h0.9M259.0 914.2h0.9M252.4 924.8h0.9M241.8 912.7h0.9M247.1 911.2h0.9M251.4 915.8h0.9M253.3 917.9h0.9M239.8 919.1h0.9M245.5 918.3h0.9M225.6 903.9h0.9M258.5 908.9h0.9M254.5 909.1h0.9M246.8 911.0h0.9M263.4 922.6h0.9M233.3 947.0h0.9M245.3 909.1h0.9M252.5 911.0h0.9M235.0 916.6h0.9M252.9 913.5h0.9M232.4 919.1h0.9M264.7 938.9h0.9M253.0 916.4h0.9M249.2 914.8h0.9M247.7 913.0h0.9M271.6 902.4h0.9M272.8 938.9h0.9M248.7 903.0h0.9M250.8 913.9h0.9M236.2 913.3h0.9M245.1 914.3h0.9M256.8 927.3h0.9M266.7 910.6h0.9M250.5 905.8h0.9M271.6 929.8h0.9M235.7 928.9h0.9M247.3 910.7h0.9M249.7 908.2h0.9M251.7 909.8h0.9M255.7 919.3h0.9M252.7 912.0h0.9M264.1 909.5h0.9M241.8 917.5h0.9M264.7 915.1h0.9M256.3 911.4h0.9M258.5 908.9h0.9M253.7 910.4h0.9M252.8 916.1h0.9M251.4 921.3h0.9M249.7 919.8h0.9M248.7 906.5h0.9M243.3 903.3h0.9M249.0 910.1h0.9M251.4 910.2h0.9M238.3 909.3h0.9M250.2 927.5h0.9M249.7 925.0h0.9M239.8 915.8h0.9M238.9 947.7h0.9M249.1 915.3h0.9M239.7 911.6h0.9M246.0 922.7h0.9M248.1 914.7h0.9M244.9 907.0h0.9M252.0 919.1h0.9M245.6 909.9h0.9M246.2 915.1h0.9M248.7 906.1h0.9M237.3 920.1h0.9M245.0 906.3h0.9M246.3 917.7h0.9M272.2 920.5h0.9M253.3 916.0h0.9M255.7 927.4h0.9M246.9 916.0h0.9M249.1 916.0h0.9M252.5 911.2h0.9M249.2 908.6h0.9M251.4 913.0h0.9M245.3 925.3h0.9M238.2 921.7h0.9M272.2 920.5h0.9M251.1 902.9h0.9M236.5 914.0h0.9M241.7 906.0h0.9M227.1 923.2h0.9M255.9 904.9h0.9M246.3 906.6h0.9M238.8 921.7h0.9M264.2 918.8h0.9M230.9 917.7h0.9M245.3 916.3h0.9M262.8 915.3h0.9M255.5 914.0h0.9M249.5 910.7h0.9M246.1 917.7h0.9M246.1 925.1h0.9M251.9 919.6h0.9M250.4 915.9h0.9M246.6 913.1h0.9M253.6 918.5h0.9M256.2 919.5h0.9M226.6 932.5h0.9M224.1 941.3h0.9M256.5 915.4h0.9M240.5 905.7h0.9M248.0 907.9h0.9M271.7 905.8h0.9M249.2 900.1h0.9M256.6 907.4h0.9M245.2 916.7h0.9M256.8 916.2h0.9M255.2 909.4h0.9M234.7 911.7h0.9M239.2 908.7h0.9M255.1 911.3h0.9M246.2 912.1h0.9M246.3 911.2h0.9M240.8 912.6h0.9M244.1 912.1h0.9M226.6 906.1h0.9M246.3 906.2h0.9M245.3 918.9h0.9M235.7 913.3h0.9M246.5 912.7h0.9M254.8 908.3h0.9M262.8 921.8h0.9M254.5 917.5h0.9M245.9 904.5h0.9M243.0 904.9h0.9M257.3 914.3h0.9M260.9 916.1h0.9M251.8 922.9h0.9M252.7 911.1h0.9M267.6 909.4h0.9M250.7 909.8h0.9M250.7 914.9h0.9M251.5 915.4h0.9M252.3 916.2h0.9M260.8 915.5h0.9M253.2 914.0h0.9M249.8 908.0h0.9M246.5 915.0h0.9M247.6 920.8h0.9M243.3 906.7h0.9M249.4 913.3h0.9M257.7 910.3h0.9M241.1 914.4h0.9M251.6 907.4h0.9M248.5 917.3h0.9M245.2 915.2h0.9M256.4 902.2h0.9M238.0 918.4h0.9M249.3 921.5h0.9M250.0 913.4h0.9M242.9 915.0h0.9" stroke="#3a3a3a" stroke-width="0.9" stroke-opacity="0.45" fill="none"/>
<path d="M259.6 914.9h0.9M247.8 906.2h0.9M248.7 912.4h0.9M250.4 927.4h0.9M248.1 908.4h0.9M220.9 920.4h0.9M243.7 916.9h0.9M252.3 914.5h0.9M258.8 907.6h0.9M249.6 910.8h0.9M224.7 921.5h0.9M246.5 902.6h0.9M221.6 943.3h0.9M253.0 911.5h0.9M247.8 912.1h0.9M245.6 904.1h0.9M248.5 909.9h0.9M254.9 912.4h0.9M248.2 916.6h0.9M259.9 907.6h0.9M226.9 925.3h0.9M257.7 906.6h0.9M243.4 916.4h0.9M247.4 920.5h0.9M252.6 915.1h0.9M246.7 901.9h0.9M259.0 912.9h0.9M259.7 910.5h0.9M250.2 915.4h0.9M246.9 910.9h0.9M243.1 908.9h0.9M230.9 905.8h0.9M251.2 921.3h0.9M253.2 912.5h0.9M253.7 921.9h0.9M240.5 900.4h0.9M231.5 915.9h0.9M238.9 926.6h0.9M243.6 918.1h0.9M248.8 905.5h0.9M254.3 911.2h0.9M242.0 911.3h0.9M234.8 938.5h0.9M248.3 918.0h0.9M251.5 916.5h0.9M240.9 914.8h0.9M233.1 912.4h0.9M240.8 915.0h0.9M247.5 911.1h0.9M255.8 918.4h0.9M257.5 915.2h0.9M244.4 915.1h0.9M268.8 903.7h0.9M257.7 901.1h0.9M257.0 923.5h0.9M254.2 906.2h0.9M235.7 929.8h0.9M263.5 915.7h0.9M255.7 912.1h0.9M249.7 919.7h0.9M228.6 916.0h0.9M256.0 938.0h0.9M243.1 922.2h0.9M247.1 909.4h0.9M240.4 921.8h0.9M255.1 915.7h0.9M246.3 912.2h0.9M248.8 916.1h0.9M252.8 913.4h0.9M254.1 905.0h0.9M275.5 918.5h0.9M254.2 902.9h0.9M246.4 913.4h0.9M246.9 907.9h0.9M244.2 916.5h0.9M234.1 908.6h0.9M251.4 915.6h0.9M250.1 909.9h0.9M250.8 916.9h0.9M243.8 911.6h0.9M263.5 913.9h0.9M225.0 932.5h0.9M237.4 914.0h0.9M246.0 909.7h0.9M250.3 922.7h0.9M247.2 919.2h0.9M245.5 916.0h0.9M259.2 920.5h0.9M254.6 935.9h0.9M248.6 911.0h0.9M261.9 911.6h0.9M253.2 908.6h0.9M245.3 920.1h0.9M253.5 915.2h0.9M255.9 915.8h0.9M248.6 912.2h0.9M259.3 920.7h0.9M247.5 908.1h0.9M257.5 907.3h0.9M229.1 946.9h0.9M241.9 917.2h0.9M254.5 910.7h0.9M246.9 907.7h0.9M244.9 920.1h0.9M254.8 907.9h0.9M251.6 916.0h0.9M232.5 936.6h0.9M257.7 902.6h0.9M247.9 921.9h0.9M235.4 908.0h0.9M252.5 915.7h0.9M248.1 914.0h0.9M260.8 919.5h0.9M250.1 908.7h0.9M251.7 905.2h0.9M249.8 915.0h0.9M243.9 917.9h0.9M257.2 909.6h0.9M249.9 907.0h0.9M249.8 914.5h0.9M259.3 905.5h0.9M234.5 912.7h0.9M248.5 920.1h0.9M229.4 937.1h0.9M242.5 908.5h0.9M244.0 925.2h0.9M249.8 915.6h0.9M236.7 927.2h0.9M240.1 915.7h0.9M216.7 938.2h0.9M250.7 909.2h0.9M248.8 903.7h0.9M244.3 913.1h0.9M234.0 909.0h0.9M255.9 916.5h0.9M238.0 915.9h0.9M249.8 911.6h0.9M240.7 910.1h0.9M246.7 927.8h0.9M253.1 922.8h0.9M245.1 910.5h0.9M248.7 915.1h0.9M258.8 913.7h0.9M241.5 915.4h0.9M249.1 910.2h0.9M247.7 913.6h0.9M254.0 922.5h0.9M252.1 908.1h0.9M244.4 912.0h0.9M246.1 920.1h0.9M246.6 912.2h0.9M258.4 913.3h0.9M252.7 909.5h0.9M244.7 908.4h0.9M251.8 921.4h0.9M239.8 913.7h0.9M235.0 912.9h0.9M251.8 919.9h0.9M247.6 903.8h0.9M244.3 909.5h0.9M240.7 907.7h0.9M260.0 917.4h0.9M245.7 910.5h0.9M245.0 907.2h0.9M243.6 908.7h0.9M241.0 910.2h0.9M252.0 929.1h0.9M261.5 916.7h0.9M246.5 916.9h0.9M246.2 922.8h0.9M224.8 926.4h0.9M249.7 913.7h0.9M255.4 915.9h0.9M242.3 914.1h0.9M247.5 933.5h0.9M256.8 913.5h0.9M235.2 913.8h0.9M253.1 912.7h0.9M261.8 908.7h0.9M256.0 919.5h0.9M242.9 909.9h0.9M258.8 919.6h0.9M221.5 933.7h0.9M253.4 915.1h0.9M249.7 906.9h0.9M238.9 921.5h0.9M236.7 929.9h0.9M250.9 909.1h0.9M255.8 911.6h0.9M245.3 909.0h0.9M245.4 922.3h0.9M250.3 917.8h0.9M241.8 920.9h0.9M239.0 917.2h0.9M250.4 904.3h0.9M248.8 922.7h0.9M245.7 909.6h0.9M251.6 901.4h0.9M271.8 933.0h0.9M243.0 908.7h0.9M229.6 935.9h0.9M235.1 920.8h0.9M245.3 918.8h0.9M255.8 922.6h0.9M252.2 921.8h0.9M242.6 915.2h0.9M247.4 910.8h0.9M255.8 905.2h0.9M249.4 915.7h0.9M256.5 917.9h0.9M259.0 902.3h0.9M233.2 917.2h0.9M246.1 915.3h0.9M243.9 917.0h0.9M235.0 917.9h0.9M254.2 908.6h0.9M242.4 904.6h0.9M243.1 911.1h0.9M245.4 914.6h0.9M258.9 913.1h0.9M242.9 925.3h0.9M258.5 905.6h0.9M232.0 906.1h0.9M256.9 907.7h0.9M245.0 916.3h0.9M229.7 918.7h0.9M249.0 911.4h0.9M257.9 918.9h0.9M247.4 916.5h0.9M252.4 911.5h0.9M244.4 917.3h0.9M245.9 913.5h0.9M253.5 918.9h0.9M246.6 915.7h0.9M253.7 908.2h0.9M243.6 924.5h0.9M246.3 917.2h0.9M256.7 911.8h0.9M260.6 913.5h0.9M246.4 916.7h0.9M251.4 916.9h0.9M243.8 912.4h0.9M242.9 912.1h0.9M251.5 916.1h0.9M249.6 919.5h0.9M253.5 941.7h0.9M250.8 928.2h0.9M248.6 913.4h0.9M254.9 906.8h0.9M238.0 899.6h0.9M251.4 911.9h0.9M245.2 927.8h0.9M253.8 919.8h0.9M252.5 906.7h0.9M250.1 912.1h0.9M248.7 914.4h0.9M244.3 920.2h0.9M263.8 915.8h0.9M254.6 912.9h0.9M244.5 918.1h0.9M237.5 908.4h0.9M233.9 915.8h0.9M255.2 912.9h0.9M249.4 913.5h0.9M235.1 914.0h0.9M242.8 921.6h0.9M243.7 908.8h0.9M226.9 920.9h0.9M253.3 919.8h0.9M269.6 912.7h0.9M257.3 912.5h0.9M256.4 906.1h0.9M249.4 911.1h0.9M244.1 908.5h0.9M252.9 925.8h0.9M259.4 916.6h0.9M254.8 911.0h0.9M251.8 912.9h0.9M242.8 930.4h0.9M239.1 905.2h0.9M257.6 915.0h0.9M251.2 925.0h0.9M242.7 912.2h0.9M257.6 926.2h0.9M241.8 917.7h0.9M241.8 904.3h0.9M252.2 916.5h0.9M254.8 903.4h0.9M254.7 929.6h0.9M254.0 914.5h0.9M244.9 932.1h0.9M244.8 906.4h0.9M255.2 905.9h0.9M243.0 914.3h0.9M251.8 910.0h0.9M250.7 900.3h0.9M252.9 911.5h0.9M238.4 909.3h0.9M255.4 905.2h0.9M255.1 908.0h0.9M248.7 911.7h0.9M248.3 919.7h0.9M246.0 916.9h0.9M245.2 906.6h0.9M247.9 912.7h0.9M256.6 918.0h0.9M251.9 906.0h0.9M260.6 921.3h0.9M227.5 913.4h0.9M259.1 913.0h0.9M231.3 914.5h0.9M254.8 915.1h0.9M250.2 921.8h0.9M252.7 935.0h0.9M245.4 910.6h0.9M239.8 916.0h0.9M252.6 912.6h0.9M238.9 909.9h0.9M238.2 911.0h0.9M248.3 910.8h0.9M242.7 915.0h0.9M240.5 919.4h0.9M261.1 919.8h0.9M244.0 912.3h0.9" stroke="#3a3a3a" stroke-width="0.9" stroke-opacity="0.45" fill="none"/>
<rect x="215.4" y="897.5" width="89.6" height="58.1" fill="none" stroke="#000" stroke-width="1"/>
<line x1="235.4" y1="897.5" x2="235.4" y2="955.6" stroke="#000" stroke-width="1"/>
<line x1="215.4" y1="931.3" x2="305" y2="931.3" stroke="#000" stroke-width="1"/>
<line x1="213.9" y1="942.09" x2="215.4" y2="942.09" stroke="#000" stroke-width="0.8"/>
<line x1="213.9" y1="928.58" x2="215.4" y2="928.58" stroke="#000" stroke-width="0.8"/>
<line x1="213.9" y1="915.07" x2="215.4" y2="915.07" stroke="#000" stroke-width="0.8"/>
<line x1="213.9" y1="901.55" x2="215.4" y2="901.55" stroke="#000" stroke-width="0.8"/>
<line x1="215.4" y1="955.6" x2="215.4" y2="957.2" stroke="#000" stroke-width="0.8"/>
<line x1="222.14" y1="955.6" x2="222.14" y2="956.6" stroke="#000" stroke-width="0.8"/>
<line x1="231.06" y1="955.6" x2="231.06" y2="956.6" stroke="#000" stroke-width="0.8"/>
<line x1="237.8" y1="955.6" x2="237.8" y2="957.2" stroke="#000" stroke-width="0.8"/>
<line x1="244.54" y1="955.6" x2="244.54" y2="956.6" stroke="#000" stroke-width="0.8"/>
<line x1="253.46" y1="955.6" x2="253.46" y2="956.6" stroke="#000" stroke-width="0.8"/>
<line x1="260.2" y1="955.6" x2="260.2" y2="957.2" stroke="#000" stroke-width="0.8"/>
<line x1="266.94" y1="955.6" x2="266.94" y2="956.6" stroke="#000" stroke-width="0.8"/>
<line x1="275.86" y1="955.6" x2="275.86" y2="956.6" stroke="#000" stroke-width="0.8"/>
<line x1="282.6" y1="955.6" x2="282.6" y2="957.2" stroke="#000" stroke-width="0.8"/>
<line x1="289.34" y1="955.6" x2="289.34" y2="956.6" stroke="#000" stroke-width="0.8"/>
<line x1="298.26" y1="955.6" x2="298.26" y2="956.6" stroke="#000" stroke-width="0.8"/>
<text x="218.7" y="910" font-size="8.6">4.63%</text>
<text x="276.3" y="910" font-size="8.6">85.53%</text>
<text x="276.3" y="954.3" font-size="8.6">8.09%</text>
<text x="319.5" y="885.6" font-size="10">Anti-CD3+CD28</text>
<text x="333.75" y="896.6" font-size="10">+DOX</text>
<path d="M348.5 919.0h0.9M346.1 922.7h0.9M338.9 921.6h0.9M338.1 917.7h0.9M338.2 932.5h0.9M333.0 919.5h0.9M351.1 920.1h0.9M358.5 916.4h0.9M353.7 920.0h0.9M352.5 916.6h0.9M348.9 908.7h0.9M338.4 921.5h0.9M345.9 920.3h0.9M343.2 913.9h0.9M353.7 910.9h0.9M343.2 930.0h0.9M329.3 919.1h0.9M350.9 921.5h0.9M341.5 919.1h0.9M350.5 910.2h0.9M347.9 916.6h0.9M355.1 918.5h0.9M354.8 915.5h0.9M348.5 918.7h0.9M353.4 911.1h0.9M353.1 923.4h0.9M346.9 930.2h0.9M348.9 913.3h0.9M349.8 915.9h0.9M338.4 919.5h0.9M346.6 905.4h0.9M340.7 911.9h0.9M350.6 907.6h0.9M331.4 943.1h0.9M341.6 920.9h0.9M337.5 932.2h0.9M346.1 915.6h0.9M336.9 927.6h0.9M343.9 926.0h0.9M323.5 929.5h0.9M341.6 928.2h0.9M353.2 906.5h0.9M350.6 917.6h0.9M343.1 919.0h0.9M346.7 914.1h0.9M340.4 929.1h0.9M354.2 909.7h0.9M337.8 924.5h0.9M352.5 906.9h0.9M339.1 912.9h0.9M348.3 910.8h0.9M348.8 920.3h0.9M339.5 928.9h0.9M335.5 919.2h0.9M335.4 921.3h0.9M347.5 921.8h0.9M326.4 937.6h0.9M350.2 916.9h0.9M346.3 914.5h0.9M348.4 926.0h0.9M356.7 921.0h0.9M353.0 919.3h0.9M348.6 920.5h0.9M337.4 914.4h0.9M340.7 930.0h0.9M348.6 911.1h0.9M326.9 935.0h0.9M330.0 922.9h0.9M357.7 916.7h0.9M345.5 920.7h0.9M326.4 925.0h0.9M357.9 907.3h0.9M355.8 916.4h0.9M336.2 918.4h0.9M357.8 907.0h0.9M347.6 911.9h0.9M347.3 914.7h0.9M353.3 904.2h0.9M363.5 913.3h0.9M347.9 918.8h0.9M329.9 933.7h0.9M340.7 921.3h0.9M345.7 920.9h0.9M343.5 915.4h0.9M338.8 917.7h0.9M351.5 911.3h0.9M345.3 913.7h0.9M355.2 918.1h0.9M346.7 920.9h0.9M338.3 929.1h0.9M347.2 917.4h0.9M338.6 929.1h0.9M343.2 922.2h0.9M349.3 923.7h0.9M349.6 907.5h0.9M352.0 922.5h0.9M349.9 906.0h0.9M346.8 915.5h0.9M355.3 911.8h0.9M353.8 913.8h0.9M335.6 916.6h0.9M332.1 917.0h0.9M350.8 916.9h0.9M342.9 915.0h0.9M360.2 911.0h0.9M343.2 933.7h0.9M347.3 925.8h0.9M312.8 931.7h0.9M347.8 922.9h0.9M359.0 909.8h0.9M352.7 920.1h0.9M346.7 915.2h0.9M345.7 921.9h0.9M358.1 907.0h0.9M345.8 915.5h0.9M342.1 925.5h0.9M343.6 923.7h0.9M350.3 912.6h0.9M340.8 918.8h0.9M349.5 910.4h0.9M322.8 934.9h0.9M349.5 922.6h0.9M341.0 927.8h0.9M356.1 909.3h0.9M347.3 919.9h0.9M349.8 914.9h0.9M327.9 924.7h0.9M342.8 927.8h0.9M348.6 918.8h0.9M354.9 911.1h0.9M325.2 905.6h0.9M357.1 905.5h0.9M358.6 914.2h0.9M357.6 923.6h0.9M345.7 912.1h0.9M356.1 907.0h0.9M340.4 920.0h0.9M350.3 924.2h0.9M339.8 928.0h0.9M349.7 919.5h0.9M343.5 916.2h0.9M354.4 915.1h0.9M346.5 903.8h0.9M334.2 924.7h0.9M348.8 916.8h0.9M336.3 921.5h0.9M354.7 916.2h0.9M347.6 914.3h0.9M355.3 921.2h0.9M353.8 918.3h0.9M336.4 936.0h0.9M343.7 918.3h0.9M356.1 902.3h0.9M352.0 916.7h0.9M348.0 922.2h0.9M346.6 912.8h0.9M322.9 910.9h0.9M352.9 918.4h0.9M333.9 933.9h0.9M344.6 921.6h0.9M352.1 917.9h0.9M347.2 917.0h0.9M347.0 915.0h0.9M358.7 907.1h0.9M325.4 912.9h0.9M339.9 922.7h0.9M349.7 919.5h0.9M349.5 918.5h0.9M346.8 949.1h0.9M346.3 918.4h0.9M325.5 945.3h0.9M351.4 910.8h0.9M348.0 924.9h0.9M340.0 924.5h0.9M345.6 931.7h0.9M342.2 918.6h0.9M348.6 920.4h0.9M342.2 923.6h0.9M355.0 911.7h0.9M341.5 926.5h0.9M348.0 918.5h0.9M345.7 918.9h0.9M344.0 917.6h0.9M333.1 930.4h0.9M342.2 912.0h0.9M349.4 920.3h0.9M366.8 898.8h0.9M330.0 924.3h0.9M353.7 918.2h0.9M354.6 915.1h0.9M352.3 919.1h0.9M347.5 935.2h0.9M346.7 917.6h0.9M358.5 914.3h0.9M348.0 917.2h0.9M350.6 915.8h0.9M352.7 928.6h0.9M351.2 927.8h0.9M345.3 930.2h0.9M329.2 924.8h0.9M357.2 920.2h0.9M342.6 930.2h0.9M340.9 923.8h0.9M350.8 915.3h0.9M355.8 901.5h0.9M348.0 922.6h0.9M352.5 918.5h0.9M351.1 918.9h0.9M356.2 906.9h0.9M346.4 923.2h0.9M337.0 927.7h0.9M355.5 908.3h0.9M347.6 921.9h0.9M342.0 918.3h0.9M351.5 911.4h0.9M347.3 916.4h0.9M327.4 929.6h0.9M319.8 950.6h0.9M339.4 922.2h0.9M355.4 918.1h0.9M314.0 927.0h0.9M352.0 918.7h0.9M354.8 916.2h0.9M336.1 918.5h0.9M345.4 915.6h0.9M339.1 913.9h0.9M349.5 910.4h0.9M347.3 919.5h0.9M360.0 910.8h0.9M351.2 913.6h0.9M348.4 948.0h0.9M354.7 924.0h0.9M360.2 915.0h0.9M353.7 910.7h0.9M346.1 917.9h0.9M344.3 922.1h0.9M337.9 918.8h0.9M349.7 919.1h0.9M349.1 905.6h0.9M347.2 916.7h0.9M366.8 900.6h0.9M355.6 907.4h0.9M361.6 916.1h0.9M356.6 913.1h0.9M349.2 906.4h0.9M338.9 924.3h0.9M355.0 909.4h0.9M323.4 933.8h0.9M348.4 925.9h0.9M344.9 925.5h0.9M330.6 909.7h0.9M355.4 905.3h0.9M361.7 918.6h0.9M348.4 916.8h0.9M345.3 949.6h0.9M355.0 919.6h0.9M345.8 918.2h0.9M349.9 916.8h0.9M354.1 909.3h0.9M340.1 931.0h0.9M355.7 909.0h0.9M349.5 910.3h0.9M345.3 915.1h0.9M350.7 920.8h0.9M342.7 922.4h0.9M342.2 916.9h0.9M341.9 913.1h0.9M348.1 916.1h0.9M353.1 913.0h0.9M349.9 927.4h0.9M350.8 912.5h0.9M353.5 911.3h0.9M344.8 919.7h0.9M351.7 918.9h0.9M361.8 912.8h0.9M358.6 907.8h0.9M349.4 926.2h0.9M338.4 931.7h0.9M351.5 919.6h0.9M341.9 919.1h0.9M353.5 903.9h0.9M339.5 923.1h0.9M349.2 912.6h0.9M313.5 926.2h0.9M344.6 914.7h0.9M354.0 913.1h0.9M341.6 914.2h0.9M355.1 915.1h0.9M350.8 920.3h0.9M345.1 915.8h0.9M349.4 920.3h0.9M354.4 908.2h0.9M346.3 923.9h0.9M344.1 920.2h0.9M337.4 920.0h0.9M349.7 920.2h0.9M358.1 908.1h0.9M353.5 917.1h0.9M342.7 934.7h0.9M341.6 917.1h0.9M350.1 922.9h0.9M347.4 925.0h0.9M357.2 904.9h0.9M331.2 930.9h0.9M346.6 923.5h0.9M355.1 913.3h0.9M352.8 918.6h0.9M352.1 906.9h0.9M339.1 929.1h0.9M350.6 921.7h0.9M341.3 915.1h0.9M350.0 910.9h0.9M352.4 922.7h0.9M351.0 906.8h0.9M359.3 900.8h0.9M352.5 912.7h0.9M340.4 924.4h0.9M339.4 922.9h0.9M352.4 916.8h0.9M348.1 919.6h0.9M345.1 920.7h0.9M344.3 920.2h0.9M350.9 917.7h0.9M357.7 907.2h0.9M343.6 904.9h0.9" stroke="#3a3a3a" stroke-width="0.9" stroke-opacity="0.45" fill="none"/>
<path d="M344.3 926.2h0.9M344.5 917.8h0.9M342.7 922.5h0.9M338.2 927.1h0.9M335.0 922.3h0.9M355.8 922.1h0.9M335.2 918.2h0.9M348.0 921.8h0.9M351.7 913.6h0.9M350.2 913.0h0.9M366.2 907.1h0.9M349.4 908.2h0.9M357.6 911.7h0.9M343.5 913.3h0.9M348.1 907.7h0.9M338.8 920.8h0.9M352.7 914.4h0.9M347.3 913.4h0.9M352.8 911.4h0.9M350.7 914.7h0.9M351.7 908.7h0.9M353.3 916.6h0.9M347.6 914.3h0.9M337.2 925.0h0.9M356.9 909.3h0.9M357.1 910.5h0.9M350.3 916.3h0.9M347.0 922.3h0.9M359.7 911.2h0.9M334.6 923.2h0.9M363.8 906.2h0.9M357.6 914.1h0.9M347.3 906.8h0.9M351.4 911.2h0.9M350.3 931.6h0.9M357.3 913.9h0.9M333.9 925.2h0.9M349.2 920.1h0.9M338.3 917.8h0.9M337.8 918.6h0.9M352.2 911.0h0.9M342.7 925.7h0.9M347.9 917.2h0.9M344.5 910.8h0.9M341.6 918.1h0.9M313.1 926.7h0.9M356.2 913.8h0.9M347.7 916.4h0.9M343.8 917.2h0.9M339.1 914.9h0.9M348.8 913.8h0.9M354.0 917.8h0.9M343.8 937.7h0.9M345.0 921.2h0.9M340.6 927.6h0.9M341.7 919.9h0.9M356.7 914.1h0.9M351.0 946.1h0.9M352.9 907.7h0.9M360.3 915.2h0.9M343.1 944.4h0.9M349.5 906.5h0.9M344.6 929.9h0.9M332.3 919.4h0.9M349.6 925.6h0.9M357.4 909.1h0.9M339.0 920.2h0.9M335.0 933.2h0.9M351.0 908.4h0.9M367.6 909.3h0.9M352.6 909.9h0.9M346.7 914.4h0.9M360.5 917.3h0.9M351.3 907.0h0.9M345.9 928.5h0.9M348.9 918.7h0.9M342.2 923.1h0.9M349.5 926.8h0.9M348.9 917.5h0.9M359.5 914.7h0.9M350.8 912.7h0.9M349.6 909.1h0.9M354.8 925.0h0.9M341.5 927.2h0.9M354.1 908.2h0.9M348.6 916.8h0.9M323.4 934.3h0.9M351.7 928.5h0.9M362.6 909.5h0.9M358.4 907.3h0.9M347.4 916.1h0.9M347.3 925.4h0.9M351.7 910.0h0.9M330.0 936.6h0.9M351.1 926.8h0.9M362.7 913.5h0.9M339.3 915.0h0.9M339.5 919.6h0.9M350.9 926.5h0.9M351.0 917.0h0.9M353.1 919.7h0.9M360.3 915.2h0.9M344.6 929.1h0.9M327.8 933.2h0.9M342.5 916.9h0.9M353.1 910.5h0.9M347.7 927.8h0.9M350.9 924.2h0.9M344.9 922.8h0.9M353.4 921.6h0.9M349.2 911.3h0.9M340.5 921.1h0.9M350.4 918.4h0.9M341.5 924.5h0.9M358.4 900.5h0.9M349.0 917.3h0.9M344.3 908.1h0.9M334.1 931.4h0.9M350.0 917.1h0.9M355.1 914.8h0.9M355.4 912.9h0.9M354.3 914.0h0.9M326.1 935.0h0.9M353.5 920.8h0.9M343.9 916.8h0.9M338.3 917.9h0.9M340.3 921.2h0.9M356.0 915.8h0.9M343.2 926.2h0.9M340.1 921.9h0.9M341.4 927.6h0.9M342.0 916.5h0.9M348.1 914.6h0.9M348.6 931.4h0.9M349.2 918.5h0.9M349.6 914.7h0.9M355.5 911.1h0.9M348.6 912.3h0.9M347.4 920.7h0.9M352.8 914.2h0.9M345.6 919.4h0.9M351.9 920.3h0.9M339.1 936.8h0.9M352.4 918.4h0.9M348.4 917.3h0.9M338.7 920.7h0.9M346.9 917.4h0.9M351.6 919.2h0.9M346.7 915.8h0.9M341.4 915.1h0.9M339.1 927.6h0.9M345.3 915.6h0.9M326.3 915.9h0.9M359.8 918.5h0.9M354.5 907.5h0.9M351.5 910.2h0.9M344.9 916.6h0.9M355.7 912.4h0.9M315.1 938.7h0.9M353.3 921.8h0.9M350.4 926.5h0.9M342.8 926.2h0.9M339.1 936.0h0.9M346.7 909.0h0.9M334.3 932.3h0.9M354.4 916.3h0.9M341.9 922.1h0.9M348.2 912.6h0.9M349.5 917.6h0.9M326.1 944.9h0.9M354.8 909.1h0.9M347.7 919.1h0.9M347.0 911.2h0.9M339.3 933.0h0.9M336.0 922.4h0.9M333.0 924.9h0.9M351.7 913.1h0.9M359.5 907.3h0.9M340.1 925.4h0.9M347.6 921.5h0.9M349.3 907.5h0.9M355.0 907.7h0.9M357.5 911.8h0.9M347.4 918.2h0.9M343.3 920.5h0.9M350.2 916.4h0.9M354.1 915.7h0.9M363.6 911.9h0.9M350.0 931.2h0.9M352.0 914.3h0.9M349.9 919.3h0.9M348.4 920.4h0.9M345.7 915.7h0.9M345.6 920.2h0.9M351.3 904.7h0.9M353.4 904.0h0.9M347.3 912.5h0.9M340.1 923.4h0.9M357.2 917.6h0.9M317.3 932.8h0.9M351.9 921.7h0.9M342.3 916.0h0.9M361.4 908.1h0.9M349.2 920.5h0.9M338.7 939.7h0.9M346.3 920.7h0.9M349.2 920.4h0.9M363.0 916.3h0.9M343.9 917.9h0.9M349.4 923.6h0.9M338.5 933.4h0.9M339.3 938.5h0.9M343.7 914.9h0.9M339.4 927.0h0.9M360.1 914.9h0.9M348.0 920.5h0.9M340.0 912.9h0.9M343.7 916.7h0.9M334.7 924.8h0.9M339.3 937.2h0.9M330.7 932.5h0.9M349.7 921.8h0.9M347.2 924.6h0.9M347.0 919.8h0.9M343.8 909.2h0.9M356.2 912.7h0.9M348.2 913.4h0.9M353.7 921.1h0.9M351.6 918.9h0.9M339.6 922.6h0.9M351.3 915.2h0.9M345.2 925.7h0.9M340.8 928.5h0.9M351.7 911.5h0.9M363.1 911.8h0.9M345.9 920.6h0.9M345.2 919.0h0.9M348.6 918.9h0.9M347.6 921.9h0.9M340.5 927.7h0.9M342.0 915.5h0.9M353.8 927.4h0.9M354.8 919.3h0.9M347.7 920.6h0.9M345.8 922.6h0.9M348.8 906.1h0.9M359.3 905.9h0.9M352.0 915.2h0.9M342.2 928.0h0.9M356.7 913.4h0.9M354.2 918.0h0.9M341.8 918.5h0.9M341.9 916.1h0.9M359.0 914.7h0.9M352.1 918.4h0.9M353.6 917.6h0.9M353.9 911.5h0.9M350.4 916.3h0.9M354.6 906.4h0.9M350.6 907.8h0.9M345.6 916.3h0.9M354.7 908.3h0.9M346.5 923.6h0.9M358.7 910.0h0.9M337.0 923.6h0.9M359.0 916.2h0.9M332.0 925.8h0.9M345.8 913.4h0.9M353.9 910.5h0.9M339.6 922.4h0.9M359.1 918.3h0.9M355.4 916.0h0.9M334.1 923.9h0.9M346.0 915.1h0.9M348.2 912.4h0.9M349.5 925.5h0.9M347.2 919.8h0.9M344.0 916.2h0.9M337.1 926.9h0.9M338.5 930.1h0.9M331.8 929.0h0.9M349.2 911.5h0.9M336.1 926.2h0.9M354.0 912.8h0.9M347.4 916.3h0.9M346.7 919.7h0.9M349.9 909.5h0.9M361.8 910.5h0.9M352.9 918.9h0.9M361.5 911.1h0.9M352.0 917.3h0.9M360.2 914.9h0.9M365.3 909.5h0.9M353.7 919.4h0.9M341.1 932.3h0.9M353.9 917.7h0.9M353.7 911.4h0.9M351.2 909.0h0.9M357.3 905.5h0.9M353.8 915.2h0.9M348.5 921.4h0.9M335.9 938.4h0.9M341.7 917.2h0.9M343.7 920.7h0.9M344.7 927.7h0.9M352.9 913.2h0.9M342.4 928.4h0.9M344.4 921.9h0.9M352.3 914.9h0.9M346.1 922.7h0.9M332.6 923.7h0.9M352.2 907.8h0.9M344.9 920.3h0.9M335.3 927.9h0.9M341.1 925.7h0.9M347.9 909.7h0.9M351.5 919.2h0.9M353.5 914.1h0.9M339.0 911.5h0.9M347.2 917.2h0.9M354.9 922.4h0.9M351.3 910.8h0.9M359.0 925.4h0.9M360.8 904.5h0.9M342.6 925.4h0.9M352.1 919.5h0.9" stroke="#3a3a3a" stroke-width="0.9" stroke-opacity="0.45" fill="none"/>
<path d="M351.9 916.1h0.9M361.4 909.3h0.9M341.2 923.4h0.9M329.3 938.3h0.9M353.9 914.4h0.9M358.0 913.7h0.9M354.8 911.5h0.9M355.8 922.4h0.9M350.8 918.3h0.9M361.1 913.7h0.9M363.4 912.7h0.9M345.7 919.4h0.9M333.2 931.9h0.9M348.3 921.3h0.9M347.6 938.8h0.9M328.0 944.5h0.9M347.1 918.0h0.9M344.3 922.0h0.9M367.3 911.4h0.9M333.5 920.6h0.9M343.6 920.8h0.9M338.6 933.1h0.9M354.0 912.7h0.9M354.1 913.4h0.9M341.4 926.4h0.9M349.9 925.0h0.9M345.5 919.6h0.9M341.2 919.0h0.9M353.4 915.5h0.9M351.4 908.4h0.9M348.6 920.3h0.9M342.9 910.8h0.9M345.9 933.7h0.9M336.8 923.7h0.9M346.1 917.1h0.9M360.1 915.1h0.9M355.8 918.0h0.9M352.6 915.3h0.9M352.6 935.5h0.9M355.3 921.7h0.9M357.7 916.4h0.9M356.3 901.9h0.9M329.5 922.5h0.9M353.8 923.7h0.9M337.5 924.5h0.9M329.0 920.1h0.9M340.3 931.8h0.9M354.7 914.8h0.9M349.2 909.4h0.9M348.7 910.7h0.9M357.5 909.2h0.9M349.9 919.2h0.9M358.6 942.3h0.9M351.7 920.9h0.9M347.8 915.4h0.9M353.1 926.3h0.9M331.5 928.4h0.9M341.7 920.9h0.9M352.3 920.5h0.9M348.8 917.5h0.9M351.1 910.6h0.9M342.0 924.3h0.9M341.1 922.2h0.9M357.4 914.5h0.9M315.2 932.4h0.9M361.4 915.7h0.9M332.8 951.6h0.9M338.7 926.7h0.9M340.0 920.3h0.9M350.9 919.6h0.9M355.0 921.8h0.9M335.2 917.8h0.9M337.2 935.1h0.9M347.2 917.2h0.9M348.6 914.7h0.9M336.0 917.3h0.9M355.6 928.0h0.9M347.9 918.6h0.9M353.9 922.0h0.9M343.1 916.4h0.9M344.6 917.9h0.9M352.9 917.1h0.9M349.3 921.7h0.9M345.0 915.3h0.9M353.2 924.6h0.9M345.4 915.6h0.9M358.1 913.3h0.9M350.3 911.5h0.9M321.6 942.8h0.9M337.5 916.7h0.9M340.9 917.0h0.9M347.8 919.2h0.9M342.5 926.7h0.9M336.8 922.9h0.9M339.1 920.8h0.9M350.4 920.9h0.9M355.7 914.8h0.9M355.8 914.9h0.9M349.8 917.4h0.9M339.1 924.7h0.9M348.5 914.7h0.9M355.3 918.0h0.9M356.8 910.5h0.9M348.5 913.4h0.9M367.8 906.8h0.9M341.5 929.4h0.9M341.3 917.0h0.9M343.5 919.3h0.9M358.1 907.5h0.9M348.1 921.8h0.9M351.4 921.4h0.9M350.7 917.4h0.9M357.9 907.8h0.9M347.1 937.7h0.9M340.1 928.6h0.9M352.5 915.8h0.9M345.3 917.7h0.9M337.2 926.7h0.9M343.7 914.5h0.9M348.6 917.8h0.9M356.6 906.2h0.9M351.0 919.3h0.9M329.5 916.7h0.9M351.9 921.5h0.9M350.5 915.2h0.9M344.2 918.3h0.9M346.2 920.6h0.9M341.2 916.1h0.9M350.5 910.5h0.9M344.9 916.1h0.9M344.7 924.7h0.9M354.5 914.8h0.9M355.4 912.1h0.9M347.2 916.4h0.9M333.9 930.4h0.9M341.2 918.5h0.9M350.5 920.6h0.9M350.4 912.6h0.9M346.6 914.5h0.9M347.9 918.3h0.9M345.6 922.8h0.9M349.3 915.5h0.9M340.0 942.0h0.9M357.9 916.8h0.9M348.6 927.4h0.9M352.2 908.8h0.9M349.0 920.6h0.9M346.1 907.6h0.9M354.4 910.5h0.9M345.2 912.7h0.9M347.6 904.5h0.9M317.6 933.7h0.9M357.7 910.0h0.9M357.8 917.4h0.9M345.7 913.4h0.9M339.6 922.3h0.9M334.0 920.4h0.9M353.0 917.9h0.9M352.2 919.5h0.9M363.6 914.4h0.9M316.0 935.6h0.9M359.9 907.1h0.9M354.7 909.7h0.9M354.1 914.9h0.9M353.0 910.4h0.9M345.1 918.5h0.9M342.1 923.0h0.9M342.6 924.5h0.9M349.9 927.4h0.9M342.8 921.2h0.9M362.5 912.2h0.9M353.0 912.8h0.9M348.9 915.8h0.9M345.0 915.1h0.9M354.1 917.4h0.9M350.6 913.5h0.9M348.1 944.0h0.9M343.7 922.5h0.9M340.0 920.4h0.9M346.5 917.3h0.9M342.8 918.7h0.9M348.4 922.7h0.9M345.2 918.1h0.9M326.9 916.1h0.9M348.2 926.6h0.9M351.3 917.1h0.9M364.6 908.5h0.9M363.0 910.4h0.9M357.4 911.0h0.9M345.9 923.5h0.9M356.5 915.6h0.9M339.0 926.9h0.9M334.8 932.9h0.9M349.4 911.6h0.9M349.0 921.0h0.9M339.5 923.2h0.9M353.3 912.9h0.9M340.7 917.0h0.9M355.9 918.7h0.9M342.5 919.2h0.9M346.8 921.0h0.9M347.6 914.4h0.9M348.9 913.8h0.9M348.2 919.0h0.9M356.4 912.4h0.9M355.8 916.5h0.9M346.4 918.5h0.9M335.7 924.6h0.9M354.1 909.8h0.9M339.0 913.9h0.9M344.9 945.0h0.9M343.7 929.1h0.9M362.7 914.0h0.9M348.2 917.2h0.9M342.8 920.2h0.9M312.6 919.1h0.9M348.4 913.9h0.9M359.1 909.2h0.9M337.3 928.6h0.9M341.5 931.0h0.9M356.6 916.5h0.9M358.6 914.0h0.9M333.4 942.1h0.9M356.2 912.6h0.9M330.7 937.3h0.9M334.5 914.1h0.9M344.3 924.5h0.9M346.8 911.3h0.9M350.6 914.8h0.9M347.8 920.0h0.9M346.4 922.4h0.9M353.6 924.3h0.9M356.3 929.3h0.9M342.6 924.1h0.9M325.0 922.2h0.9M357.3 919.2h0.9M367.6 915.3h0.9M356.1 915.3h0.9M360.0 912.8h0.9M343.0 915.1h0.9M338.1 934.6h0.9M343.7 915.1h0.9M335.5 925.3h0.9M355.6 912.3h0.9M364.5 916.7h0.9M343.2 924.1h0.9M342.0 925.7h0.9M351.0 914.5h0.9M353.1 923.4h0.9M358.5 915.2h0.9M354.4 925.7h0.9M358.9 922.9h0.9M361.9 901.8h0.9M340.4 918.2h0.9M348.0 914.6h0.9M358.4 914.0h0.9M315.9 934.7h0.9M347.1 931.2h0.9M357.6 914.9h0.9M364.2 909.7h0.9M344.8 910.9h0.9M358.1 908.3h0.9M334.3 931.4h0.9M351.2 919.9h0.9M354.8 920.5h0.9M354.2 917.8h0.9M340.8 921.4h0.9M358.8 919.8h0.9M348.2 922.8h0.9M345.9 921.5h0.9M323.6 932.3h0.9M341.0 927.4h0.9M344.4 920.7h0.9M356.7 920.7h0.9M361.2 914.7h0.9M343.0 923.7h0.9M350.4 918.7h0.9M353.8 911.7h0.9M332.4 932.8h0.9M348.7 923.8h0.9M344.2 916.3h0.9M344.7 907.1h0.9M348.0 918.2h0.9M356.9 922.4h0.9M348.0 925.2h0.9M344.1 912.6h0.9M341.5 926.5h0.9M356.0 919.7h0.9M341.4 926.4h0.9M352.2 911.7h0.9M319.8 936.8h0.9M338.1 916.1h0.9M337.3 933.8h0.9M329.2 921.0h0.9M347.9 914.8h0.9M350.9 921.7h0.9M351.4 912.1h0.9M356.0 906.7h0.9M349.0 913.7h0.9M356.0 906.4h0.9M352.5 913.9h0.9M341.4 920.4h0.9M339.0 922.9h0.9M354.5 910.3h0.9M338.8 925.6h0.9M347.9 921.2h0.9M347.0 919.1h0.9M353.4 909.1h0.9M350.1 910.2h0.9M351.2 915.6h0.9M346.0 923.6h0.9M350.8 914.6h0.9M354.1 913.3h0.9M352.0 921.2h0.9M353.7 918.9h0.9M354.7 920.0h0.9M350.9 916.8h0.9M351.1 914.9h0.9M329.0 937.5h0.9M341.7 926.6h0.9M348.5 908.0h0.9M343.5 919.2h0.9M351.4 918.1h0.9M353.8 911.9h0.9M350.7 909.9h0.9M346.2 920.7h0.9" stroke="#3a3a3a" stroke-width="0.9" stroke-opacity="0.45" fill="none"/>
<rect x="308.75" y="897.2" width="90" height="59.05" fill="none" stroke="#000" stroke-width="1"/>
<line x1="328.75" y1="897.2" x2="328.75" y2="956.25" stroke="#000" stroke-width="1"/>
<line x1="308.75" y1="931.25" x2="398.75" y2="931.25" stroke="#000" stroke-width="1"/>
<line x1="307.25" y1="942.52" x2="308.75" y2="942.52" stroke="#000" stroke-width="0.8"/>
<line x1="307.25" y1="928.78" x2="308.75" y2="928.78" stroke="#000" stroke-width="0.8"/>
<line x1="307.25" y1="915.05" x2="308.75" y2="915.05" stroke="#000" stroke-width="0.8"/>
<line x1="307.25" y1="901.32" x2="308.75" y2="901.32" stroke="#000" stroke-width="0.8"/>
<line x1="308.75" y1="956.25" x2="308.75" y2="957.85" stroke="#000" stroke-width="0.8"/>
<line x1="315.52" y1="956.25" x2="315.52" y2="957.25" stroke="#000" stroke-width="0.8"/>
<line x1="324.48" y1="956.25" x2="324.48" y2="957.25" stroke="#000" stroke-width="0.8"/>
<line x1="331.25" y1="956.25" x2="331.25" y2="957.85" stroke="#000" stroke-width="0.8"/>
<line x1="338.02" y1="956.25" x2="338.02" y2="957.25" stroke="#000" stroke-width="0.8"/>
<line x1="346.98" y1="956.25" x2="346.98" y2="957.25" stroke="#000" stroke-width="0.8"/>
<line x1="353.75" y1="956.25" x2="353.75" y2="957.85" stroke="#000" stroke-width="0.8"/>
<line x1="360.52" y1="956.25" x2="360.52" y2="957.25" stroke="#000" stroke-width="0.8"/>
<line x1="369.48" y1="956.25" x2="369.48" y2="957.25" stroke="#000" stroke-width="0.8"/>
<line x1="376.25" y1="956.25" x2="376.25" y2="957.85" stroke="#000" stroke-width="0.8"/>
<line x1="383.02" y1="956.25" x2="383.02" y2="957.25" stroke="#000" stroke-width="0.8"/>
<line x1="391.98" y1="956.25" x2="391.98" y2="957.25" stroke="#000" stroke-width="0.8"/>
<text x="313" y="909.6" font-size="8.6">4.65%</text>
<text x="365.5" y="909.6" font-size="8.6">82.42%</text>
<text x="370" y="953.8" font-size="8.6">9.29%</text>
</svg>
</body></html>
